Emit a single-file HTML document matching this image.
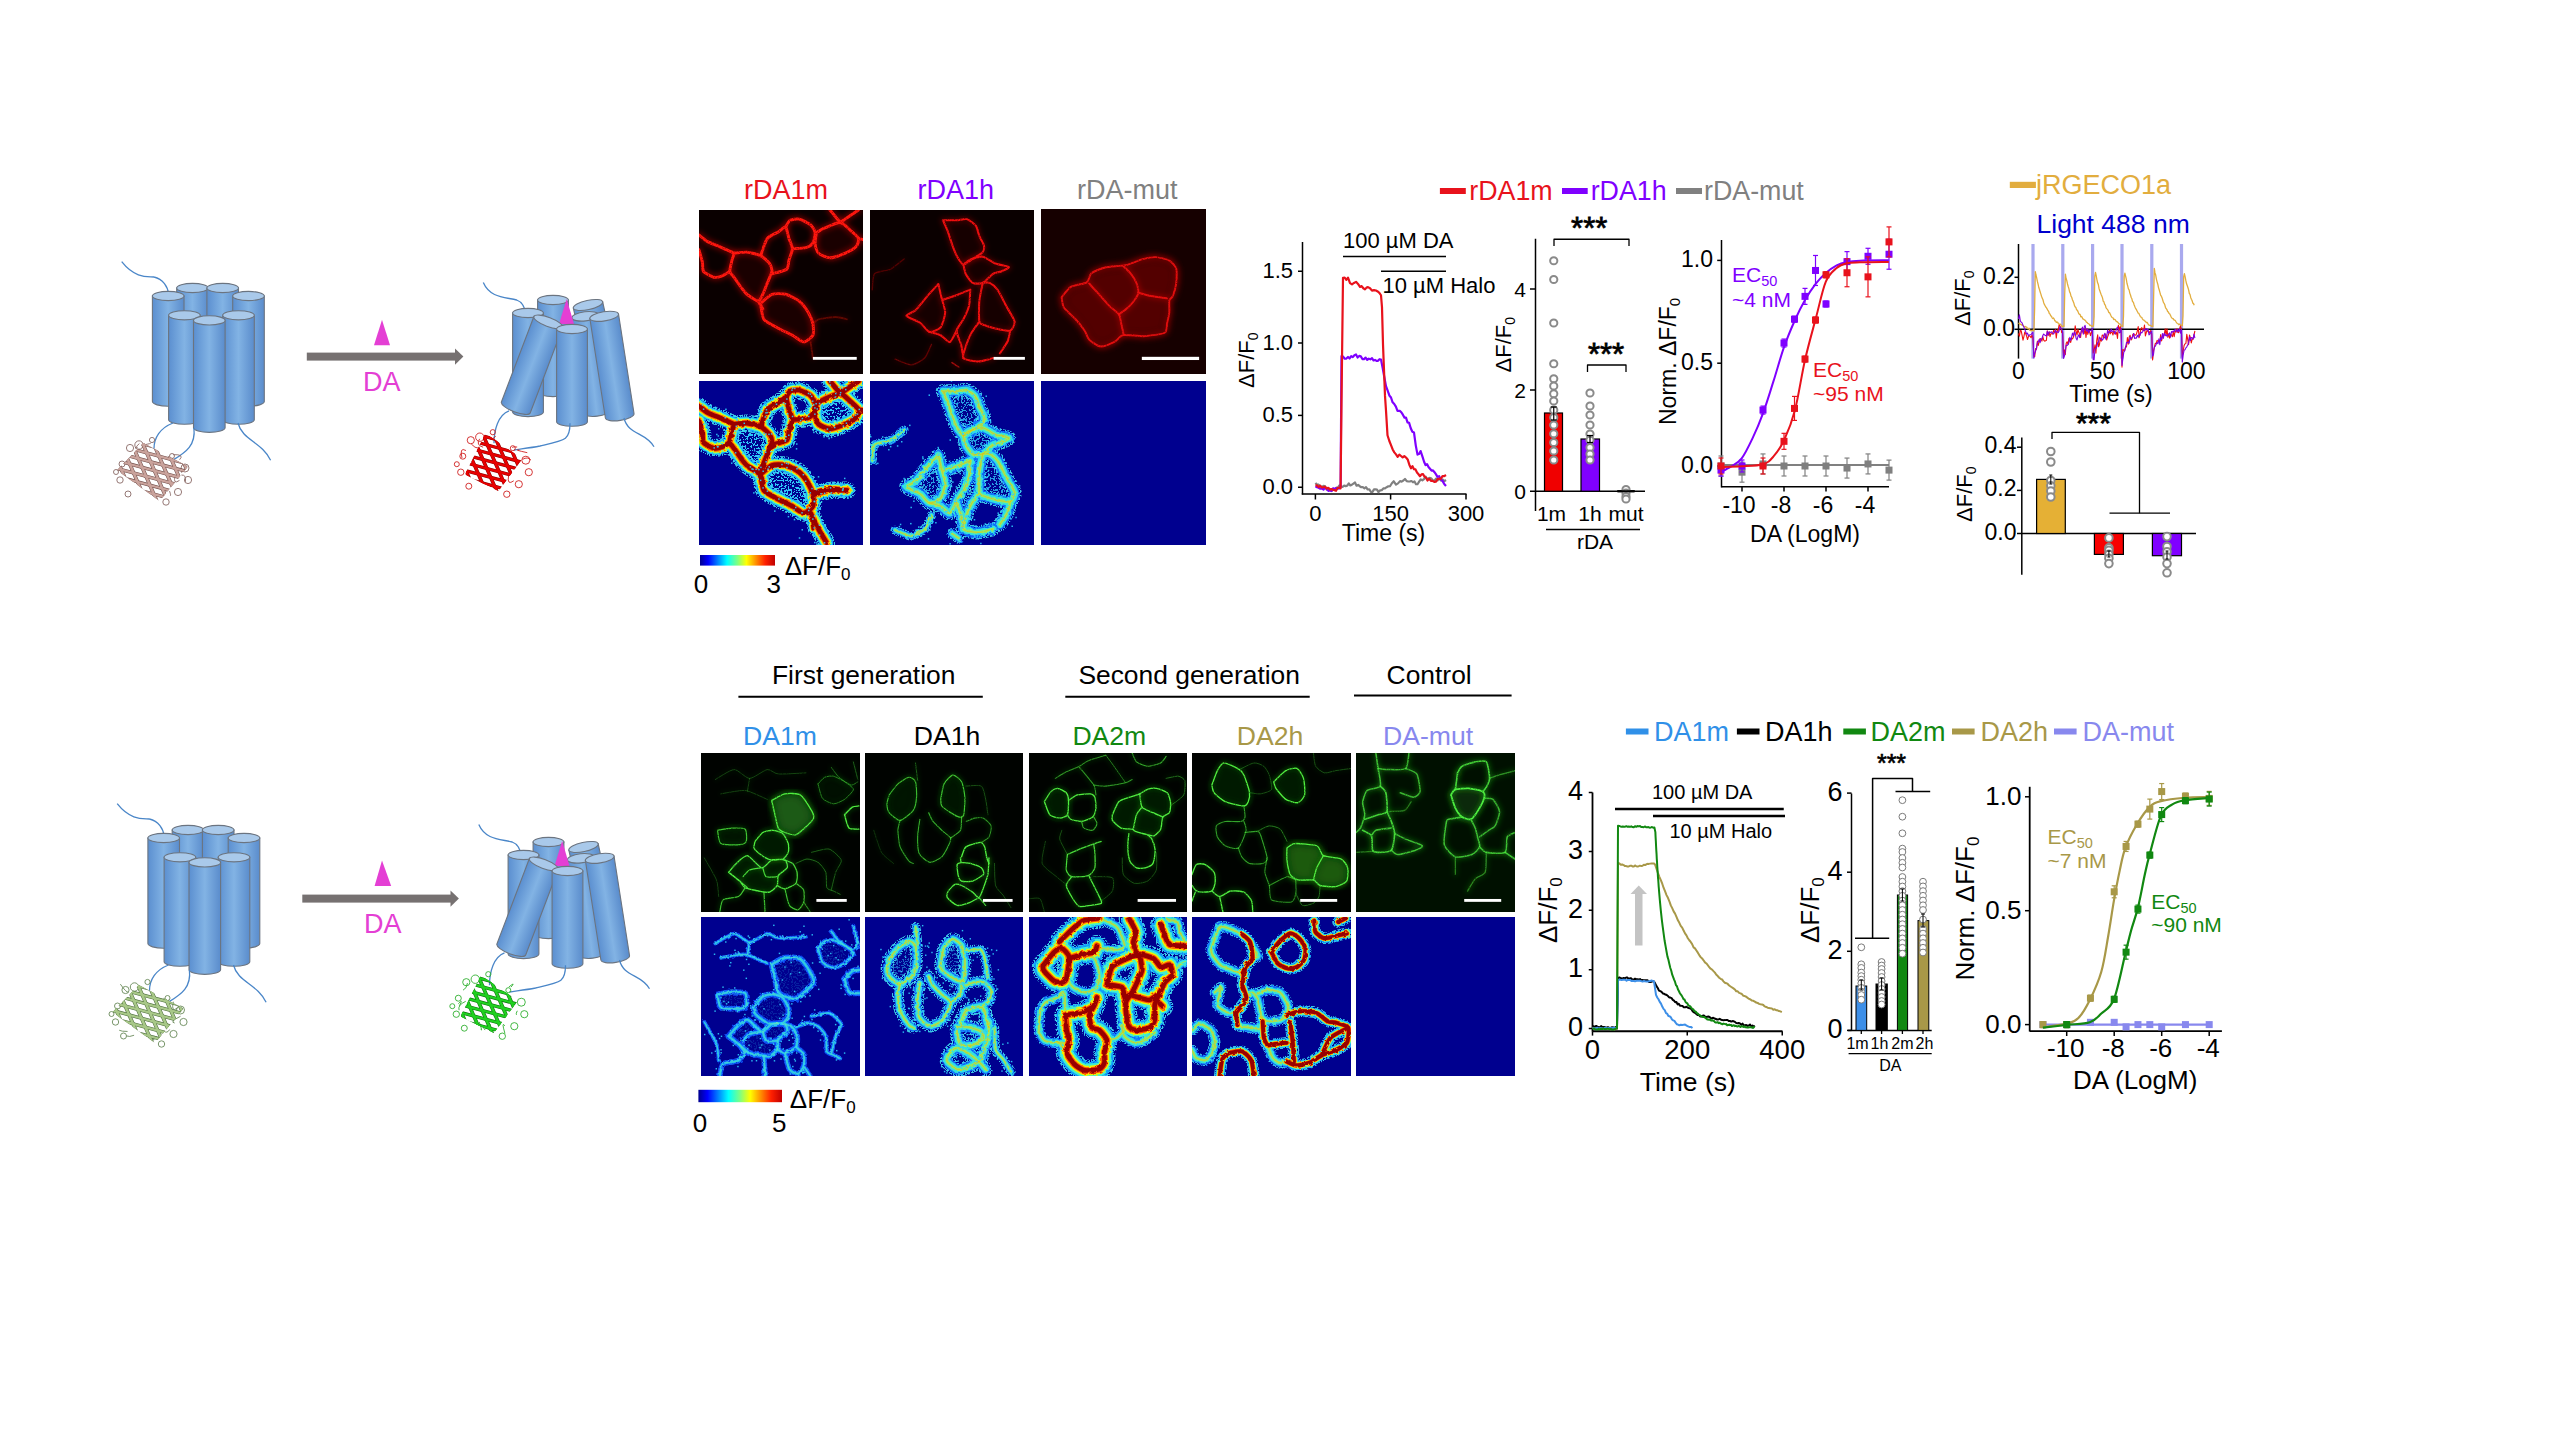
<!DOCTYPE html>
<html><head><meta charset="utf-8"><title>figure</title>
<style>
html,body{margin:0;padding:0;background:#fff;width:2560px;height:1440px;overflow:hidden;}
svg text{font-family:"Liberation Sans", sans-serif;}
</style></head><body>
<svg width="2560" height="1440" viewBox="0 0 2560 1440" style="display:block;font-family:&quot;Liberation Sans&quot;, sans-serif">
<rect width="2560" height="1440" fill="#fff"/>
<defs>
<linearGradient id="jet" x1="0" y1="0" x2="1" y2="0">
<stop offset="0" stop-color="#00008f"/><stop offset="0.11" stop-color="#0000ff"/><stop offset="0.36" stop-color="#00ffff"/>
<stop offset="0.5" stop-color="#80ff80"/><stop offset="0.62" stop-color="#ffff00"/><stop offset="0.87" stop-color="#ff2000"/>
<stop offset="1" stop-color="#c00000"/></linearGradient>
<filter id="blur20" x="-10%" y="-10%" width="120%" height="120%"><feGaussianBlur stdDeviation="22"/></filter>
<filter id="blur30" x="-10%" y="-10%" width="120%" height="120%"><feGaussianBlur stdDeviation="40"/></filter>
<filter id="blur4" x="-10%" y="-10%" width="120%" height="120%"><feGaussianBlur stdDeviation="4"/></filter>
<filter id="rough" x="-10%" y="-10%" width="120%" height="120%"><feTurbulence type="fractalNoise" baseFrequency="0.03" numOctaves="2" seed="3" result="n"/><feDisplacementMap in="SourceGraphic" in2="n" scale="30"/></filter>
<pattern id="spk" width="140" height="140" patternUnits="userSpaceOnUse">
<rect x="12" y="20" width="14" height="14" fill="#30d0ff"/><rect x="70" y="8" width="12" height="12" fill="#40e8e0"/>
<rect x="110" y="55" width="14" height="14" fill="#30c0ff"/><rect x="40" y="70" width="13" height="13" fill="#50f0c0"/>
<rect x="90" y="110" width="14" height="14" fill="#30d0ff"/><rect x="8" y="115" width="12" height="12" fill="#2090ff"/>
<rect x="60" y="40" width="10" height="10" fill="#2080ff"/><rect x="125" y="125" width="10" height="10" fill="#40e0ff"/>
</pattern>
<filter id="speckA" x="0" y="0" width="1440" height="1440" filterUnits="userSpaceOnUse"><feTurbulence type="fractalNoise" baseFrequency="0.06" numOctaves="2" seed="5" result="t"/>
<feColorMatrix in="t" type="matrix" values="0 0 0 0 0  0 0 0 0 0  0 0 0 0 0  1 0 0 0 0" result="ta"/>
<feComponentTransfer in="ta" result="m"><feFuncA type="discrete" tableValues="0 0 0 0 0 0 0 0 0 0 0 1 1 1 1 1 1 1 1 1"/></feComponentTransfer>
<feComposite in="SourceGraphic" in2="m" operator="in"/></filter>
<filter id="speckB" x="0" y="0" width="1440" height="1440" filterUnits="userSpaceOnUse"><feTurbulence type="fractalNoise" baseFrequency="0.07" numOctaves="2" seed="9" result="t"/>
<feColorMatrix in="t" type="matrix" values="0 0 0 0 0  0 0 0 0 0  0 0 0 0 0  1 0 0 0 0" result="ta"/>
<feComponentTransfer in="ta" result="m"><feFuncA type="discrete" tableValues="0 0 0 0 0 1 1 1 1 1"/></feComponentTransfer>
<feComposite in="SourceGraphic" in2="m" operator="in"/></filter>
<filter id="grain" x="0" y="0" width="1440" height="1440" filterUnits="userSpaceOnUse"><feGaussianBlur in="SourceGraphic" stdDeviation="4" result="b"/>
<feTurbulence type="fractalNoise" baseFrequency="0.09" numOctaves="2" seed="4" result="t"/>
<feColorMatrix in="t" type="matrix" values="0 0 0 0 0  0 0 0 0 0  0 0 0 0 0  2.0 0 0 0 0.0" result="m"/>
<feComposite in="b" in2="m" operator="in"/></filter>
</defs>
<path d="M121.7 261.7 C136 280 150 276 154 277 C163 279 168 287 168.6 294.2" fill="none" stroke="#4a86c8" stroke-width="1.3"/><linearGradient id="cg1" gradientUnits="userSpaceOnUse" x1="176.7" y1="288" x2="208.3" y2="288"><stop offset="0" stop-color="#5b8fd0"/><stop offset="0.5" stop-color="#82b3e4"/><stop offset="1" stop-color="#5a8ccc"/></linearGradient><path d="M176.7 288 L176.7 395 A15.8 4.6 360 0 0 208.3 395 L208.3 288 Z" fill="url(#cg1)" stroke="#6b7480" stroke-width="1.1"/><ellipse cx="192.5" cy="288" rx="15.8" ry="4.6" transform="rotate(360 192.5 288)" fill="#a9c9ea" stroke="#6b7480" stroke-width="1.1"/><linearGradient id="cg2" gradientUnits="userSpaceOnUse" x1="206.9" y1="288" x2="238.5" y2="288"><stop offset="0" stop-color="#5b8fd0"/><stop offset="0.5" stop-color="#82b3e4"/><stop offset="1" stop-color="#5a8ccc"/></linearGradient><path d="M206.9 288 L206.9 395 A15.8 4.6 360 0 0 238.5 395 L238.5 288 Z" fill="url(#cg2)" stroke="#6b7480" stroke-width="1.1"/><ellipse cx="222.7" cy="288" rx="15.8" ry="4.6" transform="rotate(360 222.7 288)" fill="#a9c9ea" stroke="#6b7480" stroke-width="1.1"/><linearGradient id="cg3" gradientUnits="userSpaceOnUse" x1="152.4" y1="296" x2="184" y2="296"><stop offset="0" stop-color="#5b8fd0"/><stop offset="0.5" stop-color="#82b3e4"/><stop offset="1" stop-color="#5a8ccc"/></linearGradient><path d="M152.4 296 L152.4 401.6 A15.8 4.6 360 0 0 184 401.6 L184 296 Z" fill="url(#cg3)" stroke="#6b7480" stroke-width="1.1"/><ellipse cx="168.2" cy="296" rx="15.8" ry="4.6" transform="rotate(360 168.2 296)" fill="#a9c9ea" stroke="#6b7480" stroke-width="1.1"/><linearGradient id="cg4" gradientUnits="userSpaceOnUse" x1="232.7" y1="296" x2="264.3" y2="296"><stop offset="0" stop-color="#5b8fd0"/><stop offset="0.5" stop-color="#82b3e4"/><stop offset="1" stop-color="#5a8ccc"/></linearGradient><path d="M232.7 296 L232.7 401.6 A15.8 4.6 360 0 0 264.3 401.6 L264.3 296 Z" fill="url(#cg4)" stroke="#6b7480" stroke-width="1.1"/><ellipse cx="248.5" cy="296" rx="15.8" ry="4.6" transform="rotate(360 248.5 296)" fill="#a9c9ea" stroke="#6b7480" stroke-width="1.1"/><linearGradient id="cg5" gradientUnits="userSpaceOnUse" x1="168.6" y1="315.3" x2="200.2" y2="315.3"><stop offset="0" stop-color="#5b8fd0"/><stop offset="0.5" stop-color="#82b3e4"/><stop offset="1" stop-color="#5a8ccc"/></linearGradient><path d="M168.6 315.3 L168.6 419.7 A15.8 4.6 360 0 0 200.2 419.7 L200.2 315.3 Z" fill="url(#cg5)" stroke="#6b7480" stroke-width="1.1"/><ellipse cx="184.4" cy="315.3" rx="15.8" ry="4.6" transform="rotate(360 184.4 315.3)" fill="#a9c9ea" stroke="#6b7480" stroke-width="1.1"/><linearGradient id="cg6" gradientUnits="userSpaceOnUse" x1="222.7" y1="315.3" x2="254.3" y2="315.3"><stop offset="0" stop-color="#5b8fd0"/><stop offset="0.5" stop-color="#82b3e4"/><stop offset="1" stop-color="#5a8ccc"/></linearGradient><path d="M222.7 315.3 L222.7 419.7 A15.8 4.6 360 0 0 254.3 419.7 L254.3 315.3 Z" fill="url(#cg6)" stroke="#6b7480" stroke-width="1.1"/><ellipse cx="238.5" cy="315.3" rx="15.8" ry="4.6" transform="rotate(360 238.5 315.3)" fill="#a9c9ea" stroke="#6b7480" stroke-width="1.1"/><linearGradient id="cg7" gradientUnits="userSpaceOnUse" x1="193.5" y1="320.4" x2="225.1" y2="320.4"><stop offset="0" stop-color="#5b8fd0"/><stop offset="0.5" stop-color="#82b3e4"/><stop offset="1" stop-color="#5a8ccc"/></linearGradient><path d="M193.5 320.4 L193.5 427.8 A15.8 4.6 360 0 0 225.1 427.8 L225.1 320.4 Z" fill="url(#cg7)" stroke="#6b7480" stroke-width="1.1"/><ellipse cx="209.3" cy="320.4" rx="15.8" ry="4.6" transform="rotate(360 209.3 320.4)" fill="#a9c9ea" stroke="#6b7480" stroke-width="1.1"/><path d="M173 423 C160 428 154 438 154 448.6" fill="none" stroke="#4a86c8" stroke-width="1.3"/><path d="M193.9 428 C196 445 186 452 174 459.4" fill="none" stroke="#4a86c8" stroke-width="1.3"/><path d="M238 423 C242 440 262 442 270.6 460.3" fill="none" stroke="#4a86c8" stroke-width="1.3"/><clipPath id="bclip1"><path d="M143.3 443 L188 466.6 L159.6 501 L117 470.2 Z"/></clipPath><g fill="none" stroke="#8a6a66" stroke-width="0.9"><circle cx="130" cy="448" r="3.6"/><circle cx="139" cy="445" r="4.2"/><circle cx="122" cy="464" r="3"/><circle cx="120" cy="480" r="3.2"/><circle cx="128" cy="494" r="3"/><circle cx="185" cy="468" r="4"/><circle cx="188" cy="480" r="3.6"/><circle cx="178" cy="492" r="3.6"/><circle cx="166" cy="502" r="3.2"/><circle cx="152" cy="440" r="2.6"/><circle cx="172" cy="456" r="2.5"/><circle cx="116" cy="472" r="2.5"/><path d="M154.27 495.93 q 0.62 -1.82 1.87 2.26"/><path d="M179.49 480.4 q -6.82 4.72 -4.33 -4.78"/><path d="M181.99 469.28 q -0.42 4.71 -0.43 2.5"/><path d="M169.54 491.09 q 1.89 5.15 0.42 4.34"/><path d="M137.78 447.11 q -6.1 3.62 1.64 -3.58"/><path d="M181.43 475.03 q 5.12 -0.38 3.94 6.82"/><path d="M145.29 444.66 q 5.9 -1.47 5.42 -1"/><path d="M179.57 459.76 q 5.3 -5.64 -6.55 -5.09"/></g><g clip-path="url(#bclip1)" stroke-linecap="butt"><line x1="101.94" y1="425.03" x2="217.86" y2="456.23" stroke="#6e4a46" stroke-width="3.3"/><line x1="99.97" y1="432.38" x2="215.89" y2="463.58" stroke="#6e4a46" stroke-width="3.3"/><line x1="97.99" y1="439.72" x2="213.91" y2="470.92" stroke="#6e4a46" stroke-width="3.3"/><line x1="96.02" y1="447.06" x2="211.94" y2="478.26" stroke="#6e4a46" stroke-width="3.3"/><line x1="94.04" y1="454.4" x2="209.96" y2="485.6" stroke="#6e4a46" stroke-width="3.3"/><line x1="92.06" y1="461.74" x2="207.98" y2="492.94" stroke="#6e4a46" stroke-width="3.3"/><line x1="90.09" y1="469.08" x2="206.01" y2="500.28" stroke="#6e4a46" stroke-width="3.3"/><line x1="88.11" y1="476.42" x2="204.03" y2="507.62" stroke="#6e4a46" stroke-width="3.3"/><line x1="86.14" y1="483.77" x2="202.06" y2="514.97" stroke="#6e4a46" stroke-width="3.3"/><line x1="102.35" y1="426.24" x2="150.35" y2="536.16" stroke="#6e4a46" stroke-width="3.6"/><line x1="111.51" y1="422.24" x2="159.51" y2="532.16" stroke="#6e4a46" stroke-width="3.6"/><line x1="120.67" y1="418.24" x2="168.67" y2="528.16" stroke="#6e4a46" stroke-width="3.6"/><line x1="129.83" y1="414.24" x2="177.83" y2="524.16" stroke="#6e4a46" stroke-width="3.6"/><line x1="138.99" y1="410.24" x2="186.99" y2="520.16" stroke="#6e4a46" stroke-width="3.6"/><line x1="148.15" y1="406.24" x2="196.15" y2="516.16" stroke="#6e4a46" stroke-width="3.6"/><line x1="157.31" y1="402.24" x2="205.31" y2="512.16" stroke="#6e4a46" stroke-width="3.6"/><line x1="101.94" y1="425.03" x2="217.86" y2="456.23" stroke="#caa39c" stroke-width="2.3"/><line x1="99.97" y1="432.38" x2="215.89" y2="463.58" stroke="#caa39c" stroke-width="2.3"/><line x1="97.99" y1="439.72" x2="213.91" y2="470.92" stroke="#caa39c" stroke-width="2.3"/><line x1="96.02" y1="447.06" x2="211.94" y2="478.26" stroke="#caa39c" stroke-width="2.3"/><line x1="94.04" y1="454.4" x2="209.96" y2="485.6" stroke="#caa39c" stroke-width="2.3"/><line x1="92.06" y1="461.74" x2="207.98" y2="492.94" stroke="#caa39c" stroke-width="2.3"/><line x1="90.09" y1="469.08" x2="206.01" y2="500.28" stroke="#caa39c" stroke-width="2.3"/><line x1="88.11" y1="476.42" x2="204.03" y2="507.62" stroke="#caa39c" stroke-width="2.3"/><line x1="86.14" y1="483.77" x2="202.06" y2="514.97" stroke="#caa39c" stroke-width="2.3"/><line x1="102.35" y1="426.24" x2="150.35" y2="536.16" stroke="#caa39c" stroke-width="2.6"/><line x1="111.51" y1="422.24" x2="159.51" y2="532.16" stroke="#caa39c" stroke-width="2.6"/><line x1="120.67" y1="418.24" x2="168.67" y2="528.16" stroke="#caa39c" stroke-width="2.6"/><line x1="129.83" y1="414.24" x2="177.83" y2="524.16" stroke="#caa39c" stroke-width="2.6"/><line x1="138.99" y1="410.24" x2="186.99" y2="520.16" stroke="#caa39c" stroke-width="2.6"/><line x1="148.15" y1="406.24" x2="196.15" y2="516.16" stroke="#caa39c" stroke-width="2.6"/><line x1="157.31" y1="402.24" x2="205.31" y2="512.16" stroke="#caa39c" stroke-width="2.6"/></g><rect x="306.8" y="352.6" width="150" height="8" fill="#767171"/><path d="M455 348.5 L463.4 356.6 L455 364.7 Z" fill="#767171"/><path d="M382 319.7 L374 345.3 L390 345.3 Z" fill="#e43fd4"/><text x="363" y="390.7" font-size="27" fill="#e43fd4" text-anchor="start">DA</text><path d="M483.3 282.5 C490 298 505 297 516.7 300 C522 302 525 308 525.8 314" fill="none" stroke="#4a86c8" stroke-width="1.3"/><linearGradient id="cg8" gradientUnits="userSpaceOnUse" x1="573.35" y1="308.22" x2="602.65" y2="301.78"><stop offset="0" stop-color="#5b8fd0"/><stop offset="0.5" stop-color="#82b3e4"/><stop offset="1" stop-color="#5a8ccc"/></linearGradient><path d="M573.35 308.22 L595.35 408.22 A15 4.6 347.59 0 0 624.65 401.78 L602.65 301.78 Z" fill="url(#cg8)" stroke="#6b7480" stroke-width="1.1"/><ellipse cx="588" cy="305" rx="15" ry="4.6" transform="rotate(347.59 588 305)" fill="#a9c9ea" stroke="#6b7480" stroke-width="1.1"/><linearGradient id="cg9" gradientUnits="userSpaceOnUse" x1="537.6" y1="300" x2="568.4" y2="300"><stop offset="0" stop-color="#5b8fd0"/><stop offset="0.5" stop-color="#82b3e4"/><stop offset="1" stop-color="#5a8ccc"/></linearGradient><path d="M537.6 300 L537.6 392 A15.4 4.6 360 0 0 568.4 392 L568.4 300 Z" fill="url(#cg9)" stroke="#6b7480" stroke-width="1.1"/><ellipse cx="553" cy="300" rx="15.4" ry="4.6" transform="rotate(360 553 300)" fill="#a9c9ea" stroke="#6b7480" stroke-width="1.1"/><linearGradient id="cg10" gradientUnits="userSpaceOnUse" x1="512.6" y1="313" x2="543.4" y2="313"><stop offset="0" stop-color="#5b8fd0"/><stop offset="0.5" stop-color="#82b3e4"/><stop offset="1" stop-color="#5a8ccc"/></linearGradient><path d="M512.6 313 L512.6 412 A15.4 4.6 360 0 0 543.4 412 L543.4 313 Z" fill="url(#cg10)" stroke="#6b7480" stroke-width="1.1"/><ellipse cx="528" cy="313" rx="15.4" ry="4.6" transform="rotate(360 528 313)" fill="#a9c9ea" stroke="#6b7480" stroke-width="1.1"/><linearGradient id="cg11" gradientUnits="userSpaceOnUse" x1="571.9" y1="317.9" x2="598.7" y2="314.7"><stop offset="0" stop-color="#5b8fd0"/><stop offset="0.5" stop-color="#82b3e4"/><stop offset="1" stop-color="#5a8ccc"/></linearGradient><path d="M571.9 317.9 L583.3 413.3 A13.5 4.6 353.19 0 0 610.1 410.1 L598.7 314.7 Z" fill="url(#cg11)" stroke="#6b7480" stroke-width="1.1"/><ellipse cx="585.3" cy="316.3" rx="13.5" ry="4.6" transform="rotate(353.19 585.3 316.3)" fill="#a9c9ea" stroke="#6b7480" stroke-width="1.1"/><path d="M566.7 299 L559 324 L574 324 Z" fill="#e43fd4"/><linearGradient id="cg12" gradientUnits="userSpaceOnUse" x1="533.9" y1="316.53" x2="562.7" y2="327.47"><stop offset="0" stop-color="#5b8fd0"/><stop offset="0.5" stop-color="#82b3e4"/><stop offset="1" stop-color="#5a8ccc"/></linearGradient><path d="M533.9 316.53 L501.4 402.03 A15.4 4.6 20.81 0 0 530.2 412.97 L562.7 327.47 Z" fill="url(#cg12)" stroke="#6b7480" stroke-width="1.1"/><ellipse cx="548.3" cy="322" rx="15.4" ry="4.6" transform="rotate(20.81 548.3 322)" fill="#a9c9ea" stroke="#6b7480" stroke-width="1.1"/><linearGradient id="cg13" gradientUnits="userSpaceOnUse" x1="589.87" y1="318.53" x2="618.53" y2="314.07"><stop offset="0" stop-color="#5b8fd0"/><stop offset="0.5" stop-color="#82b3e4"/><stop offset="1" stop-color="#5a8ccc"/></linearGradient><path d="M589.87 318.53 L605.37 418.03 A14.5 4.6 351.15 0 0 634.03 413.57 L618.53 314.07 Z" fill="url(#cg13)" stroke="#6b7480" stroke-width="1.1"/><ellipse cx="604.2" cy="316.3" rx="14.5" ry="4.6" transform="rotate(351.15 604.2 316.3)" fill="#a9c9ea" stroke="#6b7480" stroke-width="1.1"/><linearGradient id="cg14" gradientUnits="userSpaceOnUse" x1="556.6" y1="329" x2="587.4" y2="329"><stop offset="0" stop-color="#5b8fd0"/><stop offset="0.5" stop-color="#82b3e4"/><stop offset="1" stop-color="#5a8ccc"/></linearGradient><path d="M556.6 329 L556.6 421.7 A15.4 4.6 360 0 0 587.4 421.7 L587.4 329 Z" fill="url(#cg14)" stroke="#6b7480" stroke-width="1.1"/><ellipse cx="572" cy="329" rx="15.4" ry="4.6" transform="rotate(360 572 329)" fill="#a9c9ea" stroke="#6b7480" stroke-width="1.1"/><path d="M509 410.8 C498 415 494 430 494 443.3" fill="none" stroke="#4a86c8" stroke-width="1.3"/><path d="M570 423.3 C570 440 566 440 540 446 C530 448 520 449 514 450" fill="none" stroke="#4a86c8" stroke-width="1.3"/><path d="M624 418 C628 435 646 432 654 446.7" fill="none" stroke="#4a86c8" stroke-width="1.3"/><clipPath id="bclip2"><path d="M485.6 433.3 L522.2 458.9 L498.4 491.1 L465 474.4 Z"/></clipPath><g fill="none" stroke="#d02020" stroke-width="0.9"><circle cx="470.8" cy="440.2" r="3.6"/><circle cx="479.8" cy="437.2" r="4.2"/><circle cx="462.8" cy="456.2" r="3"/><circle cx="460.8" cy="472.2" r="3.2"/><circle cx="468.8" cy="486.2" r="3"/><circle cx="525.8" cy="460.2" r="4"/><circle cx="528.8" cy="472.2" r="3.6"/><circle cx="518.8" cy="484.2" r="3.6"/><circle cx="506.8" cy="494.2" r="3.2"/><circle cx="492.8" cy="432.2" r="2.6"/><circle cx="512.8" cy="448.2" r="2.5"/><circle cx="456.8" cy="464.2" r="2.5"/><path d="M471.31 444.06 q 3.39 4.13 7.96 4.32"/><path d="M519.3 450 q -6.59 -0.48 7.98 2.68"/><path d="M517.17 447.03 q -5.42 -0.43 -4.56 0.79"/><path d="M465.98 450.55 q -6.82 -3.97 -3.97 7.49"/><path d="M495.76 436.33 q -4.77 4.16 -6.5 2.11"/><path d="M513.79 480.78 q -6.98 5.2 -5.23 -5.12"/><path d="M522.62 459.33 q 5.21 -2.95 8.31 0.71"/><path d="M479.65 438.83 q -4.13 6.17 3.43 8.4"/></g><g clip-path="url(#bclip2)" stroke-linecap="butt"><line x1="442.74" y1="417.23" x2="558.66" y2="448.43" stroke="#8a0000" stroke-width="3.3"/><line x1="440.77" y1="424.58" x2="556.69" y2="455.78" stroke="#8a0000" stroke-width="3.3"/><line x1="438.79" y1="431.92" x2="554.71" y2="463.12" stroke="#8a0000" stroke-width="3.3"/><line x1="436.82" y1="439.26" x2="552.74" y2="470.46" stroke="#8a0000" stroke-width="3.3"/><line x1="434.84" y1="446.6" x2="550.76" y2="477.8" stroke="#8a0000" stroke-width="3.3"/><line x1="432.86" y1="453.94" x2="548.78" y2="485.14" stroke="#8a0000" stroke-width="3.3"/><line x1="430.89" y1="461.28" x2="546.81" y2="492.48" stroke="#8a0000" stroke-width="3.3"/><line x1="428.91" y1="468.62" x2="544.83" y2="499.82" stroke="#8a0000" stroke-width="3.3"/><line x1="426.94" y1="475.97" x2="542.86" y2="507.17" stroke="#8a0000" stroke-width="3.3"/><line x1="443.15" y1="418.44" x2="491.15" y2="528.36" stroke="#8a0000" stroke-width="3.6"/><line x1="452.31" y1="414.44" x2="500.31" y2="524.36" stroke="#8a0000" stroke-width="3.6"/><line x1="461.47" y1="410.44" x2="509.47" y2="520.36" stroke="#8a0000" stroke-width="3.6"/><line x1="470.63" y1="406.44" x2="518.63" y2="516.36" stroke="#8a0000" stroke-width="3.6"/><line x1="479.79" y1="402.44" x2="527.79" y2="512.36" stroke="#8a0000" stroke-width="3.6"/><line x1="488.95" y1="398.44" x2="536.95" y2="508.36" stroke="#8a0000" stroke-width="3.6"/><line x1="498.11" y1="394.44" x2="546.11" y2="504.36" stroke="#8a0000" stroke-width="3.6"/><line x1="442.74" y1="417.23" x2="558.66" y2="448.43" stroke="#e80000" stroke-width="2.3"/><line x1="440.77" y1="424.58" x2="556.69" y2="455.78" stroke="#e80000" stroke-width="2.3"/><line x1="438.79" y1="431.92" x2="554.71" y2="463.12" stroke="#e80000" stroke-width="2.3"/><line x1="436.82" y1="439.26" x2="552.74" y2="470.46" stroke="#e80000" stroke-width="2.3"/><line x1="434.84" y1="446.6" x2="550.76" y2="477.8" stroke="#e80000" stroke-width="2.3"/><line x1="432.86" y1="453.94" x2="548.78" y2="485.14" stroke="#e80000" stroke-width="2.3"/><line x1="430.89" y1="461.28" x2="546.81" y2="492.48" stroke="#e80000" stroke-width="2.3"/><line x1="428.91" y1="468.62" x2="544.83" y2="499.82" stroke="#e80000" stroke-width="2.3"/><line x1="426.94" y1="475.97" x2="542.86" y2="507.17" stroke="#e80000" stroke-width="2.3"/><line x1="443.15" y1="418.44" x2="491.15" y2="528.36" stroke="#e80000" stroke-width="2.6"/><line x1="452.31" y1="414.44" x2="500.31" y2="524.36" stroke="#e80000" stroke-width="2.6"/><line x1="461.47" y1="410.44" x2="509.47" y2="520.36" stroke="#e80000" stroke-width="2.6"/><line x1="470.63" y1="406.44" x2="518.63" y2="516.36" stroke="#e80000" stroke-width="2.6"/><line x1="479.79" y1="402.44" x2="527.79" y2="512.36" stroke="#e80000" stroke-width="2.6"/><line x1="488.95" y1="398.44" x2="536.95" y2="508.36" stroke="#e80000" stroke-width="2.6"/><line x1="498.11" y1="394.44" x2="546.11" y2="504.36" stroke="#e80000" stroke-width="2.6"/></g>
<g transform="translate(-4.5,542)"><path d="M121.7 261.7 C136 280 150 276 154 277 C163 279 168 287 168.6 294.2" fill="none" stroke="#4a86c8" stroke-width="1.3"/><linearGradient id="cg15" gradientUnits="userSpaceOnUse" x1="176.7" y1="288" x2="208.3" y2="288"><stop offset="0" stop-color="#5b8fd0"/><stop offset="0.5" stop-color="#82b3e4"/><stop offset="1" stop-color="#5a8ccc"/></linearGradient><path d="M176.7 288 L176.7 395 A15.8 4.6 360 0 0 208.3 395 L208.3 288 Z" fill="url(#cg15)" stroke="#6b7480" stroke-width="1.1"/><ellipse cx="192.5" cy="288" rx="15.8" ry="4.6" transform="rotate(360 192.5 288)" fill="#a9c9ea" stroke="#6b7480" stroke-width="1.1"/><linearGradient id="cg16" gradientUnits="userSpaceOnUse" x1="206.9" y1="288" x2="238.5" y2="288"><stop offset="0" stop-color="#5b8fd0"/><stop offset="0.5" stop-color="#82b3e4"/><stop offset="1" stop-color="#5a8ccc"/></linearGradient><path d="M206.9 288 L206.9 395 A15.8 4.6 360 0 0 238.5 395 L238.5 288 Z" fill="url(#cg16)" stroke="#6b7480" stroke-width="1.1"/><ellipse cx="222.7" cy="288" rx="15.8" ry="4.6" transform="rotate(360 222.7 288)" fill="#a9c9ea" stroke="#6b7480" stroke-width="1.1"/><linearGradient id="cg17" gradientUnits="userSpaceOnUse" x1="152.4" y1="296" x2="184" y2="296"><stop offset="0" stop-color="#5b8fd0"/><stop offset="0.5" stop-color="#82b3e4"/><stop offset="1" stop-color="#5a8ccc"/></linearGradient><path d="M152.4 296 L152.4 401.6 A15.8 4.6 360 0 0 184 401.6 L184 296 Z" fill="url(#cg17)" stroke="#6b7480" stroke-width="1.1"/><ellipse cx="168.2" cy="296" rx="15.8" ry="4.6" transform="rotate(360 168.2 296)" fill="#a9c9ea" stroke="#6b7480" stroke-width="1.1"/><linearGradient id="cg18" gradientUnits="userSpaceOnUse" x1="232.7" y1="296" x2="264.3" y2="296"><stop offset="0" stop-color="#5b8fd0"/><stop offset="0.5" stop-color="#82b3e4"/><stop offset="1" stop-color="#5a8ccc"/></linearGradient><path d="M232.7 296 L232.7 401.6 A15.8 4.6 360 0 0 264.3 401.6 L264.3 296 Z" fill="url(#cg18)" stroke="#6b7480" stroke-width="1.1"/><ellipse cx="248.5" cy="296" rx="15.8" ry="4.6" transform="rotate(360 248.5 296)" fill="#a9c9ea" stroke="#6b7480" stroke-width="1.1"/><linearGradient id="cg19" gradientUnits="userSpaceOnUse" x1="168.6" y1="315.3" x2="200.2" y2="315.3"><stop offset="0" stop-color="#5b8fd0"/><stop offset="0.5" stop-color="#82b3e4"/><stop offset="1" stop-color="#5a8ccc"/></linearGradient><path d="M168.6 315.3 L168.6 419.7 A15.8 4.6 360 0 0 200.2 419.7 L200.2 315.3 Z" fill="url(#cg19)" stroke="#6b7480" stroke-width="1.1"/><ellipse cx="184.4" cy="315.3" rx="15.8" ry="4.6" transform="rotate(360 184.4 315.3)" fill="#a9c9ea" stroke="#6b7480" stroke-width="1.1"/><linearGradient id="cg20" gradientUnits="userSpaceOnUse" x1="222.7" y1="315.3" x2="254.3" y2="315.3"><stop offset="0" stop-color="#5b8fd0"/><stop offset="0.5" stop-color="#82b3e4"/><stop offset="1" stop-color="#5a8ccc"/></linearGradient><path d="M222.7 315.3 L222.7 419.7 A15.8 4.6 360 0 0 254.3 419.7 L254.3 315.3 Z" fill="url(#cg20)" stroke="#6b7480" stroke-width="1.1"/><ellipse cx="238.5" cy="315.3" rx="15.8" ry="4.6" transform="rotate(360 238.5 315.3)" fill="#a9c9ea" stroke="#6b7480" stroke-width="1.1"/><linearGradient id="cg21" gradientUnits="userSpaceOnUse" x1="193.5" y1="320.4" x2="225.1" y2="320.4"><stop offset="0" stop-color="#5b8fd0"/><stop offset="0.5" stop-color="#82b3e4"/><stop offset="1" stop-color="#5a8ccc"/></linearGradient><path d="M193.5 320.4 L193.5 427.8 A15.8 4.6 360 0 0 225.1 427.8 L225.1 320.4 Z" fill="url(#cg21)" stroke="#6b7480" stroke-width="1.1"/><ellipse cx="209.3" cy="320.4" rx="15.8" ry="4.6" transform="rotate(360 209.3 320.4)" fill="#a9c9ea" stroke="#6b7480" stroke-width="1.1"/><path d="M173 423 C160 428 154 438 154 448.6" fill="none" stroke="#4a86c8" stroke-width="1.3"/><path d="M193.9 428 C196 445 186 452 174 459.4" fill="none" stroke="#4a86c8" stroke-width="1.3"/><path d="M238 423 C242 440 262 442 270.6 460.3" fill="none" stroke="#4a86c8" stroke-width="1.3"/><clipPath id="bclip3"><path d="M143.3 443 L188 466.6 L159.6 501 L117 470.2 Z"/></clipPath><g fill="none" stroke="#6a8a5a" stroke-width="0.9"><circle cx="130" cy="448" r="3.6"/><circle cx="139" cy="445" r="4.2"/><circle cx="122" cy="464" r="3"/><circle cx="120" cy="480" r="3.2"/><circle cx="128" cy="494" r="3"/><circle cx="185" cy="468" r="4"/><circle cx="188" cy="480" r="3.6"/><circle cx="178" cy="492" r="3.6"/><circle cx="166" cy="502" r="3.2"/><circle cx="152" cy="440" r="2.6"/><circle cx="172" cy="456" r="2.5"/><circle cx="116" cy="472" r="2.5"/><path d="M138.58 493.25 q -4.89 2.11 -7.7 0.65"/><path d="M132.06 489.43 q -6.19 0.1 -8.33 -1.19"/><path d="M179.16 481.05 q -5.73 -1.06 5.88 -6.77"/><path d="M157.02 495.63 q 1.78 6.27 1.39 -1.86"/><path d="M181.67 466.13 q -6.35 5.02 -3.79 -6.4"/><path d="M174.15 487.53 q -2.68 4.43 -5.75 1.47"/><path d="M132.72 450.08 q -1.79 0.67 -7.87 -7.93"/><path d="M160.2 495.01 q 2.53 -1.01 -3.35 1.54"/></g><g clip-path="url(#bclip3)" stroke-linecap="butt"><line x1="101.94" y1="425.03" x2="217.86" y2="456.23" stroke="#4a6a3a" stroke-width="3.3"/><line x1="99.97" y1="432.38" x2="215.89" y2="463.58" stroke="#4a6a3a" stroke-width="3.3"/><line x1="97.99" y1="439.72" x2="213.91" y2="470.92" stroke="#4a6a3a" stroke-width="3.3"/><line x1="96.02" y1="447.06" x2="211.94" y2="478.26" stroke="#4a6a3a" stroke-width="3.3"/><line x1="94.04" y1="454.4" x2="209.96" y2="485.6" stroke="#4a6a3a" stroke-width="3.3"/><line x1="92.06" y1="461.74" x2="207.98" y2="492.94" stroke="#4a6a3a" stroke-width="3.3"/><line x1="90.09" y1="469.08" x2="206.01" y2="500.28" stroke="#4a6a3a" stroke-width="3.3"/><line x1="88.11" y1="476.42" x2="204.03" y2="507.62" stroke="#4a6a3a" stroke-width="3.3"/><line x1="86.14" y1="483.77" x2="202.06" y2="514.97" stroke="#4a6a3a" stroke-width="3.3"/><line x1="102.35" y1="426.24" x2="150.35" y2="536.16" stroke="#4a6a3a" stroke-width="3.6"/><line x1="111.51" y1="422.24" x2="159.51" y2="532.16" stroke="#4a6a3a" stroke-width="3.6"/><line x1="120.67" y1="418.24" x2="168.67" y2="528.16" stroke="#4a6a3a" stroke-width="3.6"/><line x1="129.83" y1="414.24" x2="177.83" y2="524.16" stroke="#4a6a3a" stroke-width="3.6"/><line x1="138.99" y1="410.24" x2="186.99" y2="520.16" stroke="#4a6a3a" stroke-width="3.6"/><line x1="148.15" y1="406.24" x2="196.15" y2="516.16" stroke="#4a6a3a" stroke-width="3.6"/><line x1="157.31" y1="402.24" x2="205.31" y2="512.16" stroke="#4a6a3a" stroke-width="3.6"/><line x1="101.94" y1="425.03" x2="217.86" y2="456.23" stroke="#a8c888" stroke-width="2.3"/><line x1="99.97" y1="432.38" x2="215.89" y2="463.58" stroke="#a8c888" stroke-width="2.3"/><line x1="97.99" y1="439.72" x2="213.91" y2="470.92" stroke="#a8c888" stroke-width="2.3"/><line x1="96.02" y1="447.06" x2="211.94" y2="478.26" stroke="#a8c888" stroke-width="2.3"/><line x1="94.04" y1="454.4" x2="209.96" y2="485.6" stroke="#a8c888" stroke-width="2.3"/><line x1="92.06" y1="461.74" x2="207.98" y2="492.94" stroke="#a8c888" stroke-width="2.3"/><line x1="90.09" y1="469.08" x2="206.01" y2="500.28" stroke="#a8c888" stroke-width="2.3"/><line x1="88.11" y1="476.42" x2="204.03" y2="507.62" stroke="#a8c888" stroke-width="2.3"/><line x1="86.14" y1="483.77" x2="202.06" y2="514.97" stroke="#a8c888" stroke-width="2.3"/><line x1="102.35" y1="426.24" x2="150.35" y2="536.16" stroke="#a8c888" stroke-width="2.6"/><line x1="111.51" y1="422.24" x2="159.51" y2="532.16" stroke="#a8c888" stroke-width="2.6"/><line x1="120.67" y1="418.24" x2="168.67" y2="528.16" stroke="#a8c888" stroke-width="2.6"/><line x1="129.83" y1="414.24" x2="177.83" y2="524.16" stroke="#a8c888" stroke-width="2.6"/><line x1="138.99" y1="410.24" x2="186.99" y2="520.16" stroke="#a8c888" stroke-width="2.6"/><line x1="148.15" y1="406.24" x2="196.15" y2="516.16" stroke="#a8c888" stroke-width="2.6"/><line x1="157.31" y1="402.24" x2="205.31" y2="512.16" stroke="#a8c888" stroke-width="2.6"/></g><rect x="306.8" y="352.6" width="150" height="8" fill="#767171"/><path d="M455 348.5 L463.4 356.6 L455 364.7 Z" fill="#767171"/><path d="M483.3 282.5 C490 298 505 297 516.7 300 C522 302 525 308 525.8 314" fill="none" stroke="#4a86c8" stroke-width="1.3"/><linearGradient id="cg22" gradientUnits="userSpaceOnUse" x1="573.35" y1="308.22" x2="602.65" y2="301.78"><stop offset="0" stop-color="#5b8fd0"/><stop offset="0.5" stop-color="#82b3e4"/><stop offset="1" stop-color="#5a8ccc"/></linearGradient><path d="M573.35 308.22 L595.35 408.22 A15 4.6 347.59 0 0 624.65 401.78 L602.65 301.78 Z" fill="url(#cg22)" stroke="#6b7480" stroke-width="1.1"/><ellipse cx="588" cy="305" rx="15" ry="4.6" transform="rotate(347.59 588 305)" fill="#a9c9ea" stroke="#6b7480" stroke-width="1.1"/><linearGradient id="cg23" gradientUnits="userSpaceOnUse" x1="537.6" y1="300" x2="568.4" y2="300"><stop offset="0" stop-color="#5b8fd0"/><stop offset="0.5" stop-color="#82b3e4"/><stop offset="1" stop-color="#5a8ccc"/></linearGradient><path d="M537.6 300 L537.6 392 A15.4 4.6 360 0 0 568.4 392 L568.4 300 Z" fill="url(#cg23)" stroke="#6b7480" stroke-width="1.1"/><ellipse cx="553" cy="300" rx="15.4" ry="4.6" transform="rotate(360 553 300)" fill="#a9c9ea" stroke="#6b7480" stroke-width="1.1"/><linearGradient id="cg24" gradientUnits="userSpaceOnUse" x1="512.6" y1="313" x2="543.4" y2="313"><stop offset="0" stop-color="#5b8fd0"/><stop offset="0.5" stop-color="#82b3e4"/><stop offset="1" stop-color="#5a8ccc"/></linearGradient><path d="M512.6 313 L512.6 412 A15.4 4.6 360 0 0 543.4 412 L543.4 313 Z" fill="url(#cg24)" stroke="#6b7480" stroke-width="1.1"/><ellipse cx="528" cy="313" rx="15.4" ry="4.6" transform="rotate(360 528 313)" fill="#a9c9ea" stroke="#6b7480" stroke-width="1.1"/><linearGradient id="cg25" gradientUnits="userSpaceOnUse" x1="571.9" y1="317.9" x2="598.7" y2="314.7"><stop offset="0" stop-color="#5b8fd0"/><stop offset="0.5" stop-color="#82b3e4"/><stop offset="1" stop-color="#5a8ccc"/></linearGradient><path d="M571.9 317.9 L583.3 413.3 A13.5 4.6 353.19 0 0 610.1 410.1 L598.7 314.7 Z" fill="url(#cg25)" stroke="#6b7480" stroke-width="1.1"/><ellipse cx="585.3" cy="316.3" rx="13.5" ry="4.6" transform="rotate(353.19 585.3 316.3)" fill="#a9c9ea" stroke="#6b7480" stroke-width="1.1"/><path d="M566.7 299 L559 324 L574 324 Z" fill="#e43fd4"/><linearGradient id="cg26" gradientUnits="userSpaceOnUse" x1="533.9" y1="316.53" x2="562.7" y2="327.47"><stop offset="0" stop-color="#5b8fd0"/><stop offset="0.5" stop-color="#82b3e4"/><stop offset="1" stop-color="#5a8ccc"/></linearGradient><path d="M533.9 316.53 L501.4 402.03 A15.4 4.6 20.81 0 0 530.2 412.97 L562.7 327.47 Z" fill="url(#cg26)" stroke="#6b7480" stroke-width="1.1"/><ellipse cx="548.3" cy="322" rx="15.4" ry="4.6" transform="rotate(20.81 548.3 322)" fill="#a9c9ea" stroke="#6b7480" stroke-width="1.1"/><linearGradient id="cg27" gradientUnits="userSpaceOnUse" x1="589.87" y1="318.53" x2="618.53" y2="314.07"><stop offset="0" stop-color="#5b8fd0"/><stop offset="0.5" stop-color="#82b3e4"/><stop offset="1" stop-color="#5a8ccc"/></linearGradient><path d="M589.87 318.53 L605.37 418.03 A14.5 4.6 351.15 0 0 634.03 413.57 L618.53 314.07 Z" fill="url(#cg27)" stroke="#6b7480" stroke-width="1.1"/><ellipse cx="604.2" cy="316.3" rx="14.5" ry="4.6" transform="rotate(351.15 604.2 316.3)" fill="#a9c9ea" stroke="#6b7480" stroke-width="1.1"/><linearGradient id="cg28" gradientUnits="userSpaceOnUse" x1="556.6" y1="329" x2="587.4" y2="329"><stop offset="0" stop-color="#5b8fd0"/><stop offset="0.5" stop-color="#82b3e4"/><stop offset="1" stop-color="#5a8ccc"/></linearGradient><path d="M556.6 329 L556.6 421.7 A15.4 4.6 360 0 0 587.4 421.7 L587.4 329 Z" fill="url(#cg28)" stroke="#6b7480" stroke-width="1.1"/><ellipse cx="572" cy="329" rx="15.4" ry="4.6" transform="rotate(360 572 329)" fill="#a9c9ea" stroke="#6b7480" stroke-width="1.1"/><path d="M509 410.8 C498 415 494 430 494 443.3" fill="none" stroke="#4a86c8" stroke-width="1.3"/><path d="M570 423.3 C570 440 566 440 540 446 C530 448 520 449 514 450" fill="none" stroke="#4a86c8" stroke-width="1.3"/><path d="M624 418 C628 435 646 432 654 446.7" fill="none" stroke="#4a86c8" stroke-width="1.3"/><clipPath id="bclip4"><path d="M485.6 433.3 L522.2 458.9 L498.4 491.1 L465 474.4 Z"/></clipPath><g fill="none" stroke="#30b030" stroke-width="0.9"><circle cx="470.8" cy="440.2" r="3.6"/><circle cx="479.8" cy="437.2" r="4.2"/><circle cx="462.8" cy="456.2" r="3"/><circle cx="460.8" cy="472.2" r="3.2"/><circle cx="468.8" cy="486.2" r="3"/><circle cx="525.8" cy="460.2" r="4"/><circle cx="528.8" cy="472.2" r="3.6"/><circle cx="518.8" cy="484.2" r="3.6"/><circle cx="506.8" cy="494.2" r="3.2"/><circle cx="492.8" cy="432.2" r="2.6"/><circle cx="512.8" cy="448.2" r="2.5"/><circle cx="456.8" cy="464.2" r="2.5"/><path d="M463.61 468.19 q -1.77 -5.06 6.6 -8.88"/><path d="M462.8 461.75 q 5.58 -5.87 0.98 2.1"/><path d="M521.82 468.81 q -1.69 2.85 -0.86 4.05"/><path d="M509.33 483.9 q -3.67 -5.45 0.11 7.63"/><path d="M467.51 448.21 q 3.84 -1.63 4.43 -7.17"/><path d="M485.13 487.33 q 2.44 3.16 -1.41 -7.42"/><path d="M489.65 488.06 q -4.06 -3.06 5.57 -5.41"/><path d="M515.47 445.17 q 5.31 -6.23 -2.18 -0.15"/></g><g clip-path="url(#bclip4)" stroke-linecap="butt"><line x1="442.74" y1="417.23" x2="558.66" y2="448.43" stroke="#0a6a0a" stroke-width="3.3"/><line x1="440.77" y1="424.58" x2="556.69" y2="455.78" stroke="#0a6a0a" stroke-width="3.3"/><line x1="438.79" y1="431.92" x2="554.71" y2="463.12" stroke="#0a6a0a" stroke-width="3.3"/><line x1="436.82" y1="439.26" x2="552.74" y2="470.46" stroke="#0a6a0a" stroke-width="3.3"/><line x1="434.84" y1="446.6" x2="550.76" y2="477.8" stroke="#0a6a0a" stroke-width="3.3"/><line x1="432.86" y1="453.94" x2="548.78" y2="485.14" stroke="#0a6a0a" stroke-width="3.3"/><line x1="430.89" y1="461.28" x2="546.81" y2="492.48" stroke="#0a6a0a" stroke-width="3.3"/><line x1="428.91" y1="468.62" x2="544.83" y2="499.82" stroke="#0a6a0a" stroke-width="3.3"/><line x1="426.94" y1="475.97" x2="542.86" y2="507.17" stroke="#0a6a0a" stroke-width="3.3"/><line x1="443.15" y1="418.44" x2="491.15" y2="528.36" stroke="#0a6a0a" stroke-width="3.6"/><line x1="452.31" y1="414.44" x2="500.31" y2="524.36" stroke="#0a6a0a" stroke-width="3.6"/><line x1="461.47" y1="410.44" x2="509.47" y2="520.36" stroke="#0a6a0a" stroke-width="3.6"/><line x1="470.63" y1="406.44" x2="518.63" y2="516.36" stroke="#0a6a0a" stroke-width="3.6"/><line x1="479.79" y1="402.44" x2="527.79" y2="512.36" stroke="#0a6a0a" stroke-width="3.6"/><line x1="488.95" y1="398.44" x2="536.95" y2="508.36" stroke="#0a6a0a" stroke-width="3.6"/><line x1="498.11" y1="394.44" x2="546.11" y2="504.36" stroke="#0a6a0a" stroke-width="3.6"/><line x1="442.74" y1="417.23" x2="558.66" y2="448.43" stroke="#20d020" stroke-width="2.3"/><line x1="440.77" y1="424.58" x2="556.69" y2="455.78" stroke="#20d020" stroke-width="2.3"/><line x1="438.79" y1="431.92" x2="554.71" y2="463.12" stroke="#20d020" stroke-width="2.3"/><line x1="436.82" y1="439.26" x2="552.74" y2="470.46" stroke="#20d020" stroke-width="2.3"/><line x1="434.84" y1="446.6" x2="550.76" y2="477.8" stroke="#20d020" stroke-width="2.3"/><line x1="432.86" y1="453.94" x2="548.78" y2="485.14" stroke="#20d020" stroke-width="2.3"/><line x1="430.89" y1="461.28" x2="546.81" y2="492.48" stroke="#20d020" stroke-width="2.3"/><line x1="428.91" y1="468.62" x2="544.83" y2="499.82" stroke="#20d020" stroke-width="2.3"/><line x1="426.94" y1="475.97" x2="542.86" y2="507.17" stroke="#20d020" stroke-width="2.3"/><line x1="443.15" y1="418.44" x2="491.15" y2="528.36" stroke="#20d020" stroke-width="2.6"/><line x1="452.31" y1="414.44" x2="500.31" y2="524.36" stroke="#20d020" stroke-width="2.6"/><line x1="461.47" y1="410.44" x2="509.47" y2="520.36" stroke="#20d020" stroke-width="2.6"/><line x1="470.63" y1="406.44" x2="518.63" y2="516.36" stroke="#20d020" stroke-width="2.6"/><line x1="479.79" y1="402.44" x2="527.79" y2="512.36" stroke="#20d020" stroke-width="2.6"/><line x1="488.95" y1="398.44" x2="536.95" y2="508.36" stroke="#20d020" stroke-width="2.6"/><line x1="498.11" y1="394.44" x2="546.11" y2="504.36" stroke="#20d020" stroke-width="2.6"/></g></g>
<path d="M382 860.4 L374.6 886 L391.2 886 Z" fill="#e43fd4"/>
<text x="364" y="932.7" font-size="27" fill="#e43fd4" text-anchor="start">DA</text>
<svg x="699" y="210" width="164" height="164" viewBox="0 0 1440 1440" preserveAspectRatio="none"><rect width="1440" height="1440" fill="#0a0000"/><g fill="#2a0000" filter="url(#blur30)"><path d="M310 380 C322.22 378.89 394.44 367.78 420 370 C445.56 372.22 517.78 388.89 540 400 C562.22 411.11 608.89 454.44 620 470 C631.11 485.56 642.22 521.11 640 540 C637.78 558.89 608.89 617.78 600 640 C591.11 662.22 568.89 722.22 560 740 C551.11 757.78 535.56 800 520 800 C504.44 800 436.67 753.33 420 740 C403.33 726.67 383.33 697.78 370 680 C356.67 662.22 311.11 595.56 300 580 C288.89 564.44 271.11 555.56 270 540 C268.89 524.44 285.56 457.78 290 440 C294.44 422.22 307.78 386.67 310 380" fill-opacity="0.5"/><path d="M1030 200 C1037.78 195.56 1076.67 170 1100 160 C1123.33 150 1214.44 107.78 1240 110 C1265.56 112.22 1312.22 164.44 1330 180 C1347.78 195.56 1394.44 234.44 1400 250 C1405.56 265.56 1393.33 305.56 1380 320 C1366.67 334.44 1305.56 368.89 1280 380 C1254.44 391.11 1175.56 420 1150 420 C1124.44 420 1064.44 393.33 1050 380 C1035.56 366.67 1022.22 320 1020 300 C1017.78 280 1028.89 211.11 1030 200" fill-opacity="0.5"/><path d="M540 820 C551.11 811.11 615.56 748.89 640 740 C664.44 731.11 733.33 733.33 760 740 C786.67 746.67 857.78 782.22 880 800 C902.22 817.78 946.67 877.78 960 900 C973.33 922.22 995.56 977.78 1000 1000 C1004.44 1022.22 1008.89 1082.22 1000 1100 C991.11 1117.78 940 1160 920 1160 C900 1160 844.44 1113.33 820 1100 C795.56 1086.67 727.78 1055.56 700 1040 C672.22 1024.44 587.78 984.44 570 960 C552.22 935.56 543.33 835.56 540 820" fill-opacity="0.5"/></g><g fill="none" stroke="#c00000" stroke-linecap="round" stroke-linejoin="round" filter="url(#blur20)"><path d="M0 220 C8.89 226.67 57.78 267.78 80 280 C102.22 292.22 174.44 318.89 200 330 C225.56 341.11 297.78 374.44 310 380" stroke-opacity="0.45" stroke-width="60"/><path d="M310 380 C322.22 378.89 394.44 367.78 420 370 C445.56 372.22 517.78 388.89 540 400 C562.22 411.11 608.89 454.44 620 470 C631.11 485.56 642.22 521.11 640 540 C637.78 558.89 608.89 617.78 600 640 C591.11 662.22 568.89 722.22 560 740 C551.11 757.78 535.56 800 520 800 C504.44 800 436.67 753.33 420 740 C403.33 726.67 383.33 697.78 370 680 C356.67 662.22 311.11 595.56 300 580 C288.89 564.44 271.11 555.56 270 540 C268.89 524.44 285.56 457.78 290 440 C294.44 422.22 307.78 386.67 310 380" stroke-opacity="0.45" stroke-width="60"/><path d="M0 350 C3.33 362.22 25.56 438.89 30 460 C34.44 481.11 28.89 525.56 40 540 C51.11 554.44 112.22 585.56 130 590 C147.78 594.44 184.44 585.56 200 580 C215.56 574.44 262.22 544.44 270 540" stroke-opacity="0.45" stroke-width="60"/><path d="M545 390 C551.11 374.44 582.78 272.22 600 250 C617.22 227.78 682.22 201.11 700 190 C717.78 178.89 750 143.33 760 150 C770 156.67 783.33 228.89 790 250 C796.67 271.11 820 318.89 820 340 C820 361.11 795.56 420 790 440 C784.44 460 786.67 506.67 770 520 C753.33 533.33 654.44 555.56 640 560" stroke-opacity="0.45" stroke-width="60"/><path d="M760 150 C764.44 143.33 786.67 97.78 800 90 C813.33 82.22 860 75.56 880 80 C900 84.44 964.44 116.67 980 130 C995.56 143.33 1017.78 182.22 1020 200 C1022.22 217.78 1008.89 275.56 1000 290 C991.11 304.44 960 324.44 940 330 C920 335.56 833.33 338.89 820 340" stroke-opacity="0.45" stroke-width="60"/><path d="M1030 200 C1037.78 195.56 1076.67 170 1100 160 C1123.33 150 1214.44 107.78 1240 110 C1265.56 112.22 1312.22 164.44 1330 180 C1347.78 195.56 1394.44 234.44 1400 250 C1405.56 265.56 1393.33 305.56 1380 320 C1366.67 334.44 1305.56 368.89 1280 380 C1254.44 391.11 1175.56 420 1150 420 C1124.44 420 1064.44 393.33 1050 380 C1035.56 366.67 1022.22 320 1020 300 C1017.78 280 1028.89 211.11 1030 200" stroke-opacity="0.45" stroke-width="60"/><path d="M1240 110 L1150 0" stroke-opacity="0.45" stroke-width="60"/><path d="M1240 110 L1400 0" stroke-opacity="0.45" stroke-width="60"/><path d="M1400 250 L1440 260" stroke-opacity="0.45" stroke-width="60"/><path d="M540 820 C551.11 811.11 615.56 748.89 640 740 C664.44 731.11 733.33 733.33 760 740 C786.67 746.67 857.78 782.22 880 800 C902.22 817.78 946.67 877.78 960 900 C973.33 922.22 995.56 977.78 1000 1000 C1004.44 1022.22 1008.89 1082.22 1000 1100 C991.11 1117.78 940 1160 920 1160 C900 1160 844.44 1113.33 820 1100 C795.56 1086.67 727.78 1055.56 700 1040 C672.22 1024.44 587.78 984.44 570 960 C552.22 935.56 543.33 835.56 540 820" stroke-opacity="0.45" stroke-width="60"/><path d="M520 800 L560 870" stroke-opacity="0.45" stroke-width="60"/><path d="M1000 1000 C1005.56 995.56 1027.78 966.67 1050 960 C1072.22 953.33 1172.22 940 1200 940 C1227.78 940 1288.89 957.78 1300 960" stroke-opacity="0.14" stroke-width="43.2"/><path d="M980 1160 L1000 1300" stroke-opacity="0.14" stroke-width="43.2"/></g><g fill="none" stroke="#ff1810" stroke-linecap="round" stroke-linejoin="round" filter="url(#grain)"><path d="M0 220 C8.89 226.67 57.78 267.78 80 280 C102.22 292.22 174.44 318.89 200 330 C225.56 341.11 297.78 374.44 310 380" stroke-opacity="1" stroke-width="26"/><path d="M310 380 C322.22 378.89 394.44 367.78 420 370 C445.56 372.22 517.78 388.89 540 400 C562.22 411.11 608.89 454.44 620 470 C631.11 485.56 642.22 521.11 640 540 C637.78 558.89 608.89 617.78 600 640 C591.11 662.22 568.89 722.22 560 740 C551.11 757.78 535.56 800 520 800 C504.44 800 436.67 753.33 420 740 C403.33 726.67 383.33 697.78 370 680 C356.67 662.22 311.11 595.56 300 580 C288.89 564.44 271.11 555.56 270 540 C268.89 524.44 285.56 457.78 290 440 C294.44 422.22 307.78 386.67 310 380" stroke-opacity="1" stroke-width="26"/><path d="M0 350 C3.33 362.22 25.56 438.89 30 460 C34.44 481.11 28.89 525.56 40 540 C51.11 554.44 112.22 585.56 130 590 C147.78 594.44 184.44 585.56 200 580 C215.56 574.44 262.22 544.44 270 540" stroke-opacity="1" stroke-width="26"/><path d="M545 390 C551.11 374.44 582.78 272.22 600 250 C617.22 227.78 682.22 201.11 700 190 C717.78 178.89 750 143.33 760 150 C770 156.67 783.33 228.89 790 250 C796.67 271.11 820 318.89 820 340 C820 361.11 795.56 420 790 440 C784.44 460 786.67 506.67 770 520 C753.33 533.33 654.44 555.56 640 560" stroke-opacity="1" stroke-width="26"/><path d="M760 150 C764.44 143.33 786.67 97.78 800 90 C813.33 82.22 860 75.56 880 80 C900 84.44 964.44 116.67 980 130 C995.56 143.33 1017.78 182.22 1020 200 C1022.22 217.78 1008.89 275.56 1000 290 C991.11 304.44 960 324.44 940 330 C920 335.56 833.33 338.89 820 340" stroke-opacity="1" stroke-width="26"/><path d="M1030 200 C1037.78 195.56 1076.67 170 1100 160 C1123.33 150 1214.44 107.78 1240 110 C1265.56 112.22 1312.22 164.44 1330 180 C1347.78 195.56 1394.44 234.44 1400 250 C1405.56 265.56 1393.33 305.56 1380 320 C1366.67 334.44 1305.56 368.89 1280 380 C1254.44 391.11 1175.56 420 1150 420 C1124.44 420 1064.44 393.33 1050 380 C1035.56 366.67 1022.22 320 1020 300 C1017.78 280 1028.89 211.11 1030 200" stroke-opacity="1" stroke-width="26"/><path d="M1240 110 L1150 0" stroke-opacity="1" stroke-width="26"/><path d="M1240 110 L1400 0" stroke-opacity="1" stroke-width="26"/><path d="M1400 250 L1440 260" stroke-opacity="1" stroke-width="26"/><path d="M540 820 C551.11 811.11 615.56 748.89 640 740 C664.44 731.11 733.33 733.33 760 740 C786.67 746.67 857.78 782.22 880 800 C902.22 817.78 946.67 877.78 960 900 C973.33 922.22 995.56 977.78 1000 1000 C1004.44 1022.22 1008.89 1082.22 1000 1100 C991.11 1117.78 940 1160 920 1160 C900 1160 844.44 1113.33 820 1100 C795.56 1086.67 727.78 1055.56 700 1040 C672.22 1024.44 587.78 984.44 570 960 C552.22 935.56 543.33 835.56 540 820" stroke-opacity="1" stroke-width="26"/><path d="M520 800 L560 870" stroke-opacity="1" stroke-width="26"/><path d="M1000 1000 C1005.56 995.56 1027.78 966.67 1050 960 C1072.22 953.33 1172.22 940 1200 940 C1227.78 940 1288.89 957.78 1300 960" stroke-opacity="0.3" stroke-width="16.9"/><path d="M980 1160 L1000 1300" stroke-opacity="0.3" stroke-width="16.9"/></g><rect x="1000" y="1290" width="385" height="25" fill="#fff"/></svg>
<svg x="870" y="210" width="164" height="164" viewBox="0 0 1440 1440" preserveAspectRatio="none"><rect width="1440" height="1440" fill="#0a0000"/><g fill="#200000" filter="url(#blur30)"><path d="M640 90 C653.33 90 736.67 91.11 760 90 C783.33 88.89 831.11 74.44 850 80 C868.89 85.56 917.78 123.33 930 140 C942.22 156.67 952.22 211.11 960 230 C967.78 248.89 996.67 294.44 1000 310 C1003.33 325.56 1001.11 356.67 990 370 C978.89 383.33 918.89 417.78 900 430 C881.11 442.22 835.56 483.33 820 480 C804.44 476.67 771.11 420 760 400 C748.89 380 728.89 324.44 720 300 C711.11 275.56 688.89 203.33 680 180 C671.11 156.67 644.44 100 640 90" fill-opacity="0.5"/><path d="M820 480 C825.56 475.56 851.11 447.78 870 440 C888.89 432.22 964.44 406.67 990 410 C1015.56 413.33 1074.44 460 1100 470 C1125.56 480 1214.44 492.22 1220 500 C1225.56 507.78 1165.56 533.33 1150 540 C1134.44 546.67 1097.78 548.89 1080 560 C1062.22 571.11 1010 631.11 990 640 C970 648.89 916.67 648.89 900 640 C883.33 631.11 848.89 577.78 840 560 C831.11 542.22 822.22 488.89 820 480" fill-opacity="0.5"/><path d="M990 640 C986.67 657.78 963.33 762.22 960 800 C956.67 837.78 955.56 956.67 960 980 C964.44 1003.33 984.44 1003.33 1000 1010 C1015.56 1016.67 1074.44 1034.44 1100 1040 C1125.56 1045.56 1211.11 1066.67 1230 1060 C1248.89 1053.33 1273.33 1003.33 1270 980 C1266.67 956.67 1216.67 881.11 1200 850 C1183.33 818.89 1136.67 723.33 1120 700 C1103.33 676.67 1064.44 646.67 1050 640 C1035.56 633.33 996.67 640 990 640" fill-opacity="0.5"/><path d="M600 650 C588.89 662.22 522.22 734.44 500 760 C477.78 785.56 420 861.11 400 880 C380 898.89 315.56 917.78 320 930 C324.44 942.22 417.78 974.44 440 990 C462.22 1005.56 500 1065.56 520 1070 C540 1074.44 604.44 1048.89 620 1030 C635.56 1011.11 658.89 927.78 660 900 C661.11 872.22 636.67 807.78 630 780 C623.33 752.22 603.33 664.44 600 650" fill-opacity="0.5"/></g><g fill="none" stroke="#a00000" stroke-linecap="round" stroke-linejoin="round" filter="url(#blur20)"><path d="M640 90 C653.33 90 736.67 91.11 760 90 C783.33 88.89 831.11 74.44 850 80 C868.89 85.56 917.78 123.33 930 140 C942.22 156.67 952.22 211.11 960 230 C967.78 248.89 996.67 294.44 1000 310 C1003.33 325.56 1001.11 356.67 990 370 C978.89 383.33 918.89 417.78 900 430 C881.11 442.22 835.56 483.33 820 480 C804.44 476.67 771.11 420 760 400 C748.89 380 728.89 324.44 720 300 C711.11 275.56 688.89 203.33 680 180 C671.11 156.67 644.44 100 640 90" stroke-opacity="0.4" stroke-width="44"/><path d="M820 480 C825.56 475.56 851.11 447.78 870 440 C888.89 432.22 964.44 406.67 990 410 C1015.56 413.33 1074.44 460 1100 470 C1125.56 480 1214.44 492.22 1220 500 C1225.56 507.78 1165.56 533.33 1150 540 C1134.44 546.67 1097.78 548.89 1080 560 C1062.22 571.11 1010 631.11 990 640 C970 648.89 916.67 648.89 900 640 C883.33 631.11 848.89 577.78 840 560 C831.11 542.22 822.22 488.89 820 480" stroke-opacity="0.4" stroke-width="44"/><path d="M990 640 C986.67 657.78 963.33 762.22 960 800 C956.67 837.78 955.56 956.67 960 980 C964.44 1003.33 984.44 1003.33 1000 1010 C1015.56 1016.67 1074.44 1034.44 1100 1040 C1125.56 1045.56 1211.11 1066.67 1230 1060 C1248.89 1053.33 1273.33 1003.33 1270 980 C1266.67 956.67 1216.67 881.11 1200 850 C1183.33 818.89 1136.67 723.33 1120 700 C1103.33 676.67 1064.44 646.67 1050 640 C1035.56 633.33 996.67 640 990 640" stroke-opacity="0.4" stroke-width="44"/><path d="M880 700 C878.89 715.56 876.67 811.11 870 840 C863.33 868.89 832.22 935.56 820 960 C807.78 984.44 762.22 1035.56 760 1060 C757.78 1084.44 793.33 1153.33 800 1180 C806.67 1206.67 817.78 1286.67 820 1300" stroke-opacity="0.4" stroke-width="44"/><path d="M600 650 C588.89 662.22 522.22 734.44 500 760 C477.78 785.56 420 861.11 400 880 C380 898.89 315.56 917.78 320 930 C324.44 942.22 417.78 974.44 440 990 C462.22 1005.56 500 1065.56 520 1070 C540 1074.44 604.44 1048.89 620 1030 C635.56 1011.11 658.89 927.78 660 900 C661.11 872.22 636.67 807.78 630 780 C623.33 752.22 603.33 664.44 600 650" stroke-opacity="0.4" stroke-width="44"/><path d="M640 790 C655.56 784.44 753.33 750 780 740 C806.67 730 868.89 704.44 880 700" stroke-opacity="0.4" stroke-width="44"/><path d="M520 1070 C531.11 1073.33 600 1090 620 1100 C640 1110 684.44 1164.44 700 1160 C715.56 1155.56 753.33 1071.11 760 1060" stroke-opacity="0.4" stroke-width="44"/><path d="M960 980 C952.22 991.11 903.33 1055.56 890 1080 C876.67 1104.44 847.78 1175.56 840 1200 C832.22 1224.44 807.78 1285.56 820 1300 C832.22 1314.44 921.11 1330 950 1330 C978.89 1330 1065.56 1303.33 1080 1300" stroke-opacity="0.4" stroke-width="44"/><path d="M1230 1060 C1227.78 1070 1220 1127.78 1210 1150 C1200 1172.22 1147.78 1247.78 1140 1260" stroke-opacity="0.4" stroke-width="44"/><path d="M20 700 C22.22 684.44 22.22 580 40 560 C57.78 540 151.11 534.44 180 520 C208.89 505.56 286.67 440 300 430" stroke-opacity="0.12" stroke-width="31.68"/><path d="M220 1310 C235.56 1315.56 331.11 1361.11 360 1360 C388.89 1358.89 460 1320 480 1300 C500 1280 533.33 1193.33 540 1180" stroke-opacity="0.14" stroke-width="32.56"/><path d="M720 1340 L780 1380" stroke-opacity="0.24" stroke-width="36.96"/></g><g fill="none" stroke="#f01010" stroke-linecap="round" stroke-linejoin="round" filter="url(#grain)"><path d="M640 90 C653.33 90 736.67 91.11 760 90 C783.33 88.89 831.11 74.44 850 80 C868.89 85.56 917.78 123.33 930 140 C942.22 156.67 952.22 211.11 960 230 C967.78 248.89 996.67 294.44 1000 310 C1003.33 325.56 1001.11 356.67 990 370 C978.89 383.33 918.89 417.78 900 430 C881.11 442.22 835.56 483.33 820 480 C804.44 476.67 771.11 420 760 400 C748.89 380 728.89 324.44 720 300 C711.11 275.56 688.89 203.33 680 180 C671.11 156.67 644.44 100 640 90" stroke-opacity="1" stroke-width="18"/><path d="M820 480 C825.56 475.56 851.11 447.78 870 440 C888.89 432.22 964.44 406.67 990 410 C1015.56 413.33 1074.44 460 1100 470 C1125.56 480 1214.44 492.22 1220 500 C1225.56 507.78 1165.56 533.33 1150 540 C1134.44 546.67 1097.78 548.89 1080 560 C1062.22 571.11 1010 631.11 990 640 C970 648.89 916.67 648.89 900 640 C883.33 631.11 848.89 577.78 840 560 C831.11 542.22 822.22 488.89 820 480" stroke-opacity="1" stroke-width="18"/><path d="M990 640 C986.67 657.78 963.33 762.22 960 800 C956.67 837.78 955.56 956.67 960 980 C964.44 1003.33 984.44 1003.33 1000 1010 C1015.56 1016.67 1074.44 1034.44 1100 1040 C1125.56 1045.56 1211.11 1066.67 1230 1060 C1248.89 1053.33 1273.33 1003.33 1270 980 C1266.67 956.67 1216.67 881.11 1200 850 C1183.33 818.89 1136.67 723.33 1120 700 C1103.33 676.67 1064.44 646.67 1050 640 C1035.56 633.33 996.67 640 990 640" stroke-opacity="1" stroke-width="18"/><path d="M880 700 C878.89 715.56 876.67 811.11 870 840 C863.33 868.89 832.22 935.56 820 960 C807.78 984.44 762.22 1035.56 760 1060 C757.78 1084.44 793.33 1153.33 800 1180 C806.67 1206.67 817.78 1286.67 820 1300" stroke-opacity="1" stroke-width="18"/><path d="M600 650 C588.89 662.22 522.22 734.44 500 760 C477.78 785.56 420 861.11 400 880 C380 898.89 315.56 917.78 320 930 C324.44 942.22 417.78 974.44 440 990 C462.22 1005.56 500 1065.56 520 1070 C540 1074.44 604.44 1048.89 620 1030 C635.56 1011.11 658.89 927.78 660 900 C661.11 872.22 636.67 807.78 630 780 C623.33 752.22 603.33 664.44 600 650" stroke-opacity="1" stroke-width="18"/><path d="M640 790 C655.56 784.44 753.33 750 780 740 C806.67 730 868.89 704.44 880 700" stroke-opacity="1" stroke-width="18"/><path d="M520 1070 C531.11 1073.33 600 1090 620 1100 C640 1110 684.44 1164.44 700 1160 C715.56 1155.56 753.33 1071.11 760 1060" stroke-opacity="1" stroke-width="18"/><path d="M960 980 C952.22 991.11 903.33 1055.56 890 1080 C876.67 1104.44 847.78 1175.56 840 1200 C832.22 1224.44 807.78 1285.56 820 1300 C832.22 1314.44 921.11 1330 950 1330 C978.89 1330 1065.56 1303.33 1080 1300" stroke-opacity="1" stroke-width="18"/><path d="M1230 1060 C1227.78 1070 1220 1127.78 1210 1150 C1200 1172.22 1147.78 1247.78 1140 1260" stroke-opacity="1" stroke-width="18"/><path d="M20 700 C22.22 684.44 22.22 580 40 560 C57.78 540 151.11 534.44 180 520 C208.89 505.56 286.67 440 300 430" stroke-opacity="0.3" stroke-width="11.7"/><path d="M220 1310 C235.56 1315.56 331.11 1361.11 360 1360 C388.89 1358.89 460 1320 480 1300 C500 1280 533.33 1193.33 540 1180" stroke-opacity="0.35" stroke-width="12.15"/><path d="M720 1340 L780 1380" stroke-opacity="0.6" stroke-width="14.4"/></g><rect x="1085" y="1290" width="275" height="25" fill="#fff"/></svg>
<svg x="1041" y="209" width="165" height="165" viewBox="0 0 1440 1440" preserveAspectRatio="none"><rect width="1440" height="1440" fill="#160000"/><path d="M180 770 C188.89 760 235.56 694.44 260 680 C284.44 665.56 380 653.33 400 640 C420 626.67 422.22 574.44 440 560 C457.78 545.56 526.67 517.78 560 510 C593.33 502.22 704.44 497.78 740 490 C775.56 482.22 851.11 447.78 880 440 C908.89 432.22 973.33 418.89 1000 420 C1026.67 421.11 1100 438.89 1120 450 C1140 461.11 1173.33 497.78 1180 520 C1186.67 542.22 1183.33 623.33 1180 650 C1176.67 676.67 1156.67 743.33 1150 760 C1143.33 776.67 1123.33 784.44 1120 800 C1116.67 815.56 1122.22 877.78 1120 900 C1117.78 922.22 1104.44 980 1100 1000 C1095.56 1020 1102.22 1067.78 1080 1080 C1057.78 1092.22 940 1107.78 900 1110 C860 1112.22 748.89 1094.44 720 1100 C691.11 1105.56 662.22 1148.89 640 1160 C617.78 1171.11 544.44 1202.22 520 1200 C495.56 1197.78 435.56 1155.56 420 1140 C404.44 1124.44 393.33 1080 380 1060 C366.67 1040 320 982.22 300 960 C280 937.78 211.11 871.11 200 860" fill="#520000" filter="url(#blur30)"/><g fill="none" stroke="#c00000" stroke-linecap="round" stroke-linejoin="round" filter="url(#blur20)"><path d="M180 770 C188.89 760 235.56 694.44 260 680 C284.44 665.56 380 653.33 400 640 C420 626.67 422.22 574.44 440 560 C457.78 545.56 526.67 517.78 560 510 C593.33 502.22 704.44 497.78 740 490 C775.56 482.22 851.11 447.78 880 440 C908.89 432.22 973.33 418.89 1000 420 C1026.67 421.11 1100 438.89 1120 450 C1140 461.11 1173.33 497.78 1180 520 C1186.67 542.22 1183.33 623.33 1180 650 C1176.67 676.67 1156.67 743.33 1150 760 C1143.33 776.67 1123.33 784.44 1120 800 C1116.67 815.56 1122.22 877.78 1120 900 C1117.78 922.22 1104.44 980 1100 1000 C1095.56 1020 1102.22 1067.78 1080 1080 C1057.78 1092.22 940 1107.78 900 1110 C860 1112.22 748.89 1094.44 720 1100 C691.11 1105.56 662.22 1148.89 640 1160 C617.78 1171.11 544.44 1202.22 520 1200 C495.56 1197.78 435.56 1155.56 420 1140 C404.44 1124.44 393.33 1080 380 1060 C366.67 1040 320 982.22 300 960 C280 937.78 213.33 881.11 200 860 C186.67 838.89 182.22 780 180 770" stroke-opacity="0.45" stroke-width="44.16"/><path d="M420 650 C431.11 662.22 500 737.78 520 760 C540 782.22 582.22 832.22 600 850 C617.78 867.78 668.89 903.33 680 920 C691.11 936.67 695.56 981.11 700 1000 C704.44 1018.89 717.78 1080 720 1090" stroke-opacity="0.45" stroke-width="44.16"/><path d="M680 920 C688.89 913.33 744.44 874.44 760 860 C775.56 845.56 810 804.44 820 790 C830 775.56 848.89 746.67 850 730 C851.11 713.33 837.78 658.89 830 640 C822.22 621.11 792.22 575.56 780 560 C767.78 544.44 726.67 506.67 720 500" stroke-opacity="0.45" stroke-width="44.16"/><path d="M850 730 C862.22 733.33 932.22 754.44 960 760 C987.78 765.56 1084.44 777.78 1100 780" stroke-opacity="0.45" stroke-width="44.16"/></g><g fill="none" stroke="#f01010" stroke-linecap="round" stroke-linejoin="round" filter="url(#grain)"><path d="M180 770 C188.89 760 235.56 694.44 260 680 C284.44 665.56 380 653.33 400 640 C420 626.67 422.22 574.44 440 560 C457.78 545.56 526.67 517.78 560 510 C593.33 502.22 704.44 497.78 740 490 C775.56 482.22 851.11 447.78 880 440 C908.89 432.22 973.33 418.89 1000 420 C1026.67 421.11 1100 438.89 1120 450 C1140 461.11 1173.33 497.78 1180 520 C1186.67 542.22 1183.33 623.33 1180 650 C1176.67 676.67 1156.67 743.33 1150 760 C1143.33 776.67 1123.33 784.44 1120 800 C1116.67 815.56 1122.22 877.78 1120 900 C1117.78 922.22 1104.44 980 1100 1000 C1095.56 1020 1102.22 1067.78 1080 1080 C1057.78 1092.22 940 1107.78 900 1110 C860 1112.22 748.89 1094.44 720 1100 C691.11 1105.56 662.22 1148.89 640 1160 C617.78 1171.11 544.44 1202.22 520 1200 C495.56 1197.78 435.56 1155.56 420 1140 C404.44 1124.44 393.33 1080 380 1060 C366.67 1040 320 982.22 300 960 C280 937.78 213.33 881.11 200 860 C186.67 838.89 182.22 780 180 770" stroke-opacity="0.9" stroke-width="17.1"/><path d="M420 650 C431.11 662.22 500 737.78 520 760 C540 782.22 582.22 832.22 600 850 C617.78 867.78 668.89 903.33 680 920 C691.11 936.67 695.56 981.11 700 1000 C704.44 1018.89 717.78 1080 720 1090" stroke-opacity="0.9" stroke-width="17.1"/><path d="M680 920 C688.89 913.33 744.44 874.44 760 860 C775.56 845.56 810 804.44 820 790 C830 775.56 848.89 746.67 850 730 C851.11 713.33 837.78 658.89 830 640 C822.22 621.11 792.22 575.56 780 560 C767.78 544.44 726.67 506.67 720 500" stroke-opacity="0.9" stroke-width="17.1"/><path d="M850 730 C862.22 733.33 932.22 754.44 960 760 C987.78 765.56 1084.44 777.78 1100 780" stroke-opacity="0.9" stroke-width="17.1"/></g><rect x="880" y="1290" width="500" height="28" fill="#fff"/></svg>
<svg x="699" y="381" width="164" height="164" viewBox="0 0 1440 1440" preserveAspectRatio="none"><rect width="1440" height="1440" fill="#00008f"/><g fill="#30d0ff" fill-opacity="0.95" filter="url(#speckA)"><path d="M310 380 C322.22 378.89 394.44 367.78 420 370 C445.56 372.22 517.78 388.89 540 400 C562.22 411.11 608.89 454.44 620 470 C631.11 485.56 642.22 521.11 640 540 C637.78 558.89 608.89 617.78 600 640 C591.11 662.22 568.89 722.22 560 740 C551.11 757.78 535.56 800 520 800 C504.44 800 436.67 753.33 420 740 C403.33 726.67 383.33 697.78 370 680 C356.67 662.22 311.11 595.56 300 580 C288.89 564.44 271.11 555.56 270 540 C268.89 524.44 285.56 457.78 290 440 C294.44 422.22 307.78 386.67 310 380"/><path d="M1030 200 C1037.78 195.56 1076.67 170 1100 160 C1123.33 150 1214.44 107.78 1240 110 C1265.56 112.22 1312.22 164.44 1330 180 C1347.78 195.56 1394.44 234.44 1400 250 C1405.56 265.56 1393.33 305.56 1380 320 C1366.67 334.44 1305.56 368.89 1280 380 C1254.44 391.11 1175.56 420 1150 420 C1124.44 420 1064.44 393.33 1050 380 C1035.56 366.67 1022.22 320 1020 300 C1017.78 280 1028.89 211.11 1030 200"/><path d="M540 820 C551.11 811.11 615.56 748.89 640 740 C664.44 731.11 733.33 733.33 760 740 C786.67 746.67 857.78 782.22 880 800 C902.22 817.78 946.67 877.78 960 900 C973.33 922.22 995.56 977.78 1000 1000 C1004.44 1022.22 1008.89 1082.22 1000 1100 C991.11 1117.78 940 1160 920 1160 C900 1160 844.44 1113.33 820 1100 C795.56 1086.67 727.78 1055.56 700 1040 C672.22 1024.44 587.78 984.44 570 960 C552.22 935.56 543.33 835.56 540 820"/></g><g fill="none" stroke="#40d8f0" stroke-opacity="0.9" stroke-linecap="round" stroke-linejoin="round" filter="url(#speckB)"><path d="M0 220 C8.89 226.67 57.78 267.78 80 280 C102.22 292.22 174.44 318.89 200 330 C225.56 341.11 297.78 374.44 310 380" stroke-width="153.4"/><path d="M310 380 C322.22 378.89 394.44 367.78 420 370 C445.56 372.22 517.78 388.89 540 400 C562.22 411.11 608.89 454.44 620 470 C631.11 485.56 642.22 521.11 640 540 C637.78 558.89 608.89 617.78 600 640 C591.11 662.22 568.89 722.22 560 740 C551.11 757.78 535.56 800 520 800 C504.44 800 436.67 753.33 420 740 C403.33 726.67 383.33 697.78 370 680 C356.67 662.22 311.11 595.56 300 580 C288.89 564.44 271.11 555.56 270 540 C268.89 524.44 285.56 457.78 290 440 C294.44 422.22 307.78 386.67 310 380" stroke-width="153.4"/><path d="M0 350 C3.33 362.22 25.56 438.89 30 460 C34.44 481.11 28.89 525.56 40 540 C51.11 554.44 112.22 585.56 130 590 C147.78 594.44 184.44 585.56 200 580 C215.56 574.44 262.22 544.44 270 540" stroke-width="153.4"/><path d="M545 390 C551.11 374.44 582.78 272.22 600 250 C617.22 227.78 682.22 201.11 700 190 C717.78 178.89 750 143.33 760 150 C770 156.67 783.33 228.89 790 250 C796.67 271.11 820 318.89 820 340 C820 361.11 795.56 420 790 440 C784.44 460 786.67 506.67 770 520 C753.33 533.33 654.44 555.56 640 560" stroke-width="153.4"/><path d="M760 150 C764.44 143.33 786.67 97.78 800 90 C813.33 82.22 860 75.56 880 80 C900 84.44 964.44 116.67 980 130 C995.56 143.33 1017.78 182.22 1020 200 C1022.22 217.78 1008.89 275.56 1000 290 C991.11 304.44 960 324.44 940 330 C920 335.56 833.33 338.89 820 340" stroke-width="153.4"/><path d="M1030 200 C1037.78 195.56 1076.67 170 1100 160 C1123.33 150 1214.44 107.78 1240 110 C1265.56 112.22 1312.22 164.44 1330 180 C1347.78 195.56 1394.44 234.44 1400 250 C1405.56 265.56 1393.33 305.56 1380 320 C1366.67 334.44 1305.56 368.89 1280 380 C1254.44 391.11 1175.56 420 1150 420 C1124.44 420 1064.44 393.33 1050 380 C1035.56 366.67 1022.22 320 1020 300 C1017.78 280 1028.89 211.11 1030 200" stroke-width="153.4"/><path d="M1240 110 L1150 0" stroke-width="153.4"/><path d="M1240 110 L1400 0" stroke-width="153.4"/><path d="M1400 250 L1440 260" stroke-width="153.4"/><path d="M540 820 C551.11 811.11 615.56 748.89 640 740 C664.44 731.11 733.33 733.33 760 740 C786.67 746.67 857.78 782.22 880 800 C902.22 817.78 946.67 877.78 960 900 C973.33 922.22 995.56 977.78 1000 1000 C1004.44 1022.22 1008.89 1082.22 1000 1100 C991.11 1117.78 940 1160 920 1160 C900 1160 844.44 1113.33 820 1100 C795.56 1086.67 727.78 1055.56 700 1040 C672.22 1024.44 587.78 984.44 570 960 C552.22 935.56 543.33 835.56 540 820" stroke-width="153.4"/><path d="M520 800 L560 870" stroke-width="153.4"/><path d="M1000 1000 C1005.56 995.56 1027.78 966.67 1050 960 C1072.22 953.33 1172.22 940 1200 940 C1227.78 940 1288.89 957.78 1300 960" stroke-width="94.34"/><path d="M980 1160 L1000 1300" stroke-width="94.34"/><path d="M1000 1000 C1016.67 995.56 1116.67 964.44 1150 960 C1183.33 955.56 1283.33 960 1300 960" stroke-width="153.4"/><path d="M980 1160 C987.78 1175.56 1034.44 1271.11 1050 1300 C1065.56 1328.89 1112.22 1406.67 1120 1420" stroke-width="153.4"/></g><g fill="none" stroke="#10a0ff" stroke-opacity="0.95" stroke-linecap="round" stroke-linejoin="round" filter="url(#rough)"><path d="M0 220 C8.89 226.67 57.78 267.78 80 280 C102.22 292.22 174.44 318.89 200 330 C225.56 341.11 297.78 374.44 310 380" stroke-width="118"/><path d="M310 380 C322.22 378.89 394.44 367.78 420 370 C445.56 372.22 517.78 388.89 540 400 C562.22 411.11 608.89 454.44 620 470 C631.11 485.56 642.22 521.11 640 540 C637.78 558.89 608.89 617.78 600 640 C591.11 662.22 568.89 722.22 560 740 C551.11 757.78 535.56 800 520 800 C504.44 800 436.67 753.33 420 740 C403.33 726.67 383.33 697.78 370 680 C356.67 662.22 311.11 595.56 300 580 C288.89 564.44 271.11 555.56 270 540 C268.89 524.44 285.56 457.78 290 440 C294.44 422.22 307.78 386.67 310 380" stroke-width="118"/><path d="M0 350 C3.33 362.22 25.56 438.89 30 460 C34.44 481.11 28.89 525.56 40 540 C51.11 554.44 112.22 585.56 130 590 C147.78 594.44 184.44 585.56 200 580 C215.56 574.44 262.22 544.44 270 540" stroke-width="118"/><path d="M545 390 C551.11 374.44 582.78 272.22 600 250 C617.22 227.78 682.22 201.11 700 190 C717.78 178.89 750 143.33 760 150 C770 156.67 783.33 228.89 790 250 C796.67 271.11 820 318.89 820 340 C820 361.11 795.56 420 790 440 C784.44 460 786.67 506.67 770 520 C753.33 533.33 654.44 555.56 640 560" stroke-width="118"/><path d="M760 150 C764.44 143.33 786.67 97.78 800 90 C813.33 82.22 860 75.56 880 80 C900 84.44 964.44 116.67 980 130 C995.56 143.33 1017.78 182.22 1020 200 C1022.22 217.78 1008.89 275.56 1000 290 C991.11 304.44 960 324.44 940 330 C920 335.56 833.33 338.89 820 340" stroke-width="118"/><path d="M1030 200 C1037.78 195.56 1076.67 170 1100 160 C1123.33 150 1214.44 107.78 1240 110 C1265.56 112.22 1312.22 164.44 1330 180 C1347.78 195.56 1394.44 234.44 1400 250 C1405.56 265.56 1393.33 305.56 1380 320 C1366.67 334.44 1305.56 368.89 1280 380 C1254.44 391.11 1175.56 420 1150 420 C1124.44 420 1064.44 393.33 1050 380 C1035.56 366.67 1022.22 320 1020 300 C1017.78 280 1028.89 211.11 1030 200" stroke-width="118"/><path d="M1240 110 L1150 0" stroke-width="118"/><path d="M1240 110 L1400 0" stroke-width="118"/><path d="M1400 250 L1440 260" stroke-width="118"/><path d="M540 820 C551.11 811.11 615.56 748.89 640 740 C664.44 731.11 733.33 733.33 760 740 C786.67 746.67 857.78 782.22 880 800 C902.22 817.78 946.67 877.78 960 900 C973.33 922.22 995.56 977.78 1000 1000 C1004.44 1022.22 1008.89 1082.22 1000 1100 C991.11 1117.78 940 1160 920 1160 C900 1160 844.44 1113.33 820 1100 C795.56 1086.67 727.78 1055.56 700 1040 C672.22 1024.44 587.78 984.44 570 960 C552.22 935.56 543.33 835.56 540 820" stroke-width="118"/><path d="M520 800 L560 870" stroke-width="118"/><path d="M1000 1000 C1005.56 995.56 1027.78 966.67 1050 960 C1072.22 953.33 1172.22 940 1200 940 C1227.78 940 1288.89 957.78 1300 960" stroke-width="72.57"/><path d="M980 1160 L1000 1300" stroke-width="72.57"/><path d="M1000 1000 C1016.67 995.56 1116.67 964.44 1150 960 C1183.33 955.56 1283.33 960 1300 960" stroke-width="118"/><path d="M980 1160 C987.78 1175.56 1034.44 1271.11 1050 1300 C1065.56 1328.89 1112.22 1406.67 1120 1420" stroke-width="118"/></g><g fill="none" stroke="#40f0d0" stroke-opacity="1" stroke-linecap="round" stroke-linejoin="round" filter="url(#rough)"><path d="M0 220 C8.89 226.67 57.78 267.78 80 280 C102.22 292.22 174.44 318.89 200 330 C225.56 341.11 297.78 374.44 310 380" stroke-width="98"/><path d="M310 380 C322.22 378.89 394.44 367.78 420 370 C445.56 372.22 517.78 388.89 540 400 C562.22 411.11 608.89 454.44 620 470 C631.11 485.56 642.22 521.11 640 540 C637.78 558.89 608.89 617.78 600 640 C591.11 662.22 568.89 722.22 560 740 C551.11 757.78 535.56 800 520 800 C504.44 800 436.67 753.33 420 740 C403.33 726.67 383.33 697.78 370 680 C356.67 662.22 311.11 595.56 300 580 C288.89 564.44 271.11 555.56 270 540 C268.89 524.44 285.56 457.78 290 440 C294.44 422.22 307.78 386.67 310 380" stroke-width="98"/><path d="M0 350 C3.33 362.22 25.56 438.89 30 460 C34.44 481.11 28.89 525.56 40 540 C51.11 554.44 112.22 585.56 130 590 C147.78 594.44 184.44 585.56 200 580 C215.56 574.44 262.22 544.44 270 540" stroke-width="98"/><path d="M545 390 C551.11 374.44 582.78 272.22 600 250 C617.22 227.78 682.22 201.11 700 190 C717.78 178.89 750 143.33 760 150 C770 156.67 783.33 228.89 790 250 C796.67 271.11 820 318.89 820 340 C820 361.11 795.56 420 790 440 C784.44 460 786.67 506.67 770 520 C753.33 533.33 654.44 555.56 640 560" stroke-width="98"/><path d="M760 150 C764.44 143.33 786.67 97.78 800 90 C813.33 82.22 860 75.56 880 80 C900 84.44 964.44 116.67 980 130 C995.56 143.33 1017.78 182.22 1020 200 C1022.22 217.78 1008.89 275.56 1000 290 C991.11 304.44 960 324.44 940 330 C920 335.56 833.33 338.89 820 340" stroke-width="98"/><path d="M1030 200 C1037.78 195.56 1076.67 170 1100 160 C1123.33 150 1214.44 107.78 1240 110 C1265.56 112.22 1312.22 164.44 1330 180 C1347.78 195.56 1394.44 234.44 1400 250 C1405.56 265.56 1393.33 305.56 1380 320 C1366.67 334.44 1305.56 368.89 1280 380 C1254.44 391.11 1175.56 420 1150 420 C1124.44 420 1064.44 393.33 1050 380 C1035.56 366.67 1022.22 320 1020 300 C1017.78 280 1028.89 211.11 1030 200" stroke-width="98"/><path d="M1240 110 L1150 0" stroke-width="98"/><path d="M1240 110 L1400 0" stroke-width="98"/><path d="M1400 250 L1440 260" stroke-width="98"/><path d="M540 820 C551.11 811.11 615.56 748.89 640 740 C664.44 731.11 733.33 733.33 760 740 C786.67 746.67 857.78 782.22 880 800 C902.22 817.78 946.67 877.78 960 900 C973.33 922.22 995.56 977.78 1000 1000 C1004.44 1022.22 1008.89 1082.22 1000 1100 C991.11 1117.78 940 1160 920 1160 C900 1160 844.44 1113.33 820 1100 C795.56 1086.67 727.78 1055.56 700 1040 C672.22 1024.44 587.78 984.44 570 960 C552.22 935.56 543.33 835.56 540 820" stroke-width="98"/><path d="M520 800 L560 870" stroke-width="98"/><path d="M1000 1000 C1005.56 995.56 1027.78 966.67 1050 960 C1072.22 953.33 1172.22 940 1200 940 C1227.78 940 1288.89 957.78 1300 960" stroke-width="60.27"/><path d="M980 1160 L1000 1300" stroke-width="60.27"/><path d="M1000 1000 C1016.67 995.56 1116.67 964.44 1150 960 C1183.33 955.56 1283.33 960 1300 960" stroke-width="98"/><path d="M980 1160 C987.78 1175.56 1034.44 1271.11 1050 1300 C1065.56 1328.89 1112.22 1406.67 1120 1420" stroke-width="98"/></g><g fill="none" stroke="#f0f000" stroke-opacity="1" stroke-linecap="round" stroke-linejoin="round" filter="url(#rough)"><path d="M0 220 C8.89 226.67 57.78 267.78 80 280 C102.22 292.22 174.44 318.89 200 330 C225.56 341.11 297.78 374.44 310 380" stroke-width="78"/><path d="M310 380 C322.22 378.89 394.44 367.78 420 370 C445.56 372.22 517.78 388.89 540 400 C562.22 411.11 608.89 454.44 620 470 C631.11 485.56 642.22 521.11 640 540 C637.78 558.89 608.89 617.78 600 640 C591.11 662.22 568.89 722.22 560 740 C551.11 757.78 535.56 800 520 800 C504.44 800 436.67 753.33 420 740 C403.33 726.67 383.33 697.78 370 680 C356.67 662.22 311.11 595.56 300 580 C288.89 564.44 271.11 555.56 270 540 C268.89 524.44 285.56 457.78 290 440 C294.44 422.22 307.78 386.67 310 380" stroke-width="78"/><path d="M0 350 C3.33 362.22 25.56 438.89 30 460 C34.44 481.11 28.89 525.56 40 540 C51.11 554.44 112.22 585.56 130 590 C147.78 594.44 184.44 585.56 200 580 C215.56 574.44 262.22 544.44 270 540" stroke-width="78"/><path d="M545 390 C551.11 374.44 582.78 272.22 600 250 C617.22 227.78 682.22 201.11 700 190 C717.78 178.89 750 143.33 760 150 C770 156.67 783.33 228.89 790 250 C796.67 271.11 820 318.89 820 340 C820 361.11 795.56 420 790 440 C784.44 460 786.67 506.67 770 520 C753.33 533.33 654.44 555.56 640 560" stroke-width="78"/><path d="M760 150 C764.44 143.33 786.67 97.78 800 90 C813.33 82.22 860 75.56 880 80 C900 84.44 964.44 116.67 980 130 C995.56 143.33 1017.78 182.22 1020 200 C1022.22 217.78 1008.89 275.56 1000 290 C991.11 304.44 960 324.44 940 330 C920 335.56 833.33 338.89 820 340" stroke-width="78"/><path d="M1030 200 C1037.78 195.56 1076.67 170 1100 160 C1123.33 150 1214.44 107.78 1240 110 C1265.56 112.22 1312.22 164.44 1330 180 C1347.78 195.56 1394.44 234.44 1400 250 C1405.56 265.56 1393.33 305.56 1380 320 C1366.67 334.44 1305.56 368.89 1280 380 C1254.44 391.11 1175.56 420 1150 420 C1124.44 420 1064.44 393.33 1050 380 C1035.56 366.67 1022.22 320 1020 300 C1017.78 280 1028.89 211.11 1030 200" stroke-width="78"/><path d="M1240 110 L1150 0" stroke-width="78"/><path d="M1240 110 L1400 0" stroke-width="78"/><path d="M1400 250 L1440 260" stroke-width="78"/><path d="M540 820 C551.11 811.11 615.56 748.89 640 740 C664.44 731.11 733.33 733.33 760 740 C786.67 746.67 857.78 782.22 880 800 C902.22 817.78 946.67 877.78 960 900 C973.33 922.22 995.56 977.78 1000 1000 C1004.44 1022.22 1008.89 1082.22 1000 1100 C991.11 1117.78 940 1160 920 1160 C900 1160 844.44 1113.33 820 1100 C795.56 1086.67 727.78 1055.56 700 1040 C672.22 1024.44 587.78 984.44 570 960 C552.22 935.56 543.33 835.56 540 820" stroke-width="78"/><path d="M520 800 L560 870" stroke-width="78"/><path d="M1000 1000 C1005.56 995.56 1027.78 966.67 1050 960 C1072.22 953.33 1172.22 940 1200 940 C1227.78 940 1288.89 957.78 1300 960" stroke-width="47.97"/><path d="M980 1160 L1000 1300" stroke-width="47.97"/><path d="M1000 1000 C1016.67 995.56 1116.67 964.44 1150 960 C1183.33 955.56 1283.33 960 1300 960" stroke-width="78"/><path d="M980 1160 C987.78 1175.56 1034.44 1271.11 1050 1300 C1065.56 1328.89 1112.22 1406.67 1120 1420" stroke-width="78"/></g><g fill="none" stroke="#ff6000" stroke-opacity="1" stroke-linecap="round" stroke-linejoin="round" filter="url(#rough)"><path d="M0 220 C8.89 226.67 57.78 267.78 80 280 C102.22 292.22 174.44 318.89 200 330 C225.56 341.11 297.78 374.44 310 380" stroke-width="58"/><path d="M310 380 C322.22 378.89 394.44 367.78 420 370 C445.56 372.22 517.78 388.89 540 400 C562.22 411.11 608.89 454.44 620 470 C631.11 485.56 642.22 521.11 640 540 C637.78 558.89 608.89 617.78 600 640 C591.11 662.22 568.89 722.22 560 740 C551.11 757.78 535.56 800 520 800 C504.44 800 436.67 753.33 420 740 C403.33 726.67 383.33 697.78 370 680 C356.67 662.22 311.11 595.56 300 580 C288.89 564.44 271.11 555.56 270 540 C268.89 524.44 285.56 457.78 290 440 C294.44 422.22 307.78 386.67 310 380" stroke-width="58"/><path d="M0 350 C3.33 362.22 25.56 438.89 30 460 C34.44 481.11 28.89 525.56 40 540 C51.11 554.44 112.22 585.56 130 590 C147.78 594.44 184.44 585.56 200 580 C215.56 574.44 262.22 544.44 270 540" stroke-width="58"/><path d="M545 390 C551.11 374.44 582.78 272.22 600 250 C617.22 227.78 682.22 201.11 700 190 C717.78 178.89 750 143.33 760 150 C770 156.67 783.33 228.89 790 250 C796.67 271.11 820 318.89 820 340 C820 361.11 795.56 420 790 440 C784.44 460 786.67 506.67 770 520 C753.33 533.33 654.44 555.56 640 560" stroke-width="58"/><path d="M760 150 C764.44 143.33 786.67 97.78 800 90 C813.33 82.22 860 75.56 880 80 C900 84.44 964.44 116.67 980 130 C995.56 143.33 1017.78 182.22 1020 200 C1022.22 217.78 1008.89 275.56 1000 290 C991.11 304.44 960 324.44 940 330 C920 335.56 833.33 338.89 820 340" stroke-width="58"/><path d="M1030 200 C1037.78 195.56 1076.67 170 1100 160 C1123.33 150 1214.44 107.78 1240 110 C1265.56 112.22 1312.22 164.44 1330 180 C1347.78 195.56 1394.44 234.44 1400 250 C1405.56 265.56 1393.33 305.56 1380 320 C1366.67 334.44 1305.56 368.89 1280 380 C1254.44 391.11 1175.56 420 1150 420 C1124.44 420 1064.44 393.33 1050 380 C1035.56 366.67 1022.22 320 1020 300 C1017.78 280 1028.89 211.11 1030 200" stroke-width="58"/><path d="M1240 110 L1150 0" stroke-width="58"/><path d="M1240 110 L1400 0" stroke-width="58"/><path d="M1400 250 L1440 260" stroke-width="58"/><path d="M540 820 C551.11 811.11 615.56 748.89 640 740 C664.44 731.11 733.33 733.33 760 740 C786.67 746.67 857.78 782.22 880 800 C902.22 817.78 946.67 877.78 960 900 C973.33 922.22 995.56 977.78 1000 1000 C1004.44 1022.22 1008.89 1082.22 1000 1100 C991.11 1117.78 940 1160 920 1160 C900 1160 844.44 1113.33 820 1100 C795.56 1086.67 727.78 1055.56 700 1040 C672.22 1024.44 587.78 984.44 570 960 C552.22 935.56 543.33 835.56 540 820" stroke-width="58"/><path d="M520 800 L560 870" stroke-width="58"/><path d="M1000 1000 C1005.56 995.56 1027.78 966.67 1050 960 C1072.22 953.33 1172.22 940 1200 940 C1227.78 940 1288.89 957.78 1300 960" stroke-width="35.67"/><path d="M980 1160 L1000 1300" stroke-width="35.67"/><path d="M1000 1000 C1016.67 995.56 1116.67 964.44 1150 960 C1183.33 955.56 1283.33 960 1300 960" stroke-width="58"/><path d="M980 1160 C987.78 1175.56 1034.44 1271.11 1050 1300 C1065.56 1328.89 1112.22 1406.67 1120 1420" stroke-width="58"/></g><g fill="none" stroke="#980000" stroke-opacity="1" stroke-linecap="round" stroke-linejoin="round" filter="url(#rough)"><path d="M0 220 C8.89 226.67 57.78 267.78 80 280 C102.22 292.22 174.44 318.89 200 330 C225.56 341.11 297.78 374.44 310 380" stroke-width="40"/><path d="M310 380 C322.22 378.89 394.44 367.78 420 370 C445.56 372.22 517.78 388.89 540 400 C562.22 411.11 608.89 454.44 620 470 C631.11 485.56 642.22 521.11 640 540 C637.78 558.89 608.89 617.78 600 640 C591.11 662.22 568.89 722.22 560 740 C551.11 757.78 535.56 800 520 800 C504.44 800 436.67 753.33 420 740 C403.33 726.67 383.33 697.78 370 680 C356.67 662.22 311.11 595.56 300 580 C288.89 564.44 271.11 555.56 270 540 C268.89 524.44 285.56 457.78 290 440 C294.44 422.22 307.78 386.67 310 380" stroke-width="40"/><path d="M0 350 C3.33 362.22 25.56 438.89 30 460 C34.44 481.11 28.89 525.56 40 540 C51.11 554.44 112.22 585.56 130 590 C147.78 594.44 184.44 585.56 200 580 C215.56 574.44 262.22 544.44 270 540" stroke-width="40"/><path d="M545 390 C551.11 374.44 582.78 272.22 600 250 C617.22 227.78 682.22 201.11 700 190 C717.78 178.89 750 143.33 760 150 C770 156.67 783.33 228.89 790 250 C796.67 271.11 820 318.89 820 340 C820 361.11 795.56 420 790 440 C784.44 460 786.67 506.67 770 520 C753.33 533.33 654.44 555.56 640 560" stroke-width="40"/><path d="M760 150 C764.44 143.33 786.67 97.78 800 90 C813.33 82.22 860 75.56 880 80 C900 84.44 964.44 116.67 980 130 C995.56 143.33 1017.78 182.22 1020 200 C1022.22 217.78 1008.89 275.56 1000 290 C991.11 304.44 960 324.44 940 330 C920 335.56 833.33 338.89 820 340" stroke-width="40"/><path d="M1030 200 C1037.78 195.56 1076.67 170 1100 160 C1123.33 150 1214.44 107.78 1240 110 C1265.56 112.22 1312.22 164.44 1330 180 C1347.78 195.56 1394.44 234.44 1400 250 C1405.56 265.56 1393.33 305.56 1380 320 C1366.67 334.44 1305.56 368.89 1280 380 C1254.44 391.11 1175.56 420 1150 420 C1124.44 420 1064.44 393.33 1050 380 C1035.56 366.67 1022.22 320 1020 300 C1017.78 280 1028.89 211.11 1030 200" stroke-width="40"/><path d="M1240 110 L1150 0" stroke-width="40"/><path d="M1240 110 L1400 0" stroke-width="40"/><path d="M1400 250 L1440 260" stroke-width="40"/><path d="M540 820 C551.11 811.11 615.56 748.89 640 740 C664.44 731.11 733.33 733.33 760 740 C786.67 746.67 857.78 782.22 880 800 C902.22 817.78 946.67 877.78 960 900 C973.33 922.22 995.56 977.78 1000 1000 C1004.44 1022.22 1008.89 1082.22 1000 1100 C991.11 1117.78 940 1160 920 1160 C900 1160 844.44 1113.33 820 1100 C795.56 1086.67 727.78 1055.56 700 1040 C672.22 1024.44 587.78 984.44 570 960 C552.22 935.56 543.33 835.56 540 820" stroke-width="40"/><path d="M520 800 L560 870" stroke-width="40"/><path d="M1000 1000 C1005.56 995.56 1027.78 966.67 1050 960 C1072.22 953.33 1172.22 940 1200 940 C1227.78 940 1288.89 957.78 1300 960" stroke-width="24.6"/><path d="M980 1160 L1000 1300" stroke-width="24.6"/><path d="M1000 1000 C1016.67 995.56 1116.67 964.44 1150 960 C1183.33 955.56 1283.33 960 1300 960" stroke-width="40"/><path d="M980 1160 C987.78 1175.56 1034.44 1271.11 1050 1300 C1065.56 1328.89 1112.22 1406.67 1120 1420" stroke-width="40"/></g><g fill="#30d0ff" fill-opacity="0.9"><rect x="-31" y="219" width="13" height="13"/><rect x="34" y="241" width="13" height="13"/><rect x="23" y="184" width="13" height="13"/><rect x="80" y="232" width="13" height="13"/><rect x="102" y="333" width="13" height="13"/><rect x="24" y="204" width="13" height="13"/><rect x="138" y="224" width="13" height="13"/><rect x="91" y="209" width="13" height="13"/><rect x="224" y="316" width="13" height="13"/><rect x="230" y="242" width="13" height="13"/><rect x="327" y="339" width="13" height="13"/><rect x="167" y="413" width="13" height="13"/><rect x="321" y="391" width="13" height="13"/><rect x="391" y="365" width="13" height="13"/><rect x="358" y="435" width="13" height="13"/><rect x="309" y="434" width="13" height="13"/><rect x="442" y="327" width="13" height="13"/><rect x="636" y="265" width="13" height="13"/><rect x="557" y="483" width="13" height="13"/><rect x="594" y="358" width="13" height="13"/><rect x="530" y="492" width="13" height="13"/><rect x="581" y="459" width="13" height="13"/><rect x="631" y="458" width="13" height="13"/><rect x="577" y="472" width="13" height="13"/><rect x="576" y="309" width="13" height="13"/><rect x="608" y="462" width="13" height="13"/><rect x="579" y="619" width="13" height="13"/><rect x="402" y="631" width="13" height="13"/><rect x="693" y="605" width="13" height="13"/><rect x="657" y="596" width="13" height="13"/><rect x="624" y="614" width="13" height="13"/><rect x="511" y="854" width="13" height="13"/><rect x="520" y="772" width="13" height="13"/><rect x="533" y="633" width="13" height="13"/><rect x="482" y="606" width="13" height="13"/><rect x="460" y="807" width="13" height="13"/><rect x="502" y="898" width="13" height="13"/><rect x="459" y="766" width="13" height="13"/><rect x="468" y="769" width="13" height="13"/><rect x="445" y="748" width="13" height="13"/><rect x="376" y="779" width="13" height="13"/><rect x="378" y="632" width="13" height="13"/><rect x="495" y="769" width="13" height="13"/><rect x="371" y="742" width="13" height="13"/><rect x="306" y="668" width="13" height="13"/><rect x="297" y="702" width="13" height="13"/><rect x="281" y="715" width="13" height="13"/><rect x="286" y="639" width="13" height="13"/><rect x="307" y="665" width="13" height="13"/><rect x="315" y="624" width="13" height="13"/><rect x="322" y="499" width="13" height="13"/><rect x="306" y="455" width="13" height="13"/><rect x="311" y="498" width="13" height="13"/><rect x="328" y="435" width="13" height="13"/><rect x="343" y="473" width="13" height="13"/><rect x="330" y="330" width="13" height="13"/><rect x="-12" y="468" width="13" height="13"/><rect x="36" y="373" width="13" height="13"/><rect x="-21" y="458" width="13" height="13"/><rect x="-24" y="426" width="13" height="13"/><rect x="-70" y="560" width="13" height="13"/><rect x="163" y="476" width="13" height="13"/><rect x="97" y="525" width="13" height="13"/><rect x="160" y="570" width="13" height="13"/><rect x="149" y="507" width="13" height="13"/><rect x="74" y="614" width="13" height="13"/><rect x="127" y="581" width="13" height="13"/><rect x="156" y="571" width="13" height="13"/><rect x="150" y="463" width="13" height="13"/><rect x="321" y="501" width="13" height="13"/><rect x="199" y="545" width="13" height="13"/><rect x="186" y="510" width="13" height="13"/><rect x="637" y="303" width="13" height="13"/><rect x="562" y="451" width="13" height="13"/><rect x="581" y="273" width="13" height="13"/><rect x="456" y="340" width="13" height="13"/><rect x="586" y="246" width="13" height="13"/><rect x="592" y="271" width="13" height="13"/><rect x="674" y="198" width="13" height="13"/><rect x="619" y="300" width="13" height="13"/><rect x="548" y="240" width="13" height="13"/><rect x="627" y="259" width="13" height="13"/><rect x="843" y="247" width="13" height="13"/><rect x="806" y="189" width="13" height="13"/><rect x="749" y="228" width="13" height="13"/><rect x="734" y="187" width="13" height="13"/><rect x="752" y="193" width="13" height="13"/><rect x="765" y="152" width="13" height="13"/><rect x="815" y="305" width="13" height="13"/><rect x="819" y="251" width="13" height="13"/><rect x="772" y="281" width="13" height="13"/><rect x="723" y="379" width="13" height="13"/><rect x="786" y="324" width="13" height="13"/><rect x="730" y="345" width="13" height="13"/><rect x="766" y="373" width="13" height="13"/><rect x="821" y="489" width="13" height="13"/><rect x="782" y="470" width="13" height="13"/><rect x="852" y="547" width="13" height="13"/><rect x="758" y="483" width="13" height="13"/><rect x="675" y="476" width="13" height="13"/><rect x="751" y="521" width="13" height="13"/><rect x="753" y="509" width="13" height="13"/><rect x="850" y="589" width="13" height="13"/><rect x="871" y="154" width="13" height="13"/><rect x="810" y="74" width="13" height="13"/><rect x="936" y="60" width="13" height="13"/><rect x="955" y="103" width="13" height="13"/><rect x="835" y="59" width="13" height="13"/><rect x="972" y="109" width="13" height="13"/><rect x="817" y="55" width="13" height="13"/><rect x="922" y="129" width="13" height="13"/><rect x="942" y="55" width="13" height="13"/><rect x="954" y="186" width="13" height="13"/><rect x="1052" y="191" width="13" height="13"/><rect x="941" y="245" width="13" height="13"/><rect x="983" y="128" width="13" height="13"/><rect x="943" y="253" width="13" height="13"/><rect x="1032" y="239" width="13" height="13"/><rect x="992" y="171" width="13" height="13"/><rect x="886" y="341" width="13" height="13"/><rect x="913" y="368" width="13" height="13"/><rect x="853" y="372" width="13" height="13"/><rect x="901" y="323" width="13" height="13"/><rect x="763" y="392" width="13" height="13"/><rect x="1066" y="214" width="13" height="13"/><rect x="978" y="206" width="13" height="13"/><rect x="1011" y="230" width="13" height="13"/><rect x="1313" y="254" width="13" height="13"/><rect x="1116" y="100" width="13" height="13"/><rect x="1247" y="55" width="13" height="13"/><rect x="1147" y="29" width="13" height="13"/><rect x="1141" y="1" width="13" height="13"/><rect x="1287" y="182" width="13" height="13"/><rect x="1241" y="36" width="13" height="13"/><rect x="1318" y="205" width="13" height="13"/><rect x="1296" y="207" width="13" height="13"/><rect x="1424" y="215" width="13" height="13"/><rect x="1368" y="293" width="13" height="13"/><rect x="1401" y="243" width="13" height="13"/><rect x="1369" y="358" width="13" height="13"/><rect x="1385" y="284" width="13" height="13"/><rect x="1288" y="364" width="13" height="13"/><rect x="1240" y="262" width="13" height="13"/><rect x="1314" y="335" width="13" height="13"/><rect x="1338" y="313" width="13" height="13"/><rect x="1185" y="402" width="13" height="13"/><rect x="1091" y="484" width="13" height="13"/><rect x="1158" y="489" width="13" height="13"/><rect x="1209" y="365" width="13" height="13"/><rect x="1261" y="390" width="13" height="13"/><rect x="1144" y="440" width="13" height="13"/><rect x="1098" y="324" width="13" height="13"/><rect x="1126" y="469" width="13" height="13"/><rect x="1136" y="499" width="13" height="13"/><rect x="1121" y="416" width="13" height="13"/><rect x="1002" y="445" width="13" height="13"/><rect x="957" y="305" width="13" height="13"/><rect x="1011" y="285" width="13" height="13"/><rect x="1001" y="203" width="13" height="13"/><rect x="1022" y="193" width="13" height="13"/><rect x="939" y="348" width="13" height="13"/><rect x="1194" y="104" width="13" height="13"/><rect x="1140" y="64" width="13" height="13"/><rect x="1112" y="41" width="13" height="13"/><rect x="1223" y="49" width="13" height="13"/><rect x="1237" y="96" width="13" height="13"/><rect x="1359" y="-10" width="13" height="13"/><rect x="1191" y="134" width="13" height="13"/><rect x="1369" y="-53" width="13" height="13"/><rect x="1234" y="115" width="13" height="13"/><rect x="1290" y="36" width="13" height="13"/><rect x="1282" y="69" width="13" height="13"/><rect x="1472" y="-63" width="13" height="13"/><rect x="1346" y="230" width="13" height="13"/><rect x="686" y="757" width="13" height="13"/><rect x="610" y="747" width="13" height="13"/><rect x="599" y="768" width="13" height="13"/><rect x="583" y="703" width="13" height="13"/><rect x="557" y="786" width="13" height="13"/><rect x="766" y="754" width="13" height="13"/><rect x="650" y="764" width="13" height="13"/><rect x="778" y="721" width="13" height="13"/><rect x="722" y="727" width="13" height="13"/><rect x="805" y="783" width="13" height="13"/><rect x="868" y="751" width="13" height="13"/><rect x="854" y="764" width="13" height="13"/><rect x="761" y="716" width="13" height="13"/><rect x="842" y="732" width="13" height="13"/><rect x="1043" y="835" width="13" height="13"/><rect x="917" y="780" width="13" height="13"/><rect x="910" y="816" width="13" height="13"/><rect x="930" y="874" width="13" height="13"/><rect x="879" y="856" width="13" height="13"/><rect x="965" y="1022" width="13" height="13"/><rect x="962" y="995" width="13" height="13"/><rect x="986" y="938" width="13" height="13"/><rect x="901" y="923" width="13" height="13"/><rect x="1037" y="1023" width="13" height="13"/><rect x="1037" y="1126" width="13" height="13"/><rect x="1008" y="1052" width="13" height="13"/><rect x="1006" y="1051" width="13" height="13"/><rect x="1022" y="1162" width="13" height="13"/><rect x="1054" y="1112" width="13" height="13"/><rect x="962" y="1107" width="13" height="13"/><rect x="957" y="1131" width="13" height="13"/><rect x="828" y="1126" width="13" height="13"/><rect x="911" y="1197" width="13" height="13"/><rect x="898" y="1151" width="13" height="13"/><rect x="832" y="1211" width="13" height="13"/><rect x="806" y="1053" width="13" height="13"/><rect x="779" y="1185" width="13" height="13"/><rect x="730" y="1082" width="13" height="13"/><rect x="810" y="1044" width="13" height="13"/><rect x="843" y="1104" width="13" height="13"/><rect x="695" y="1030" width="13" height="13"/><rect x="644" y="966" width="13" height="13"/><rect x="475" y="976" width="13" height="13"/><rect x="594" y="961" width="13" height="13"/><rect x="556" y="932" width="13" height="13"/><rect x="659" y="1136" width="13" height="13"/><rect x="528" y="975" width="13" height="13"/><rect x="580" y="849" width="13" height="13"/><rect x="537" y="752" width="13" height="13"/><rect x="599" y="858" width="13" height="13"/><rect x="569" y="996" width="13" height="13"/><rect x="535" y="866" width="13" height="13"/><rect x="480" y="797" width="13" height="13"/><rect x="503" y="829" width="13" height="13"/><rect x="1096" y="980" width="13" height="13"/><rect x="1026" y="947" width="13" height="13"/><rect x="1129" y="889" width="13" height="13"/><rect x="1223" y="899" width="13" height="13"/><rect x="1179" y="892" width="13" height="13"/><rect x="1155" y="976" width="13" height="13"/><rect x="1249" y="984" width="13" height="13"/><rect x="1136" y="996" width="13" height="13"/><rect x="1254" y="954" width="13" height="13"/><rect x="1257" y="948" width="13" height="13"/><rect x="1260" y="936" width="13" height="13"/><rect x="1172" y="997" width="13" height="13"/><rect x="1008" y="1178" width="13" height="13"/><rect x="993" y="1206" width="13" height="13"/><rect x="1005" y="1283" width="13" height="13"/><rect x="1035" y="1405" width="13" height="13"/><rect x="943" y="1180" width="13" height="13"/><rect x="1065" y="914" width="13" height="13"/><rect x="1149" y="932" width="13" height="13"/><rect x="1065" y="984" width="13" height="13"/><rect x="1041" y="910" width="13" height="13"/><rect x="971" y="976" width="13" height="13"/><rect x="1154" y="994" width="13" height="13"/><rect x="1285" y="990" width="13" height="13"/><rect x="1189" y="997" width="13" height="13"/><rect x="1252" y="1009" width="13" height="13"/><rect x="1269" y="1010" width="13" height="13"/><rect x="1169" y="992" width="13" height="13"/><rect x="1273" y="849" width="13" height="13"/><rect x="952" y="1215" width="13" height="13"/><rect x="900" y="1300" width="13" height="13"/><rect x="1103" y="1266" width="13" height="13"/><rect x="876" y="1372" width="13" height="13"/><rect x="1010" y="1412" width="13" height="13"/><rect x="1065" y="1235" width="13" height="13"/><rect x="992" y="1325" width="13" height="13"/><rect x="1051" y="1260" width="13" height="13"/><rect x="1029" y="1426" width="13" height="13"/><rect x="1096" y="1414" width="13" height="13"/><rect x="1052" y="1347" width="13" height="13"/></g></svg>
<svg x="870" y="381" width="164" height="164" viewBox="0 0 1440 1440" preserveAspectRatio="none"><rect width="1440" height="1440" fill="#00008f"/><g fill="#30d0ff" fill-opacity="0.75" filter="url(#speckA)"><path d="M640 90 C653.33 90 736.67 91.11 760 90 C783.33 88.89 831.11 74.44 850 80 C868.89 85.56 917.78 123.33 930 140 C942.22 156.67 952.22 211.11 960 230 C967.78 248.89 996.67 294.44 1000 310 C1003.33 325.56 1001.11 356.67 990 370 C978.89 383.33 918.89 417.78 900 430 C881.11 442.22 835.56 483.33 820 480 C804.44 476.67 771.11 420 760 400 C748.89 380 728.89 324.44 720 300 C711.11 275.56 688.89 203.33 680 180 C671.11 156.67 644.44 100 640 90"/><path d="M820 480 C825.56 475.56 851.11 447.78 870 440 C888.89 432.22 964.44 406.67 990 410 C1015.56 413.33 1074.44 460 1100 470 C1125.56 480 1214.44 492.22 1220 500 C1225.56 507.78 1165.56 533.33 1150 540 C1134.44 546.67 1097.78 548.89 1080 560 C1062.22 571.11 1010 631.11 990 640 C970 648.89 916.67 648.89 900 640 C883.33 631.11 848.89 577.78 840 560 C831.11 542.22 822.22 488.89 820 480"/><path d="M990 640 C986.67 657.78 963.33 762.22 960 800 C956.67 837.78 955.56 956.67 960 980 C964.44 1003.33 984.44 1003.33 1000 1010 C1015.56 1016.67 1074.44 1034.44 1100 1040 C1125.56 1045.56 1211.11 1066.67 1230 1060 C1248.89 1053.33 1273.33 1003.33 1270 980 C1266.67 956.67 1216.67 881.11 1200 850 C1183.33 818.89 1136.67 723.33 1120 700 C1103.33 676.67 1064.44 646.67 1050 640 C1035.56 633.33 996.67 640 990 640"/><path d="M600 650 C588.89 662.22 522.22 734.44 500 760 C477.78 785.56 420 861.11 400 880 C380 898.89 315.56 917.78 320 930 C324.44 942.22 417.78 974.44 440 990 C462.22 1005.56 500 1065.56 520 1070 C540 1074.44 604.44 1048.89 620 1030 C635.56 1011.11 658.89 927.78 660 900 C661.11 872.22 636.67 807.78 630 780 C623.33 752.22 603.33 664.44 600 650"/></g><g fill="none" stroke="#40d8f0" stroke-opacity="0.9" stroke-linecap="round" stroke-linejoin="round" filter="url(#speckB)"><path d="M640 90 C653.33 90 736.67 91.11 760 90 C783.33 88.89 831.11 74.44 850 80 C868.89 85.56 917.78 123.33 930 140 C942.22 156.67 952.22 211.11 960 230 C967.78 248.89 996.67 294.44 1000 310 C1003.33 325.56 1001.11 356.67 990 370 C978.89 383.33 918.89 417.78 900 430 C881.11 442.22 835.56 483.33 820 480 C804.44 476.67 771.11 420 760 400 C748.89 380 728.89 324.44 720 300 C711.11 275.56 688.89 203.33 680 180 C671.11 156.67 644.44 100 640 90" stroke-width="124.2"/><path d="M820 480 C825.56 475.56 851.11 447.78 870 440 C888.89 432.22 964.44 406.67 990 410 C1015.56 413.33 1074.44 460 1100 470 C1125.56 480 1214.44 492.22 1220 500 C1225.56 507.78 1165.56 533.33 1150 540 C1134.44 546.67 1097.78 548.89 1080 560 C1062.22 571.11 1010 631.11 990 640 C970 648.89 916.67 648.89 900 640 C883.33 631.11 848.89 577.78 840 560 C831.11 542.22 822.22 488.89 820 480" stroke-width="124.2"/><path d="M990 640 C986.67 657.78 963.33 762.22 960 800 C956.67 837.78 955.56 956.67 960 980 C964.44 1003.33 984.44 1003.33 1000 1010 C1015.56 1016.67 1074.44 1034.44 1100 1040 C1125.56 1045.56 1211.11 1066.67 1230 1060 C1248.89 1053.33 1273.33 1003.33 1270 980 C1266.67 956.67 1216.67 881.11 1200 850 C1183.33 818.89 1136.67 723.33 1120 700 C1103.33 676.67 1064.44 646.67 1050 640 C1035.56 633.33 996.67 640 990 640" stroke-width="124.2"/><path d="M880 700 C878.89 715.56 876.67 811.11 870 840 C863.33 868.89 832.22 935.56 820 960 C807.78 984.44 762.22 1035.56 760 1060 C757.78 1084.44 793.33 1153.33 800 1180 C806.67 1206.67 817.78 1286.67 820 1300" stroke-width="124.2"/><path d="M600 650 C588.89 662.22 522.22 734.44 500 760 C477.78 785.56 420 861.11 400 880 C380 898.89 315.56 917.78 320 930 C324.44 942.22 417.78 974.44 440 990 C462.22 1005.56 500 1065.56 520 1070 C540 1074.44 604.44 1048.89 620 1030 C635.56 1011.11 658.89 927.78 660 900 C661.11 872.22 636.67 807.78 630 780 C623.33 752.22 603.33 664.44 600 650" stroke-width="124.2"/><path d="M640 790 C655.56 784.44 753.33 750 780 740 C806.67 730 868.89 704.44 880 700" stroke-width="124.2"/><path d="M520 1070 C531.11 1073.33 600 1090 620 1100 C640 1110 684.44 1164.44 700 1160 C715.56 1155.56 753.33 1071.11 760 1060" stroke-width="124.2"/><path d="M960 980 C952.22 991.11 903.33 1055.56 890 1080 C876.67 1104.44 847.78 1175.56 840 1200 C832.22 1224.44 807.78 1285.56 820 1300 C832.22 1314.44 921.11 1330 950 1330 C978.89 1330 1065.56 1303.33 1080 1300" stroke-width="124.2"/><path d="M1230 1060 C1227.78 1070 1220 1127.78 1210 1150 C1200 1172.22 1147.78 1247.78 1140 1260" stroke-width="124.2"/><path d="M20 700 C22.22 684.44 22.22 580 40 560 C57.78 540 151.11 534.44 180 520 C208.89 505.56 286.67 440 300 430" stroke-width="76.38"/><path d="M220 1310 C235.56 1315.56 331.11 1361.11 360 1360 C388.89 1358.89 460 1320 480 1300 C500 1280 533.33 1193.33 540 1180" stroke-width="79.8"/><path d="M720 1340 L780 1380" stroke-width="96.88"/></g><g fill="none" stroke="#1070ff" stroke-opacity="0.9" stroke-linecap="round" stroke-linejoin="round" filter="url(#rough)"><path d="M640 90 C653.33 90 736.67 91.11 760 90 C783.33 88.89 831.11 74.44 850 80 C868.89 85.56 917.78 123.33 930 140 C942.22 156.67 952.22 211.11 960 230 C967.78 248.89 996.67 294.44 1000 310 C1003.33 325.56 1001.11 356.67 990 370 C978.89 383.33 918.89 417.78 900 430 C881.11 442.22 835.56 483.33 820 480 C804.44 476.67 771.11 420 760 400 C748.89 380 728.89 324.44 720 300 C711.11 275.56 688.89 203.33 680 180 C671.11 156.67 644.44 100 640 90" stroke-width="92"/><path d="M820 480 C825.56 475.56 851.11 447.78 870 440 C888.89 432.22 964.44 406.67 990 410 C1015.56 413.33 1074.44 460 1100 470 C1125.56 480 1214.44 492.22 1220 500 C1225.56 507.78 1165.56 533.33 1150 540 C1134.44 546.67 1097.78 548.89 1080 560 C1062.22 571.11 1010 631.11 990 640 C970 648.89 916.67 648.89 900 640 C883.33 631.11 848.89 577.78 840 560 C831.11 542.22 822.22 488.89 820 480" stroke-width="92"/><path d="M990 640 C986.67 657.78 963.33 762.22 960 800 C956.67 837.78 955.56 956.67 960 980 C964.44 1003.33 984.44 1003.33 1000 1010 C1015.56 1016.67 1074.44 1034.44 1100 1040 C1125.56 1045.56 1211.11 1066.67 1230 1060 C1248.89 1053.33 1273.33 1003.33 1270 980 C1266.67 956.67 1216.67 881.11 1200 850 C1183.33 818.89 1136.67 723.33 1120 700 C1103.33 676.67 1064.44 646.67 1050 640 C1035.56 633.33 996.67 640 990 640" stroke-width="92"/><path d="M880 700 C878.89 715.56 876.67 811.11 870 840 C863.33 868.89 832.22 935.56 820 960 C807.78 984.44 762.22 1035.56 760 1060 C757.78 1084.44 793.33 1153.33 800 1180 C806.67 1206.67 817.78 1286.67 820 1300" stroke-width="92"/><path d="M600 650 C588.89 662.22 522.22 734.44 500 760 C477.78 785.56 420 861.11 400 880 C380 898.89 315.56 917.78 320 930 C324.44 942.22 417.78 974.44 440 990 C462.22 1005.56 500 1065.56 520 1070 C540 1074.44 604.44 1048.89 620 1030 C635.56 1011.11 658.89 927.78 660 900 C661.11 872.22 636.67 807.78 630 780 C623.33 752.22 603.33 664.44 600 650" stroke-width="92"/><path d="M640 790 C655.56 784.44 753.33 750 780 740 C806.67 730 868.89 704.44 880 700" stroke-width="92"/><path d="M520 1070 C531.11 1073.33 600 1090 620 1100 C640 1110 684.44 1164.44 700 1160 C715.56 1155.56 753.33 1071.11 760 1060" stroke-width="92"/><path d="M960 980 C952.22 991.11 903.33 1055.56 890 1080 C876.67 1104.44 847.78 1175.56 840 1200 C832.22 1224.44 807.78 1285.56 820 1300 C832.22 1314.44 921.11 1330 950 1330 C978.89 1330 1065.56 1303.33 1080 1300" stroke-width="92"/><path d="M1230 1060 C1227.78 1070 1220 1127.78 1210 1150 C1200 1172.22 1147.78 1247.78 1140 1260" stroke-width="92"/><path d="M20 700 C22.22 684.44 22.22 580 40 560 C57.78 540 151.11 534.44 180 520 C208.89 505.56 286.67 440 300 430" stroke-width="56.58"/><path d="M220 1310 C235.56 1315.56 331.11 1361.11 360 1360 C388.89 1358.89 460 1320 480 1300 C500 1280 533.33 1193.33 540 1180" stroke-width="59.11"/><path d="M720 1340 L780 1380" stroke-width="71.76"/></g><g fill="none" stroke="#30e0e0" stroke-opacity="1" stroke-linecap="round" stroke-linejoin="round" filter="url(#rough)"><path d="M640 90 C653.33 90 736.67 91.11 760 90 C783.33 88.89 831.11 74.44 850 80 C868.89 85.56 917.78 123.33 930 140 C942.22 156.67 952.22 211.11 960 230 C967.78 248.89 996.67 294.44 1000 310 C1003.33 325.56 1001.11 356.67 990 370 C978.89 383.33 918.89 417.78 900 430 C881.11 442.22 835.56 483.33 820 480 C804.44 476.67 771.11 420 760 400 C748.89 380 728.89 324.44 720 300 C711.11 275.56 688.89 203.33 680 180 C671.11 156.67 644.44 100 640 90" stroke-width="62"/><path d="M820 480 C825.56 475.56 851.11 447.78 870 440 C888.89 432.22 964.44 406.67 990 410 C1015.56 413.33 1074.44 460 1100 470 C1125.56 480 1214.44 492.22 1220 500 C1225.56 507.78 1165.56 533.33 1150 540 C1134.44 546.67 1097.78 548.89 1080 560 C1062.22 571.11 1010 631.11 990 640 C970 648.89 916.67 648.89 900 640 C883.33 631.11 848.89 577.78 840 560 C831.11 542.22 822.22 488.89 820 480" stroke-width="62"/><path d="M990 640 C986.67 657.78 963.33 762.22 960 800 C956.67 837.78 955.56 956.67 960 980 C964.44 1003.33 984.44 1003.33 1000 1010 C1015.56 1016.67 1074.44 1034.44 1100 1040 C1125.56 1045.56 1211.11 1066.67 1230 1060 C1248.89 1053.33 1273.33 1003.33 1270 980 C1266.67 956.67 1216.67 881.11 1200 850 C1183.33 818.89 1136.67 723.33 1120 700 C1103.33 676.67 1064.44 646.67 1050 640 C1035.56 633.33 996.67 640 990 640" stroke-width="62"/><path d="M880 700 C878.89 715.56 876.67 811.11 870 840 C863.33 868.89 832.22 935.56 820 960 C807.78 984.44 762.22 1035.56 760 1060 C757.78 1084.44 793.33 1153.33 800 1180 C806.67 1206.67 817.78 1286.67 820 1300" stroke-width="62"/><path d="M600 650 C588.89 662.22 522.22 734.44 500 760 C477.78 785.56 420 861.11 400 880 C380 898.89 315.56 917.78 320 930 C324.44 942.22 417.78 974.44 440 990 C462.22 1005.56 500 1065.56 520 1070 C540 1074.44 604.44 1048.89 620 1030 C635.56 1011.11 658.89 927.78 660 900 C661.11 872.22 636.67 807.78 630 780 C623.33 752.22 603.33 664.44 600 650" stroke-width="62"/><path d="M640 790 C655.56 784.44 753.33 750 780 740 C806.67 730 868.89 704.44 880 700" stroke-width="62"/><path d="M520 1070 C531.11 1073.33 600 1090 620 1100 C640 1110 684.44 1164.44 700 1160 C715.56 1155.56 753.33 1071.11 760 1060" stroke-width="62"/><path d="M960 980 C952.22 991.11 903.33 1055.56 890 1080 C876.67 1104.44 847.78 1175.56 840 1200 C832.22 1224.44 807.78 1285.56 820 1300 C832.22 1314.44 921.11 1330 950 1330 C978.89 1330 1065.56 1303.33 1080 1300" stroke-width="62"/><path d="M1230 1060 C1227.78 1070 1220 1127.78 1210 1150 C1200 1172.22 1147.78 1247.78 1140 1260" stroke-width="62"/><path d="M20 700 C22.22 684.44 22.22 580 40 560 C57.78 540 151.11 534.44 180 520 C208.89 505.56 286.67 440 300 430" stroke-width="38.13"/><path d="M220 1310 C235.56 1315.56 331.11 1361.11 360 1360 C388.89 1358.89 460 1320 480 1300 C500 1280 533.33 1193.33 540 1180" stroke-width="39.84"/><path d="M720 1340 L780 1380" stroke-width="48.36"/></g><g fill="none" stroke="#b0f040" stroke-opacity="0.8" stroke-linecap="round" stroke-linejoin="round" filter="url(#rough)"><path d="M640 90 C653.33 90 736.67 91.11 760 90 C783.33 88.89 831.11 74.44 850 80 C868.89 85.56 917.78 123.33 930 140 C942.22 156.67 952.22 211.11 960 230 C967.78 248.89 996.67 294.44 1000 310 C1003.33 325.56 1001.11 356.67 990 370 C978.89 383.33 918.89 417.78 900 430 C881.11 442.22 835.56 483.33 820 480 C804.44 476.67 771.11 420 760 400 C748.89 380 728.89 324.44 720 300 C711.11 275.56 688.89 203.33 680 180 C671.11 156.67 644.44 100 640 90" stroke-width="26"/><path d="M820 480 C825.56 475.56 851.11 447.78 870 440 C888.89 432.22 964.44 406.67 990 410 C1015.56 413.33 1074.44 460 1100 470 C1125.56 480 1214.44 492.22 1220 500 C1225.56 507.78 1165.56 533.33 1150 540 C1134.44 546.67 1097.78 548.89 1080 560 C1062.22 571.11 1010 631.11 990 640 C970 648.89 916.67 648.89 900 640 C883.33 631.11 848.89 577.78 840 560 C831.11 542.22 822.22 488.89 820 480" stroke-width="26"/><path d="M990 640 C986.67 657.78 963.33 762.22 960 800 C956.67 837.78 955.56 956.67 960 980 C964.44 1003.33 984.44 1003.33 1000 1010 C1015.56 1016.67 1074.44 1034.44 1100 1040 C1125.56 1045.56 1211.11 1066.67 1230 1060 C1248.89 1053.33 1273.33 1003.33 1270 980 C1266.67 956.67 1216.67 881.11 1200 850 C1183.33 818.89 1136.67 723.33 1120 700 C1103.33 676.67 1064.44 646.67 1050 640 C1035.56 633.33 996.67 640 990 640" stroke-width="26"/><path d="M880 700 C878.89 715.56 876.67 811.11 870 840 C863.33 868.89 832.22 935.56 820 960 C807.78 984.44 762.22 1035.56 760 1060 C757.78 1084.44 793.33 1153.33 800 1180 C806.67 1206.67 817.78 1286.67 820 1300" stroke-width="26"/><path d="M600 650 C588.89 662.22 522.22 734.44 500 760 C477.78 785.56 420 861.11 400 880 C380 898.89 315.56 917.78 320 930 C324.44 942.22 417.78 974.44 440 990 C462.22 1005.56 500 1065.56 520 1070 C540 1074.44 604.44 1048.89 620 1030 C635.56 1011.11 658.89 927.78 660 900 C661.11 872.22 636.67 807.78 630 780 C623.33 752.22 603.33 664.44 600 650" stroke-width="26"/><path d="M640 790 C655.56 784.44 753.33 750 780 740 C806.67 730 868.89 704.44 880 700" stroke-width="26"/><path d="M520 1070 C531.11 1073.33 600 1090 620 1100 C640 1110 684.44 1164.44 700 1160 C715.56 1155.56 753.33 1071.11 760 1060" stroke-width="26"/><path d="M960 980 C952.22 991.11 903.33 1055.56 890 1080 C876.67 1104.44 847.78 1175.56 840 1200 C832.22 1224.44 807.78 1285.56 820 1300 C832.22 1314.44 921.11 1330 950 1330 C978.89 1330 1065.56 1303.33 1080 1300" stroke-width="26"/><path d="M1230 1060 C1227.78 1070 1220 1127.78 1210 1150 C1200 1172.22 1147.78 1247.78 1140 1260" stroke-width="26"/><path d="M20 700 C22.22 684.44 22.22 580 40 560 C57.78 540 151.11 534.44 180 520 C208.89 505.56 286.67 440 300 430" stroke-width="15.99"/><path d="M220 1310 C235.56 1315.56 331.11 1361.11 360 1360 C388.89 1358.89 460 1320 480 1300 C500 1280 533.33 1193.33 540 1180" stroke-width="16.71"/><path d="M720 1340 L780 1380" stroke-width="20.28"/></g><g fill="none" stroke="#ff9000" stroke-opacity="0.5" stroke-linecap="round" stroke-linejoin="round" filter="url(#rough)"><path d="M640 90 C653.33 90 736.67 91.11 760 90 C783.33 88.89 831.11 74.44 850 80 C868.89 85.56 917.78 123.33 930 140 C942.22 156.67 952.22 211.11 960 230 C967.78 248.89 996.67 294.44 1000 310 C1003.33 325.56 1001.11 356.67 990 370 C978.89 383.33 918.89 417.78 900 430 C881.11 442.22 835.56 483.33 820 480 C804.44 476.67 771.11 420 760 400 C748.89 380 728.89 324.44 720 300 C711.11 275.56 688.89 203.33 680 180 C671.11 156.67 644.44 100 640 90" stroke-width="7"/><path d="M820 480 C825.56 475.56 851.11 447.78 870 440 C888.89 432.22 964.44 406.67 990 410 C1015.56 413.33 1074.44 460 1100 470 C1125.56 480 1214.44 492.22 1220 500 C1225.56 507.78 1165.56 533.33 1150 540 C1134.44 546.67 1097.78 548.89 1080 560 C1062.22 571.11 1010 631.11 990 640 C970 648.89 916.67 648.89 900 640 C883.33 631.11 848.89 577.78 840 560 C831.11 542.22 822.22 488.89 820 480" stroke-width="7"/><path d="M990 640 C986.67 657.78 963.33 762.22 960 800 C956.67 837.78 955.56 956.67 960 980 C964.44 1003.33 984.44 1003.33 1000 1010 C1015.56 1016.67 1074.44 1034.44 1100 1040 C1125.56 1045.56 1211.11 1066.67 1230 1060 C1248.89 1053.33 1273.33 1003.33 1270 980 C1266.67 956.67 1216.67 881.11 1200 850 C1183.33 818.89 1136.67 723.33 1120 700 C1103.33 676.67 1064.44 646.67 1050 640 C1035.56 633.33 996.67 640 990 640" stroke-width="7"/><path d="M880 700 C878.89 715.56 876.67 811.11 870 840 C863.33 868.89 832.22 935.56 820 960 C807.78 984.44 762.22 1035.56 760 1060 C757.78 1084.44 793.33 1153.33 800 1180 C806.67 1206.67 817.78 1286.67 820 1300" stroke-width="7"/><path d="M600 650 C588.89 662.22 522.22 734.44 500 760 C477.78 785.56 420 861.11 400 880 C380 898.89 315.56 917.78 320 930 C324.44 942.22 417.78 974.44 440 990 C462.22 1005.56 500 1065.56 520 1070 C540 1074.44 604.44 1048.89 620 1030 C635.56 1011.11 658.89 927.78 660 900 C661.11 872.22 636.67 807.78 630 780 C623.33 752.22 603.33 664.44 600 650" stroke-width="7"/><path d="M640 790 C655.56 784.44 753.33 750 780 740 C806.67 730 868.89 704.44 880 700" stroke-width="7"/><path d="M520 1070 C531.11 1073.33 600 1090 620 1100 C640 1110 684.44 1164.44 700 1160 C715.56 1155.56 753.33 1071.11 760 1060" stroke-width="7"/><path d="M960 980 C952.22 991.11 903.33 1055.56 890 1080 C876.67 1104.44 847.78 1175.56 840 1200 C832.22 1224.44 807.78 1285.56 820 1300 C832.22 1314.44 921.11 1330 950 1330 C978.89 1330 1065.56 1303.33 1080 1300" stroke-width="7"/><path d="M1230 1060 C1227.78 1070 1220 1127.78 1210 1150 C1200 1172.22 1147.78 1247.78 1140 1260" stroke-width="7"/><path d="M20 700 C22.22 684.44 22.22 580 40 560 C57.78 540 151.11 534.44 180 520 C208.89 505.56 286.67 440 300 430" stroke-width="4.3"/><path d="M220 1310 C235.56 1315.56 331.11 1361.11 360 1360 C388.89 1358.89 460 1320 480 1300 C500 1280 533.33 1193.33 540 1180" stroke-width="4.5"/><path d="M720 1340 L780 1380" stroke-width="5.46"/></g><g fill="#30d0ff" fill-opacity="0.9"><rect x="709" y="-7" width="13" height="13"/><rect x="745" y="-34" width="13" height="13"/><rect x="514" y="118" width="13" height="13"/><rect x="739" y="74" width="13" height="13"/><rect x="803" y="154" width="13" height="13"/><rect x="849" y="87" width="13" height="13"/><rect x="866" y="40" width="13" height="13"/><rect x="871" y="60" width="13" height="13"/><rect x="901" y="119" width="13" height="13"/><rect x="929" y="169" width="13" height="13"/><rect x="960" y="106" width="13" height="13"/><rect x="878" y="206" width="13" height="13"/><rect x="1014" y="127" width="13" height="13"/><rect x="995" y="198" width="13" height="13"/><rect x="989" y="285" width="13" height="13"/><rect x="938" y="306" width="13" height="13"/><rect x="938" y="185" width="13" height="13"/><rect x="1023" y="271" width="13" height="13"/><rect x="911" y="339" width="13" height="13"/><rect x="996" y="371" width="13" height="13"/><rect x="928" y="406" width="13" height="13"/><rect x="870" y="471" width="13" height="13"/><rect x="1022" y="380" width="13" height="13"/><rect x="854" y="564" width="13" height="13"/><rect x="872" y="458" width="13" height="13"/><rect x="777" y="433" width="13" height="13"/><rect x="812" y="373" width="13" height="13"/><rect x="897" y="441" width="13" height="13"/><rect x="773" y="536" width="13" height="13"/><rect x="698" y="512" width="13" height="13"/><rect x="719" y="389" width="13" height="13"/><rect x="780" y="396" width="13" height="13"/><rect x="765" y="330" width="13" height="13"/><rect x="825" y="389" width="13" height="13"/><rect x="709" y="324" width="13" height="13"/><rect x="631" y="216" width="13" height="13"/><rect x="730" y="286" width="13" height="13"/><rect x="715" y="216" width="13" height="13"/><rect x="764" y="188" width="13" height="13"/><rect x="694" y="145" width="13" height="13"/><rect x="699" y="128" width="13" height="13"/><rect x="769" y="138" width="13" height="13"/><rect x="807" y="459" width="13" height="13"/><rect x="811" y="456" width="13" height="13"/><rect x="950" y="470" width="13" height="13"/><rect x="1063" y="391" width="13" height="13"/><rect x="917" y="445" width="13" height="13"/><rect x="924" y="323" width="13" height="13"/><rect x="1051" y="339" width="13" height="13"/><rect x="1018" y="372" width="13" height="13"/><rect x="1017" y="388" width="13" height="13"/><rect x="1053" y="355" width="13" height="13"/><rect x="1097" y="400" width="13" height="13"/><rect x="1238" y="492" width="13" height="13"/><rect x="1101" y="423" width="13" height="13"/><rect x="1138" y="415" width="13" height="13"/><rect x="1086" y="409" width="13" height="13"/><rect x="1099" y="618" width="13" height="13"/><rect x="1102" y="395" width="13" height="13"/><rect x="1085" y="530" width="13" height="13"/><rect x="1205" y="432" width="13" height="13"/><rect x="1085" y="467" width="13" height="13"/><rect x="1059" y="702" width="13" height="13"/><rect x="998" y="556" width="13" height="13"/><rect x="1035" y="532" width="13" height="13"/><rect x="1047" y="623" width="13" height="13"/><rect x="927" y="608" width="13" height="13"/><rect x="917" y="628" width="13" height="13"/><rect x="950" y="658" width="13" height="13"/><rect x="877" y="661" width="13" height="13"/><rect x="948" y="638" width="13" height="13"/><rect x="821" y="562" width="13" height="13"/><rect x="887" y="619" width="13" height="13"/><rect x="821" y="583" width="13" height="13"/><rect x="863" y="504" width="13" height="13"/><rect x="820" y="541" width="13" height="13"/><rect x="935" y="788" width="13" height="13"/><rect x="985" y="741" width="13" height="13"/><rect x="932" y="728" width="13" height="13"/><rect x="927" y="622" width="13" height="13"/><rect x="1035" y="778" width="13" height="13"/><rect x="981" y="694" width="13" height="13"/><rect x="890" y="788" width="13" height="13"/><rect x="880" y="741" width="13" height="13"/><rect x="924" y="884" width="13" height="13"/><rect x="1012" y="843" width="13" height="13"/><rect x="1023" y="934" width="13" height="13"/><rect x="1023" y="839" width="13" height="13"/><rect x="893" y="1018" width="13" height="13"/><rect x="965" y="1055" width="13" height="13"/><rect x="921" y="942" width="13" height="13"/><rect x="1049" y="917" width="13" height="13"/><rect x="958" y="1001" width="13" height="13"/><rect x="1101" y="997" width="13" height="13"/><rect x="1119" y="1154" width="13" height="13"/><rect x="1089" y="1006" width="13" height="13"/><rect x="1111" y="997" width="13" height="13"/><rect x="1118" y="995" width="13" height="13"/><rect x="1145" y="1090" width="13" height="13"/><rect x="1118" y="1062" width="13" height="13"/><rect x="1247" y="992" width="13" height="13"/><rect x="1122" y="1073" width="13" height="13"/><rect x="1256" y="986" width="13" height="13"/><rect x="1150" y="910" width="13" height="13"/><rect x="1177" y="841" width="13" height="13"/><rect x="1164" y="897" width="13" height="13"/><rect x="1225" y="912" width="13" height="13"/><rect x="1307" y="914" width="13" height="13"/><rect x="1103" y="764" width="13" height="13"/><rect x="1163" y="716" width="13" height="13"/><rect x="1100" y="758" width="13" height="13"/><rect x="1215" y="860" width="13" height="13"/><rect x="1171" y="744" width="13" height="13"/><rect x="1155" y="648" width="13" height="13"/><rect x="1092" y="548" width="13" height="13"/><rect x="1044" y="623" width="13" height="13"/><rect x="1076" y="727" width="13" height="13"/><rect x="985" y="611" width="13" height="13"/><rect x="1059" y="624" width="13" height="13"/><rect x="845" y="802" width="13" height="13"/><rect x="899" y="794" width="13" height="13"/><rect x="893" y="761" width="13" height="13"/><rect x="868" y="667" width="13" height="13"/><rect x="835" y="738" width="13" height="13"/><rect x="710" y="920" width="13" height="13"/><rect x="931" y="914" width="13" height="13"/><rect x="818" y="810" width="13" height="13"/><rect x="752" y="923" width="13" height="13"/><rect x="816" y="858" width="13" height="13"/><rect x="745" y="1031" width="13" height="13"/><rect x="743" y="1048" width="13" height="13"/><rect x="790" y="899" width="13" height="13"/><rect x="803" y="947" width="13" height="13"/><rect x="731" y="1052" width="13" height="13"/><rect x="746" y="1171" width="13" height="13"/><rect x="878" y="1171" width="13" height="13"/><rect x="841" y="1176" width="13" height="13"/><rect x="791" y="1168" width="13" height="13"/><rect x="767" y="1208" width="13" height="13"/><rect x="766" y="1160" width="13" height="13"/><rect x="766" y="1273" width="13" height="13"/><rect x="784" y="1241" width="13" height="13"/><rect x="457" y="661" width="13" height="13"/><rect x="596" y="644" width="13" height="13"/><rect x="459" y="675" width="13" height="13"/><rect x="572" y="701" width="13" height="13"/><rect x="691" y="700" width="13" height="13"/><rect x="452" y="816" width="13" height="13"/><rect x="511" y="767" width="13" height="13"/><rect x="432" y="816" width="13" height="13"/><rect x="513" y="823" width="13" height="13"/><rect x="484" y="784" width="13" height="13"/><rect x="468" y="822" width="13" height="13"/><rect x="382" y="957" width="13" height="13"/><rect x="444" y="857" width="13" height="13"/><rect x="293" y="850" width="13" height="13"/><rect x="402" y="949" width="13" height="13"/><rect x="379" y="1049" width="13" height="13"/><rect x="426" y="1005" width="13" height="13"/><rect x="325" y="953" width="13" height="13"/><rect x="419" y="945" width="13" height="13"/><rect x="420" y="1023" width="13" height="13"/><rect x="492" y="1016" width="13" height="13"/><rect x="397" y="893" width="13" height="13"/><rect x="355" y="1104" width="13" height="13"/><rect x="609" y="1105" width="13" height="13"/><rect x="627" y="1072" width="13" height="13"/><rect x="568" y="1024" width="13" height="13"/><rect x="635" y="1117" width="13" height="13"/><rect x="656" y="958" width="13" height="13"/><rect x="682" y="1015" width="13" height="13"/><rect x="620" y="1078" width="13" height="13"/><rect x="646" y="995" width="13" height="13"/><rect x="687" y="962" width="13" height="13"/><rect x="625" y="847" width="13" height="13"/><rect x="704" y="905" width="13" height="13"/><rect x="543" y="726" width="13" height="13"/><rect x="721" y="881" width="13" height="13"/><rect x="567" y="693" width="13" height="13"/><rect x="592" y="578" width="13" height="13"/><rect x="523" y="772" width="13" height="13"/><rect x="658" y="782" width="13" height="13"/><rect x="641" y="667" width="13" height="13"/><rect x="699" y="790" width="13" height="13"/><rect x="724" y="807" width="13" height="13"/><rect x="721" y="780" width="13" height="13"/><rect x="773" y="765" width="13" height="13"/><rect x="662" y="793" width="13" height="13"/><rect x="786" y="807" width="13" height="13"/><rect x="899" y="669" width="13" height="13"/><rect x="802" y="682" width="13" height="13"/><rect x="785" y="593" width="13" height="13"/><rect x="579" y="1050" width="13" height="13"/><rect x="579" y="1113" width="13" height="13"/><rect x="547" y="1109" width="13" height="13"/><rect x="583" y="1109" width="13" height="13"/><rect x="668" y="1141" width="13" height="13"/><rect x="659" y="1140" width="13" height="13"/><rect x="760" y="1127" width="13" height="13"/><rect x="591" y="1136" width="13" height="13"/><rect x="792" y="1132" width="13" height="13"/><rect x="746" y="1052" width="13" height="13"/><rect x="772" y="1183" width="13" height="13"/><rect x="817" y="1078" width="13" height="13"/><rect x="901" y="1103" width="13" height="13"/><rect x="873" y="1049" width="13" height="13"/><rect x="968" y="1030" width="13" height="13"/><rect x="870" y="1062" width="13" height="13"/><rect x="833" y="1186" width="13" height="13"/><rect x="911" y="1212" width="13" height="13"/><rect x="906" y="1100" width="13" height="13"/><rect x="872" y="1142" width="13" height="13"/><rect x="804" y="1219" width="13" height="13"/><rect x="810" y="1257" width="13" height="13"/><rect x="877" y="1207" width="13" height="13"/><rect x="802" y="1279" width="13" height="13"/><rect x="808" y="1284" width="13" height="13"/><rect x="913" y="1355" width="13" height="13"/><rect x="967" y="1420" width="13" height="13"/><rect x="817" y="1209" width="13" height="13"/><rect x="917" y="1267" width="13" height="13"/><rect x="748" y="1294" width="13" height="13"/><rect x="937" y="1355" width="13" height="13"/><rect x="932" y="1379" width="13" height="13"/><rect x="995" y="1262" width="13" height="13"/><rect x="1127" y="1186" width="13" height="13"/><rect x="1007" y="1249" width="13" height="13"/><rect x="1165" y="1187" width="13" height="13"/><rect x="1171" y="1114" width="13" height="13"/><rect x="1272" y="1093" width="13" height="13"/><rect x="1174" y="1126" width="13" height="13"/><rect x="1228" y="1164" width="13" height="13"/><rect x="1242" y="1269" width="13" height="13"/><rect x="1276" y="1192" width="13" height="13"/><rect x="1209" y="1149" width="13" height="13"/><rect x="49" y="678" width="13" height="13"/><rect x="48" y="723" width="13" height="13"/><rect x="27" y="626" width="13" height="13"/><rect x="62" y="717" width="13" height="13"/><rect x="102" y="533" width="13" height="13"/><rect x="159" y="597" width="13" height="13"/><rect x="105" y="485" width="13" height="13"/><rect x="175" y="570" width="13" height="13"/><rect x="-6" y="467" width="13" height="13"/><rect x="0" y="483" width="13" height="13"/><rect x="272" y="527" width="13" height="13"/><rect x="343" y="383" width="13" height="13"/><rect x="169" y="512" width="13" height="13"/><rect x="274" y="480" width="13" height="13"/><rect x="287" y="458" width="13" height="13"/><rect x="236" y="564" width="13" height="13"/><rect x="318" y="1372" width="13" height="13"/><rect x="252" y="1272" width="13" height="13"/><rect x="380" y="1370" width="13" height="13"/><rect x="383" y="1338" width="13" height="13"/><rect x="262" y="1253" width="13" height="13"/><rect x="352" y="1246" width="13" height="13"/><rect x="446" y="1352" width="13" height="13"/><rect x="405" y="1367" width="13" height="13"/><rect x="507" y="1379" width="13" height="13"/><rect x="488" y="1225" width="13" height="13"/><rect x="645" y="1151" width="13" height="13"/><rect x="542" y="1219" width="13" height="13"/><rect x="520" y="1302" width="13" height="13"/><rect x="422" y="1276" width="13" height="13"/><rect x="572" y="1238" width="13" height="13"/><rect x="733" y="1381" width="13" height="13"/><rect x="697" y="1423" width="13" height="13"/></g></svg>
<svg x="1041" y="381" width="165" height="164" viewBox="0 0 1440 1440" preserveAspectRatio="none"><rect width="1440" height="1440" fill="#00008f"/></svg>
<svg x="701" y="753" width="159" height="159" viewBox="0 0 1440 1440" preserveAspectRatio="none"><rect width="1440" height="1440" fill="#000300"/><g fill="#0a300a" filter="url(#blur30)"><path d="M640 430 C653.33 423.33 731.11 375.56 760 370 C788.89 364.44 873.33 363.33 900 380 C926.67 396.67 986.67 496.67 1000 520 C1013.33 543.33 1024.44 574.44 1020 590 C1015.56 605.56 977.78 643.33 960 660 C942.22 676.67 882.22 733.33 860 740 C837.78 746.67 777.78 726.67 760 720 C742.22 713.33 710 697.78 700 680 C690 662.22 676.67 587.78 670 560 C663.33 532.22 643.33 444.44 640 430" fill-opacity="0.5"/><path d="M490 800 C497.78 791.11 542.22 731.11 560 720 C577.78 708.89 630 698.89 650 700 C670 701.11 724.44 716.67 740 730 C755.56 743.33 784.44 801.11 790 820 C795.56 838.89 795.56 884.44 790 900 C784.44 915.56 758.89 952.78 740 960 C721.11 967.22 642.22 969.44 620 965 C597.78 960.56 555.56 931.67 540 920 C524.44 908.33 485.56 873.33 480 860 C474.44 846.67 488.89 806.67 490 800" fill-opacity="0.5"/><path d="M150 700 C164.44 697.78 252.22 681.11 280 680 C307.78 678.89 385.56 676.67 400 690 C414.44 703.33 415.56 784.44 410 800 C404.44 815.56 375.56 827.78 350 830 C324.44 832.22 202.22 834.44 180 820 C157.78 805.56 153.33 713.33 150 700" fill-opacity="0.4"/><path d="M250 1080 C257.78 1071.11 301.11 1016.67 320 1000 C338.89 983.33 394.44 925.56 420 930 C445.56 934.44 525.56 1035.56 550 1040 C574.44 1044.44 616.67 977.78 640 970 C663.33 962.22 744.44 962.22 760 970 C775.56 977.78 786.67 1024.44 780 1040 C773.33 1055.56 710 1092.22 700 1110 C690 1127.78 698.89 1183.33 690 1200 C681.11 1216.67 638.89 1254.44 620 1260 C601.11 1265.56 544.44 1254.44 520 1250 C495.56 1245.56 418.89 1230 400 1220 C381.11 1210 366.67 1175.56 350 1160 C333.33 1144.44 261.11 1088.89 250 1080" fill-opacity="0.5"/><path d="M1060 280 C1066.67 273.33 1104.44 227.78 1120 220 C1135.56 212.22 1180 205.56 1200 210 C1220 214.44 1280 246.67 1300 260 C1320 273.33 1380 312.22 1380 330 C1380 347.78 1320 405.56 1300 420 C1280 434.44 1222.22 461.11 1200 460 C1177.78 458.89 1115.56 430 1100 410 C1084.44 390 1064.44 294.44 1060 280" fill-opacity="0.25"/></g><path d="M640 430 C653.33 423.33 731.11 375.56 760 370 C788.89 364.44 873.33 363.33 900 380 C926.67 396.67 986.67 496.67 1000 520 C1013.33 543.33 1024.44 574.44 1020 590 C1015.56 605.56 977.78 643.33 960 660 C942.22 676.67 882.22 733.33 860 740 C837.78 746.67 777.78 726.67 760 720 C742.22 713.33 710 697.78 700 680 C690 662.22 673.33 573.33 670 560" fill="#1d5a14" filter="url(#blur30)"/><g fill="none" stroke="#20a018" stroke-linecap="round" stroke-linejoin="round" filter="url(#blur20)"><path d="M640 430 C653.33 423.33 731.11 375.56 760 370 C788.89 364.44 873.33 363.33 900 380 C926.67 396.67 986.67 496.67 1000 520 C1013.33 543.33 1024.44 574.44 1020 590 C1015.56 605.56 977.78 643.33 960 660 C942.22 676.67 882.22 733.33 860 740 C837.78 746.67 777.78 726.67 760 720 C742.22 713.33 710 697.78 700 680 C690 662.22 676.67 587.78 670 560 C663.33 532.22 643.33 444.44 640 430" stroke-opacity="0.35" stroke-width="34"/><path d="M490 800 C497.78 791.11 542.22 731.11 560 720 C577.78 708.89 630 698.89 650 700 C670 701.11 724.44 716.67 740 730 C755.56 743.33 784.44 801.11 790 820 C795.56 838.89 795.56 884.44 790 900 C784.44 915.56 758.89 952.78 740 960 C721.11 967.22 642.22 969.44 620 965 C597.78 960.56 555.56 931.67 540 920 C524.44 908.33 485.56 873.33 480 860 C474.44 846.67 488.89 806.67 490 800" stroke-opacity="0.35" stroke-width="34"/><path d="M150 700 C164.44 697.78 252.22 681.11 280 680 C307.78 678.89 385.56 676.67 400 690 C414.44 703.33 415.56 784.44 410 800 C404.44 815.56 375.56 827.78 350 830 C324.44 832.22 202.22 834.44 180 820 C157.78 805.56 153.33 713.33 150 700" stroke-opacity="0.28" stroke-width="31.28"/><path d="M1300 560 C1307.78 552.22 1355.56 498.89 1370 490 C1384.44 481.11 1423.33 481.11 1430 480" stroke-opacity="0.35" stroke-width="34"/><path d="M1300 560 C1304.44 573.33 1325.56 665.56 1340 680 C1354.44 694.44 1420 688.89 1430 690" stroke-opacity="0.35" stroke-width="34"/><path d="M250 1080 C257.78 1071.11 301.11 1016.67 320 1000 C338.89 983.33 394.44 925.56 420 930 C445.56 934.44 525.56 1035.56 550 1040 C574.44 1044.44 616.67 977.78 640 970 C663.33 962.22 744.44 962.22 760 970 C775.56 977.78 786.67 1024.44 780 1040 C773.33 1055.56 710 1092.22 700 1110 C690 1127.78 698.89 1183.33 690 1200 C681.11 1216.67 638.89 1254.44 620 1260 C601.11 1265.56 544.44 1254.44 520 1250 C495.56 1245.56 418.89 1230 400 1220 C381.11 1210 366.67 1175.56 350 1160 C333.33 1144.44 261.11 1088.89 250 1080" stroke-opacity="0.35" stroke-width="34"/><path d="M380 1120 C386.67 1113.33 422.22 1068.89 440 1060 C457.78 1051.11 528.89 1042.22 540 1040" stroke-opacity="0.32" stroke-width="32.64"/><path d="M560 1040 C563.33 1048.89 575.56 1111.11 590 1120 C604.44 1128.89 678.89 1120 690 1120" stroke-opacity="0.32" stroke-width="32.64"/><path d="M350 1160 L420 1220" stroke-opacity="0.32" stroke-width="32.64"/><path d="M690 1200 C697.78 1203.33 741.11 1232.22 760 1230 C778.89 1227.78 847.78 1196.67 860 1180 C872.22 1163.33 873.33 1100 870 1080 C866.67 1060 842.22 1012.22 830 1000 C817.78 987.78 767.78 973.33 760 970" stroke-opacity="0.32" stroke-width="32.64"/><path d="M400 1220 C393.33 1228.89 362.22 1287.78 340 1300 C317.78 1312.22 218.89 1314.44 200 1330 C181.11 1345.56 173.33 1427.78 170 1440" stroke-opacity="0.28" stroke-width="31.28"/><path d="M570 1260 L580 1440" stroke-opacity="0.28" stroke-width="31.28"/><path d="M760 1230 C764.44 1246.67 786.67 1358.89 800 1380 C813.33 1401.11 865.56 1423.33 880 1420 C894.44 1416.67 924.44 1370 930 1350 C935.56 1330 937.78 1258.89 930 1240 C922.22 1221.11 867.78 1186.67 860 1180" stroke-opacity="0.28" stroke-width="31.28"/><path d="M930 1350 L990 1440" stroke-opacity="0.21" stroke-width="28.56"/><path d="M130 240 C148.89 230 265.56 151.11 300 150 C334.44 148.89 406.67 230 440 230 C473.33 230 571.11 154.44 600 150 C628.89 145.56 661.11 186.67 700 190 C738.89 193.33 922.22 181.11 950 180" stroke-opacity="0.1" stroke-width="24.48"/><path d="M180 370 C204.44 366.67 353.33 334.44 400 340 C446.67 345.56 577.78 411.11 600 420" stroke-opacity="0.1" stroke-width="24.48"/><path d="M440 230 L420 350" stroke-opacity="0.1" stroke-width="24.48"/><path d="M1060 280 C1066.67 273.33 1104.44 227.78 1120 220 C1135.56 212.22 1180 205.56 1200 210 C1220 214.44 1280 246.67 1300 260 C1320 273.33 1380 312.22 1380 330 C1380 347.78 1320 405.56 1300 420 C1280 434.44 1222.22 461.11 1200 460 C1177.78 458.89 1115.56 430 1100 410 C1084.44 390 1064.44 294.44 1060 280" stroke-opacity="0.17" stroke-width="27.2"/><path d="M1180 130 C1187.78 140 1230 202.22 1250 220 C1270 237.78 1341.11 285.56 1360 290 C1378.89 294.44 1413.33 263.33 1420 260" stroke-opacity="0.16" stroke-width="26.52"/><path d="M1380 80 L1420 240" stroke-opacity="0.14" stroke-width="25.84"/><path d="M860 1000 C871.11 995.56 937.78 961.11 960 960 C982.22 958.89 1041.11 976.67 1060 990 C1078.89 1003.33 1121.11 1054.44 1130 1080 C1138.89 1105.56 1132.22 1201.11 1140 1220 C1147.78 1238.89 1186.67 1243.33 1200 1250 C1213.33 1256.67 1253.33 1276.67 1260 1280" stroke-opacity="0.16" stroke-width="26.52"/><path d="M1000 900 C1017.78 896.67 1130 862.22 1160 870 C1190 877.78 1263.33 946.67 1270 970 C1276.67 993.33 1230 1050 1220 1080 C1210 1110 1184.44 1222.22 1180 1240" stroke-opacity="0.14" stroke-width="25.84"/><path d="M30 950 C42.22 972.22 125.56 1111.11 140 1150 C154.44 1188.89 157.78 1283.33 160 1300" stroke-opacity="0.1" stroke-width="24.48"/></g><g fill="none" stroke="#50f040" stroke-linecap="round" stroke-linejoin="round" filter="url(#grain)"><path d="M640 430 C653.33 423.33 731.11 375.56 760 370 C788.89 364.44 873.33 363.33 900 380 C926.67 396.67 986.67 496.67 1000 520 C1013.33 543.33 1024.44 574.44 1020 590 C1015.56 605.56 977.78 643.33 960 660 C942.22 676.67 882.22 733.33 860 740 C837.78 746.67 777.78 726.67 760 720 C742.22 713.33 710 697.78 700 680 C690 662.22 676.67 587.78 670 560 C663.33 532.22 643.33 444.44 640 430" stroke-opacity="1" stroke-width="12"/><path d="M490 800 C497.78 791.11 542.22 731.11 560 720 C577.78 708.89 630 698.89 650 700 C670 701.11 724.44 716.67 740 730 C755.56 743.33 784.44 801.11 790 820 C795.56 838.89 795.56 884.44 790 900 C784.44 915.56 758.89 952.78 740 960 C721.11 967.22 642.22 969.44 620 965 C597.78 960.56 555.56 931.67 540 920 C524.44 908.33 485.56 873.33 480 860 C474.44 846.67 488.89 806.67 490 800" stroke-opacity="1" stroke-width="12"/><path d="M150 700 C164.44 697.78 252.22 681.11 280 680 C307.78 678.89 385.56 676.67 400 690 C414.44 703.33 415.56 784.44 410 800 C404.44 815.56 375.56 827.78 350 830 C324.44 832.22 202.22 834.44 180 820 C157.78 805.56 153.33 713.33 150 700" stroke-opacity="0.8" stroke-width="10.8"/><path d="M1300 560 C1307.78 552.22 1355.56 498.89 1370 490 C1384.44 481.11 1423.33 481.11 1430 480" stroke-opacity="1" stroke-width="12"/><path d="M1300 560 C1304.44 573.33 1325.56 665.56 1340 680 C1354.44 694.44 1420 688.89 1430 690" stroke-opacity="1" stroke-width="12"/><path d="M250 1080 C257.78 1071.11 301.11 1016.67 320 1000 C338.89 983.33 394.44 925.56 420 930 C445.56 934.44 525.56 1035.56 550 1040 C574.44 1044.44 616.67 977.78 640 970 C663.33 962.22 744.44 962.22 760 970 C775.56 977.78 786.67 1024.44 780 1040 C773.33 1055.56 710 1092.22 700 1110 C690 1127.78 698.89 1183.33 690 1200 C681.11 1216.67 638.89 1254.44 620 1260 C601.11 1265.56 544.44 1254.44 520 1250 C495.56 1245.56 418.89 1230 400 1220 C381.11 1210 366.67 1175.56 350 1160 C333.33 1144.44 261.11 1088.89 250 1080" stroke-opacity="1" stroke-width="12"/><path d="M380 1120 C386.67 1113.33 422.22 1068.89 440 1060 C457.78 1051.11 528.89 1042.22 540 1040" stroke-opacity="0.9" stroke-width="11.4"/><path d="M560 1040 C563.33 1048.89 575.56 1111.11 590 1120 C604.44 1128.89 678.89 1120 690 1120" stroke-opacity="0.9" stroke-width="11.4"/><path d="M350 1160 L420 1220" stroke-opacity="0.9" stroke-width="11.4"/><path d="M690 1200 C697.78 1203.33 741.11 1232.22 760 1230 C778.89 1227.78 847.78 1196.67 860 1180 C872.22 1163.33 873.33 1100 870 1080 C866.67 1060 842.22 1012.22 830 1000 C817.78 987.78 767.78 973.33 760 970" stroke-opacity="0.9" stroke-width="11.4"/><path d="M400 1220 C393.33 1228.89 362.22 1287.78 340 1300 C317.78 1312.22 218.89 1314.44 200 1330 C181.11 1345.56 173.33 1427.78 170 1440" stroke-opacity="0.8" stroke-width="10.8"/><path d="M570 1260 L580 1440" stroke-opacity="0.8" stroke-width="10.8"/><path d="M760 1230 C764.44 1246.67 786.67 1358.89 800 1380 C813.33 1401.11 865.56 1423.33 880 1420 C894.44 1416.67 924.44 1370 930 1350 C935.56 1330 937.78 1258.89 930 1240 C922.22 1221.11 867.78 1186.67 860 1180" stroke-opacity="0.8" stroke-width="10.8"/><path d="M930 1350 L990 1440" stroke-opacity="0.6" stroke-width="9.6"/><path d="M130 240 C148.89 230 265.56 151.11 300 150 C334.44 148.89 406.67 230 440 230 C473.33 230 571.11 154.44 600 150 C628.89 145.56 661.11 186.67 700 190 C738.89 193.33 922.22 181.11 950 180" stroke-opacity="0.3" stroke-width="7.8"/><path d="M180 370 C204.44 366.67 353.33 334.44 400 340 C446.67 345.56 577.78 411.11 600 420" stroke-opacity="0.3" stroke-width="7.8"/><path d="M440 230 L420 350" stroke-opacity="0.3" stroke-width="7.8"/><path d="M1060 280 C1066.67 273.33 1104.44 227.78 1120 220 C1135.56 212.22 1180 205.56 1200 210 C1220 214.44 1280 246.67 1300 260 C1320 273.33 1380 312.22 1380 330 C1380 347.78 1320 405.56 1300 420 C1280 434.44 1222.22 461.11 1200 460 C1177.78 458.89 1115.56 430 1100 410 C1084.44 390 1064.44 294.44 1060 280" stroke-opacity="0.5" stroke-width="9"/><path d="M1180 130 C1187.78 140 1230 202.22 1250 220 C1270 237.78 1341.11 285.56 1360 290 C1378.89 294.44 1413.33 263.33 1420 260" stroke-opacity="0.45" stroke-width="8.7"/><path d="M1380 80 L1420 240" stroke-opacity="0.4" stroke-width="8.4"/><path d="M860 1000 C871.11 995.56 937.78 961.11 960 960 C982.22 958.89 1041.11 976.67 1060 990 C1078.89 1003.33 1121.11 1054.44 1130 1080 C1138.89 1105.56 1132.22 1201.11 1140 1220 C1147.78 1238.89 1186.67 1243.33 1200 1250 C1213.33 1256.67 1253.33 1276.67 1260 1280" stroke-opacity="0.45" stroke-width="8.7"/><path d="M1000 900 C1017.78 896.67 1130 862.22 1160 870 C1190 877.78 1263.33 946.67 1270 970 C1276.67 993.33 1230 1050 1220 1080 C1210 1110 1184.44 1222.22 1180 1240" stroke-opacity="0.4" stroke-width="8.4"/><path d="M30 950 C42.22 972.22 125.56 1111.11 140 1150 C154.44 1188.89 157.78 1283.33 160 1300" stroke-opacity="0.3" stroke-width="7.8"/></g><rect x="1045" y="1322" width="275" height="26" fill="#fff"/></svg>
<svg x="865" y="753" width="158" height="159" viewBox="0 0 1440 1440" preserveAspectRatio="none"><rect width="1440" height="1440" fill="#000300"/><g fill="#0a300a" filter="url(#blur30)"><path d="M220 380 C228.89 368.89 280 297.78 300 280 C320 262.22 382.22 222.22 400 220 C417.78 217.78 452.22 240 460 260 C467.78 280 472.22 371.11 470 400 C467.78 428.89 456.67 496.67 440 520 C423.33 543.33 344.44 607.78 320 610 C295.56 612.22 233.33 556.67 220 540 C206.67 523.33 200 477.78 200 460 C200 442.22 217.78 388.89 220 380" fill-opacity="0.38"/><path d="M690 420 C693.33 404.44 707.78 304.44 720 280 C732.22 255.56 782.22 202.22 800 200 C817.78 197.78 867.78 237.78 880 260 C892.22 282.22 907.78 366.67 910 400 C912.22 433.33 905.56 540 900 560 C894.44 580 873.33 582.22 860 580 C846.67 577.78 797.78 551.11 780 540 C762.22 528.89 710 493.33 700 480 C690 466.67 691.11 426.67 690 420" fill-opacity="0.4"/></g><g fill="none" stroke="#20a018" stroke-linecap="round" stroke-linejoin="round" filter="url(#blur20)"><path d="M220 380 C228.89 368.89 280 297.78 300 280 C320 262.22 382.22 222.22 400 220 C417.78 217.78 452.22 240 460 260 C467.78 280 472.22 371.11 470 400 C467.78 428.89 456.67 496.67 440 520 C423.33 543.33 344.44 607.78 320 610 C295.56 612.22 233.33 556.67 220 540 C206.67 523.33 200 477.78 200 460 C200 442.22 217.78 388.89 220 380" stroke-opacity="0.26" stroke-width="30.6"/><path d="M320 610 C317.78 620 300 673.33 300 700 C300 726.67 308.89 818.89 320 850 C331.11 881.11 386.67 963.33 400 980 C413.33 996.67 435.56 997.78 440 1000" stroke-opacity="0.23" stroke-width="29.24"/><path d="M500 600 C497.78 616.67 481.11 716.67 480 750 C478.89 783.33 483.33 876.67 490 900 C496.67 923.33 527.78 950 540 960 C552.22 970 582.22 992.22 600 990 C617.78 987.78 682.22 956.67 700 940 C717.78 923.33 751.11 858.89 760 840 C768.89 821.11 786.67 785.56 780 770 C773.33 754.44 717.78 716.67 700 700 C682.22 683.33 633.33 637.78 620 620 C606.67 602.22 584.44 548.89 580 540" stroke-opacity="0.24" stroke-width="29.92"/><path d="M690 420 C693.33 404.44 707.78 304.44 720 280 C732.22 255.56 782.22 202.22 800 200 C817.78 197.78 867.78 237.78 880 260 C892.22 282.22 907.78 366.67 910 400 C912.22 433.33 905.56 540 900 560 C894.44 580 873.33 582.22 860 580 C846.67 577.78 797.78 551.11 780 540 C762.22 528.89 710 493.33 700 480 C690 466.67 691.11 426.67 690 420" stroke-opacity="0.28" stroke-width="31.28"/><path d="M880 580 C878.89 593.33 881.11 678.89 870 700 C858.89 721.11 790 762.22 780 770" stroke-opacity="0.24" stroke-width="29.92"/><path d="M920 620 C928.89 616.67 982.22 593.33 1000 590 C1017.78 586.67 1063.33 582.22 1080 590 C1096.67 597.78 1144.44 641.11 1150 660 C1155.56 678.89 1140 743.33 1130 760 C1120 776.67 1067.78 804.44 1060 810" stroke-opacity="0.21" stroke-width="28.56"/><path d="M920 300 C935.56 300 1040 286.67 1060 300 C1080 313.33 1093.33 391.11 1100 420 C1106.67 448.89 1117.78 544.44 1120 560" stroke-opacity="0.12" stroke-width="25.16"/><path d="M880 940 C884.44 930 901.11 864.44 920 850 C938.89 835.56 1031.11 810 1050 810 C1068.89 810 1083.33 834.44 1090 850 C1096.67 865.56 1105.56 933.33 1110 950 C1114.44 966.67 1127.78 994.44 1130 1000" stroke-opacity="0.35" stroke-width="34"/><path d="M870 950 C871.11 954.44 870 984.44 880 990 C890 995.56 940 994.44 960 1000 C980 1005.56 1046.67 1028.89 1060 1040 C1073.33 1051.11 1088.89 1086.67 1080 1100 C1071.11 1113.33 1002.22 1153.33 980 1160 C957.78 1166.67 894.44 1165.56 880 1160 C865.56 1154.44 854.44 1126.67 850 1110 C845.56 1093.33 836.67 1023.33 840 1010 C843.33 996.67 875.56 992.22 880 990" stroke-opacity="0.35" stroke-width="34"/><path d="M1130 950 C1128.89 966.67 1125.56 1070 1120 1100 C1114.44 1130 1088.89 1196.67 1080 1220 C1071.11 1243.33 1051.11 1305.56 1040 1310 C1028.89 1314.44 997.78 1272.22 980 1260 C962.22 1247.78 897.78 1207.78 880 1200 C862.22 1192.22 833.33 1184.44 820 1190 C806.67 1195.56 767.78 1236.67 760 1250 C752.22 1263.33 741.11 1295.56 750 1310 C758.89 1324.44 818.89 1374.44 840 1380 C861.11 1385.56 917.78 1367.78 940 1360 C962.22 1352.22 1028.89 1315.56 1040 1310" stroke-opacity="0.35" stroke-width="34"/><path d="M1040 1310 L1100 1380" stroke-opacity="0.32" stroke-width="32.64"/><path d="M1180 1000 C1181.11 1022.22 1181.11 1167.78 1190 1200 C1198.89 1232.22 1244.44 1267.78 1260 1290 C1275.56 1312.22 1322.22 1387.78 1330 1400" stroke-opacity="0.12" stroke-width="25.16"/><path d="M80 700 C87.78 722.22 130 866.67 150 900 C170 933.33 247.78 988.89 260 1000" stroke-opacity="0.09" stroke-width="23.8"/><path d="M460 90 L480 250" stroke-opacity="0.14" stroke-width="25.84"/></g><g fill="none" stroke="#50f040" stroke-linecap="round" stroke-linejoin="round" filter="url(#grain)"><path d="M220 380 C228.89 368.89 280 297.78 300 280 C320 262.22 382.22 222.22 400 220 C417.78 217.78 452.22 240 460 260 C467.78 280 472.22 371.11 470 400 C467.78 428.89 456.67 496.67 440 520 C423.33 543.33 344.44 607.78 320 610 C295.56 612.22 233.33 556.67 220 540 C206.67 523.33 200 477.78 200 460 C200 442.22 217.78 388.89 220 380" stroke-opacity="0.75" stroke-width="10.5"/><path d="M320 610 C317.78 620 300 673.33 300 700 C300 726.67 308.89 818.89 320 850 C331.11 881.11 386.67 963.33 400 980 C413.33 996.67 435.56 997.78 440 1000" stroke-opacity="0.65" stroke-width="9.9"/><path d="M500 600 C497.78 616.67 481.11 716.67 480 750 C478.89 783.33 483.33 876.67 490 900 C496.67 923.33 527.78 950 540 960 C552.22 970 582.22 992.22 600 990 C617.78 987.78 682.22 956.67 700 940 C717.78 923.33 751.11 858.89 760 840 C768.89 821.11 786.67 785.56 780 770 C773.33 754.44 717.78 716.67 700 700 C682.22 683.33 633.33 637.78 620 620 C606.67 602.22 584.44 548.89 580 540" stroke-opacity="0.7" stroke-width="10.2"/><path d="M690 420 C693.33 404.44 707.78 304.44 720 280 C732.22 255.56 782.22 202.22 800 200 C817.78 197.78 867.78 237.78 880 260 C892.22 282.22 907.78 366.67 910 400 C912.22 433.33 905.56 540 900 560 C894.44 580 873.33 582.22 860 580 C846.67 577.78 797.78 551.11 780 540 C762.22 528.89 710 493.33 700 480 C690 466.67 691.11 426.67 690 420" stroke-opacity="0.8" stroke-width="10.8"/><path d="M880 580 C878.89 593.33 881.11 678.89 870 700 C858.89 721.11 790 762.22 780 770" stroke-opacity="0.7" stroke-width="10.2"/><path d="M920 620 C928.89 616.67 982.22 593.33 1000 590 C1017.78 586.67 1063.33 582.22 1080 590 C1096.67 597.78 1144.44 641.11 1150 660 C1155.56 678.89 1140 743.33 1130 760 C1120 776.67 1067.78 804.44 1060 810" stroke-opacity="0.6" stroke-width="9.6"/><path d="M920 300 C935.56 300 1040 286.67 1060 300 C1080 313.33 1093.33 391.11 1100 420 C1106.67 448.89 1117.78 544.44 1120 560" stroke-opacity="0.35" stroke-width="8.1"/><path d="M880 940 C884.44 930 901.11 864.44 920 850 C938.89 835.56 1031.11 810 1050 810 C1068.89 810 1083.33 834.44 1090 850 C1096.67 865.56 1105.56 933.33 1110 950 C1114.44 966.67 1127.78 994.44 1130 1000" stroke-opacity="1" stroke-width="12"/><path d="M870 950 C871.11 954.44 870 984.44 880 990 C890 995.56 940 994.44 960 1000 C980 1005.56 1046.67 1028.89 1060 1040 C1073.33 1051.11 1088.89 1086.67 1080 1100 C1071.11 1113.33 1002.22 1153.33 980 1160 C957.78 1166.67 894.44 1165.56 880 1160 C865.56 1154.44 854.44 1126.67 850 1110 C845.56 1093.33 836.67 1023.33 840 1010 C843.33 996.67 875.56 992.22 880 990" stroke-opacity="1" stroke-width="12"/><path d="M1130 950 C1128.89 966.67 1125.56 1070 1120 1100 C1114.44 1130 1088.89 1196.67 1080 1220 C1071.11 1243.33 1051.11 1305.56 1040 1310 C1028.89 1314.44 997.78 1272.22 980 1260 C962.22 1247.78 897.78 1207.78 880 1200 C862.22 1192.22 833.33 1184.44 820 1190 C806.67 1195.56 767.78 1236.67 760 1250 C752.22 1263.33 741.11 1295.56 750 1310 C758.89 1324.44 818.89 1374.44 840 1380 C861.11 1385.56 917.78 1367.78 940 1360 C962.22 1352.22 1028.89 1315.56 1040 1310" stroke-opacity="1" stroke-width="12"/><path d="M1040 1310 L1100 1380" stroke-opacity="0.9" stroke-width="11.4"/><path d="M1180 1000 C1181.11 1022.22 1181.11 1167.78 1190 1200 C1198.89 1232.22 1244.44 1267.78 1260 1290 C1275.56 1312.22 1322.22 1387.78 1330 1400" stroke-opacity="0.35" stroke-width="8.1"/><path d="M80 700 C87.78 722.22 130 866.67 150 900 C170 933.33 247.78 988.89 260 1000" stroke-opacity="0.25" stroke-width="7.5"/><path d="M460 90 L480 250" stroke-opacity="0.4" stroke-width="8.4"/></g><rect x="1075" y="1322" width="270" height="26" fill="#fff"/></svg>
<svg x="1029" y="753" width="158" height="159" viewBox="0 0 1440 1440" preserveAspectRatio="none"><rect width="1440" height="1440" fill="#000300"/><g fill="#0a300a" filter="url(#blur30)"><path d="M140 440 C146.67 430 186.67 363.33 200 350 C213.33 336.67 244.44 318.89 260 320 C275.56 321.11 328.89 347.78 340 360 C351.11 372.22 358.89 407.78 360 430 C361.11 452.22 358.89 542.22 350 560 C341.11 577.78 297.78 590 280 590 C262.22 590 205.56 576.67 190 560 C174.44 543.33 145.56 453.33 140 440" fill-opacity="0.5"/><path d="M760 560 C766.67 546.67 802.22 457.78 820 440 C837.78 422.22 898.89 407.78 920 400 C941.11 392.22 992.22 377.78 1010 370 C1027.78 362.22 1063.33 335.56 1080 330 C1096.67 324.44 1140 316.67 1160 320 C1180 323.33 1245.56 345.56 1260 360 C1274.44 374.44 1287.78 430 1290 450 C1292.22 470 1287.78 525.56 1280 540 C1272.22 554.44 1228.89 563.33 1220 580 C1211.11 596.67 1208.89 671.11 1200 690 C1191.11 708.89 1153.33 744.44 1140 750 C1126.67 755.56 1098.89 744.44 1080 740 C1061.11 735.56 985.56 715.56 970 710 C954.44 704.44 954.44 693.33 940 690 C925.56 686.67 860 688.89 840 680 C820 671.11 768.89 623.33 760 610 C751.11 596.67 760 565.56 760 560" fill-opacity="0.5"/></g><g fill="none" stroke="#20a018" stroke-linecap="round" stroke-linejoin="round" filter="url(#blur20)"><path d="M140 440 C146.67 430 186.67 363.33 200 350 C213.33 336.67 244.44 318.89 260 320 C275.56 321.11 328.89 347.78 340 360 C351.11 372.22 358.89 407.78 360 430 C361.11 452.22 358.89 542.22 350 560 C341.11 577.78 297.78 590 280 590 C262.22 590 205.56 576.67 190 560 C174.44 543.33 145.56 453.33 140 440" stroke-opacity="0.35" stroke-width="34"/><path d="M360 430 C368.89 424.44 417.78 386.67 440 380 C462.22 373.33 542.22 367.78 560 370 C577.78 372.22 594.44 385.56 600 400 C605.56 414.44 612.22 480 610 500 C607.78 520 594.44 566.67 580 580 C565.56 593.33 502.22 617.78 480 620 C457.78 622.22 394.44 606.67 380 600 C365.56 593.33 353.33 564.44 350 560" stroke-opacity="0.35" stroke-width="34"/><path d="M480 620 C482.22 626.67 488.89 671.11 500 680 C511.11 688.89 566.67 704.44 580 700 C593.33 695.56 618.89 653.33 620 640 C621.11 626.67 593.33 586.67 590 580" stroke-opacity="0.24" stroke-width="29.92"/><path d="M240 230 C251.11 223.33 315.56 182.22 340 170 C364.44 157.78 437.78 131.11 460 120 C482.22 108.89 513.33 81.11 540 70 C566.67 58.89 682.22 25.56 700 20" stroke-opacity="0.21" stroke-width="28.56"/><path d="M460 130 C474.44 147.78 573.33 262.22 590 290 C606.67 317.78 607.78 370 610 380" stroke-opacity="0.21" stroke-width="28.56"/><path d="M590 290 C602.22 291.11 667.78 302.22 700 300 C732.22 297.78 853.33 276.67 880 270 C906.67 263.33 933.33 243.33 940 240" stroke-opacity="0.21" stroke-width="28.56"/><path d="M700 20 C706.67 28.89 740 72.22 760 100 C780 127.78 866.67 251.11 880 270" stroke-opacity="0.17" stroke-width="27.2"/><path d="M940 0 C944.44 8.89 964.44 66.67 980 80 C995.56 93.33 1055.56 118.89 1080 120 C1104.44 121.11 1181.11 100 1200 90 C1218.89 80 1244.44 36.67 1250 30" stroke-opacity="0.24" stroke-width="29.92"/><path d="M760 560 C766.67 546.67 802.22 457.78 820 440 C837.78 422.22 898.89 407.78 920 400 C941.11 392.22 992.22 377.78 1010 370 C1027.78 362.22 1063.33 335.56 1080 330 C1096.67 324.44 1140 316.67 1160 320 C1180 323.33 1245.56 345.56 1260 360 C1274.44 374.44 1287.78 430 1290 450 C1292.22 470 1287.78 525.56 1280 540 C1272.22 554.44 1228.89 563.33 1220 580 C1211.11 596.67 1208.89 671.11 1200 690 C1191.11 708.89 1153.33 744.44 1140 750 C1126.67 755.56 1098.89 744.44 1080 740 C1061.11 735.56 985.56 715.56 970 710 C954.44 704.44 954.44 693.33 940 690 C925.56 686.67 860 688.89 840 680 C820 671.11 768.89 623.33 760 610 C751.11 596.67 760 565.56 760 560" stroke-opacity="0.35" stroke-width="34"/><path d="M1010 370 C1012.22 383.33 1016.67 471.11 1030 490 C1043.33 508.89 1108.89 530 1130 540 C1151.11 550 1210 575.56 1220 580" stroke-opacity="0.35" stroke-width="34"/><path d="M1030 490 C1024.44 497.78 988.89 537.78 980 560 C971.11 582.22 953.33 675.56 950 690" stroke-opacity="0.35" stroke-width="34"/><path d="M910 730 C908.89 743.33 898.89 822.22 900 850 C901.11 877.78 911.11 958.89 920 980 C928.89 1001.11 964.44 1033.33 980 1040 C995.56 1046.67 1043.33 1044.44 1060 1040 C1076.67 1035.56 1120 1017.78 1130 1000 C1140 982.22 1151.11 904.44 1150 880 C1148.89 855.56 1127.78 795.56 1120 780 C1112.22 764.44 1084.44 744.44 1080 740" stroke-opacity="0.35" stroke-width="34"/><path d="M850 950 C851.11 966.67 847.78 1074.44 860 1100 C872.22 1125.56 935.56 1173.33 960 1180 C984.44 1186.67 1057.78 1173.33 1080 1160 C1102.22 1146.67 1151.11 1088.89 1160 1060 C1168.89 1031.11 1160 917.78 1160 900" stroke-opacity="0.12" stroke-width="25.16"/><path d="M1250 230 C1262.22 227.78 1341.11 207.78 1360 210 C1378.89 212.22 1414.44 231.11 1420 250 C1425.56 268.89 1423.33 355.56 1410 380 C1396.67 404.44 1312.22 460 1300 470" stroke-opacity="0.16" stroke-width="26.52"/><path d="M350 920 C362.22 914.44 432.22 881.11 460 870 C487.78 858.89 577.78 827.78 600 820 C622.22 812.22 653.33 802.22 660 800" stroke-opacity="0.32" stroke-width="32.64"/><path d="M350 920 C348.89 935.56 335.56 1037.78 340 1060 C344.44 1082.22 367.78 1114.44 390 1120 C412.22 1125.56 516.67 1118.89 540 1110 C563.33 1101.11 593.33 1063.33 600 1040 C606.67 1016.67 601.11 923.33 600 900 C598.89 876.67 591.11 837.78 590 830" stroke-opacity="0.32" stroke-width="32.64"/><path d="M390 1120 C384.44 1128.89 338.89 1177.78 340 1200 C341.11 1222.22 386.67 1298.89 400 1320 C413.33 1341.11 442.22 1383.33 460 1390 C477.78 1396.67 537.78 1383.33 560 1380 C582.22 1376.67 651.11 1368.89 660 1360 C668.89 1351.11 647.78 1317.78 640 1300 C632.22 1282.22 600 1220 590 1200 C580 1180 554.44 1128.89 550 1120" stroke-opacity="0.35" stroke-width="34"/><path d="M300 700 C297.78 708.89 274.44 755.56 280 780 C285.56 804.44 342.22 904.44 350 920" stroke-opacity="0.12" stroke-width="25.16"/><path d="M150 800 C146.67 822.22 108.89 964.44 120 1000 C131.11 1035.56 224.44 1097.78 250 1120 C275.56 1142.22 338.89 1191.11 350 1200" stroke-opacity="0.1" stroke-width="24.48"/><path d="M590 1120 C608.89 1121.11 741.11 1115.56 760 1130 C778.89 1144.44 771.11 1226.67 760 1250 C748.89 1273.33 671.11 1330 660 1340" stroke-opacity="0.12" stroke-width="25.16"/><path d="M0 1320 C11.11 1320 84.44 1306.67 100 1320 C115.56 1333.33 135.56 1426.67 140 1440" stroke-opacity="0.1" stroke-width="24.48"/></g><g fill="none" stroke="#50f040" stroke-linecap="round" stroke-linejoin="round" filter="url(#grain)"><path d="M140 440 C146.67 430 186.67 363.33 200 350 C213.33 336.67 244.44 318.89 260 320 C275.56 321.11 328.89 347.78 340 360 C351.11 372.22 358.89 407.78 360 430 C361.11 452.22 358.89 542.22 350 560 C341.11 577.78 297.78 590 280 590 C262.22 590 205.56 576.67 190 560 C174.44 543.33 145.56 453.33 140 440" stroke-opacity="1" stroke-width="12"/><path d="M360 430 C368.89 424.44 417.78 386.67 440 380 C462.22 373.33 542.22 367.78 560 370 C577.78 372.22 594.44 385.56 600 400 C605.56 414.44 612.22 480 610 500 C607.78 520 594.44 566.67 580 580 C565.56 593.33 502.22 617.78 480 620 C457.78 622.22 394.44 606.67 380 600 C365.56 593.33 353.33 564.44 350 560" stroke-opacity="1" stroke-width="12"/><path d="M480 620 C482.22 626.67 488.89 671.11 500 680 C511.11 688.89 566.67 704.44 580 700 C593.33 695.56 618.89 653.33 620 640 C621.11 626.67 593.33 586.67 590 580" stroke-opacity="0.7" stroke-width="10.2"/><path d="M240 230 C251.11 223.33 315.56 182.22 340 170 C364.44 157.78 437.78 131.11 460 120 C482.22 108.89 513.33 81.11 540 70 C566.67 58.89 682.22 25.56 700 20" stroke-opacity="0.6" stroke-width="9.6"/><path d="M460 130 C474.44 147.78 573.33 262.22 590 290 C606.67 317.78 607.78 370 610 380" stroke-opacity="0.6" stroke-width="9.6"/><path d="M590 290 C602.22 291.11 667.78 302.22 700 300 C732.22 297.78 853.33 276.67 880 270 C906.67 263.33 933.33 243.33 940 240" stroke-opacity="0.6" stroke-width="9.6"/><path d="M700 20 C706.67 28.89 740 72.22 760 100 C780 127.78 866.67 251.11 880 270" stroke-opacity="0.5" stroke-width="9"/><path d="M940 0 C944.44 8.89 964.44 66.67 980 80 C995.56 93.33 1055.56 118.89 1080 120 C1104.44 121.11 1181.11 100 1200 90 C1218.89 80 1244.44 36.67 1250 30" stroke-opacity="0.7" stroke-width="10.2"/><path d="M760 560 C766.67 546.67 802.22 457.78 820 440 C837.78 422.22 898.89 407.78 920 400 C941.11 392.22 992.22 377.78 1010 370 C1027.78 362.22 1063.33 335.56 1080 330 C1096.67 324.44 1140 316.67 1160 320 C1180 323.33 1245.56 345.56 1260 360 C1274.44 374.44 1287.78 430 1290 450 C1292.22 470 1287.78 525.56 1280 540 C1272.22 554.44 1228.89 563.33 1220 580 C1211.11 596.67 1208.89 671.11 1200 690 C1191.11 708.89 1153.33 744.44 1140 750 C1126.67 755.56 1098.89 744.44 1080 740 C1061.11 735.56 985.56 715.56 970 710 C954.44 704.44 954.44 693.33 940 690 C925.56 686.67 860 688.89 840 680 C820 671.11 768.89 623.33 760 610 C751.11 596.67 760 565.56 760 560" stroke-opacity="1" stroke-width="12"/><path d="M1010 370 C1012.22 383.33 1016.67 471.11 1030 490 C1043.33 508.89 1108.89 530 1130 540 C1151.11 550 1210 575.56 1220 580" stroke-opacity="1" stroke-width="12"/><path d="M1030 490 C1024.44 497.78 988.89 537.78 980 560 C971.11 582.22 953.33 675.56 950 690" stroke-opacity="1" stroke-width="12"/><path d="M910 730 C908.89 743.33 898.89 822.22 900 850 C901.11 877.78 911.11 958.89 920 980 C928.89 1001.11 964.44 1033.33 980 1040 C995.56 1046.67 1043.33 1044.44 1060 1040 C1076.67 1035.56 1120 1017.78 1130 1000 C1140 982.22 1151.11 904.44 1150 880 C1148.89 855.56 1127.78 795.56 1120 780 C1112.22 764.44 1084.44 744.44 1080 740" stroke-opacity="1" stroke-width="12"/><path d="M850 950 C851.11 966.67 847.78 1074.44 860 1100 C872.22 1125.56 935.56 1173.33 960 1180 C984.44 1186.67 1057.78 1173.33 1080 1160 C1102.22 1146.67 1151.11 1088.89 1160 1060 C1168.89 1031.11 1160 917.78 1160 900" stroke-opacity="0.35" stroke-width="8.1"/><path d="M1250 230 C1262.22 227.78 1341.11 207.78 1360 210 C1378.89 212.22 1414.44 231.11 1420 250 C1425.56 268.89 1423.33 355.56 1410 380 C1396.67 404.44 1312.22 460 1300 470" stroke-opacity="0.45" stroke-width="8.7"/><path d="M350 920 C362.22 914.44 432.22 881.11 460 870 C487.78 858.89 577.78 827.78 600 820 C622.22 812.22 653.33 802.22 660 800" stroke-opacity="0.9" stroke-width="11.4"/><path d="M350 920 C348.89 935.56 335.56 1037.78 340 1060 C344.44 1082.22 367.78 1114.44 390 1120 C412.22 1125.56 516.67 1118.89 540 1110 C563.33 1101.11 593.33 1063.33 600 1040 C606.67 1016.67 601.11 923.33 600 900 C598.89 876.67 591.11 837.78 590 830" stroke-opacity="0.9" stroke-width="11.4"/><path d="M390 1120 C384.44 1128.89 338.89 1177.78 340 1200 C341.11 1222.22 386.67 1298.89 400 1320 C413.33 1341.11 442.22 1383.33 460 1390 C477.78 1396.67 537.78 1383.33 560 1380 C582.22 1376.67 651.11 1368.89 660 1360 C668.89 1351.11 647.78 1317.78 640 1300 C632.22 1282.22 600 1220 590 1200 C580 1180 554.44 1128.89 550 1120" stroke-opacity="1" stroke-width="12"/><path d="M300 700 C297.78 708.89 274.44 755.56 280 780 C285.56 804.44 342.22 904.44 350 920" stroke-opacity="0.35" stroke-width="8.1"/><path d="M150 800 C146.67 822.22 108.89 964.44 120 1000 C131.11 1035.56 224.44 1097.78 250 1120 C275.56 1142.22 338.89 1191.11 350 1200" stroke-opacity="0.3" stroke-width="7.8"/><path d="M590 1120 C608.89 1121.11 741.11 1115.56 760 1130 C778.89 1144.44 771.11 1226.67 760 1250 C748.89 1273.33 671.11 1330 660 1340" stroke-opacity="0.35" stroke-width="8.1"/><path d="M0 1320 C11.11 1320 84.44 1306.67 100 1320 C115.56 1333.33 135.56 1426.67 140 1440" stroke-opacity="0.3" stroke-width="7.8"/></g><rect x="990" y="1322" width="350" height="26" fill="#fff"/></svg>
<svg x="1192" y="753" width="159" height="159" viewBox="0 0 1440 1440" preserveAspectRatio="none"><rect width="1440" height="1440" fill="#000300"/><g fill="#0a300a" filter="url(#blur30)"><path d="M180 290 C185.56 275.56 217.78 182.22 230 160 C242.22 137.78 267.78 91.11 290 90 C312.22 88.89 410 137.78 430 150 C450 162.22 460 177.78 470 200 C480 222.22 515.56 323.33 520 350 C524.44 376.67 515.56 425.56 510 440 C504.44 454.44 493.33 480 470 480 C446.67 480 330 453.33 300 440 C270 426.67 213.33 376.67 200 360 C186.67 343.33 182.22 297.78 180 290" fill-opacity="0.5"/><path d="M740 260 C752.22 248.89 826.67 173.33 850 160 C873.33 146.67 932.22 132.22 950 140 C967.78 147.78 1002.22 203.33 1010 230 C1017.78 256.67 1025.56 355.56 1020 380 C1014.44 404.44 978.89 445.56 960 450 C941.11 454.44 872.22 434.44 850 420 C827.78 405.56 772.22 337.78 760 320 C747.78 302.22 742.22 266.67 740 260" fill-opacity="0.5"/><path d="M860 860 C867.78 855.56 900 822.22 930 820 C960 817.78 1101.11 827.78 1130 840 C1158.89 852.22 1165.56 916.67 1190 930 C1214.44 943.33 1325.56 947.78 1350 960 C1374.44 972.22 1404.44 1017.78 1410 1040 C1415.56 1062.22 1412.22 1141.11 1400 1160 C1387.78 1178.89 1326.67 1205.56 1300 1210 C1273.33 1214.44 1182.22 1206.67 1160 1200 C1137.78 1193.33 1122.22 1155.56 1100 1150 C1077.78 1144.44 983.33 1155.56 960 1150 C936.67 1144.44 901.11 1120 890 1100 C878.89 1080 863.33 996.67 860 970 C856.67 943.33 860 872.22 860 860" fill-opacity="0.5"/></g><path d="M860 860 C867.78 855.56 900 822.22 930 820 C960 817.78 1101.11 827.78 1130 840 C1158.89 852.22 1190 907.78 1190 930 C1190 952.22 1140 1015.56 1130 1040 C1120 1064.44 1118.89 1137.78 1100 1150 C1081.11 1162.22 983.33 1155.56 960 1150 C936.67 1144.44 901.11 1120 890 1100 C878.89 1080 863.33 984.44 860 970" fill="#1c5a10" filter="url(#blur30)"/><path d="M1190 930 C1207.78 933.33 1325.56 947.78 1350 960 C1374.44 972.22 1404.44 1017.78 1410 1040 C1415.56 1062.22 1412.22 1141.11 1400 1160 C1387.78 1178.89 1326.67 1205.56 1300 1210 C1273.33 1214.44 1182.22 1206.67 1160 1200 C1137.78 1193.33 1103.33 1167.78 1100 1150 C1096.67 1132.22 1126.67 1052.22 1130 1040" fill="#1c5a10" filter="url(#blur30)"/><g fill="none" stroke="#20a018" stroke-linecap="round" stroke-linejoin="round" filter="url(#blur20)"><path d="M180 290 C185.56 275.56 217.78 182.22 230 160 C242.22 137.78 267.78 91.11 290 90 C312.22 88.89 410 137.78 430 150 C450 162.22 460 177.78 470 200 C480 222.22 515.56 323.33 520 350 C524.44 376.67 515.56 425.56 510 440 C504.44 454.44 493.33 480 470 480 C446.67 480 330 453.33 300 440 C270 426.67 213.33 376.67 200 360 C186.67 343.33 182.22 297.78 180 290" stroke-opacity="0.35" stroke-width="34"/><path d="M740 260 C752.22 248.89 826.67 173.33 850 160 C873.33 146.67 932.22 132.22 950 140 C967.78 147.78 1002.22 203.33 1010 230 C1017.78 256.67 1025.56 355.56 1020 380 C1014.44 404.44 978.89 445.56 960 450 C941.11 454.44 872.22 434.44 850 420 C827.78 405.56 772.22 337.78 760 320 C747.78 302.22 742.22 266.67 740 260" stroke-opacity="0.35" stroke-width="34"/><path d="M430 150 C444.44 143.33 535.56 93.33 560 90 C584.44 86.67 634.44 107.78 650 120 C665.56 132.22 692.22 176.67 700 200 C707.78 223.33 728.89 311.11 720 330 C711.11 348.89 641.11 366.67 620 370 C598.89 373.33 540 361.11 530 360" stroke-opacity="0.12" stroke-width="25.16"/><path d="M470 480 C471.11 491.11 483.33 564.44 480 580 C476.67 595.56 460 615.56 440 620 C420 624.44 324.44 615.56 300 620 C275.56 624.44 227.78 644.44 220 660 C212.22 675.56 221.11 740 230 760 C238.89 780 278.89 828.89 300 840 C321.11 851.11 398.89 875.56 420 860 C441.11 844.44 484.44 726.67 490 700 C495.56 673.33 472.22 628.89 470 620" stroke-opacity="0.23" stroke-width="29.24"/><path d="M420 860 C423.33 868.89 438.89 924.44 450 940 C461.11 955.56 498.89 993.33 520 1000 C541.11 1006.67 622.22 1005.56 640 1000 C657.78 994.44 682.22 978.89 680 950 C677.78 921.11 630 766.67 620 740 C610 713.33 605.56 712.22 590 710 C574.44 707.78 492.22 718.89 480 720" stroke-opacity="0.23" stroke-width="29.24"/><path d="M590 710 C602.22 704.44 676.67 662.22 700 660 C723.33 657.78 782.22 674.44 800 690 C817.78 705.56 853.33 787.78 860 800" stroke-opacity="0.17" stroke-width="27.2"/><path d="M860 860 C867.78 855.56 900 822.22 930 820 C960 817.78 1101.11 827.78 1130 840 C1158.89 852.22 1165.56 916.67 1190 930 C1214.44 943.33 1325.56 947.78 1350 960 C1374.44 972.22 1404.44 1017.78 1410 1040 C1415.56 1062.22 1412.22 1141.11 1400 1160 C1387.78 1178.89 1326.67 1205.56 1300 1210 C1273.33 1214.44 1182.22 1206.67 1160 1200 C1137.78 1193.33 1122.22 1155.56 1100 1150 C1077.78 1144.44 983.33 1155.56 960 1150 C936.67 1144.44 901.11 1120 890 1100 C878.89 1080 863.33 996.67 860 970 C856.67 943.33 860 872.22 860 860" stroke-opacity="0.35" stroke-width="34"/><path d="M1190 930 C1183.33 942.22 1140 1015.56 1130 1040 C1120 1064.44 1103.33 1137.78 1100 1150" stroke-opacity="0.35" stroke-width="34"/><path d="M680 950 C677.78 964.44 657.78 1052.22 660 1080 C662.22 1107.78 693.33 1172.22 700 1200 C706.67 1227.78 697.78 1313.33 720 1330 C742.22 1346.67 875.56 1356.67 900 1350 C924.44 1343.33 935.56 1292.22 940 1270 C944.44 1247.78 940 1163.33 940 1150" stroke-opacity="0.21" stroke-width="28.56"/><path d="M700 1200 C717.78 1191.11 833.33 1125.56 860 1120 C886.67 1114.44 931.11 1146.67 940 1150" stroke-opacity="0.21" stroke-width="28.56"/><path d="M940 1270 C946.67 1282.22 982.22 1370 1000 1380 C1017.78 1390 1083.33 1368.89 1100 1360 C1116.67 1351.11 1143.33 1317.78 1150 1300 C1156.67 1282.22 1158.89 1211.11 1160 1200" stroke-opacity="0.16" stroke-width="26.52"/><path d="M0 1100 C4.44 1090 26.67 1020 40 1010 C53.33 1000 102.22 1002.22 120 1010 C137.78 1017.78 190 1062.22 200 1080 C210 1097.78 212.22 1151.11 210 1170 C207.78 1188.89 194.44 1240 180 1250 C165.56 1260 96.67 1261.11 80 1260 C63.33 1258.89 38.89 1246.67 30 1240 C21.11 1233.33 3.33 1204.44 0 1200" stroke-opacity="0.35" stroke-width="34"/><path d="M180 1250 C187.78 1255.56 231.11 1300 250 1300 C268.89 1300 325.56 1254.44 350 1250 C374.44 1245.56 448.89 1250 470 1260 C491.11 1270 531.11 1320 540 1340 C548.89 1360 548.89 1428.89 550 1440" stroke-opacity="0.35" stroke-width="34"/><path d="M30 1260 L0 1340" stroke-opacity="0.35" stroke-width="34"/><path d="M250 1300 L280 1440" stroke-opacity="0.35" stroke-width="34"/><path d="M1100 0 C1102.22 13.33 1108.89 100 1120 120 C1131.11 140 1180 175.56 1200 180 C1220 184.44 1273.33 164.44 1300 160 C1326.67 155.56 1424.44 142.22 1440 140" stroke-opacity="0.12" stroke-width="25.16"/></g><g fill="none" stroke="#50f040" stroke-linecap="round" stroke-linejoin="round" filter="url(#grain)"><path d="M180 290 C185.56 275.56 217.78 182.22 230 160 C242.22 137.78 267.78 91.11 290 90 C312.22 88.89 410 137.78 430 150 C450 162.22 460 177.78 470 200 C480 222.22 515.56 323.33 520 350 C524.44 376.67 515.56 425.56 510 440 C504.44 454.44 493.33 480 470 480 C446.67 480 330 453.33 300 440 C270 426.67 213.33 376.67 200 360 C186.67 343.33 182.22 297.78 180 290" stroke-opacity="1" stroke-width="12"/><path d="M740 260 C752.22 248.89 826.67 173.33 850 160 C873.33 146.67 932.22 132.22 950 140 C967.78 147.78 1002.22 203.33 1010 230 C1017.78 256.67 1025.56 355.56 1020 380 C1014.44 404.44 978.89 445.56 960 450 C941.11 454.44 872.22 434.44 850 420 C827.78 405.56 772.22 337.78 760 320 C747.78 302.22 742.22 266.67 740 260" stroke-opacity="1" stroke-width="12"/><path d="M430 150 C444.44 143.33 535.56 93.33 560 90 C584.44 86.67 634.44 107.78 650 120 C665.56 132.22 692.22 176.67 700 200 C707.78 223.33 728.89 311.11 720 330 C711.11 348.89 641.11 366.67 620 370 C598.89 373.33 540 361.11 530 360" stroke-opacity="0.35" stroke-width="8.1"/><path d="M470 480 C471.11 491.11 483.33 564.44 480 580 C476.67 595.56 460 615.56 440 620 C420 624.44 324.44 615.56 300 620 C275.56 624.44 227.78 644.44 220 660 C212.22 675.56 221.11 740 230 760 C238.89 780 278.89 828.89 300 840 C321.11 851.11 398.89 875.56 420 860 C441.11 844.44 484.44 726.67 490 700 C495.56 673.33 472.22 628.89 470 620" stroke-opacity="0.65" stroke-width="9.9"/><path d="M420 860 C423.33 868.89 438.89 924.44 450 940 C461.11 955.56 498.89 993.33 520 1000 C541.11 1006.67 622.22 1005.56 640 1000 C657.78 994.44 682.22 978.89 680 950 C677.78 921.11 630 766.67 620 740 C610 713.33 605.56 712.22 590 710 C574.44 707.78 492.22 718.89 480 720" stroke-opacity="0.65" stroke-width="9.9"/><path d="M590 710 C602.22 704.44 676.67 662.22 700 660 C723.33 657.78 782.22 674.44 800 690 C817.78 705.56 853.33 787.78 860 800" stroke-opacity="0.5" stroke-width="9"/><path d="M860 860 C867.78 855.56 900 822.22 930 820 C960 817.78 1101.11 827.78 1130 840 C1158.89 852.22 1165.56 916.67 1190 930 C1214.44 943.33 1325.56 947.78 1350 960 C1374.44 972.22 1404.44 1017.78 1410 1040 C1415.56 1062.22 1412.22 1141.11 1400 1160 C1387.78 1178.89 1326.67 1205.56 1300 1210 C1273.33 1214.44 1182.22 1206.67 1160 1200 C1137.78 1193.33 1122.22 1155.56 1100 1150 C1077.78 1144.44 983.33 1155.56 960 1150 C936.67 1144.44 901.11 1120 890 1100 C878.89 1080 863.33 996.67 860 970 C856.67 943.33 860 872.22 860 860" stroke-opacity="1" stroke-width="12"/><path d="M1190 930 C1183.33 942.22 1140 1015.56 1130 1040 C1120 1064.44 1103.33 1137.78 1100 1150" stroke-opacity="1" stroke-width="12"/><path d="M680 950 C677.78 964.44 657.78 1052.22 660 1080 C662.22 1107.78 693.33 1172.22 700 1200 C706.67 1227.78 697.78 1313.33 720 1330 C742.22 1346.67 875.56 1356.67 900 1350 C924.44 1343.33 935.56 1292.22 940 1270 C944.44 1247.78 940 1163.33 940 1150" stroke-opacity="0.6" stroke-width="9.6"/><path d="M700 1200 C717.78 1191.11 833.33 1125.56 860 1120 C886.67 1114.44 931.11 1146.67 940 1150" stroke-opacity="0.6" stroke-width="9.6"/><path d="M940 1270 C946.67 1282.22 982.22 1370 1000 1380 C1017.78 1390 1083.33 1368.89 1100 1360 C1116.67 1351.11 1143.33 1317.78 1150 1300 C1156.67 1282.22 1158.89 1211.11 1160 1200" stroke-opacity="0.45" stroke-width="8.7"/><path d="M0 1100 C4.44 1090 26.67 1020 40 1010 C53.33 1000 102.22 1002.22 120 1010 C137.78 1017.78 190 1062.22 200 1080 C210 1097.78 212.22 1151.11 210 1170 C207.78 1188.89 194.44 1240 180 1250 C165.56 1260 96.67 1261.11 80 1260 C63.33 1258.89 38.89 1246.67 30 1240 C21.11 1233.33 3.33 1204.44 0 1200" stroke-opacity="1" stroke-width="12"/><path d="M180 1250 C187.78 1255.56 231.11 1300 250 1300 C268.89 1300 325.56 1254.44 350 1250 C374.44 1245.56 448.89 1250 470 1260 C491.11 1270 531.11 1320 540 1340 C548.89 1360 548.89 1428.89 550 1440" stroke-opacity="1" stroke-width="12"/><path d="M30 1260 L0 1340" stroke-opacity="1" stroke-width="12"/><path d="M250 1300 L280 1440" stroke-opacity="1" stroke-width="12"/><path d="M1100 0 C1102.22 13.33 1108.89 100 1120 120 C1131.11 140 1180 175.56 1200 180 C1220 184.44 1273.33 164.44 1300 160 C1326.67 155.56 1424.44 142.22 1440 140" stroke-opacity="0.35" stroke-width="8.1"/></g><rect x="980" y="1322" width="335" height="26" fill="#fff"/></svg>
<svg x="1356" y="753" width="159" height="159" viewBox="0 0 1440 1440" preserveAspectRatio="none"><rect width="1440" height="1440" fill="#001000"/><g fill="#124012" filter="url(#blur30)"><path d="M860 380 C864.44 374.44 882.22 336.67 900 330 C917.78 323.33 992.22 317.78 1020 320 C1047.78 322.22 1134.44 340 1150 350 C1165.56 360 1165.56 390 1160 410 C1154.44 430 1113.33 508.89 1100 530 C1086.67 551.11 1055.56 594.44 1040 600 C1024.44 605.56 975.56 591.11 960 580 C944.44 568.89 911.11 522.22 900 500 C888.89 477.78 864.44 393.33 860 380" fill-opacity="0.5"/></g><g fill="none" stroke="#20a018" stroke-linecap="round" stroke-linejoin="round" filter="url(#blur20)"><path d="M180 0 C182.22 15.56 195.56 106.67 200 140 C204.44 173.33 231.11 277.78 220 300 C208.89 322.22 117.78 323.33 100 340 C82.22 356.67 62.22 425.56 60 450 C57.78 474.44 82.22 534.44 80 560 C77.78 585.56 48.89 662.22 40 680 C31.11 697.78 4.44 715.56 0 720" stroke-opacity="0.38" stroke-width="45"/><path d="M200 140 C211.11 141.11 272.22 150 300 150 C327.78 150 430 156.67 450 140 C470 123.33 476.67 15.56 480 0" stroke-opacity="0.35" stroke-width="44"/><path d="M450 140 C461.11 145.56 535.56 166.67 550 190 C564.44 213.33 583.33 326.67 580 350 C576.67 373.33 540 398.89 520 400 C500 401.11 413.33 364.44 400 360" stroke-opacity="0.35" stroke-width="44"/><path d="M220 300 C225.56 306.67 263.33 334.44 270 360 C276.67 385.56 287.78 507.78 280 530 C272.22 552.22 222.22 552.22 200 560 C177.78 567.78 93.33 595.56 80 600" stroke-opacity="0.42" stroke-width="47"/><path d="M280 530 C284.44 540 312.22 597.78 320 620 C327.78 642.22 350 701.11 350 730 C350 758.89 336.67 861.11 320 880 C303.33 898.89 218.89 900 200 900 C181.11 900 156.67 896.67 150 880 C143.33 863.33 150 770 140 750 C130 730 68.89 705.56 60 700" stroke-opacity="0.42" stroke-width="47"/><path d="M140 750 C144.44 744.44 160 707.78 180 700 C200 692.22 304.44 682.22 320 680" stroke-opacity="0.38" stroke-width="45"/><path d="M350 730 C361.11 735.56 422.22 767.78 450 780 C477.78 792.22 590 828.89 600 840 C610 851.11 564.44 871.11 540 880 C515.56 888.89 404.44 920 380 920 C355.56 920 326.67 884.44 320 880" stroke-opacity="0.38" stroke-width="45"/><path d="M300 530 C315.56 528.89 417.78 530 440 520 C462.22 510 493.33 448.89 500 440" stroke-opacity="0.23" stroke-width="39"/><path d="M860 380 C864.44 374.44 882.22 336.67 900 330 C917.78 323.33 992.22 317.78 1020 320 C1047.78 322.22 1134.44 340 1150 350 C1165.56 360 1165.56 390 1160 410 C1154.44 430 1113.33 508.89 1100 530 C1086.67 551.11 1055.56 594.44 1040 600 C1024.44 605.56 975.56 591.11 960 580 C944.44 568.89 911.11 522.22 900 500 C888.89 477.78 864.44 393.33 860 380" stroke-opacity="0.5" stroke-width="50"/><path d="M920 180 C924.44 173.33 942.22 131.11 960 120 C977.78 108.89 1055.56 84.44 1080 80 C1104.44 75.56 1165.56 63.33 1180 80 C1194.44 96.67 1210 204.44 1210 230 C1210 255.56 1186.67 296.67 1180 310 C1173.33 323.33 1153.33 345.56 1150 350" stroke-opacity="0.42" stroke-width="47"/><path d="M920 180 L900 330" stroke-opacity="0.42" stroke-width="47"/><path d="M1040 600 C1044.44 608.89 1073.33 662.22 1080 680 C1086.67 697.78 1095.56 741.11 1100 760 C1104.44 778.89 1125.56 832.22 1120 850 C1114.44 867.78 1074.44 910 1050 920 C1025.56 930 927.78 950 900 940 C872.22 930 808.89 865.56 800 830 C791.11 794.44 815.56 645.56 820 620 C824.44 594.44 824.44 604.44 840 600 C855.56 595.56 946.67 582.22 960 580" stroke-opacity="0.38" stroke-width="45"/><path d="M1120 760 C1128.89 753.33 1184.44 711.11 1200 700 C1215.56 688.89 1248.89 678.89 1260 660 C1271.11 641.11 1302.22 556.67 1300 530 C1297.78 503.33 1255.56 433.33 1240 420 C1224.44 406.67 1168.89 411.11 1160 410" stroke-opacity="0.35" stroke-width="44"/><path d="M1120 850 C1126.67 855.56 1154.44 894.44 1180 900 C1205.56 905.56 1328.89 915.56 1350 900 C1371.11 884.44 1360 780 1370 760 C1380 740 1432.22 724.44 1440 720" stroke-opacity="0.38" stroke-width="45"/><path d="M1350 900 L1440 960" stroke-opacity="0.38" stroke-width="45"/><path d="M1180 900 C1178.89 920 1181.11 1053.33 1170 1080 C1158.89 1106.67 1097.78 1121.11 1080 1140 C1062.22 1158.89 1017.78 1237.78 1010 1250" stroke-opacity="0.25" stroke-width="40"/><path d="M1210 230 C1218.89 226.67 1264.44 207.78 1290 200 C1315.56 192.22 1423.33 164.44 1440 160" stroke-opacity="0.28" stroke-width="41"/><path d="M900 940 L900 1100" stroke-opacity="0.23" stroke-width="39"/><path d="M0 900 L150 890" stroke-opacity="0.23" stroke-width="39"/></g><g fill="none" stroke="#50f040" stroke-linecap="round" stroke-linejoin="round" filter="url(#grain)"><path d="M180 0 C182.22 15.56 195.56 106.67 200 140 C204.44 173.33 231.11 277.78 220 300 C208.89 322.22 117.78 323.33 100 340 C82.22 356.67 62.22 425.56 60 450 C57.78 474.44 82.22 534.44 80 560 C77.78 585.56 48.89 662.22 40 680 C31.11 697.78 4.44 715.56 0 720" stroke-opacity="0.75" stroke-width="14"/><path d="M200 140 C211.11 141.11 272.22 150 300 150 C327.78 150 430 156.67 450 140 C470 123.33 476.67 15.56 480 0" stroke-opacity="0.7" stroke-width="13.6"/><path d="M450 140 C461.11 145.56 535.56 166.67 550 190 C564.44 213.33 583.33 326.67 580 350 C576.67 373.33 540 398.89 520 400 C500 401.11 413.33 364.44 400 360" stroke-opacity="0.7" stroke-width="13.6"/><path d="M220 300 C225.56 306.67 263.33 334.44 270 360 C276.67 385.56 287.78 507.78 280 530 C272.22 552.22 222.22 552.22 200 560 C177.78 567.78 93.33 595.56 80 600" stroke-opacity="0.85" stroke-width="14.8"/><path d="M280 530 C284.44 540 312.22 597.78 320 620 C327.78 642.22 350 701.11 350 730 C350 758.89 336.67 861.11 320 880 C303.33 898.89 218.89 900 200 900 C181.11 900 156.67 896.67 150 880 C143.33 863.33 150 770 140 750 C130 730 68.89 705.56 60 700" stroke-opacity="0.85" stroke-width="14.8"/><path d="M140 750 C144.44 744.44 160 707.78 180 700 C200 692.22 304.44 682.22 320 680" stroke-opacity="0.75" stroke-width="14"/><path d="M350 730 C361.11 735.56 422.22 767.78 450 780 C477.78 792.22 590 828.89 600 840 C610 851.11 564.44 871.11 540 880 C515.56 888.89 404.44 920 380 920 C355.56 920 326.67 884.44 320 880" stroke-opacity="0.75" stroke-width="14"/><path d="M300 530 C315.56 528.89 417.78 530 440 520 C462.22 510 493.33 448.89 500 440" stroke-opacity="0.45" stroke-width="11.6"/><path d="M860 380 C864.44 374.44 882.22 336.67 900 330 C917.78 323.33 992.22 317.78 1020 320 C1047.78 322.22 1134.44 340 1150 350 C1165.56 360 1165.56 390 1160 410 C1154.44 430 1113.33 508.89 1100 530 C1086.67 551.11 1055.56 594.44 1040 600 C1024.44 605.56 975.56 591.11 960 580 C944.44 568.89 911.11 522.22 900 500 C888.89 477.78 864.44 393.33 860 380" stroke-opacity="1" stroke-width="16"/><path d="M920 180 C924.44 173.33 942.22 131.11 960 120 C977.78 108.89 1055.56 84.44 1080 80 C1104.44 75.56 1165.56 63.33 1180 80 C1194.44 96.67 1210 204.44 1210 230 C1210 255.56 1186.67 296.67 1180 310 C1173.33 323.33 1153.33 345.56 1150 350" stroke-opacity="0.85" stroke-width="14.8"/><path d="M920 180 L900 330" stroke-opacity="0.85" stroke-width="14.8"/><path d="M1040 600 C1044.44 608.89 1073.33 662.22 1080 680 C1086.67 697.78 1095.56 741.11 1100 760 C1104.44 778.89 1125.56 832.22 1120 850 C1114.44 867.78 1074.44 910 1050 920 C1025.56 930 927.78 950 900 940 C872.22 930 808.89 865.56 800 830 C791.11 794.44 815.56 645.56 820 620 C824.44 594.44 824.44 604.44 840 600 C855.56 595.56 946.67 582.22 960 580" stroke-opacity="0.75" stroke-width="14"/><path d="M1120 760 C1128.89 753.33 1184.44 711.11 1200 700 C1215.56 688.89 1248.89 678.89 1260 660 C1271.11 641.11 1302.22 556.67 1300 530 C1297.78 503.33 1255.56 433.33 1240 420 C1224.44 406.67 1168.89 411.11 1160 410" stroke-opacity="0.7" stroke-width="13.6"/><path d="M1120 850 C1126.67 855.56 1154.44 894.44 1180 900 C1205.56 905.56 1328.89 915.56 1350 900 C1371.11 884.44 1360 780 1370 760 C1380 740 1432.22 724.44 1440 720" stroke-opacity="0.75" stroke-width="14"/><path d="M1350 900 L1440 960" stroke-opacity="0.75" stroke-width="14"/><path d="M1180 900 C1178.89 920 1181.11 1053.33 1170 1080 C1158.89 1106.67 1097.78 1121.11 1080 1140 C1062.22 1158.89 1017.78 1237.78 1010 1250" stroke-opacity="0.5" stroke-width="12"/><path d="M1210 230 C1218.89 226.67 1264.44 207.78 1290 200 C1315.56 192.22 1423.33 164.44 1440 160" stroke-opacity="0.55" stroke-width="12.4"/><path d="M900 940 L900 1100" stroke-opacity="0.45" stroke-width="11.6"/><path d="M0 900 L150 890" stroke-opacity="0.45" stroke-width="11.6"/></g><rect x="980" y="1322" width="335" height="26" fill="#fff"/></svg>
<svg x="701" y="917" width="159" height="159" viewBox="0 0 1440 1440" preserveAspectRatio="none"><rect width="1440" height="1440" fill="#00008f"/><g fill="#30d0ff" fill-opacity="0.15" filter="url(#speckA)"><path d="M640 430 C653.33 423.33 731.11 375.56 760 370 C788.89 364.44 873.33 363.33 900 380 C926.67 396.67 986.67 496.67 1000 520 C1013.33 543.33 1024.44 574.44 1020 590 C1015.56 605.56 977.78 643.33 960 660 C942.22 676.67 882.22 733.33 860 740 C837.78 746.67 777.78 726.67 760 720 C742.22 713.33 710 697.78 700 680 C690 662.22 676.67 587.78 670 560 C663.33 532.22 643.33 444.44 640 430"/><path d="M490 800 C497.78 791.11 542.22 731.11 560 720 C577.78 708.89 630 698.89 650 700 C670 701.11 724.44 716.67 740 730 C755.56 743.33 784.44 801.11 790 820 C795.56 838.89 795.56 884.44 790 900 C784.44 915.56 758.89 952.78 740 960 C721.11 967.22 642.22 969.44 620 965 C597.78 960.56 555.56 931.67 540 920 C524.44 908.33 485.56 873.33 480 860 C474.44 846.67 488.89 806.67 490 800"/><path d="M150 700 C164.44 697.78 252.22 681.11 280 680 C307.78 678.89 385.56 676.67 400 690 C414.44 703.33 415.56 784.44 410 800 C404.44 815.56 375.56 827.78 350 830 C324.44 832.22 202.22 834.44 180 820 C157.78 805.56 153.33 713.33 150 700"/><path d="M250 1080 C257.78 1071.11 301.11 1016.67 320 1000 C338.89 983.33 394.44 925.56 420 930 C445.56 934.44 525.56 1035.56 550 1040 C574.44 1044.44 616.67 977.78 640 970 C663.33 962.22 744.44 962.22 760 970 C775.56 977.78 786.67 1024.44 780 1040 C773.33 1055.56 710 1092.22 700 1110 C690 1127.78 698.89 1183.33 690 1200 C681.11 1216.67 638.89 1254.44 620 1260 C601.11 1265.56 544.44 1254.44 520 1250 C495.56 1245.56 418.89 1230 400 1220 C381.11 1210 366.67 1175.56 350 1160 C333.33 1144.44 261.11 1088.89 250 1080"/><path d="M1060 280 C1066.67 273.33 1104.44 227.78 1120 220 C1135.56 212.22 1180 205.56 1200 210 C1220 214.44 1280 246.67 1300 260 C1320 273.33 1380 312.22 1380 330 C1380 347.78 1320 405.56 1300 420 C1280 434.44 1222.22 461.11 1200 460 C1177.78 458.89 1115.56 430 1100 410 C1084.44 390 1064.44 294.44 1060 280"/></g><g fill="none" stroke="#40d8f0" stroke-opacity="0.9" stroke-linecap="round" stroke-linejoin="round" filter="url(#speckB)"><path d="M640 430 C653.33 423.33 731.11 375.56 760 370 C788.89 364.44 873.33 363.33 900 380 C926.67 396.67 986.67 496.67 1000 520 C1013.33 543.33 1024.44 574.44 1020 590 C1015.56 605.56 977.78 643.33 960 660 C942.22 676.67 882.22 733.33 860 740 C837.78 746.67 777.78 726.67 760 720 C742.22 713.33 710 697.78 700 680 C690 662.22 676.67 587.78 670 560 C663.33 532.22 643.33 444.44 640 430" stroke-width="50.4"/><path d="M490 800 C497.78 791.11 542.22 731.11 560 720 C577.78 708.89 630 698.89 650 700 C670 701.11 724.44 716.67 740 730 C755.56 743.33 784.44 801.11 790 820 C795.56 838.89 795.56 884.44 790 900 C784.44 915.56 758.89 952.78 740 960 C721.11 967.22 642.22 969.44 620 965 C597.78 960.56 555.56 931.67 540 920 C524.44 908.33 485.56 873.33 480 860 C474.44 846.67 488.89 806.67 490 800" stroke-width="50.4"/><path d="M150 700 C164.44 697.78 252.22 681.11 280 680 C307.78 678.89 385.56 676.67 400 690 C414.44 703.33 415.56 784.44 410 800 C404.44 815.56 375.56 827.78 350 830 C324.44 832.22 202.22 834.44 180 820 C157.78 805.56 153.33 713.33 150 700" stroke-width="44.86"/><path d="M1300 560 C1307.78 552.22 1355.56 498.89 1370 490 C1384.44 481.11 1423.33 481.11 1430 480" stroke-width="50.4"/><path d="M1300 560 C1304.44 573.33 1325.56 665.56 1340 680 C1354.44 694.44 1420 688.89 1430 690" stroke-width="50.4"/><path d="M250 1080 C257.78 1071.11 301.11 1016.67 320 1000 C338.89 983.33 394.44 925.56 420 930 C445.56 934.44 525.56 1035.56 550 1040 C574.44 1044.44 616.67 977.78 640 970 C663.33 962.22 744.44 962.22 760 970 C775.56 977.78 786.67 1024.44 780 1040 C773.33 1055.56 710 1092.22 700 1110 C690 1127.78 698.89 1183.33 690 1200 C681.11 1216.67 638.89 1254.44 620 1260 C601.11 1265.56 544.44 1254.44 520 1250 C495.56 1245.56 418.89 1230 400 1220 C381.11 1210 366.67 1175.56 350 1160 C333.33 1144.44 261.11 1088.89 250 1080" stroke-width="50.4"/><path d="M380 1120 C386.67 1113.33 422.22 1068.89 440 1060 C457.78 1051.11 528.89 1042.22 540 1040" stroke-width="47.63"/><path d="M560 1040 C563.33 1048.89 575.56 1111.11 590 1120 C604.44 1128.89 678.89 1120 690 1120" stroke-width="47.63"/><path d="M350 1160 L420 1220" stroke-width="47.63"/><path d="M690 1200 C697.78 1203.33 741.11 1232.22 760 1230 C778.89 1227.78 847.78 1196.67 860 1180 C872.22 1163.33 873.33 1100 870 1080 C866.67 1060 842.22 1012.22 830 1000 C817.78 987.78 767.78 973.33 760 970" stroke-width="47.63"/><path d="M400 1220 C393.33 1228.89 362.22 1287.78 340 1300 C317.78 1312.22 218.89 1314.44 200 1330 C181.11 1345.56 173.33 1427.78 170 1440" stroke-width="44.86"/><path d="M570 1260 L580 1440" stroke-width="44.86"/><path d="M760 1230 C764.44 1246.67 786.67 1358.89 800 1380 C813.33 1401.11 865.56 1423.33 880 1420 C894.44 1416.67 924.44 1370 930 1350 C935.56 1330 937.78 1258.89 930 1240 C922.22 1221.11 867.78 1186.67 860 1180" stroke-width="44.86"/><path d="M930 1350 L990 1440" stroke-width="39.31"/><path d="M130 240 C148.89 230 265.56 151.11 300 150 C334.44 148.89 406.67 230 440 230 C473.33 230 571.11 154.44 600 150 C628.89 145.56 661.11 186.67 700 190 C738.89 193.33 922.22 181.11 950 180" stroke-width="31"/><path d="M180 370 C204.44 366.67 353.33 334.44 400 340 C446.67 345.56 577.78 411.11 600 420" stroke-width="31"/><path d="M440 230 L420 350" stroke-width="31"/><path d="M1060 280 C1066.67 273.33 1104.44 227.78 1120 220 C1135.56 212.22 1180 205.56 1200 210 C1220 214.44 1280 246.67 1300 260 C1320 273.33 1380 312.22 1380 330 C1380 347.78 1320 405.56 1300 420 C1280 434.44 1222.22 461.11 1200 460 C1177.78 458.89 1115.56 430 1100 410 C1084.44 390 1064.44 294.44 1060 280" stroke-width="36.54"/><path d="M1180 130 C1187.78 140 1230 202.22 1250 220 C1270 237.78 1341.11 285.56 1360 290 C1378.89 294.44 1413.33 263.33 1420 260" stroke-width="35.15"/><path d="M1380 80 L1420 240" stroke-width="33.77"/><path d="M860 1000 C871.11 995.56 937.78 961.11 960 960 C982.22 958.89 1041.11 976.67 1060 990 C1078.89 1003.33 1121.11 1054.44 1130 1080 C1138.89 1105.56 1132.22 1201.11 1140 1220 C1147.78 1238.89 1186.67 1243.33 1200 1250 C1213.33 1256.67 1253.33 1276.67 1260 1280" stroke-width="35.15"/><path d="M1000 900 C1017.78 896.67 1130 862.22 1160 870 C1190 877.78 1263.33 946.67 1270 970 C1276.67 993.33 1230 1050 1220 1080 C1210 1110 1184.44 1222.22 1180 1240" stroke-width="33.77"/><path d="M30 950 C42.22 972.22 125.56 1111.11 140 1150 C154.44 1188.89 157.78 1283.33 160 1300" stroke-width="31"/></g><g fill="none" stroke="#1050ff" stroke-opacity="0.85" stroke-linecap="round" stroke-linejoin="round" filter="url(#rough)"><path d="M640 430 C653.33 423.33 731.11 375.56 760 370 C788.89 364.44 873.33 363.33 900 380 C926.67 396.67 986.67 496.67 1000 520 C1013.33 543.33 1024.44 574.44 1020 590 C1015.56 605.56 977.78 643.33 960 660 C942.22 676.67 882.22 733.33 860 740 C837.78 746.67 777.78 726.67 760 720 C742.22 713.33 710 697.78 700 680 C690 662.22 676.67 587.78 670 560 C663.33 532.22 643.33 444.44 640 430" stroke-width="56"/><path d="M490 800 C497.78 791.11 542.22 731.11 560 720 C577.78 708.89 630 698.89 650 700 C670 701.11 724.44 716.67 740 730 C755.56 743.33 784.44 801.11 790 820 C795.56 838.89 795.56 884.44 790 900 C784.44 915.56 758.89 952.78 740 960 C721.11 967.22 642.22 969.44 620 965 C597.78 960.56 555.56 931.67 540 920 C524.44 908.33 485.56 873.33 480 860 C474.44 846.67 488.89 806.67 490 800" stroke-width="56"/><path d="M150 700 C164.44 697.78 252.22 681.11 280 680 C307.78 678.89 385.56 676.67 400 690 C414.44 703.33 415.56 784.44 410 800 C404.44 815.56 375.56 827.78 350 830 C324.44 832.22 202.22 834.44 180 820 C157.78 805.56 153.33 713.33 150 700" stroke-width="49.84"/><path d="M1300 560 C1307.78 552.22 1355.56 498.89 1370 490 C1384.44 481.11 1423.33 481.11 1430 480" stroke-width="56"/><path d="M1300 560 C1304.44 573.33 1325.56 665.56 1340 680 C1354.44 694.44 1420 688.89 1430 690" stroke-width="56"/><path d="M250 1080 C257.78 1071.11 301.11 1016.67 320 1000 C338.89 983.33 394.44 925.56 420 930 C445.56 934.44 525.56 1035.56 550 1040 C574.44 1044.44 616.67 977.78 640 970 C663.33 962.22 744.44 962.22 760 970 C775.56 977.78 786.67 1024.44 780 1040 C773.33 1055.56 710 1092.22 700 1110 C690 1127.78 698.89 1183.33 690 1200 C681.11 1216.67 638.89 1254.44 620 1260 C601.11 1265.56 544.44 1254.44 520 1250 C495.56 1245.56 418.89 1230 400 1220 C381.11 1210 366.67 1175.56 350 1160 C333.33 1144.44 261.11 1088.89 250 1080" stroke-width="56"/><path d="M380 1120 C386.67 1113.33 422.22 1068.89 440 1060 C457.78 1051.11 528.89 1042.22 540 1040" stroke-width="52.92"/><path d="M560 1040 C563.33 1048.89 575.56 1111.11 590 1120 C604.44 1128.89 678.89 1120 690 1120" stroke-width="52.92"/><path d="M350 1160 L420 1220" stroke-width="52.92"/><path d="M690 1200 C697.78 1203.33 741.11 1232.22 760 1230 C778.89 1227.78 847.78 1196.67 860 1180 C872.22 1163.33 873.33 1100 870 1080 C866.67 1060 842.22 1012.22 830 1000 C817.78 987.78 767.78 973.33 760 970" stroke-width="52.92"/><path d="M400 1220 C393.33 1228.89 362.22 1287.78 340 1300 C317.78 1312.22 218.89 1314.44 200 1330 C181.11 1345.56 173.33 1427.78 170 1440" stroke-width="49.84"/><path d="M570 1260 L580 1440" stroke-width="49.84"/><path d="M760 1230 C764.44 1246.67 786.67 1358.89 800 1380 C813.33 1401.11 865.56 1423.33 880 1420 C894.44 1416.67 924.44 1370 930 1350 C935.56 1330 937.78 1258.89 930 1240 C922.22 1221.11 867.78 1186.67 860 1180" stroke-width="49.84"/><path d="M930 1350 L990 1440" stroke-width="43.68"/><path d="M130 240 C148.89 230 265.56 151.11 300 150 C334.44 148.89 406.67 230 440 230 C473.33 230 571.11 154.44 600 150 C628.89 145.56 661.11 186.67 700 190 C738.89 193.33 922.22 181.11 950 180" stroke-width="34.44"/><path d="M180 370 C204.44 366.67 353.33 334.44 400 340 C446.67 345.56 577.78 411.11 600 420" stroke-width="34.44"/><path d="M440 230 L420 350" stroke-width="34.44"/><path d="M1060 280 C1066.67 273.33 1104.44 227.78 1120 220 C1135.56 212.22 1180 205.56 1200 210 C1220 214.44 1280 246.67 1300 260 C1320 273.33 1380 312.22 1380 330 C1380 347.78 1320 405.56 1300 420 C1280 434.44 1222.22 461.11 1200 460 C1177.78 458.89 1115.56 430 1100 410 C1084.44 390 1064.44 294.44 1060 280" stroke-width="40.6"/><path d="M1180 130 C1187.78 140 1230 202.22 1250 220 C1270 237.78 1341.11 285.56 1360 290 C1378.89 294.44 1413.33 263.33 1420 260" stroke-width="39.06"/><path d="M1380 80 L1420 240" stroke-width="37.52"/><path d="M860 1000 C871.11 995.56 937.78 961.11 960 960 C982.22 958.89 1041.11 976.67 1060 990 C1078.89 1003.33 1121.11 1054.44 1130 1080 C1138.89 1105.56 1132.22 1201.11 1140 1220 C1147.78 1238.89 1186.67 1243.33 1200 1250 C1213.33 1256.67 1253.33 1276.67 1260 1280" stroke-width="39.06"/><path d="M1000 900 C1017.78 896.67 1130 862.22 1160 870 C1190 877.78 1263.33 946.67 1270 970 C1276.67 993.33 1230 1050 1220 1080 C1210 1110 1184.44 1222.22 1180 1240" stroke-width="37.52"/><path d="M30 950 C42.22 972.22 125.56 1111.11 140 1150 C154.44 1188.89 157.78 1283.33 160 1300" stroke-width="34.44"/></g><g fill="none" stroke="#20c8f0" stroke-opacity="0.9" stroke-linecap="round" stroke-linejoin="round" filter="url(#rough)"><path d="M640 430 C653.33 423.33 731.11 375.56 760 370 C788.89 364.44 873.33 363.33 900 380 C926.67 396.67 986.67 496.67 1000 520 C1013.33 543.33 1024.44 574.44 1020 590 C1015.56 605.56 977.78 643.33 960 660 C942.22 676.67 882.22 733.33 860 740 C837.78 746.67 777.78 726.67 760 720 C742.22 713.33 710 697.78 700 680 C690 662.22 676.67 587.78 670 560 C663.33 532.22 643.33 444.44 640 430" stroke-width="26"/><path d="M490 800 C497.78 791.11 542.22 731.11 560 720 C577.78 708.89 630 698.89 650 700 C670 701.11 724.44 716.67 740 730 C755.56 743.33 784.44 801.11 790 820 C795.56 838.89 795.56 884.44 790 900 C784.44 915.56 758.89 952.78 740 960 C721.11 967.22 642.22 969.44 620 965 C597.78 960.56 555.56 931.67 540 920 C524.44 908.33 485.56 873.33 480 860 C474.44 846.67 488.89 806.67 490 800" stroke-width="26"/><path d="M150 700 C164.44 697.78 252.22 681.11 280 680 C307.78 678.89 385.56 676.67 400 690 C414.44 703.33 415.56 784.44 410 800 C404.44 815.56 375.56 827.78 350 830 C324.44 832.22 202.22 834.44 180 820 C157.78 805.56 153.33 713.33 150 700" stroke-width="23.14"/><path d="M1300 560 C1307.78 552.22 1355.56 498.89 1370 490 C1384.44 481.11 1423.33 481.11 1430 480" stroke-width="26"/><path d="M1300 560 C1304.44 573.33 1325.56 665.56 1340 680 C1354.44 694.44 1420 688.89 1430 690" stroke-width="26"/><path d="M250 1080 C257.78 1071.11 301.11 1016.67 320 1000 C338.89 983.33 394.44 925.56 420 930 C445.56 934.44 525.56 1035.56 550 1040 C574.44 1044.44 616.67 977.78 640 970 C663.33 962.22 744.44 962.22 760 970 C775.56 977.78 786.67 1024.44 780 1040 C773.33 1055.56 710 1092.22 700 1110 C690 1127.78 698.89 1183.33 690 1200 C681.11 1216.67 638.89 1254.44 620 1260 C601.11 1265.56 544.44 1254.44 520 1250 C495.56 1245.56 418.89 1230 400 1220 C381.11 1210 366.67 1175.56 350 1160 C333.33 1144.44 261.11 1088.89 250 1080" stroke-width="26"/><path d="M380 1120 C386.67 1113.33 422.22 1068.89 440 1060 C457.78 1051.11 528.89 1042.22 540 1040" stroke-width="24.57"/><path d="M560 1040 C563.33 1048.89 575.56 1111.11 590 1120 C604.44 1128.89 678.89 1120 690 1120" stroke-width="24.57"/><path d="M350 1160 L420 1220" stroke-width="24.57"/><path d="M690 1200 C697.78 1203.33 741.11 1232.22 760 1230 C778.89 1227.78 847.78 1196.67 860 1180 C872.22 1163.33 873.33 1100 870 1080 C866.67 1060 842.22 1012.22 830 1000 C817.78 987.78 767.78 973.33 760 970" stroke-width="24.57"/><path d="M400 1220 C393.33 1228.89 362.22 1287.78 340 1300 C317.78 1312.22 218.89 1314.44 200 1330 C181.11 1345.56 173.33 1427.78 170 1440" stroke-width="23.14"/><path d="M570 1260 L580 1440" stroke-width="23.14"/><path d="M760 1230 C764.44 1246.67 786.67 1358.89 800 1380 C813.33 1401.11 865.56 1423.33 880 1420 C894.44 1416.67 924.44 1370 930 1350 C935.56 1330 937.78 1258.89 930 1240 C922.22 1221.11 867.78 1186.67 860 1180" stroke-width="23.14"/><path d="M930 1350 L990 1440" stroke-width="20.28"/><path d="M130 240 C148.89 230 265.56 151.11 300 150 C334.44 148.89 406.67 230 440 230 C473.33 230 571.11 154.44 600 150 C628.89 145.56 661.11 186.67 700 190 C738.89 193.33 922.22 181.11 950 180" stroke-width="15.99"/><path d="M180 370 C204.44 366.67 353.33 334.44 400 340 C446.67 345.56 577.78 411.11 600 420" stroke-width="15.99"/><path d="M440 230 L420 350" stroke-width="15.99"/><path d="M1060 280 C1066.67 273.33 1104.44 227.78 1120 220 C1135.56 212.22 1180 205.56 1200 210 C1220 214.44 1280 246.67 1300 260 C1320 273.33 1380 312.22 1380 330 C1380 347.78 1320 405.56 1300 420 C1280 434.44 1222.22 461.11 1200 460 C1177.78 458.89 1115.56 430 1100 410 C1084.44 390 1064.44 294.44 1060 280" stroke-width="18.85"/><path d="M1180 130 C1187.78 140 1230 202.22 1250 220 C1270 237.78 1341.11 285.56 1360 290 C1378.89 294.44 1413.33 263.33 1420 260" stroke-width="18.14"/><path d="M1380 80 L1420 240" stroke-width="17.42"/><path d="M860 1000 C871.11 995.56 937.78 961.11 960 960 C982.22 958.89 1041.11 976.67 1060 990 C1078.89 1003.33 1121.11 1054.44 1130 1080 C1138.89 1105.56 1132.22 1201.11 1140 1220 C1147.78 1238.89 1186.67 1243.33 1200 1250 C1213.33 1256.67 1253.33 1276.67 1260 1280" stroke-width="18.14"/><path d="M1000 900 C1017.78 896.67 1130 862.22 1160 870 C1190 877.78 1263.33 946.67 1270 970 C1276.67 993.33 1230 1050 1220 1080 C1210 1110 1184.44 1222.22 1180 1240" stroke-width="17.42"/><path d="M30 950 C42.22 972.22 125.56 1111.11 140 1150 C154.44 1188.89 157.78 1283.33 160 1300" stroke-width="15.99"/></g><g fill="none" stroke="#90f0a0" stroke-opacity="0.5" stroke-linecap="round" stroke-linejoin="round" filter="url(#rough)"><path d="M640 430 C653.33 423.33 731.11 375.56 760 370 C788.89 364.44 873.33 363.33 900 380 C926.67 396.67 986.67 496.67 1000 520 C1013.33 543.33 1024.44 574.44 1020 590 C1015.56 605.56 977.78 643.33 960 660 C942.22 676.67 882.22 733.33 860 740 C837.78 746.67 777.78 726.67 760 720 C742.22 713.33 710 697.78 700 680 C690 662.22 676.67 587.78 670 560 C663.33 532.22 643.33 444.44 640 430" stroke-width="7"/><path d="M490 800 C497.78 791.11 542.22 731.11 560 720 C577.78 708.89 630 698.89 650 700 C670 701.11 724.44 716.67 740 730 C755.56 743.33 784.44 801.11 790 820 C795.56 838.89 795.56 884.44 790 900 C784.44 915.56 758.89 952.78 740 960 C721.11 967.22 642.22 969.44 620 965 C597.78 960.56 555.56 931.67 540 920 C524.44 908.33 485.56 873.33 480 860 C474.44 846.67 488.89 806.67 490 800" stroke-width="7"/><path d="M150 700 C164.44 697.78 252.22 681.11 280 680 C307.78 678.89 385.56 676.67 400 690 C414.44 703.33 415.56 784.44 410 800 C404.44 815.56 375.56 827.78 350 830 C324.44 832.22 202.22 834.44 180 820 C157.78 805.56 153.33 713.33 150 700" stroke-width="6.23"/><path d="M1300 560 C1307.78 552.22 1355.56 498.89 1370 490 C1384.44 481.11 1423.33 481.11 1430 480" stroke-width="7"/><path d="M1300 560 C1304.44 573.33 1325.56 665.56 1340 680 C1354.44 694.44 1420 688.89 1430 690" stroke-width="7"/><path d="M250 1080 C257.78 1071.11 301.11 1016.67 320 1000 C338.89 983.33 394.44 925.56 420 930 C445.56 934.44 525.56 1035.56 550 1040 C574.44 1044.44 616.67 977.78 640 970 C663.33 962.22 744.44 962.22 760 970 C775.56 977.78 786.67 1024.44 780 1040 C773.33 1055.56 710 1092.22 700 1110 C690 1127.78 698.89 1183.33 690 1200 C681.11 1216.67 638.89 1254.44 620 1260 C601.11 1265.56 544.44 1254.44 520 1250 C495.56 1245.56 418.89 1230 400 1220 C381.11 1210 366.67 1175.56 350 1160 C333.33 1144.44 261.11 1088.89 250 1080" stroke-width="7"/><path d="M380 1120 C386.67 1113.33 422.22 1068.89 440 1060 C457.78 1051.11 528.89 1042.22 540 1040" stroke-width="6.62"/><path d="M560 1040 C563.33 1048.89 575.56 1111.11 590 1120 C604.44 1128.89 678.89 1120 690 1120" stroke-width="6.62"/><path d="M350 1160 L420 1220" stroke-width="6.62"/><path d="M690 1200 C697.78 1203.33 741.11 1232.22 760 1230 C778.89 1227.78 847.78 1196.67 860 1180 C872.22 1163.33 873.33 1100 870 1080 C866.67 1060 842.22 1012.22 830 1000 C817.78 987.78 767.78 973.33 760 970" stroke-width="6.62"/><path d="M400 1220 C393.33 1228.89 362.22 1287.78 340 1300 C317.78 1312.22 218.89 1314.44 200 1330 C181.11 1345.56 173.33 1427.78 170 1440" stroke-width="6.23"/><path d="M570 1260 L580 1440" stroke-width="6.23"/><path d="M760 1230 C764.44 1246.67 786.67 1358.89 800 1380 C813.33 1401.11 865.56 1423.33 880 1420 C894.44 1416.67 924.44 1370 930 1350 C935.56 1330 937.78 1258.89 930 1240 C922.22 1221.11 867.78 1186.67 860 1180" stroke-width="6.23"/><path d="M930 1350 L990 1440" stroke-width="5.46"/><path d="M130 240 C148.89 230 265.56 151.11 300 150 C334.44 148.89 406.67 230 440 230 C473.33 230 571.11 154.44 600 150 C628.89 145.56 661.11 186.67 700 190 C738.89 193.33 922.22 181.11 950 180" stroke-width="4.3"/><path d="M180 370 C204.44 366.67 353.33 334.44 400 340 C446.67 345.56 577.78 411.11 600 420" stroke-width="4.3"/><path d="M440 230 L420 350" stroke-width="4.3"/><path d="M1060 280 C1066.67 273.33 1104.44 227.78 1120 220 C1135.56 212.22 1180 205.56 1200 210 C1220 214.44 1280 246.67 1300 260 C1320 273.33 1380 312.22 1380 330 C1380 347.78 1320 405.56 1300 420 C1280 434.44 1222.22 461.11 1200 460 C1177.78 458.89 1115.56 430 1100 410 C1084.44 390 1064.44 294.44 1060 280" stroke-width="5.08"/><path d="M1180 130 C1187.78 140 1230 202.22 1250 220 C1270 237.78 1341.11 285.56 1360 290 C1378.89 294.44 1413.33 263.33 1420 260" stroke-width="4.88"/><path d="M1380 80 L1420 240" stroke-width="4.69"/><path d="M860 1000 C871.11 995.56 937.78 961.11 960 960 C982.22 958.89 1041.11 976.67 1060 990 C1078.89 1003.33 1121.11 1054.44 1130 1080 C1138.89 1105.56 1132.22 1201.11 1140 1220 C1147.78 1238.89 1186.67 1243.33 1200 1250 C1213.33 1256.67 1253.33 1276.67 1260 1280" stroke-width="4.88"/><path d="M1000 900 C1017.78 896.67 1130 862.22 1160 870 C1190 877.78 1263.33 946.67 1270 970 C1276.67 993.33 1230 1050 1220 1080 C1210 1110 1184.44 1222.22 1180 1240" stroke-width="4.69"/><path d="M30 950 C42.22 972.22 125.56 1111.11 140 1150 C154.44 1188.89 157.78 1283.33 160 1300" stroke-width="4.3"/></g><g fill="#30d0ff" fill-opacity="0.9"><rect x="643" y="426" width="13" height="13"/><rect x="704" y="323" width="13" height="13"/><rect x="754" y="447" width="13" height="13"/><rect x="805" y="509" width="13" height="13"/><rect x="1004" y="410" width="13" height="13"/><rect x="811" y="406" width="13" height="13"/><rect x="886" y="496" width="13" height="13"/><rect x="1029" y="542" width="13" height="13"/><rect x="1072" y="503" width="13" height="13"/><rect x="933" y="386" width="13" height="13"/><rect x="1001" y="635" width="13" height="13"/><rect x="938" y="716" width="13" height="13"/><rect x="1060" y="649" width="13" height="13"/><rect x="897" y="760" width="13" height="13"/><rect x="981" y="707" width="13" height="13"/><rect x="841" y="668" width="13" height="13"/><rect x="816" y="780" width="13" height="13"/><rect x="800" y="716" width="13" height="13"/><rect x="740" y="707" width="13" height="13"/><rect x="731" y="564" width="13" height="13"/><rect x="688" y="674" width="13" height="13"/><rect x="663" y="504" width="13" height="13"/><rect x="696" y="569" width="13" height="13"/><rect x="656" y="391" width="13" height="13"/><rect x="509" y="774" width="13" height="13"/><rect x="516" y="785" width="13" height="13"/><rect x="498" y="741" width="13" height="13"/><rect x="651" y="652" width="13" height="13"/><rect x="552" y="688" width="13" height="13"/><rect x="680" y="703" width="13" height="13"/><rect x="710" y="787" width="13" height="13"/><rect x="702" y="733" width="13" height="13"/><rect x="819" y="910" width="13" height="13"/><rect x="728" y="965" width="13" height="13"/><rect x="722" y="956" width="13" height="13"/><rect x="775" y="998" width="13" height="13"/><rect x="479" y="926" width="13" height="13"/><rect x="525" y="944" width="13" height="13"/><rect x="564" y="825" width="13" height="13"/><rect x="443" y="797" width="13" height="13"/><rect x="487" y="926" width="13" height="13"/><rect x="193" y="629" width="13" height="13"/><rect x="158" y="696" width="13" height="13"/><rect x="175" y="723" width="13" height="13"/><rect x="379" y="676" width="13" height="13"/><rect x="404" y="549" width="13" height="13"/><rect x="391" y="877" width="13" height="13"/><rect x="299" y="636" width="13" height="13"/><rect x="385" y="823" width="13" height="13"/><rect x="323" y="851" width="13" height="13"/><rect x="226" y="780" width="13" height="13"/><rect x="201" y="759" width="13" height="13"/><rect x="242" y="765" width="13" height="13"/><rect x="121" y="846" width="13" height="13"/><rect x="180" y="817" width="13" height="13"/><rect x="1416" y="440" width="13" height="13"/><rect x="1283" y="566" width="13" height="13"/><rect x="1371" y="550" width="13" height="13"/><rect x="1299" y="618" width="13" height="13"/><rect x="1262" y="640" width="13" height="13"/><rect x="1263" y="609" width="13" height="13"/><rect x="1345" y="693" width="13" height="13"/><rect x="1299" y="695" width="13" height="13"/><rect x="318" y="969" width="13" height="13"/><rect x="473" y="978" width="13" height="13"/><rect x="489" y="992" width="13" height="13"/><rect x="452" y="946" width="13" height="13"/><rect x="457" y="890" width="13" height="13"/><rect x="469" y="991" width="13" height="13"/><rect x="464" y="815" width="13" height="13"/><rect x="444" y="819" width="13" height="13"/><rect x="514" y="1000" width="13" height="13"/><rect x="644" y="964" width="13" height="13"/><rect x="705" y="911" width="13" height="13"/><rect x="737" y="883" width="13" height="13"/><rect x="771" y="1052" width="13" height="13"/><rect x="792" y="1110" width="13" height="13"/><rect x="651" y="1145" width="13" height="13"/><rect x="739" y="1188" width="13" height="13"/><rect x="705" y="1187" width="13" height="13"/><rect x="574" y="1251" width="13" height="13"/><rect x="617" y="1199" width="13" height="13"/><rect x="662" y="1194" width="13" height="13"/><rect x="531" y="1095" width="13" height="13"/><rect x="544" y="1153" width="13" height="13"/><rect x="421" y="1217" width="13" height="13"/><rect x="361" y="1221" width="13" height="13"/><rect x="286" y="1157" width="13" height="13"/><rect x="389" y="1098" width="13" height="13"/><rect x="301" y="1143" width="13" height="13"/><rect x="332" y="1241" width="13" height="13"/><rect x="417" y="1187" width="13" height="13"/><rect x="528" y="1175" width="13" height="13"/><rect x="396" y="1025" width="13" height="13"/><rect x="581" y="1098" width="13" height="13"/><rect x="573" y="1010" width="13" height="13"/><rect x="692" y="1096" width="13" height="13"/><rect x="627" y="1091" width="13" height="13"/><rect x="428" y="1155" width="13" height="13"/><rect x="383" y="1158" width="13" height="13"/><rect x="689" y="1156" width="13" height="13"/><rect x="720" y="1121" width="13" height="13"/><rect x="858" y="1170" width="13" height="13"/><rect x="857" y="1117" width="13" height="13"/><rect x="824" y="1088" width="13" height="13"/><rect x="825" y="1024" width="13" height="13"/><rect x="815" y="1056" width="13" height="13"/><rect x="839" y="982" width="13" height="13"/><rect x="326" y="1284" width="13" height="13"/><rect x="455" y="1296" width="13" height="13"/><rect x="369" y="1266" width="13" height="13"/><rect x="175" y="1196" width="13" height="13"/><rect x="328" y="1348" width="13" height="13"/><rect x="176" y="1461" width="13" height="13"/><rect x="132" y="1368" width="13" height="13"/><rect x="581" y="1360" width="13" height="13"/><rect x="659" y="1296" width="13" height="13"/><rect x="618" y="1474" width="13" height="13"/><rect x="496" y="1295" width="13" height="13"/><rect x="841" y="1283" width="13" height="13"/><rect x="718" y="1280" width="13" height="13"/><rect x="848" y="1297" width="13" height="13"/><rect x="825" y="1348" width="13" height="13"/><rect x="802" y="1416" width="13" height="13"/><rect x="915" y="1406" width="13" height="13"/><rect x="922" y="1403" width="13" height="13"/><rect x="902" y="1240" width="13" height="13"/><rect x="860" y="1225" width="13" height="13"/><rect x="818" y="1223" width="13" height="13"/><rect x="829" y="1141" width="13" height="13"/><rect x="931" y="1399" width="13" height="13"/><rect x="927" y="1324" width="13" height="13"/><rect x="218" y="220" width="13" height="13"/><rect x="116" y="331" width="13" height="13"/><rect x="150" y="214" width="13" height="13"/><rect x="121" y="220" width="13" height="13"/><rect x="422" y="166" width="13" height="13"/><rect x="429" y="256" width="13" height="13"/><rect x="311" y="189" width="13" height="13"/><rect x="394" y="203" width="13" height="13"/><rect x="597" y="164" width="13" height="13"/><rect x="433" y="180" width="13" height="13"/><rect x="631" y="199" width="13" height="13"/><rect x="732" y="164" width="13" height="13"/><rect x="653" y="69" width="13" height="13"/><rect x="923" y="152" width="13" height="13"/><rect x="1001" y="155" width="13" height="13"/><rect x="926" y="77" width="13" height="13"/><rect x="898" y="193" width="13" height="13"/><rect x="745" y="199" width="13" height="13"/><rect x="892" y="127" width="13" height="13"/><rect x="381" y="475" width="13" height="13"/><rect x="263" y="407" width="13" height="13"/><rect x="301" y="295" width="13" height="13"/><rect x="255" y="436" width="13" height="13"/><rect x="307" y="320" width="13" height="13"/><rect x="546" y="392" width="13" height="13"/><rect x="427" y="422" width="13" height="13"/><rect x="476" y="359" width="13" height="13"/><rect x="406" y="378" width="13" height="13"/><rect x="439" y="349" width="13" height="13"/><rect x="426" y="292" width="13" height="13"/><rect x="331" y="310" width="13" height="13"/><rect x="1195" y="253" width="13" height="13"/><rect x="1106" y="233" width="13" height="13"/><rect x="1165" y="221" width="13" height="13"/><rect x="1261" y="218" width="13" height="13"/><rect x="1243" y="232" width="13" height="13"/><rect x="1298" y="295" width="13" height="13"/><rect x="1485" y="390" width="13" height="13"/><rect x="1379" y="316" width="13" height="13"/><rect x="1537" y="393" width="13" height="13"/><rect x="1216" y="362" width="13" height="13"/><rect x="1236" y="381" width="13" height="13"/><rect x="1115" y="448" width="13" height="13"/><rect x="1169" y="324" width="13" height="13"/><rect x="1144" y="342" width="13" height="13"/><rect x="1093" y="285" width="13" height="13"/><rect x="1067" y="402" width="13" height="13"/><rect x="1304" y="212" width="13" height="13"/><rect x="1270" y="211" width="13" height="13"/><rect x="1325" y="377" width="13" height="13"/><rect x="1237" y="225" width="13" height="13"/><rect x="1359" y="246" width="13" height="13"/><rect x="1352" y="322" width="13" height="13"/><rect x="1405" y="220" width="13" height="13"/><rect x="1335" y="19" width="13" height="13"/><rect x="1245" y="104" width="13" height="13"/><rect x="912" y="930" width="13" height="13"/><rect x="930" y="894" width="13" height="13"/><rect x="1014" y="995" width="13" height="13"/><rect x="999" y="923" width="13" height="13"/><rect x="1090" y="1059" width="13" height="13"/><rect x="1054" y="1027" width="13" height="13"/><rect x="1204" y="1101" width="13" height="13"/><rect x="1223" y="1204" width="13" height="13"/><rect x="1076" y="1108" width="13" height="13"/><rect x="1172" y="1195" width="13" height="13"/><rect x="1294" y="1226" width="13" height="13"/><rect x="1023" y="835" width="13" height="13"/><rect x="1168" y="872" width="13" height="13"/><rect x="1190" y="877" width="13" height="13"/><rect x="1166" y="867" width="13" height="13"/><rect x="1194" y="876" width="13" height="13"/><rect x="1213" y="968" width="13" height="13"/><rect x="1228" y="895" width="13" height="13"/><rect x="1224" y="933" width="13" height="13"/><rect x="1213" y="1133" width="13" height="13"/><rect x="1181" y="1131" width="13" height="13"/><rect x="1220" y="1288" width="13" height="13"/><rect x="27" y="1058" width="13" height="13"/><rect x="151" y="1051" width="13" height="13"/><rect x="162" y="1094" width="13" height="13"/><rect x="179" y="1074" width="13" height="13"/><rect x="176" y="1223" width="13" height="13"/><rect x="91" y="1225" width="13" height="13"/><rect x="124" y="1210" width="13" height="13"/><rect x="134" y="1115" width="13" height="13"/></g></svg>
<svg x="865" y="917" width="158" height="159" viewBox="0 0 1440 1440" preserveAspectRatio="none"><rect width="1440" height="1440" fill="#00008f"/><g fill="#30d0ff" fill-opacity="0.45" filter="url(#speckA)"><path d="M220 380 C228.89 368.89 280 297.78 300 280 C320 262.22 382.22 222.22 400 220 C417.78 217.78 452.22 240 460 260 C467.78 280 472.22 371.11 470 400 C467.78 428.89 456.67 496.67 440 520 C423.33 543.33 344.44 607.78 320 610 C295.56 612.22 233.33 556.67 220 540 C206.67 523.33 200 477.78 200 460 C200 442.22 217.78 388.89 220 380"/><path d="M690 420 C693.33 404.44 707.78 304.44 720 280 C732.22 255.56 782.22 202.22 800 200 C817.78 197.78 867.78 237.78 880 260 C892.22 282.22 907.78 366.67 910 400 C912.22 433.33 905.56 540 900 560 C894.44 580 873.33 582.22 860 580 C846.67 577.78 797.78 551.11 780 540 C762.22 528.89 710 493.33 700 480 C690 466.67 691.11 426.67 690 420"/></g><g fill="none" stroke="#40d8f0" stroke-opacity="0.9" stroke-linecap="round" stroke-linejoin="round" filter="url(#speckB)"><path d="M220 380 C228.89 368.89 280 297.78 300 280 C320 262.22 382.22 222.22 400 220 C417.78 217.78 452.22 240 460 260 C467.78 280 472.22 371.11 470 400 C467.78 428.89 456.67 496.67 440 520 C423.33 543.33 344.44 607.78 320 610 C295.56 612.22 233.33 556.67 220 540 C206.67 523.33 200 477.78 200 460 C200 442.22 217.78 388.89 220 380" stroke-width="115.06"/><path d="M320 610 C317.78 620 300 673.33 300 700 C300 726.67 308.89 818.89 320 850 C331.11 881.11 386.67 963.33 400 980 C413.33 996.67 435.56 997.78 440 1000" stroke-width="107.72"/><path d="M500 600 C497.78 616.67 481.11 716.67 480 750 C478.89 783.33 483.33 876.67 490 900 C496.67 923.33 527.78 950 540 960 C552.22 970 582.22 992.22 600 990 C617.78 987.78 682.22 956.67 700 940 C717.78 923.33 751.11 858.89 760 840 C768.89 821.11 786.67 785.56 780 770 C773.33 754.44 717.78 716.67 700 700 C682.22 683.33 633.33 637.78 620 620 C606.67 602.22 584.44 548.89 580 540" stroke-width="111.39"/><path d="M690 420 C693.33 404.44 707.78 304.44 720 280 C732.22 255.56 782.22 202.22 800 200 C817.78 197.78 867.78 237.78 880 260 C892.22 282.22 907.78 366.67 910 400 C912.22 433.33 905.56 540 900 560 C894.44 580 873.33 582.22 860 580 C846.67 577.78 797.78 551.11 780 540 C762.22 528.89 710 493.33 700 480 C690 466.67 691.11 426.67 690 420" stroke-width="118.73"/><path d="M880 580 C878.89 593.33 881.11 678.89 870 700 C858.89 721.11 790 762.22 780 770" stroke-width="111.39"/><path d="M920 620 C928.89 616.67 982.22 593.33 1000 590 C1017.78 586.67 1063.33 582.22 1080 590 C1096.67 597.78 1144.44 641.11 1150 660 C1155.56 678.89 1140 743.33 1130 760 C1120 776.67 1067.78 804.44 1060 810" stroke-width="104.05"/><path d="M920 300 C935.56 300 1040 286.67 1060 300 C1080 313.33 1093.33 391.11 1100 420 C1106.67 448.89 1117.78 544.44 1120 560" stroke-width="85.71"/><path d="M880 940 C884.44 930 901.11 864.44 920 850 C938.89 835.56 1031.11 810 1050 810 C1068.89 810 1083.33 834.44 1090 850 C1096.67 865.56 1105.56 933.33 1110 950 C1114.44 966.67 1127.78 994.44 1130 1000" stroke-width="133.4"/><path d="M870 950 C871.11 954.44 870 984.44 880 990 C890 995.56 940 994.44 960 1000 C980 1005.56 1046.67 1028.89 1060 1040 C1073.33 1051.11 1088.89 1086.67 1080 1100 C1071.11 1113.33 1002.22 1153.33 980 1160 C957.78 1166.67 894.44 1165.56 880 1160 C865.56 1154.44 854.44 1126.67 850 1110 C845.56 1093.33 836.67 1023.33 840 1010 C843.33 996.67 875.56 992.22 880 990" stroke-width="133.4"/><path d="M1130 950 C1128.89 966.67 1125.56 1070 1120 1100 C1114.44 1130 1088.89 1196.67 1080 1220 C1071.11 1243.33 1051.11 1305.56 1040 1310 C1028.89 1314.44 997.78 1272.22 980 1260 C962.22 1247.78 897.78 1207.78 880 1200 C862.22 1192.22 833.33 1184.44 820 1190 C806.67 1195.56 767.78 1236.67 760 1250 C752.22 1263.33 741.11 1295.56 750 1310 C758.89 1324.44 818.89 1374.44 840 1380 C861.11 1385.56 917.78 1367.78 940 1360 C962.22 1352.22 1028.89 1315.56 1040 1310" stroke-width="133.4"/><path d="M1040 1310 L1100 1380" stroke-width="126.06"/><path d="M1180 1000 C1181.11 1022.22 1181.11 1167.78 1190 1200 C1198.89 1232.22 1244.44 1267.78 1260 1290 C1275.56 1312.22 1322.22 1387.78 1330 1400" stroke-width="85.71"/><path d="M460 90 L480 250" stroke-width="89.38"/></g><g fill="none" stroke="#1070ff" stroke-opacity="0.9" stroke-linecap="round" stroke-linejoin="round" filter="url(#rough)"><path d="M220 380 C228.89 368.89 280 297.78 300 280 C320 262.22 382.22 222.22 400 220 C417.78 217.78 452.22 240 460 260 C467.78 280 472.22 371.11 470 400 C467.78 428.89 456.67 496.67 440 520 C423.33 543.33 344.44 607.78 320 610 C295.56 612.22 233.33 556.67 220 540 C206.67 523.33 200 477.78 200 460 C200 442.22 217.78 388.89 220 380" stroke-width="79.35"/><path d="M320 610 C317.78 620 300 673.33 300 700 C300 726.67 308.89 818.89 320 850 C331.11 881.11 386.67 963.33 400 980 C413.33 996.67 435.56 997.78 440 1000" stroke-width="74.29"/><path d="M500 600 C497.78 616.67 481.11 716.67 480 750 C478.89 783.33 483.33 876.67 490 900 C496.67 923.33 527.78 950 540 960 C552.22 970 582.22 992.22 600 990 C617.78 987.78 682.22 956.67 700 940 C717.78 923.33 751.11 858.89 760 840 C768.89 821.11 786.67 785.56 780 770 C773.33 754.44 717.78 716.67 700 700 C682.22 683.33 633.33 637.78 620 620 C606.67 602.22 584.44 548.89 580 540" stroke-width="76.82"/><path d="M690 420 C693.33 404.44 707.78 304.44 720 280 C732.22 255.56 782.22 202.22 800 200 C817.78 197.78 867.78 237.78 880 260 C892.22 282.22 907.78 366.67 910 400 C912.22 433.33 905.56 540 900 560 C894.44 580 873.33 582.22 860 580 C846.67 577.78 797.78 551.11 780 540 C762.22 528.89 710 493.33 700 480 C690 466.67 691.11 426.67 690 420" stroke-width="81.88"/><path d="M880 580 C878.89 593.33 881.11 678.89 870 700 C858.89 721.11 790 762.22 780 770" stroke-width="76.82"/><path d="M920 620 C928.89 616.67 982.22 593.33 1000 590 C1017.78 586.67 1063.33 582.22 1080 590 C1096.67 597.78 1144.44 641.11 1150 660 C1155.56 678.89 1140 743.33 1130 760 C1120 776.67 1067.78 804.44 1060 810" stroke-width="71.76"/><path d="M920 300 C935.56 300 1040 286.67 1060 300 C1080 313.33 1093.33 391.11 1100 420 C1106.67 448.89 1117.78 544.44 1120 560" stroke-width="59.11"/><path d="M880 940 C884.44 930 901.11 864.44 920 850 C938.89 835.56 1031.11 810 1050 810 C1068.89 810 1083.33 834.44 1090 850 C1096.67 865.56 1105.56 933.33 1110 950 C1114.44 966.67 1127.78 994.44 1130 1000" stroke-width="92"/><path d="M870 950 C871.11 954.44 870 984.44 880 990 C890 995.56 940 994.44 960 1000 C980 1005.56 1046.67 1028.89 1060 1040 C1073.33 1051.11 1088.89 1086.67 1080 1100 C1071.11 1113.33 1002.22 1153.33 980 1160 C957.78 1166.67 894.44 1165.56 880 1160 C865.56 1154.44 854.44 1126.67 850 1110 C845.56 1093.33 836.67 1023.33 840 1010 C843.33 996.67 875.56 992.22 880 990" stroke-width="92"/><path d="M1130 950 C1128.89 966.67 1125.56 1070 1120 1100 C1114.44 1130 1088.89 1196.67 1080 1220 C1071.11 1243.33 1051.11 1305.56 1040 1310 C1028.89 1314.44 997.78 1272.22 980 1260 C962.22 1247.78 897.78 1207.78 880 1200 C862.22 1192.22 833.33 1184.44 820 1190 C806.67 1195.56 767.78 1236.67 760 1250 C752.22 1263.33 741.11 1295.56 750 1310 C758.89 1324.44 818.89 1374.44 840 1380 C861.11 1385.56 917.78 1367.78 940 1360 C962.22 1352.22 1028.89 1315.56 1040 1310" stroke-width="92"/><path d="M1040 1310 L1100 1380" stroke-width="86.94"/><path d="M1180 1000 C1181.11 1022.22 1181.11 1167.78 1190 1200 C1198.89 1232.22 1244.44 1267.78 1260 1290 C1275.56 1312.22 1322.22 1387.78 1330 1400" stroke-width="59.11"/><path d="M460 90 L480 250" stroke-width="61.64"/></g><g fill="none" stroke="#30e0e0" stroke-opacity="1" stroke-linecap="round" stroke-linejoin="round" filter="url(#rough)"><path d="M220 380 C228.89 368.89 280 297.78 300 280 C320 262.22 382.22 222.22 400 220 C417.78 217.78 452.22 240 460 260 C467.78 280 472.22 371.11 470 400 C467.78 428.89 456.67 496.67 440 520 C423.33 543.33 344.44 607.78 320 610 C295.56 612.22 233.33 556.67 220 540 C206.67 523.33 200 477.78 200 460 C200 442.22 217.78 388.89 220 380" stroke-width="53.48"/><path d="M320 610 C317.78 620 300 673.33 300 700 C300 726.67 308.89 818.89 320 850 C331.11 881.11 386.67 963.33 400 980 C413.33 996.67 435.56 997.78 440 1000" stroke-width="50.07"/><path d="M500 600 C497.78 616.67 481.11 716.67 480 750 C478.89 783.33 483.33 876.67 490 900 C496.67 923.33 527.78 950 540 960 C552.22 970 582.22 992.22 600 990 C617.78 987.78 682.22 956.67 700 940 C717.78 923.33 751.11 858.89 760 840 C768.89 821.11 786.67 785.56 780 770 C773.33 754.44 717.78 716.67 700 700 C682.22 683.33 633.33 637.78 620 620 C606.67 602.22 584.44 548.89 580 540" stroke-width="51.77"/><path d="M690 420 C693.33 404.44 707.78 304.44 720 280 C732.22 255.56 782.22 202.22 800 200 C817.78 197.78 867.78 237.78 880 260 C892.22 282.22 907.78 366.67 910 400 C912.22 433.33 905.56 540 900 560 C894.44 580 873.33 582.22 860 580 C846.67 577.78 797.78 551.11 780 540 C762.22 528.89 710 493.33 700 480 C690 466.67 691.11 426.67 690 420" stroke-width="55.18"/><path d="M880 580 C878.89 593.33 881.11 678.89 870 700 C858.89 721.11 790 762.22 780 770" stroke-width="51.77"/><path d="M920 620 C928.89 616.67 982.22 593.33 1000 590 C1017.78 586.67 1063.33 582.22 1080 590 C1096.67 597.78 1144.44 641.11 1150 660 C1155.56 678.89 1140 743.33 1130 760 C1120 776.67 1067.78 804.44 1060 810" stroke-width="48.36"/><path d="M920 300 C935.56 300 1040 286.67 1060 300 C1080 313.33 1093.33 391.11 1100 420 C1106.67 448.89 1117.78 544.44 1120 560" stroke-width="39.84"/><path d="M880 940 C884.44 930 901.11 864.44 920 850 C938.89 835.56 1031.11 810 1050 810 C1068.89 810 1083.33 834.44 1090 850 C1096.67 865.56 1105.56 933.33 1110 950 C1114.44 966.67 1127.78 994.44 1130 1000" stroke-width="62"/><path d="M870 950 C871.11 954.44 870 984.44 880 990 C890 995.56 940 994.44 960 1000 C980 1005.56 1046.67 1028.89 1060 1040 C1073.33 1051.11 1088.89 1086.67 1080 1100 C1071.11 1113.33 1002.22 1153.33 980 1160 C957.78 1166.67 894.44 1165.56 880 1160 C865.56 1154.44 854.44 1126.67 850 1110 C845.56 1093.33 836.67 1023.33 840 1010 C843.33 996.67 875.56 992.22 880 990" stroke-width="62"/><path d="M1130 950 C1128.89 966.67 1125.56 1070 1120 1100 C1114.44 1130 1088.89 1196.67 1080 1220 C1071.11 1243.33 1051.11 1305.56 1040 1310 C1028.89 1314.44 997.78 1272.22 980 1260 C962.22 1247.78 897.78 1207.78 880 1200 C862.22 1192.22 833.33 1184.44 820 1190 C806.67 1195.56 767.78 1236.67 760 1250 C752.22 1263.33 741.11 1295.56 750 1310 C758.89 1324.44 818.89 1374.44 840 1380 C861.11 1385.56 917.78 1367.78 940 1360 C962.22 1352.22 1028.89 1315.56 1040 1310" stroke-width="62"/><path d="M1040 1310 L1100 1380" stroke-width="58.59"/><path d="M1180 1000 C1181.11 1022.22 1181.11 1167.78 1190 1200 C1198.89 1232.22 1244.44 1267.78 1260 1290 C1275.56 1312.22 1322.22 1387.78 1330 1400" stroke-width="39.84"/><path d="M460 90 L480 250" stroke-width="41.54"/></g><g fill="none" stroke="#b0f040" stroke-opacity="0.8" stroke-linecap="round" stroke-linejoin="round" filter="url(#rough)"><path d="M220 380 C228.89 368.89 280 297.78 300 280 C320 262.22 382.22 222.22 400 220 C417.78 217.78 452.22 240 460 260 C467.78 280 472.22 371.11 470 400 C467.78 428.89 456.67 496.67 440 520 C423.33 543.33 344.44 607.78 320 610 C295.56 612.22 233.33 556.67 220 540 C206.67 523.33 200 477.78 200 460 C200 442.22 217.78 388.89 220 380" stroke-width="22.43"/><path d="M320 610 C317.78 620 300 673.33 300 700 C300 726.67 308.89 818.89 320 850 C331.11 881.11 386.67 963.33 400 980 C413.33 996.67 435.56 997.78 440 1000" stroke-width="21"/><path d="M500 600 C497.78 616.67 481.11 716.67 480 750 C478.89 783.33 483.33 876.67 490 900 C496.67 923.33 527.78 950 540 960 C552.22 970 582.22 992.22 600 990 C617.78 987.78 682.22 956.67 700 940 C717.78 923.33 751.11 858.89 760 840 C768.89 821.11 786.67 785.56 780 770 C773.33 754.44 717.78 716.67 700 700 C682.22 683.33 633.33 637.78 620 620 C606.67 602.22 584.44 548.89 580 540" stroke-width="21.71"/><path d="M690 420 C693.33 404.44 707.78 304.44 720 280 C732.22 255.56 782.22 202.22 800 200 C817.78 197.78 867.78 237.78 880 260 C892.22 282.22 907.78 366.67 910 400 C912.22 433.33 905.56 540 900 560 C894.44 580 873.33 582.22 860 580 C846.67 577.78 797.78 551.11 780 540 C762.22 528.89 710 493.33 700 480 C690 466.67 691.11 426.67 690 420" stroke-width="23.14"/><path d="M880 580 C878.89 593.33 881.11 678.89 870 700 C858.89 721.11 790 762.22 780 770" stroke-width="21.71"/><path d="M920 620 C928.89 616.67 982.22 593.33 1000 590 C1017.78 586.67 1063.33 582.22 1080 590 C1096.67 597.78 1144.44 641.11 1150 660 C1155.56 678.89 1140 743.33 1130 760 C1120 776.67 1067.78 804.44 1060 810" stroke-width="20.28"/><path d="M920 300 C935.56 300 1040 286.67 1060 300 C1080 313.33 1093.33 391.11 1100 420 C1106.67 448.89 1117.78 544.44 1120 560" stroke-width="16.71"/><path d="M880 940 C884.44 930 901.11 864.44 920 850 C938.89 835.56 1031.11 810 1050 810 C1068.89 810 1083.33 834.44 1090 850 C1096.67 865.56 1105.56 933.33 1110 950 C1114.44 966.67 1127.78 994.44 1130 1000" stroke-width="26"/><path d="M870 950 C871.11 954.44 870 984.44 880 990 C890 995.56 940 994.44 960 1000 C980 1005.56 1046.67 1028.89 1060 1040 C1073.33 1051.11 1088.89 1086.67 1080 1100 C1071.11 1113.33 1002.22 1153.33 980 1160 C957.78 1166.67 894.44 1165.56 880 1160 C865.56 1154.44 854.44 1126.67 850 1110 C845.56 1093.33 836.67 1023.33 840 1010 C843.33 996.67 875.56 992.22 880 990" stroke-width="26"/><path d="M1130 950 C1128.89 966.67 1125.56 1070 1120 1100 C1114.44 1130 1088.89 1196.67 1080 1220 C1071.11 1243.33 1051.11 1305.56 1040 1310 C1028.89 1314.44 997.78 1272.22 980 1260 C962.22 1247.78 897.78 1207.78 880 1200 C862.22 1192.22 833.33 1184.44 820 1190 C806.67 1195.56 767.78 1236.67 760 1250 C752.22 1263.33 741.11 1295.56 750 1310 C758.89 1324.44 818.89 1374.44 840 1380 C861.11 1385.56 917.78 1367.78 940 1360 C962.22 1352.22 1028.89 1315.56 1040 1310" stroke-width="26"/><path d="M1040 1310 L1100 1380" stroke-width="24.57"/><path d="M1180 1000 C1181.11 1022.22 1181.11 1167.78 1190 1200 C1198.89 1232.22 1244.44 1267.78 1260 1290 C1275.56 1312.22 1322.22 1387.78 1330 1400" stroke-width="16.71"/><path d="M460 90 L480 250" stroke-width="17.42"/></g><g fill="none" stroke="#ff9000" stroke-opacity="0.5" stroke-linecap="round" stroke-linejoin="round" filter="url(#rough)"><path d="M220 380 C228.89 368.89 280 297.78 300 280 C320 262.22 382.22 222.22 400 220 C417.78 217.78 452.22 240 460 260 C467.78 280 472.22 371.11 470 400 C467.78 428.89 456.67 496.67 440 520 C423.33 543.33 344.44 607.78 320 610 C295.56 612.22 233.33 556.67 220 540 C206.67 523.33 200 477.78 200 460 C200 442.22 217.78 388.89 220 380" stroke-width="6.04"/><path d="M320 610 C317.78 620 300 673.33 300 700 C300 726.67 308.89 818.89 320 850 C331.11 881.11 386.67 963.33 400 980 C413.33 996.67 435.56 997.78 440 1000" stroke-width="5.65"/><path d="M500 600 C497.78 616.67 481.11 716.67 480 750 C478.89 783.33 483.33 876.67 490 900 C496.67 923.33 527.78 950 540 960 C552.22 970 582.22 992.22 600 990 C617.78 987.78 682.22 956.67 700 940 C717.78 923.33 751.11 858.89 760 840 C768.89 821.11 786.67 785.56 780 770 C773.33 754.44 717.78 716.67 700 700 C682.22 683.33 633.33 637.78 620 620 C606.67 602.22 584.44 548.89 580 540" stroke-width="5.84"/><path d="M690 420 C693.33 404.44 707.78 304.44 720 280 C732.22 255.56 782.22 202.22 800 200 C817.78 197.78 867.78 237.78 880 260 C892.22 282.22 907.78 366.67 910 400 C912.22 433.33 905.56 540 900 560 C894.44 580 873.33 582.22 860 580 C846.67 577.78 797.78 551.11 780 540 C762.22 528.89 710 493.33 700 480 C690 466.67 691.11 426.67 690 420" stroke-width="6.23"/><path d="M880 580 C878.89 593.33 881.11 678.89 870 700 C858.89 721.11 790 762.22 780 770" stroke-width="5.84"/><path d="M920 620 C928.89 616.67 982.22 593.33 1000 590 C1017.78 586.67 1063.33 582.22 1080 590 C1096.67 597.78 1144.44 641.11 1150 660 C1155.56 678.89 1140 743.33 1130 760 C1120 776.67 1067.78 804.44 1060 810" stroke-width="5.46"/><path d="M920 300 C935.56 300 1040 286.67 1060 300 C1080 313.33 1093.33 391.11 1100 420 C1106.67 448.89 1117.78 544.44 1120 560" stroke-width="4.5"/><path d="M880 940 C884.44 930 901.11 864.44 920 850 C938.89 835.56 1031.11 810 1050 810 C1068.89 810 1083.33 834.44 1090 850 C1096.67 865.56 1105.56 933.33 1110 950 C1114.44 966.67 1127.78 994.44 1130 1000" stroke-width="7"/><path d="M870 950 C871.11 954.44 870 984.44 880 990 C890 995.56 940 994.44 960 1000 C980 1005.56 1046.67 1028.89 1060 1040 C1073.33 1051.11 1088.89 1086.67 1080 1100 C1071.11 1113.33 1002.22 1153.33 980 1160 C957.78 1166.67 894.44 1165.56 880 1160 C865.56 1154.44 854.44 1126.67 850 1110 C845.56 1093.33 836.67 1023.33 840 1010 C843.33 996.67 875.56 992.22 880 990" stroke-width="7"/><path d="M1130 950 C1128.89 966.67 1125.56 1070 1120 1100 C1114.44 1130 1088.89 1196.67 1080 1220 C1071.11 1243.33 1051.11 1305.56 1040 1310 C1028.89 1314.44 997.78 1272.22 980 1260 C962.22 1247.78 897.78 1207.78 880 1200 C862.22 1192.22 833.33 1184.44 820 1190 C806.67 1195.56 767.78 1236.67 760 1250 C752.22 1263.33 741.11 1295.56 750 1310 C758.89 1324.44 818.89 1374.44 840 1380 C861.11 1385.56 917.78 1367.78 940 1360 C962.22 1352.22 1028.89 1315.56 1040 1310" stroke-width="7"/><path d="M1040 1310 L1100 1380" stroke-width="6.62"/><path d="M1180 1000 C1181.11 1022.22 1181.11 1167.78 1190 1200 C1198.89 1232.22 1244.44 1267.78 1260 1290 C1275.56 1312.22 1322.22 1387.78 1330 1400" stroke-width="4.5"/><path d="M460 90 L480 250" stroke-width="4.69"/></g><g fill="#30d0ff" fill-opacity="0.9"><rect x="139" y="288" width="13" height="13"/><rect x="184" y="329" width="13" height="13"/><rect x="157" y="355" width="13" height="13"/><rect x="322" y="326" width="13" height="13"/><rect x="258" y="292" width="13" height="13"/><rect x="364" y="359" width="13" height="13"/><rect x="341" y="219" width="13" height="13"/><rect x="282" y="275" width="13" height="13"/><rect x="319" y="282" width="13" height="13"/><rect x="247" y="290" width="13" height="13"/><rect x="310" y="198" width="13" height="13"/><rect x="396" y="258" width="13" height="13"/><rect x="565" y="257" width="13" height="13"/><rect x="426" y="284" width="13" height="13"/><rect x="547" y="340" width="13" height="13"/><rect x="495" y="271" width="13" height="13"/><rect x="470" y="392" width="13" height="13"/><rect x="514" y="256" width="13" height="13"/><rect x="452" y="410" width="13" height="13"/><rect x="474" y="305" width="13" height="13"/><rect x="397" y="533" width="13" height="13"/><rect x="477" y="518" width="13" height="13"/><rect x="558" y="448" width="13" height="13"/><rect x="408" y="399" width="13" height="13"/><rect x="460" y="393" width="13" height="13"/><rect x="405" y="616" width="13" height="13"/><rect x="396" y="684" width="13" height="13"/><rect x="305" y="700" width="13" height="13"/><rect x="329" y="605" width="13" height="13"/><rect x="496" y="675" width="13" height="13"/><rect x="409" y="633" width="13" height="13"/><rect x="394" y="570" width="13" height="13"/><rect x="275" y="583" width="13" height="13"/><rect x="218" y="611" width="13" height="13"/><rect x="152" y="550" width="13" height="13"/><rect x="246" y="578" width="13" height="13"/><rect x="246" y="508" width="13" height="13"/><rect x="207" y="394" width="13" height="13"/><rect x="324" y="489" width="13" height="13"/><rect x="185" y="503" width="13" height="13"/><rect x="240" y="447" width="13" height="13"/><rect x="209" y="506" width="13" height="13"/><rect x="202" y="445" width="13" height="13"/><rect x="341" y="691" width="13" height="13"/><rect x="354" y="599" width="13" height="13"/><rect x="346" y="616" width="13" height="13"/><rect x="312" y="670" width="13" height="13"/><rect x="324" y="756" width="13" height="13"/><rect x="346" y="824" width="13" height="13"/><rect x="397" y="823" width="13" height="13"/><rect x="287" y="788" width="13" height="13"/><rect x="420" y="718" width="13" height="13"/><rect x="325" y="802" width="13" height="13"/><rect x="224" y="805" width="13" height="13"/><rect x="367" y="891" width="13" height="13"/><rect x="354" y="803" width="13" height="13"/><rect x="350" y="852" width="13" height="13"/><rect x="343" y="1036" width="13" height="13"/><rect x="431" y="925" width="13" height="13"/><rect x="430" y="898" width="13" height="13"/><rect x="316" y="980" width="13" height="13"/><rect x="493" y="1030" width="13" height="13"/><rect x="504" y="939" width="13" height="13"/><rect x="485" y="586" width="13" height="13"/><rect x="503" y="646" width="13" height="13"/><rect x="558" y="726" width="13" height="13"/><rect x="500" y="756" width="13" height="13"/><rect x="396" y="593" width="13" height="13"/><rect x="541" y="641" width="13" height="13"/><rect x="496" y="733" width="13" height="13"/><rect x="457" y="835" width="13" height="13"/><rect x="451" y="955" width="13" height="13"/><rect x="391" y="821" width="13" height="13"/><rect x="528" y="850" width="13" height="13"/><rect x="473" y="864" width="13" height="13"/><rect x="540" y="733" width="13" height="13"/><rect x="529" y="842" width="13" height="13"/><rect x="456" y="923" width="13" height="13"/><rect x="434" y="952" width="13" height="13"/><rect x="472" y="1026" width="13" height="13"/><rect x="578" y="995" width="13" height="13"/><rect x="553" y="949" width="13" height="13"/><rect x="539" y="960" width="13" height="13"/><rect x="708" y="953" width="13" height="13"/><rect x="747" y="983" width="13" height="13"/><rect x="634" y="991" width="13" height="13"/><rect x="589" y="984" width="13" height="13"/><rect x="714" y="827" width="13" height="13"/><rect x="760" y="930" width="13" height="13"/><rect x="772" y="926" width="13" height="13"/><rect x="761" y="908" width="13" height="13"/><rect x="699" y="842" width="13" height="13"/><rect x="739" y="823" width="13" height="13"/><rect x="795" y="771" width="13" height="13"/><rect x="773" y="746" width="13" height="13"/><rect x="684" y="722" width="13" height="13"/><rect x="647" y="696" width="13" height="13"/><rect x="773" y="693" width="13" height="13"/><rect x="752" y="808" width="13" height="13"/><rect x="659" y="644" width="13" height="13"/><rect x="887" y="664" width="13" height="13"/><rect x="527" y="599" width="13" height="13"/><rect x="765" y="616" width="13" height="13"/><rect x="723" y="701" width="13" height="13"/><rect x="663" y="592" width="13" height="13"/><rect x="704" y="679" width="13" height="13"/><rect x="611" y="599" width="13" height="13"/><rect x="608" y="581" width="13" height="13"/><rect x="581" y="474" width="13" height="13"/><rect x="652" y="543" width="13" height="13"/><rect x="751" y="307" width="13" height="13"/><rect x="683" y="432" width="13" height="13"/><rect x="604" y="315" width="13" height="13"/><rect x="686" y="391" width="13" height="13"/><rect x="745" y="279" width="13" height="13"/><rect x="781" y="287" width="13" height="13"/><rect x="786" y="299" width="13" height="13"/><rect x="749" y="231" width="13" height="13"/><rect x="742" y="196" width="13" height="13"/><rect x="725" y="191" width="13" height="13"/><rect x="837" y="252" width="13" height="13"/><rect x="953" y="191" width="13" height="13"/><rect x="793" y="220" width="13" height="13"/><rect x="882" y="117" width="13" height="13"/><rect x="823" y="261" width="13" height="13"/><rect x="924" y="333" width="13" height="13"/><rect x="939" y="374" width="13" height="13"/><rect x="868" y="247" width="13" height="13"/><rect x="871" y="292" width="13" height="13"/><rect x="949" y="408" width="13" height="13"/><rect x="909" y="359" width="13" height="13"/><rect x="865" y="509" width="13" height="13"/><rect x="924" y="516" width="13" height="13"/><rect x="860" y="449" width="13" height="13"/><rect x="818" y="466" width="13" height="13"/><rect x="901" y="337" width="13" height="13"/><rect x="881" y="588" width="13" height="13"/><rect x="939" y="740" width="13" height="13"/><rect x="891" y="608" width="13" height="13"/><rect x="869" y="599" width="13" height="13"/><rect x="707" y="592" width="13" height="13"/><rect x="781" y="622" width="13" height="13"/><rect x="883" y="658" width="13" height="13"/><rect x="813" y="538" width="13" height="13"/><rect x="742" y="444" width="13" height="13"/><rect x="733" y="518" width="13" height="13"/><rect x="839" y="549" width="13" height="13"/><rect x="710" y="496" width="13" height="13"/><rect x="728" y="569" width="13" height="13"/><rect x="712" y="409" width="13" height="13"/><rect x="937" y="569" width="13" height="13"/><rect x="843" y="726" width="13" height="13"/><rect x="807" y="673" width="13" height="13"/><rect x="847" y="480" width="13" height="13"/><rect x="791" y="627" width="13" height="13"/><rect x="844" y="759" width="13" height="13"/><rect x="939" y="747" width="13" height="13"/><rect x="767" y="651" width="13" height="13"/><rect x="751" y="786" width="13" height="13"/><rect x="923" y="724" width="13" height="13"/><rect x="1017" y="564" width="13" height="13"/><rect x="1004" y="545" width="13" height="13"/><rect x="1053" y="535" width="13" height="13"/><rect x="986" y="541" width="13" height="13"/><rect x="1103" y="611" width="13" height="13"/><rect x="1088" y="593" width="13" height="13"/><rect x="1022" y="561" width="13" height="13"/><rect x="1121" y="612" width="13" height="13"/><rect x="1064" y="607" width="13" height="13"/><rect x="1186" y="617" width="13" height="13"/><rect x="1140" y="485" width="13" height="13"/><rect x="1082" y="602" width="13" height="13"/><rect x="1130" y="695" width="13" height="13"/><rect x="1128" y="697" width="13" height="13"/><rect x="1202" y="646" width="13" height="13"/><rect x="1164" y="770" width="13" height="13"/><rect x="995" y="733" width="13" height="13"/><rect x="1048" y="710" width="13" height="13"/><rect x="1156" y="748" width="13" height="13"/><rect x="1017" y="356" width="13" height="13"/><rect x="1129" y="347" width="13" height="13"/><rect x="905" y="287" width="13" height="13"/><rect x="953" y="378" width="13" height="13"/><rect x="980" y="385" width="13" height="13"/><rect x="1002" y="303" width="13" height="13"/><rect x="1112" y="381" width="13" height="13"/><rect x="1148" y="291" width="13" height="13"/><rect x="1193" y="296" width="13" height="13"/><rect x="1111" y="276" width="13" height="13"/><rect x="1119" y="350" width="13" height="13"/><rect x="1162" y="328" width="13" height="13"/><rect x="1209" y="472" width="13" height="13"/><rect x="1169" y="555" width="13" height="13"/><rect x="1114" y="501" width="13" height="13"/><rect x="1152" y="535" width="13" height="13"/><rect x="1072" y="525" width="13" height="13"/><rect x="1028" y="547" width="13" height="13"/><rect x="1037" y="890" width="13" height="13"/><rect x="911" y="900" width="13" height="13"/><rect x="932" y="784" width="13" height="13"/><rect x="883" y="990" width="13" height="13"/><rect x="928" y="784" width="13" height="13"/><rect x="1033" y="858" width="13" height="13"/><rect x="1144" y="753" width="13" height="13"/><rect x="965" y="864" width="13" height="13"/><rect x="957" y="815" width="13" height="13"/><rect x="1011" y="838" width="13" height="13"/><rect x="1003" y="812" width="13" height="13"/><rect x="1027" y="830" width="13" height="13"/><rect x="1093" y="779" width="13" height="13"/><rect x="1164" y="925" width="13" height="13"/><rect x="1106" y="874" width="13" height="13"/><rect x="1093" y="992" width="13" height="13"/><rect x="1023" y="832" width="13" height="13"/><rect x="1029" y="938" width="13" height="13"/><rect x="831" y="1010" width="13" height="13"/><rect x="903" y="975" width="13" height="13"/><rect x="828" y="965" width="13" height="13"/><rect x="906" y="1087" width="13" height="13"/><rect x="986" y="1081" width="13" height="13"/><rect x="938" y="1086" width="13" height="13"/><rect x="1023" y="1057" width="13" height="13"/><rect x="987" y="962" width="13" height="13"/><rect x="953" y="935" width="13" height="13"/><rect x="1191" y="1050" width="13" height="13"/><rect x="1084" y="1021" width="13" height="13"/><rect x="962" y="1134" width="13" height="13"/><rect x="991" y="1205" width="13" height="13"/><rect x="1007" y="1163" width="13" height="13"/><rect x="1065" y="1189" width="13" height="13"/><rect x="899" y="1121" width="13" height="13"/><rect x="1065" y="1216" width="13" height="13"/><rect x="889" y="1171" width="13" height="13"/><rect x="859" y="1140" width="13" height="13"/><rect x="825" y="1079" width="13" height="13"/><rect x="880" y="1131" width="13" height="13"/><rect x="955" y="1199" width="13" height="13"/><rect x="920" y="1154" width="13" height="13"/><rect x="846" y="1016" width="13" height="13"/><rect x="864" y="1177" width="13" height="13"/><rect x="849" y="1002" width="13" height="13"/><rect x="927" y="1059" width="13" height="13"/><rect x="774" y="979" width="13" height="13"/><rect x="917" y="967" width="13" height="13"/><rect x="1067" y="980" width="13" height="13"/><rect x="1179" y="971" width="13" height="13"/><rect x="1077" y="1041" width="13" height="13"/><rect x="1141" y="1002" width="13" height="13"/><rect x="1180" y="1084" width="13" height="13"/><rect x="1096" y="1122" width="13" height="13"/><rect x="1087" y="1001" width="13" height="13"/><rect x="1125" y="1233" width="13" height="13"/><rect x="1058" y="1037" width="13" height="13"/><rect x="1169" y="1144" width="13" height="13"/><rect x="1109" y="1162" width="13" height="13"/><rect x="1131" y="1148" width="13" height="13"/><rect x="1095" y="1055" width="13" height="13"/><rect x="1088" y="1281" width="13" height="13"/><rect x="1075" y="1188" width="13" height="13"/><rect x="1083" y="1211" width="13" height="13"/><rect x="1162" y="1164" width="13" height="13"/><rect x="887" y="1252" width="13" height="13"/><rect x="1014" y="1303" width="13" height="13"/><rect x="1000" y="1211" width="13" height="13"/><rect x="883" y="1223" width="13" height="13"/><rect x="858" y="1166" width="13" height="13"/><rect x="926" y="1268" width="13" height="13"/><rect x="883" y="1139" width="13" height="13"/><rect x="991" y="1290" width="13" height="13"/><rect x="909" y="1148" width="13" height="13"/><rect x="885" y="1191" width="13" height="13"/><rect x="843" y="1298" width="13" height="13"/><rect x="866" y="1094" width="13" height="13"/><rect x="808" y="1260" width="13" height="13"/><rect x="828" y="1269" width="13" height="13"/><rect x="825" y="1257" width="13" height="13"/><rect x="719" y="1393" width="13" height="13"/><rect x="808" y="1327" width="13" height="13"/><rect x="842" y="1434" width="13" height="13"/><rect x="854" y="1433" width="13" height="13"/><rect x="769" y="1352" width="13" height="13"/><rect x="692" y="1349" width="13" height="13"/><rect x="865" y="1348" width="13" height="13"/><rect x="739" y="1406" width="13" height="13"/><rect x="918" y="1356" width="13" height="13"/><rect x="867" y="1333" width="13" height="13"/><rect x="988" y="1333" width="13" height="13"/><rect x="1050" y="1274" width="13" height="13"/><rect x="988" y="1380" width="13" height="13"/><rect x="979" y="1380" width="13" height="13"/><rect x="958" y="1303" width="13" height="13"/><rect x="1046" y="1275" width="13" height="13"/><rect x="1015" y="1342" width="13" height="13"/><rect x="1071" y="1311" width="13" height="13"/><rect x="1117" y="1366" width="13" height="13"/><rect x="1210" y="1192" width="13" height="13"/><rect x="1168" y="1154" width="13" height="13"/><rect x="1197" y="1068" width="13" height="13"/><rect x="1295" y="1135" width="13" height="13"/><rect x="1105" y="1079" width="13" height="13"/><rect x="1211" y="1104" width="13" height="13"/><rect x="1175" y="1071" width="13" height="13"/><rect x="1135" y="931" width="13" height="13"/><rect x="1147" y="1094" width="13" height="13"/><rect x="1166" y="1245" width="13" height="13"/><rect x="1277" y="1291" width="13" height="13"/><rect x="1250" y="1146" width="13" height="13"/><rect x="1283" y="1333" width="13" height="13"/><rect x="1204" y="1265" width="13" height="13"/><rect x="1349" y="1412" width="13" height="13"/><rect x="1242" y="1389" width="13" height="13"/><rect x="1361" y="1507" width="13" height="13"/><rect x="1311" y="1380" width="13" height="13"/><rect x="1201" y="1277" width="13" height="13"/><rect x="1330" y="1303" width="13" height="13"/><rect x="574" y="268" width="13" height="13"/><rect x="519" y="72" width="13" height="13"/><rect x="431" y="163" width="13" height="13"/><rect x="579" y="230" width="13" height="13"/><rect x="545" y="257" width="13" height="13"/><rect x="498" y="111" width="13" height="13"/><rect x="488" y="150" width="13" height="13"/></g></svg>
<svg x="1029" y="917" width="158" height="159" viewBox="0 0 1440 1440" preserveAspectRatio="none"><rect width="1440" height="1440" fill="#00008f"/><g fill="#40e0e0" fill-opacity="0.9" filter="url(#speckA)"><path d="M126 444 C137.44 430 209.89 335.78 229 318 C248.11 300.22 282.78 278.89 298 284 C313.22 289.11 361 334.89 366 364 C371 393.11 349.33 520.67 343 546 C336.67 571.33 321.67 588.22 309 592 C296.33 595.78 248.11 591.44 229 580 C209.89 568.56 147.22 499.11 137 489"/><path d="M619 637 C626.56 637 666.67 633.11 687 637 C707.33 640.89 799.44 674.44 802 672 C804.56 669.56 727.89 631.56 710 615 C692.11 598.44 648.67 533.22 641 523"/><path d="M917 1002 C924.56 1004.56 964.67 1025 985 1025 C1005.33 1025 1082.11 1012.22 1100 1002 C1117.89 991.78 1148.56 943.11 1146 933 C1143.44 922.89 1092.33 911 1077 911 C1061.67 911 1015.67 930.56 1008 933"/></g><g fill="none" stroke="#40d8f0" stroke-opacity="0.9" stroke-linecap="round" stroke-linejoin="round" filter="url(#speckB)"><path d="M126 444 C137.44 430 209.89 335.78 229 318 C248.11 300.22 282.78 278.89 298 284 C313.22 289.11 361 334.89 366 364 C371 393.11 349.33 520.67 343 546 C336.67 571.33 321.67 588.22 309 592 C296.33 595.78 248.11 591.44 229 580 C209.89 568.56 148.44 504.11 137 489 C125.56 473.89 127.22 449 126 444" stroke-width="200"/><path d="M366 375 C378.78 371.22 455.44 347.33 481 341 C506.56 334.67 580.67 326.89 596 318 C611.33 309.11 616.44 267.33 619 261" stroke-width="200"/><path d="M366 375 C363.44 392.78 339.11 505.89 343 535 C346.89 564.11 381.89 620.56 401 637 C420.11 653.44 490.78 683 515 683 C539.22 683 605 654.78 619 637 C633 619.22 643.56 552.11 641 523 C638.44 493.89 613.78 395.22 596 375 C578.22 354.78 493.78 344.78 481 341" stroke-width="102.35"/><path d="M275 227 C286.44 215.67 353.89 146.44 378 125 C402.11 103.56 462.78 46.67 492 34 C521.22 21.33 624.44 13.56 641 11" stroke-width="189"/><path d="M641 11 C658.89 19.89 776.44 63.22 802 91 C827.56 118.78 871 238.22 871 261 C871 283.78 827.56 293.44 802 296 C776.44 298.56 658.89 285.33 641 284" stroke-width="102.35"/><path d="M917 22 C923.33 34.67 970.22 113.22 974 136 C977.78 158.78 951 206.78 951 227 C951 247.22 971.44 307.89 974 318" stroke-width="200"/><path d="M1203 68 C1206.89 79.33 1229.11 149.78 1238 170 C1246.89 190.22 1262.67 239.89 1283 250 C1303.33 260.11 1405.67 259.78 1421 261" stroke-width="200"/><path d="M1261 22 C1271.11 24.56 1339.33 32.33 1352 45 C1364.67 57.67 1367.33 115.78 1375 136 C1382.67 156.22 1415.89 216.89 1421 227" stroke-width="102.35"/><path d="M710 615 C715.11 597.22 738.11 480.33 756 455 C773.89 429.67 843 399.67 871 387 C899 374.33 978.78 342.33 1008 341 C1037.22 339.67 1112.33 362.33 1134 375 C1155.67 387.67 1186.44 448.67 1203 455 C1219.56 461.33 1271.56 424.44 1283 432 C1294.44 439.56 1311 505.22 1306 523 C1301 540.78 1250.67 574.22 1238 592 C1225.33 609.78 1207.33 665.33 1192 683 C1176.67 700.67 1121.67 746 1100 751 C1078.33 756 1017.33 733 997 728 C976.67 723 931 706 917 706 C903 706 878.67 735.67 871 728 C863.33 720.33 865.89 649.56 848 637 C830.11 624.44 725.33 617.44 710 615" stroke-width="200"/><path d="M1008 341 C1010.56 356.22 1033.56 450.11 1031 478 C1028.44 505.89 995.11 569.22 985 592 C974.89 614.78 951.44 662.78 940 683 C928.56 703.22 887.11 746.22 882 774 C876.89 801.78 890.11 907.67 894 933 C897.89 958.33 906.89 991.78 917 1002 C927.11 1012.22 964.67 1025 985 1025 C1005.33 1025 1082.11 1012.22 1100 1002 C1117.89 991.78 1140.89 955.78 1146 933 C1151.11 910.22 1140.89 824.78 1146 797 C1151.11 769.22 1186.89 695.67 1192 683" stroke-width="200"/><path d="M1192 785 L1215 808" stroke-width="200"/><path d="M619 728 C616.44 735.67 603.67 779.22 596 797 C588.33 814.78 552.56 865.22 550 888 C547.44 910.78 562.89 986.78 573 1002 C583.11 1017.22 625.78 1012.33 641 1025 C656.22 1037.67 704.89 1093.22 710 1116 C715.11 1138.78 689.56 1207.22 687 1230 C684.44 1252.78 692.11 1304.56 687 1321 C681.89 1337.44 661.33 1370.44 641 1378 C620.67 1385.56 529.44 1394.11 504 1389 C478.56 1383.89 429.89 1349.67 412 1332 C394.11 1314.33 348.11 1254 343 1230 C337.89 1206 366 1138.78 366 1116 C366 1093.22 346.78 1050.33 343 1025 C339.22 999.67 333.22 903.22 332 888" stroke-width="200"/><path d="M103 842 C108.11 834.44 131.22 786.67 149 774 C166.78 761.33 244 738.11 263 728 C282 717.89 312.33 665.22 320 683 C327.67 700.78 330.67 865.22 332 888" stroke-width="96.02"/><path d="M103 842 C101.67 862.33 87.22 994.56 91 1025 C94.78 1055.44 121.67 1103.33 137 1116 C152.33 1128.67 207.33 1136.44 229 1139 C250.67 1141.56 320.56 1139 332 1139" stroke-width="102.35"/><path d="M332 888 C348.56 885.44 454.22 872.56 481 865 C507.78 857.44 562.78 825 573 820" stroke-width="200"/><path d="M848 979 C850.56 990.44 858.33 1064.22 871 1082 C883.67 1099.78 941.67 1135.22 962 1139 C982.33 1142.78 1033.56 1126.22 1054 1116 C1074.44 1105.78 1135.78 1054.67 1146 1047" stroke-width="102.35"/><path d="M710 1116 C720.22 1113.44 784.11 1103.11 802 1093 C819.89 1082.89 863.33 1032.56 871 1025" stroke-width="96.02"/><path d="M343 1230 C335.44 1219.89 287.67 1149.11 275 1139 C262.33 1128.89 234.11 1139 229 1139" stroke-width="96.02"/><path d="M1306 523 C1313.67 512.89 1362.22 444.56 1375 432 C1387.78 419.44 1415.89 412.44 1421 410" stroke-width="96.02"/></g><g fill="none" stroke-linecap="round" stroke-linejoin="round" filter="url(#rough)"><path d="M126 444 C137.44 430 209.89 335.78 229 318 C248.11 300.22 282.78 278.89 298 284 C313.22 289.11 361 334.89 366 364 C371 393.11 349.33 520.67 343 546 C336.67 571.33 321.67 588.22 309 592 C296.33 595.78 248.11 591.44 229 580 C209.89 568.56 148.44 504.11 137 489 C125.56 473.89 127.22 449 126 444" stroke="#10a0ff" stroke-opacity="0.95" stroke-width="160"/><path d="M366 375 C378.78 371.22 455.44 347.33 481 341 C506.56 334.67 580.67 326.89 596 318 C611.33 309.11 616.44 267.33 619 261" stroke="#10a0ff" stroke-opacity="0.95" stroke-width="160"/><path d="M366 375 C363.44 392.78 339.11 505.89 343 535 C346.89 564.11 381.89 620.56 401 637 C420.11 653.44 490.78 683 515 683 C539.22 683 605 654.78 619 637 C633 619.22 643.56 552.11 641 523 C638.44 493.89 613.78 395.22 596 375 C578.22 354.78 493.78 344.78 481 341" stroke="#1070ff" stroke-opacity="0.9" stroke-width="81.88"/><path d="M275 227 C286.44 215.67 353.89 146.44 378 125 C402.11 103.56 462.78 46.67 492 34 C521.22 21.33 624.44 13.56 641 11" stroke="#10a0ff" stroke-opacity="0.95" stroke-width="151.2"/><path d="M641 11 C658.89 19.89 776.44 63.22 802 91 C827.56 118.78 871 238.22 871 261 C871 283.78 827.56 293.44 802 296 C776.44 298.56 658.89 285.33 641 284" stroke="#1070ff" stroke-opacity="0.9" stroke-width="81.88"/><path d="M917 22 C923.33 34.67 970.22 113.22 974 136 C977.78 158.78 951 206.78 951 227 C951 247.22 971.44 307.89 974 318" stroke="#10a0ff" stroke-opacity="0.95" stroke-width="160"/><path d="M1203 68 C1206.89 79.33 1229.11 149.78 1238 170 C1246.89 190.22 1262.67 239.89 1283 250 C1303.33 260.11 1405.67 259.78 1421 261" stroke="#10a0ff" stroke-opacity="0.95" stroke-width="160"/><path d="M1261 22 C1271.11 24.56 1339.33 32.33 1352 45 C1364.67 57.67 1367.33 115.78 1375 136 C1382.67 156.22 1415.89 216.89 1421 227" stroke="#1070ff" stroke-opacity="0.9" stroke-width="81.88"/><path d="M710 615 C715.11 597.22 738.11 480.33 756 455 C773.89 429.67 843 399.67 871 387 C899 374.33 978.78 342.33 1008 341 C1037.22 339.67 1112.33 362.33 1134 375 C1155.67 387.67 1186.44 448.67 1203 455 C1219.56 461.33 1271.56 424.44 1283 432 C1294.44 439.56 1311 505.22 1306 523 C1301 540.78 1250.67 574.22 1238 592 C1225.33 609.78 1207.33 665.33 1192 683 C1176.67 700.67 1121.67 746 1100 751 C1078.33 756 1017.33 733 997 728 C976.67 723 931 706 917 706 C903 706 878.67 735.67 871 728 C863.33 720.33 865.89 649.56 848 637 C830.11 624.44 725.33 617.44 710 615" stroke="#10a0ff" stroke-opacity="0.95" stroke-width="160"/><path d="M1008 341 C1010.56 356.22 1033.56 450.11 1031 478 C1028.44 505.89 995.11 569.22 985 592 C974.89 614.78 951.44 662.78 940 683 C928.56 703.22 887.11 746.22 882 774 C876.89 801.78 890.11 907.67 894 933 C897.89 958.33 906.89 991.78 917 1002 C927.11 1012.22 964.67 1025 985 1025 C1005.33 1025 1082.11 1012.22 1100 1002 C1117.89 991.78 1140.89 955.78 1146 933 C1151.11 910.22 1140.89 824.78 1146 797 C1151.11 769.22 1186.89 695.67 1192 683" stroke="#10a0ff" stroke-opacity="0.95" stroke-width="160"/><path d="M1192 785 L1215 808" stroke="#10a0ff" stroke-opacity="0.95" stroke-width="160"/><path d="M619 728 C616.44 735.67 603.67 779.22 596 797 C588.33 814.78 552.56 865.22 550 888 C547.44 910.78 562.89 986.78 573 1002 C583.11 1017.22 625.78 1012.33 641 1025 C656.22 1037.67 704.89 1093.22 710 1116 C715.11 1138.78 689.56 1207.22 687 1230 C684.44 1252.78 692.11 1304.56 687 1321 C681.89 1337.44 661.33 1370.44 641 1378 C620.67 1385.56 529.44 1394.11 504 1389 C478.56 1383.89 429.89 1349.67 412 1332 C394.11 1314.33 348.11 1254 343 1230 C337.89 1206 366 1138.78 366 1116 C366 1093.22 346.78 1050.33 343 1025 C339.22 999.67 333.22 903.22 332 888" stroke="#10a0ff" stroke-opacity="0.95" stroke-width="160"/><path d="M103 842 C108.11 834.44 131.22 786.67 149 774 C166.78 761.33 244 738.11 263 728 C282 717.89 312.33 665.22 320 683 C327.67 700.78 330.67 865.22 332 888" stroke="#1070ff" stroke-opacity="0.9" stroke-width="76.82"/><path d="M103 842 C101.67 862.33 87.22 994.56 91 1025 C94.78 1055.44 121.67 1103.33 137 1116 C152.33 1128.67 207.33 1136.44 229 1139 C250.67 1141.56 320.56 1139 332 1139" stroke="#1070ff" stroke-opacity="0.9" stroke-width="81.88"/><path d="M332 888 C348.56 885.44 454.22 872.56 481 865 C507.78 857.44 562.78 825 573 820" stroke="#10a0ff" stroke-opacity="0.95" stroke-width="160"/><path d="M848 979 C850.56 990.44 858.33 1064.22 871 1082 C883.67 1099.78 941.67 1135.22 962 1139 C982.33 1142.78 1033.56 1126.22 1054 1116 C1074.44 1105.78 1135.78 1054.67 1146 1047" stroke="#1070ff" stroke-opacity="0.9" stroke-width="81.88"/><path d="M710 1116 C720.22 1113.44 784.11 1103.11 802 1093 C819.89 1082.89 863.33 1032.56 871 1025" stroke="#1070ff" stroke-opacity="0.9" stroke-width="76.82"/><path d="M343 1230 C335.44 1219.89 287.67 1149.11 275 1139 C262.33 1128.89 234.11 1139 229 1139" stroke="#1070ff" stroke-opacity="0.9" stroke-width="76.82"/><path d="M1306 523 C1313.67 512.89 1362.22 444.56 1375 432 C1387.78 419.44 1415.89 412.44 1421 410" stroke="#1070ff" stroke-opacity="0.9" stroke-width="76.82"/></g><g fill="none" stroke-linecap="round" stroke-linejoin="round" filter="url(#rough)"><path d="M126 444 C137.44 430 209.89 335.78 229 318 C248.11 300.22 282.78 278.89 298 284 C313.22 289.11 361 334.89 366 364 C371 393.11 349.33 520.67 343 546 C336.67 571.33 321.67 588.22 309 592 C296.33 595.78 248.11 591.44 229 580 C209.89 568.56 148.44 504.11 137 489 C125.56 473.89 127.22 449 126 444" stroke="#40f0d0" stroke-opacity="1" stroke-width="126"/><path d="M366 375 C378.78 371.22 455.44 347.33 481 341 C506.56 334.67 580.67 326.89 596 318 C611.33 309.11 616.44 267.33 619 261" stroke="#40f0d0" stroke-opacity="1" stroke-width="126"/><path d="M366 375 C363.44 392.78 339.11 505.89 343 535 C346.89 564.11 381.89 620.56 401 637 C420.11 653.44 490.78 683 515 683 C539.22 683 605 654.78 619 637 C633 619.22 643.56 552.11 641 523 C638.44 493.89 613.78 395.22 596 375 C578.22 354.78 493.78 344.78 481 341" stroke="#30e0e0" stroke-opacity="1" stroke-width="55.18"/><path d="M275 227 C286.44 215.67 353.89 146.44 378 125 C402.11 103.56 462.78 46.67 492 34 C521.22 21.33 624.44 13.56 641 11" stroke="#40f0d0" stroke-opacity="1" stroke-width="119.07"/><path d="M641 11 C658.89 19.89 776.44 63.22 802 91 C827.56 118.78 871 238.22 871 261 C871 283.78 827.56 293.44 802 296 C776.44 298.56 658.89 285.33 641 284" stroke="#30e0e0" stroke-opacity="1" stroke-width="55.18"/><path d="M917 22 C923.33 34.67 970.22 113.22 974 136 C977.78 158.78 951 206.78 951 227 C951 247.22 971.44 307.89 974 318" stroke="#40f0d0" stroke-opacity="1" stroke-width="126"/><path d="M1203 68 C1206.89 79.33 1229.11 149.78 1238 170 C1246.89 190.22 1262.67 239.89 1283 250 C1303.33 260.11 1405.67 259.78 1421 261" stroke="#40f0d0" stroke-opacity="1" stroke-width="126"/><path d="M1261 22 C1271.11 24.56 1339.33 32.33 1352 45 C1364.67 57.67 1367.33 115.78 1375 136 C1382.67 156.22 1415.89 216.89 1421 227" stroke="#30e0e0" stroke-opacity="1" stroke-width="55.18"/><path d="M710 615 C715.11 597.22 738.11 480.33 756 455 C773.89 429.67 843 399.67 871 387 C899 374.33 978.78 342.33 1008 341 C1037.22 339.67 1112.33 362.33 1134 375 C1155.67 387.67 1186.44 448.67 1203 455 C1219.56 461.33 1271.56 424.44 1283 432 C1294.44 439.56 1311 505.22 1306 523 C1301 540.78 1250.67 574.22 1238 592 C1225.33 609.78 1207.33 665.33 1192 683 C1176.67 700.67 1121.67 746 1100 751 C1078.33 756 1017.33 733 997 728 C976.67 723 931 706 917 706 C903 706 878.67 735.67 871 728 C863.33 720.33 865.89 649.56 848 637 C830.11 624.44 725.33 617.44 710 615" stroke="#40f0d0" stroke-opacity="1" stroke-width="126"/><path d="M1008 341 C1010.56 356.22 1033.56 450.11 1031 478 C1028.44 505.89 995.11 569.22 985 592 C974.89 614.78 951.44 662.78 940 683 C928.56 703.22 887.11 746.22 882 774 C876.89 801.78 890.11 907.67 894 933 C897.89 958.33 906.89 991.78 917 1002 C927.11 1012.22 964.67 1025 985 1025 C1005.33 1025 1082.11 1012.22 1100 1002 C1117.89 991.78 1140.89 955.78 1146 933 C1151.11 910.22 1140.89 824.78 1146 797 C1151.11 769.22 1186.89 695.67 1192 683" stroke="#40f0d0" stroke-opacity="1" stroke-width="126"/><path d="M1192 785 L1215 808" stroke="#40f0d0" stroke-opacity="1" stroke-width="126"/><path d="M619 728 C616.44 735.67 603.67 779.22 596 797 C588.33 814.78 552.56 865.22 550 888 C547.44 910.78 562.89 986.78 573 1002 C583.11 1017.22 625.78 1012.33 641 1025 C656.22 1037.67 704.89 1093.22 710 1116 C715.11 1138.78 689.56 1207.22 687 1230 C684.44 1252.78 692.11 1304.56 687 1321 C681.89 1337.44 661.33 1370.44 641 1378 C620.67 1385.56 529.44 1394.11 504 1389 C478.56 1383.89 429.89 1349.67 412 1332 C394.11 1314.33 348.11 1254 343 1230 C337.89 1206 366 1138.78 366 1116 C366 1093.22 346.78 1050.33 343 1025 C339.22 999.67 333.22 903.22 332 888" stroke="#40f0d0" stroke-opacity="1" stroke-width="126"/><path d="M103 842 C108.11 834.44 131.22 786.67 149 774 C166.78 761.33 244 738.11 263 728 C282 717.89 312.33 665.22 320 683 C327.67 700.78 330.67 865.22 332 888" stroke="#30e0e0" stroke-opacity="1" stroke-width="51.77"/><path d="M103 842 C101.67 862.33 87.22 994.56 91 1025 C94.78 1055.44 121.67 1103.33 137 1116 C152.33 1128.67 207.33 1136.44 229 1139 C250.67 1141.56 320.56 1139 332 1139" stroke="#30e0e0" stroke-opacity="1" stroke-width="55.18"/><path d="M332 888 C348.56 885.44 454.22 872.56 481 865 C507.78 857.44 562.78 825 573 820" stroke="#40f0d0" stroke-opacity="1" stroke-width="126"/><path d="M848 979 C850.56 990.44 858.33 1064.22 871 1082 C883.67 1099.78 941.67 1135.22 962 1139 C982.33 1142.78 1033.56 1126.22 1054 1116 C1074.44 1105.78 1135.78 1054.67 1146 1047" stroke="#30e0e0" stroke-opacity="1" stroke-width="55.18"/><path d="M710 1116 C720.22 1113.44 784.11 1103.11 802 1093 C819.89 1082.89 863.33 1032.56 871 1025" stroke="#30e0e0" stroke-opacity="1" stroke-width="51.77"/><path d="M343 1230 C335.44 1219.89 287.67 1149.11 275 1139 C262.33 1128.89 234.11 1139 229 1139" stroke="#30e0e0" stroke-opacity="1" stroke-width="51.77"/><path d="M1306 523 C1313.67 512.89 1362.22 444.56 1375 432 C1387.78 419.44 1415.89 412.44 1421 410" stroke="#30e0e0" stroke-opacity="1" stroke-width="51.77"/></g><g fill="none" stroke-linecap="round" stroke-linejoin="round" filter="url(#rough)"><path d="M126 444 C137.44 430 209.89 335.78 229 318 C248.11 300.22 282.78 278.89 298 284 C313.22 289.11 361 334.89 366 364 C371 393.11 349.33 520.67 343 546 C336.67 571.33 321.67 588.22 309 592 C296.33 595.78 248.11 591.44 229 580 C209.89 568.56 148.44 504.11 137 489 C125.56 473.89 127.22 449 126 444" stroke="#f0f000" stroke-opacity="1" stroke-width="88"/><path d="M366 375 C378.78 371.22 455.44 347.33 481 341 C506.56 334.67 580.67 326.89 596 318 C611.33 309.11 616.44 267.33 619 261" stroke="#f0f000" stroke-opacity="1" stroke-width="88"/><path d="M366 375 C363.44 392.78 339.11 505.89 343 535 C346.89 564.11 381.89 620.56 401 637 C420.11 653.44 490.78 683 515 683 C539.22 683 605 654.78 619 637 C633 619.22 643.56 552.11 641 523 C638.44 493.89 613.78 395.22 596 375 C578.22 354.78 493.78 344.78 481 341" stroke="#b0f040" stroke-opacity="0.8" stroke-width="23.14"/><path d="M275 227 C286.44 215.67 353.89 146.44 378 125 C402.11 103.56 462.78 46.67 492 34 C521.22 21.33 624.44 13.56 641 11" stroke="#f0f000" stroke-opacity="1" stroke-width="83.16"/><path d="M641 11 C658.89 19.89 776.44 63.22 802 91 C827.56 118.78 871 238.22 871 261 C871 283.78 827.56 293.44 802 296 C776.44 298.56 658.89 285.33 641 284" stroke="#b0f040" stroke-opacity="0.8" stroke-width="23.14"/><path d="M917 22 C923.33 34.67 970.22 113.22 974 136 C977.78 158.78 951 206.78 951 227 C951 247.22 971.44 307.89 974 318" stroke="#f0f000" stroke-opacity="1" stroke-width="88"/><path d="M1203 68 C1206.89 79.33 1229.11 149.78 1238 170 C1246.89 190.22 1262.67 239.89 1283 250 C1303.33 260.11 1405.67 259.78 1421 261" stroke="#f0f000" stroke-opacity="1" stroke-width="88"/><path d="M1261 22 C1271.11 24.56 1339.33 32.33 1352 45 C1364.67 57.67 1367.33 115.78 1375 136 C1382.67 156.22 1415.89 216.89 1421 227" stroke="#b0f040" stroke-opacity="0.8" stroke-width="23.14"/><path d="M710 615 C715.11 597.22 738.11 480.33 756 455 C773.89 429.67 843 399.67 871 387 C899 374.33 978.78 342.33 1008 341 C1037.22 339.67 1112.33 362.33 1134 375 C1155.67 387.67 1186.44 448.67 1203 455 C1219.56 461.33 1271.56 424.44 1283 432 C1294.44 439.56 1311 505.22 1306 523 C1301 540.78 1250.67 574.22 1238 592 C1225.33 609.78 1207.33 665.33 1192 683 C1176.67 700.67 1121.67 746 1100 751 C1078.33 756 1017.33 733 997 728 C976.67 723 931 706 917 706 C903 706 878.67 735.67 871 728 C863.33 720.33 865.89 649.56 848 637 C830.11 624.44 725.33 617.44 710 615" stroke="#f0f000" stroke-opacity="1" stroke-width="88"/><path d="M1008 341 C1010.56 356.22 1033.56 450.11 1031 478 C1028.44 505.89 995.11 569.22 985 592 C974.89 614.78 951.44 662.78 940 683 C928.56 703.22 887.11 746.22 882 774 C876.89 801.78 890.11 907.67 894 933 C897.89 958.33 906.89 991.78 917 1002 C927.11 1012.22 964.67 1025 985 1025 C1005.33 1025 1082.11 1012.22 1100 1002 C1117.89 991.78 1140.89 955.78 1146 933 C1151.11 910.22 1140.89 824.78 1146 797 C1151.11 769.22 1186.89 695.67 1192 683" stroke="#f0f000" stroke-opacity="1" stroke-width="88"/><path d="M1192 785 L1215 808" stroke="#f0f000" stroke-opacity="1" stroke-width="88"/><path d="M619 728 C616.44 735.67 603.67 779.22 596 797 C588.33 814.78 552.56 865.22 550 888 C547.44 910.78 562.89 986.78 573 1002 C583.11 1017.22 625.78 1012.33 641 1025 C656.22 1037.67 704.89 1093.22 710 1116 C715.11 1138.78 689.56 1207.22 687 1230 C684.44 1252.78 692.11 1304.56 687 1321 C681.89 1337.44 661.33 1370.44 641 1378 C620.67 1385.56 529.44 1394.11 504 1389 C478.56 1383.89 429.89 1349.67 412 1332 C394.11 1314.33 348.11 1254 343 1230 C337.89 1206 366 1138.78 366 1116 C366 1093.22 346.78 1050.33 343 1025 C339.22 999.67 333.22 903.22 332 888" stroke="#f0f000" stroke-opacity="1" stroke-width="88"/><path d="M103 842 C108.11 834.44 131.22 786.67 149 774 C166.78 761.33 244 738.11 263 728 C282 717.89 312.33 665.22 320 683 C327.67 700.78 330.67 865.22 332 888" stroke="#b0f040" stroke-opacity="0.8" stroke-width="21.71"/><path d="M103 842 C101.67 862.33 87.22 994.56 91 1025 C94.78 1055.44 121.67 1103.33 137 1116 C152.33 1128.67 207.33 1136.44 229 1139 C250.67 1141.56 320.56 1139 332 1139" stroke="#b0f040" stroke-opacity="0.8" stroke-width="23.14"/><path d="M332 888 C348.56 885.44 454.22 872.56 481 865 C507.78 857.44 562.78 825 573 820" stroke="#f0f000" stroke-opacity="1" stroke-width="88"/><path d="M848 979 C850.56 990.44 858.33 1064.22 871 1082 C883.67 1099.78 941.67 1135.22 962 1139 C982.33 1142.78 1033.56 1126.22 1054 1116 C1074.44 1105.78 1135.78 1054.67 1146 1047" stroke="#b0f040" stroke-opacity="0.8" stroke-width="23.14"/><path d="M710 1116 C720.22 1113.44 784.11 1103.11 802 1093 C819.89 1082.89 863.33 1032.56 871 1025" stroke="#b0f040" stroke-opacity="0.8" stroke-width="21.71"/><path d="M343 1230 C335.44 1219.89 287.67 1149.11 275 1139 C262.33 1128.89 234.11 1139 229 1139" stroke="#b0f040" stroke-opacity="0.8" stroke-width="21.71"/><path d="M1306 523 C1313.67 512.89 1362.22 444.56 1375 432 C1387.78 419.44 1415.89 412.44 1421 410" stroke="#b0f040" stroke-opacity="0.8" stroke-width="21.71"/></g><g fill="none" stroke-linecap="round" stroke-linejoin="round" filter="url(#rough)"><path d="M126 444 C137.44 430 209.89 335.78 229 318 C248.11 300.22 282.78 278.89 298 284 C313.22 289.11 361 334.89 366 364 C371 393.11 349.33 520.67 343 546 C336.67 571.33 321.67 588.22 309 592 C296.33 595.78 248.11 591.44 229 580 C209.89 568.56 148.44 504.11 137 489 C125.56 473.89 127.22 449 126 444" stroke="#ff5000" stroke-opacity="1" stroke-width="62"/><path d="M366 375 C378.78 371.22 455.44 347.33 481 341 C506.56 334.67 580.67 326.89 596 318 C611.33 309.11 616.44 267.33 619 261" stroke="#ff5000" stroke-opacity="1" stroke-width="62"/><path d="M366 375 C363.44 392.78 339.11 505.89 343 535 C346.89 564.11 381.89 620.56 401 637 C420.11 653.44 490.78 683 515 683 C539.22 683 605 654.78 619 637 C633 619.22 643.56 552.11 641 523 C638.44 493.89 613.78 395.22 596 375 C578.22 354.78 493.78 344.78 481 341" stroke="#ff9000" stroke-opacity="0.5" stroke-width="6.23"/><path d="M275 227 C286.44 215.67 353.89 146.44 378 125 C402.11 103.56 462.78 46.67 492 34 C521.22 21.33 624.44 13.56 641 11" stroke="#ff5000" stroke-opacity="1" stroke-width="58.59"/><path d="M641 11 C658.89 19.89 776.44 63.22 802 91 C827.56 118.78 871 238.22 871 261 C871 283.78 827.56 293.44 802 296 C776.44 298.56 658.89 285.33 641 284" stroke="#ff9000" stroke-opacity="0.5" stroke-width="6.23"/><path d="M917 22 C923.33 34.67 970.22 113.22 974 136 C977.78 158.78 951 206.78 951 227 C951 247.22 971.44 307.89 974 318" stroke="#ff5000" stroke-opacity="1" stroke-width="62"/><path d="M1203 68 C1206.89 79.33 1229.11 149.78 1238 170 C1246.89 190.22 1262.67 239.89 1283 250 C1303.33 260.11 1405.67 259.78 1421 261" stroke="#ff5000" stroke-opacity="1" stroke-width="62"/><path d="M1261 22 C1271.11 24.56 1339.33 32.33 1352 45 C1364.67 57.67 1367.33 115.78 1375 136 C1382.67 156.22 1415.89 216.89 1421 227" stroke="#ff9000" stroke-opacity="0.5" stroke-width="6.23"/><path d="M710 615 C715.11 597.22 738.11 480.33 756 455 C773.89 429.67 843 399.67 871 387 C899 374.33 978.78 342.33 1008 341 C1037.22 339.67 1112.33 362.33 1134 375 C1155.67 387.67 1186.44 448.67 1203 455 C1219.56 461.33 1271.56 424.44 1283 432 C1294.44 439.56 1311 505.22 1306 523 C1301 540.78 1250.67 574.22 1238 592 C1225.33 609.78 1207.33 665.33 1192 683 C1176.67 700.67 1121.67 746 1100 751 C1078.33 756 1017.33 733 997 728 C976.67 723 931 706 917 706 C903 706 878.67 735.67 871 728 C863.33 720.33 865.89 649.56 848 637 C830.11 624.44 725.33 617.44 710 615" stroke="#ff5000" stroke-opacity="1" stroke-width="62"/><path d="M1008 341 C1010.56 356.22 1033.56 450.11 1031 478 C1028.44 505.89 995.11 569.22 985 592 C974.89 614.78 951.44 662.78 940 683 C928.56 703.22 887.11 746.22 882 774 C876.89 801.78 890.11 907.67 894 933 C897.89 958.33 906.89 991.78 917 1002 C927.11 1012.22 964.67 1025 985 1025 C1005.33 1025 1082.11 1012.22 1100 1002 C1117.89 991.78 1140.89 955.78 1146 933 C1151.11 910.22 1140.89 824.78 1146 797 C1151.11 769.22 1186.89 695.67 1192 683" stroke="#ff5000" stroke-opacity="1" stroke-width="62"/><path d="M1192 785 L1215 808" stroke="#ff5000" stroke-opacity="1" stroke-width="62"/><path d="M619 728 C616.44 735.67 603.67 779.22 596 797 C588.33 814.78 552.56 865.22 550 888 C547.44 910.78 562.89 986.78 573 1002 C583.11 1017.22 625.78 1012.33 641 1025 C656.22 1037.67 704.89 1093.22 710 1116 C715.11 1138.78 689.56 1207.22 687 1230 C684.44 1252.78 692.11 1304.56 687 1321 C681.89 1337.44 661.33 1370.44 641 1378 C620.67 1385.56 529.44 1394.11 504 1389 C478.56 1383.89 429.89 1349.67 412 1332 C394.11 1314.33 348.11 1254 343 1230 C337.89 1206 366 1138.78 366 1116 C366 1093.22 346.78 1050.33 343 1025 C339.22 999.67 333.22 903.22 332 888" stroke="#ff5000" stroke-opacity="1" stroke-width="62"/><path d="M103 842 C108.11 834.44 131.22 786.67 149 774 C166.78 761.33 244 738.11 263 728 C282 717.89 312.33 665.22 320 683 C327.67 700.78 330.67 865.22 332 888" stroke="#ff9000" stroke-opacity="0.5" stroke-width="5.84"/><path d="M103 842 C101.67 862.33 87.22 994.56 91 1025 C94.78 1055.44 121.67 1103.33 137 1116 C152.33 1128.67 207.33 1136.44 229 1139 C250.67 1141.56 320.56 1139 332 1139" stroke="#ff9000" stroke-opacity="0.5" stroke-width="6.23"/><path d="M332 888 C348.56 885.44 454.22 872.56 481 865 C507.78 857.44 562.78 825 573 820" stroke="#ff5000" stroke-opacity="1" stroke-width="62"/><path d="M848 979 C850.56 990.44 858.33 1064.22 871 1082 C883.67 1099.78 941.67 1135.22 962 1139 C982.33 1142.78 1033.56 1126.22 1054 1116 C1074.44 1105.78 1135.78 1054.67 1146 1047" stroke="#ff9000" stroke-opacity="0.5" stroke-width="6.23"/><path d="M710 1116 C720.22 1113.44 784.11 1103.11 802 1093 C819.89 1082.89 863.33 1032.56 871 1025" stroke="#ff9000" stroke-opacity="0.5" stroke-width="5.84"/><path d="M343 1230 C335.44 1219.89 287.67 1149.11 275 1139 C262.33 1128.89 234.11 1139 229 1139" stroke="#ff9000" stroke-opacity="0.5" stroke-width="5.84"/><path d="M1306 523 C1313.67 512.89 1362.22 444.56 1375 432 C1387.78 419.44 1415.89 412.44 1421 410" stroke="#ff9000" stroke-opacity="0.5" stroke-width="5.84"/></g><g fill="none" stroke-linecap="round" stroke-linejoin="round" filter="url(#rough)"><path d="M126 444 C137.44 430 209.89 335.78 229 318 C248.11 300.22 282.78 278.89 298 284 C313.22 289.11 361 334.89 366 364 C371 393.11 349.33 520.67 343 546 C336.67 571.33 321.67 588.22 309 592 C296.33 595.78 248.11 591.44 229 580 C209.89 568.56 148.44 504.11 137 489 C125.56 473.89 127.22 449 126 444" stroke="#980000" stroke-opacity="1" stroke-width="42"/><path d="M366 375 C378.78 371.22 455.44 347.33 481 341 C506.56 334.67 580.67 326.89 596 318 C611.33 309.11 616.44 267.33 619 261" stroke="#980000" stroke-opacity="1" stroke-width="42"/><path d="M275 227 C286.44 215.67 353.89 146.44 378 125 C402.11 103.56 462.78 46.67 492 34 C521.22 21.33 624.44 13.56 641 11" stroke="#980000" stroke-opacity="1" stroke-width="39.69"/><path d="M917 22 C923.33 34.67 970.22 113.22 974 136 C977.78 158.78 951 206.78 951 227 C951 247.22 971.44 307.89 974 318" stroke="#980000" stroke-opacity="1" stroke-width="42"/><path d="M1203 68 C1206.89 79.33 1229.11 149.78 1238 170 C1246.89 190.22 1262.67 239.89 1283 250 C1303.33 260.11 1405.67 259.78 1421 261" stroke="#980000" stroke-opacity="1" stroke-width="42"/><path d="M710 615 C715.11 597.22 738.11 480.33 756 455 C773.89 429.67 843 399.67 871 387 C899 374.33 978.78 342.33 1008 341 C1037.22 339.67 1112.33 362.33 1134 375 C1155.67 387.67 1186.44 448.67 1203 455 C1219.56 461.33 1271.56 424.44 1283 432 C1294.44 439.56 1311 505.22 1306 523 C1301 540.78 1250.67 574.22 1238 592 C1225.33 609.78 1207.33 665.33 1192 683 C1176.67 700.67 1121.67 746 1100 751 C1078.33 756 1017.33 733 997 728 C976.67 723 931 706 917 706 C903 706 878.67 735.67 871 728 C863.33 720.33 865.89 649.56 848 637 C830.11 624.44 725.33 617.44 710 615" stroke="#980000" stroke-opacity="1" stroke-width="42"/><path d="M1008 341 C1010.56 356.22 1033.56 450.11 1031 478 C1028.44 505.89 995.11 569.22 985 592 C974.89 614.78 951.44 662.78 940 683 C928.56 703.22 887.11 746.22 882 774 C876.89 801.78 890.11 907.67 894 933 C897.89 958.33 906.89 991.78 917 1002 C927.11 1012.22 964.67 1025 985 1025 C1005.33 1025 1082.11 1012.22 1100 1002 C1117.89 991.78 1140.89 955.78 1146 933 C1151.11 910.22 1140.89 824.78 1146 797 C1151.11 769.22 1186.89 695.67 1192 683" stroke="#980000" stroke-opacity="1" stroke-width="42"/><path d="M1192 785 L1215 808" stroke="#980000" stroke-opacity="1" stroke-width="42"/><path d="M619 728 C616.44 735.67 603.67 779.22 596 797 C588.33 814.78 552.56 865.22 550 888 C547.44 910.78 562.89 986.78 573 1002 C583.11 1017.22 625.78 1012.33 641 1025 C656.22 1037.67 704.89 1093.22 710 1116 C715.11 1138.78 689.56 1207.22 687 1230 C684.44 1252.78 692.11 1304.56 687 1321 C681.89 1337.44 661.33 1370.44 641 1378 C620.67 1385.56 529.44 1394.11 504 1389 C478.56 1383.89 429.89 1349.67 412 1332 C394.11 1314.33 348.11 1254 343 1230 C337.89 1206 366 1138.78 366 1116 C366 1093.22 346.78 1050.33 343 1025 C339.22 999.67 333.22 903.22 332 888" stroke="#980000" stroke-opacity="1" stroke-width="42"/><path d="M332 888 C348.56 885.44 454.22 872.56 481 865 C507.78 857.44 562.78 825 573 820" stroke="#980000" stroke-opacity="1" stroke-width="42"/></g></svg>
<svg x="1192" y="917" width="159" height="159" viewBox="0 0 1440 1440" preserveAspectRatio="none"><rect width="1440" height="1440" fill="#00008f"/><g fill="none" stroke="#40d8f0" stroke-opacity="0.9" stroke-linecap="round" stroke-linejoin="round" filter="url(#speckB)"><path d="M173 296 C180.56 274.44 227.11 124.78 241 102 C254.89 79.22 274 84.67 298 91 C322 97.33 431.67 143.89 457 159 C482.33 174.11 510.78 205.44 526 227 C541.22 248.56 591.56 336.56 594 353 C596.44 369.44 559.33 364.89 548 375 C536.67 385.11 502.11 428.78 492 444 C481.89 459.22 478.56 510.78 457 512 C435.44 513.22 320.78 463.89 298 455 C275.22 446.11 264.67 444.67 252 432 C239.33 419.33 192.78 356.11 184 341 C175.22 325.89 174.22 301 173 296" stroke-width="102.35"/><path d="M457 159 C464.67 166.56 515.89 203 526 227 C536.11 251 551.78 350.89 548 375 C544.22 399.11 502.11 428.78 492 444 C481.89 459.22 460.89 504.44 457 512" stroke-width="105"/><path d="M719 318 C726.67 307.89 769 245.89 788 227 C807 208.11 869.78 151.78 890 148 C910.22 144.22 954.78 177.89 970 193 C985.22 208.11 1022 262.44 1027 284 C1032 305.56 1023.89 368 1015 387 C1006.11 406 963.44 446.22 947 455 C930.56 463.78 886 469.78 867 466 C848 462.22 792.44 437.44 776 421 C759.56 404.56 725.33 329.44 719 318" stroke-width="105"/><path d="M1107 34 C1108.22 45.33 1107.89 118.33 1118 136 C1128.11 153.67 1176.44 189.22 1198 193 C1219.56 196.78 1289.22 175 1312 170 C1334.78 165 1392.89 150.44 1403 148" stroke-width="105"/><path d="M1323 45 L1391 11" stroke-width="105"/><path d="M480 478 C477.44 493.22 455.67 587.22 457 615 C458.33 642.78 492 707.78 492 728 C492 748.22 467.22 781.78 457 797 C446.78 812.22 406.33 857.44 400 865" stroke-width="105"/><path d="M207 683 C213.33 677.89 261.44 624.33 264 637 C266.56 649.67 223.67 771.67 230 797 C236.33 822.33 302.11 857.44 321 865 C339.89 872.56 391.22 865 400 865" stroke-width="96.02"/><path d="M400 865 C401.33 877.67 398 963.78 412 979 C426 994.22 503.22 998.22 526 1002 C548.78 1005.78 605.67 1023.11 617 1013 C628.33 1002.89 630.56 941.33 628 911 C625.44 880.67 602.89 765.33 594 740 C585.11 714.67 559.33 684.33 548 683 C536.67 681.67 498.22 723 492 728" stroke-width="102.35"/><path d="M412 979 C410.67 966.33 395 885.22 400 865 C405 844.78 450.67 804.56 457 797" stroke-width="105"/><path d="M594 694 C604.11 690.22 662.22 661.22 685 660 C707.78 658.78 778.78 667.78 799 683 C819.22 698.22 860.67 774.22 867 797 C873.33 819.78 863.56 872.89 856 888 C848.44 903.11 818 926.67 799 933 C780 939.33 704 947.44 685 945 C666 942.56 634.33 914.78 628 911" stroke-width="102.35"/><path d="M856 888 C868.67 884.22 940.89 856.56 970 854 C999.11 851.44 1088.89 854.89 1118 865 C1147.11 875.11 1211.78 934.89 1232 945 C1252.22 955.11 1279.78 949.67 1300 956 C1320.22 962.33 1402.56 981.67 1414 1002 C1425.44 1022.33 1415.67 1116.22 1403 1139 C1390.33 1161.78 1325.33 1194.44 1300 1207 C1274.67 1219.56 1201.56 1239.33 1175 1252 C1148.44 1264.67 1086.33 1310.78 1061 1321 C1035.67 1331.22 969.78 1345.33 947 1344 C924.22 1342.67 866.11 1312.89 856 1309" stroke-width="105"/><path d="M890 956 C892.56 976.33 909.22 1099.78 913 1139 C916.78 1178.22 922.78 1290.11 924 1309" stroke-width="105"/><path d="M685 1161 C690.11 1173.67 718.33 1257.22 731 1275 C743.67 1292.78 777.56 1317.22 799 1321 C820.44 1324.78 910.11 1310.33 924 1309" stroke-width="102.35"/><path d="M640 945 C641.22 961.44 646 1069 651 1093 C656 1117 673.56 1154.67 685 1161 C696.44 1167.33 735 1152.44 754 1150 C773 1147.56 844.67 1140.22 856 1139" stroke-width="105"/><path d="M2 1025 C9.56 1018.67 51 968 70 968 C89 968 157.78 1006 173 1025 C188.22 1044 207 1113.78 207 1139 C207 1164.22 183.11 1234.33 173 1252 C162.89 1269.67 131.22 1295.44 116 1298 C100.78 1300.56 48.67 1285.11 36 1275 C23.33 1264.89 5.78 1214.56 2 1207" stroke-width="102.35"/><path d="M252 1435 C254.56 1418.56 264.89 1309.78 275 1287 C285.11 1264.22 322.78 1237.67 343 1230 C363.22 1222.33 435.44 1210.44 457 1218 C478.56 1225.56 525.56 1273.89 537 1298 C548.44 1322.11 557.44 1419.78 560 1435" stroke-width="105"/><path d="M1175 1252 C1183.89 1234.33 1228.44 1120.78 1255 1093 C1281.56 1065.22 1396.33 1012.11 1414 1002" stroke-width="105"/></g><g fill="none" stroke-linecap="round" stroke-linejoin="round" filter="url(#rough)"><path d="M173 296 C180.56 274.44 227.11 124.78 241 102 C254.89 79.22 274 84.67 298 91 C322 97.33 431.67 143.89 457 159 C482.33 174.11 510.78 205.44 526 227 C541.22 248.56 591.56 336.56 594 353 C596.44 369.44 559.33 364.89 548 375 C536.67 385.11 502.11 428.78 492 444 C481.89 459.22 478.56 510.78 457 512 C435.44 513.22 320.78 463.89 298 455 C275.22 446.11 264.67 444.67 252 432 C239.33 419.33 192.78 356.11 184 341 C175.22 325.89 174.22 301 173 296" stroke="#1070ff" stroke-opacity="0.9" stroke-width="81.88"/><path d="M457 159 C464.67 166.56 515.89 203 526 227 C536.11 251 551.78 350.89 548 375 C544.22 399.11 502.11 428.78 492 444 C481.89 459.22 460.89 504.44 457 512" stroke="#10a0ff" stroke-opacity="0.95" stroke-width="84"/><path d="M719 318 C726.67 307.89 769 245.89 788 227 C807 208.11 869.78 151.78 890 148 C910.22 144.22 954.78 177.89 970 193 C985.22 208.11 1022 262.44 1027 284 C1032 305.56 1023.89 368 1015 387 C1006.11 406 963.44 446.22 947 455 C930.56 463.78 886 469.78 867 466 C848 462.22 792.44 437.44 776 421 C759.56 404.56 725.33 329.44 719 318" stroke="#10a0ff" stroke-opacity="0.95" stroke-width="84"/><path d="M1107 34 C1108.22 45.33 1107.89 118.33 1118 136 C1128.11 153.67 1176.44 189.22 1198 193 C1219.56 196.78 1289.22 175 1312 170 C1334.78 165 1392.89 150.44 1403 148" stroke="#10a0ff" stroke-opacity="0.95" stroke-width="84"/><path d="M1323 45 L1391 11" stroke="#10a0ff" stroke-opacity="0.95" stroke-width="84"/><path d="M480 478 C477.44 493.22 455.67 587.22 457 615 C458.33 642.78 492 707.78 492 728 C492 748.22 467.22 781.78 457 797 C446.78 812.22 406.33 857.44 400 865" stroke="#10a0ff" stroke-opacity="0.95" stroke-width="84"/><path d="M207 683 C213.33 677.89 261.44 624.33 264 637 C266.56 649.67 223.67 771.67 230 797 C236.33 822.33 302.11 857.44 321 865 C339.89 872.56 391.22 865 400 865" stroke="#1070ff" stroke-opacity="0.9" stroke-width="76.82"/><path d="M400 865 C401.33 877.67 398 963.78 412 979 C426 994.22 503.22 998.22 526 1002 C548.78 1005.78 605.67 1023.11 617 1013 C628.33 1002.89 630.56 941.33 628 911 C625.44 880.67 602.89 765.33 594 740 C585.11 714.67 559.33 684.33 548 683 C536.67 681.67 498.22 723 492 728" stroke="#1070ff" stroke-opacity="0.9" stroke-width="81.88"/><path d="M412 979 C410.67 966.33 395 885.22 400 865 C405 844.78 450.67 804.56 457 797" stroke="#10a0ff" stroke-opacity="0.95" stroke-width="84"/><path d="M594 694 C604.11 690.22 662.22 661.22 685 660 C707.78 658.78 778.78 667.78 799 683 C819.22 698.22 860.67 774.22 867 797 C873.33 819.78 863.56 872.89 856 888 C848.44 903.11 818 926.67 799 933 C780 939.33 704 947.44 685 945 C666 942.56 634.33 914.78 628 911" stroke="#1070ff" stroke-opacity="0.9" stroke-width="81.88"/><path d="M856 888 C868.67 884.22 940.89 856.56 970 854 C999.11 851.44 1088.89 854.89 1118 865 C1147.11 875.11 1211.78 934.89 1232 945 C1252.22 955.11 1279.78 949.67 1300 956 C1320.22 962.33 1402.56 981.67 1414 1002 C1425.44 1022.33 1415.67 1116.22 1403 1139 C1390.33 1161.78 1325.33 1194.44 1300 1207 C1274.67 1219.56 1201.56 1239.33 1175 1252 C1148.44 1264.67 1086.33 1310.78 1061 1321 C1035.67 1331.22 969.78 1345.33 947 1344 C924.22 1342.67 866.11 1312.89 856 1309" stroke="#10a0ff" stroke-opacity="0.95" stroke-width="84"/><path d="M890 956 C892.56 976.33 909.22 1099.78 913 1139 C916.78 1178.22 922.78 1290.11 924 1309" stroke="#10a0ff" stroke-opacity="0.95" stroke-width="84"/><path d="M685 1161 C690.11 1173.67 718.33 1257.22 731 1275 C743.67 1292.78 777.56 1317.22 799 1321 C820.44 1324.78 910.11 1310.33 924 1309" stroke="#1070ff" stroke-opacity="0.9" stroke-width="81.88"/><path d="M640 945 C641.22 961.44 646 1069 651 1093 C656 1117 673.56 1154.67 685 1161 C696.44 1167.33 735 1152.44 754 1150 C773 1147.56 844.67 1140.22 856 1139" stroke="#10a0ff" stroke-opacity="0.95" stroke-width="84"/><path d="M2 1025 C9.56 1018.67 51 968 70 968 C89 968 157.78 1006 173 1025 C188.22 1044 207 1113.78 207 1139 C207 1164.22 183.11 1234.33 173 1252 C162.89 1269.67 131.22 1295.44 116 1298 C100.78 1300.56 48.67 1285.11 36 1275 C23.33 1264.89 5.78 1214.56 2 1207" stroke="#1070ff" stroke-opacity="0.9" stroke-width="81.88"/><path d="M252 1435 C254.56 1418.56 264.89 1309.78 275 1287 C285.11 1264.22 322.78 1237.67 343 1230 C363.22 1222.33 435.44 1210.44 457 1218 C478.56 1225.56 525.56 1273.89 537 1298 C548.44 1322.11 557.44 1419.78 560 1435" stroke="#10a0ff" stroke-opacity="0.95" stroke-width="84"/><path d="M1175 1252 C1183.89 1234.33 1228.44 1120.78 1255 1093 C1281.56 1065.22 1396.33 1012.11 1414 1002" stroke="#10a0ff" stroke-opacity="0.95" stroke-width="84"/></g><g fill="none" stroke-linecap="round" stroke-linejoin="round" filter="url(#rough)"><path d="M173 296 C180.56 274.44 227.11 124.78 241 102 C254.89 79.22 274 84.67 298 91 C322 97.33 431.67 143.89 457 159 C482.33 174.11 510.78 205.44 526 227 C541.22 248.56 591.56 336.56 594 353 C596.44 369.44 559.33 364.89 548 375 C536.67 385.11 502.11 428.78 492 444 C481.89 459.22 478.56 510.78 457 512 C435.44 513.22 320.78 463.89 298 455 C275.22 446.11 264.67 444.67 252 432 C239.33 419.33 192.78 356.11 184 341 C175.22 325.89 174.22 301 173 296" stroke="#30e0e0" stroke-opacity="1" stroke-width="55.18"/><path d="M457 159 C464.67 166.56 515.89 203 526 227 C536.11 251 551.78 350.89 548 375 C544.22 399.11 502.11 428.78 492 444 C481.89 459.22 460.89 504.44 457 512" stroke="#40f0d0" stroke-opacity="1" stroke-width="68"/><path d="M719 318 C726.67 307.89 769 245.89 788 227 C807 208.11 869.78 151.78 890 148 C910.22 144.22 954.78 177.89 970 193 C985.22 208.11 1022 262.44 1027 284 C1032 305.56 1023.89 368 1015 387 C1006.11 406 963.44 446.22 947 455 C930.56 463.78 886 469.78 867 466 C848 462.22 792.44 437.44 776 421 C759.56 404.56 725.33 329.44 719 318" stroke="#40f0d0" stroke-opacity="1" stroke-width="68"/><path d="M1107 34 C1108.22 45.33 1107.89 118.33 1118 136 C1128.11 153.67 1176.44 189.22 1198 193 C1219.56 196.78 1289.22 175 1312 170 C1334.78 165 1392.89 150.44 1403 148" stroke="#40f0d0" stroke-opacity="1" stroke-width="68"/><path d="M1323 45 L1391 11" stroke="#40f0d0" stroke-opacity="1" stroke-width="68"/><path d="M480 478 C477.44 493.22 455.67 587.22 457 615 C458.33 642.78 492 707.78 492 728 C492 748.22 467.22 781.78 457 797 C446.78 812.22 406.33 857.44 400 865" stroke="#40f0d0" stroke-opacity="1" stroke-width="68"/><path d="M207 683 C213.33 677.89 261.44 624.33 264 637 C266.56 649.67 223.67 771.67 230 797 C236.33 822.33 302.11 857.44 321 865 C339.89 872.56 391.22 865 400 865" stroke="#30e0e0" stroke-opacity="1" stroke-width="51.77"/><path d="M400 865 C401.33 877.67 398 963.78 412 979 C426 994.22 503.22 998.22 526 1002 C548.78 1005.78 605.67 1023.11 617 1013 C628.33 1002.89 630.56 941.33 628 911 C625.44 880.67 602.89 765.33 594 740 C585.11 714.67 559.33 684.33 548 683 C536.67 681.67 498.22 723 492 728" stroke="#30e0e0" stroke-opacity="1" stroke-width="55.18"/><path d="M412 979 C410.67 966.33 395 885.22 400 865 C405 844.78 450.67 804.56 457 797" stroke="#40f0d0" stroke-opacity="1" stroke-width="68"/><path d="M594 694 C604.11 690.22 662.22 661.22 685 660 C707.78 658.78 778.78 667.78 799 683 C819.22 698.22 860.67 774.22 867 797 C873.33 819.78 863.56 872.89 856 888 C848.44 903.11 818 926.67 799 933 C780 939.33 704 947.44 685 945 C666 942.56 634.33 914.78 628 911" stroke="#30e0e0" stroke-opacity="1" stroke-width="55.18"/><path d="M856 888 C868.67 884.22 940.89 856.56 970 854 C999.11 851.44 1088.89 854.89 1118 865 C1147.11 875.11 1211.78 934.89 1232 945 C1252.22 955.11 1279.78 949.67 1300 956 C1320.22 962.33 1402.56 981.67 1414 1002 C1425.44 1022.33 1415.67 1116.22 1403 1139 C1390.33 1161.78 1325.33 1194.44 1300 1207 C1274.67 1219.56 1201.56 1239.33 1175 1252 C1148.44 1264.67 1086.33 1310.78 1061 1321 C1035.67 1331.22 969.78 1345.33 947 1344 C924.22 1342.67 866.11 1312.89 856 1309" stroke="#40f0d0" stroke-opacity="1" stroke-width="68"/><path d="M890 956 C892.56 976.33 909.22 1099.78 913 1139 C916.78 1178.22 922.78 1290.11 924 1309" stroke="#40f0d0" stroke-opacity="1" stroke-width="68"/><path d="M685 1161 C690.11 1173.67 718.33 1257.22 731 1275 C743.67 1292.78 777.56 1317.22 799 1321 C820.44 1324.78 910.11 1310.33 924 1309" stroke="#30e0e0" stroke-opacity="1" stroke-width="55.18"/><path d="M640 945 C641.22 961.44 646 1069 651 1093 C656 1117 673.56 1154.67 685 1161 C696.44 1167.33 735 1152.44 754 1150 C773 1147.56 844.67 1140.22 856 1139" stroke="#40f0d0" stroke-opacity="1" stroke-width="68"/><path d="M2 1025 C9.56 1018.67 51 968 70 968 C89 968 157.78 1006 173 1025 C188.22 1044 207 1113.78 207 1139 C207 1164.22 183.11 1234.33 173 1252 C162.89 1269.67 131.22 1295.44 116 1298 C100.78 1300.56 48.67 1285.11 36 1275 C23.33 1264.89 5.78 1214.56 2 1207" stroke="#30e0e0" stroke-opacity="1" stroke-width="55.18"/><path d="M252 1435 C254.56 1418.56 264.89 1309.78 275 1287 C285.11 1264.22 322.78 1237.67 343 1230 C363.22 1222.33 435.44 1210.44 457 1218 C478.56 1225.56 525.56 1273.89 537 1298 C548.44 1322.11 557.44 1419.78 560 1435" stroke="#40f0d0" stroke-opacity="1" stroke-width="68"/><path d="M1175 1252 C1183.89 1234.33 1228.44 1120.78 1255 1093 C1281.56 1065.22 1396.33 1012.11 1414 1002" stroke="#40f0d0" stroke-opacity="1" stroke-width="68"/></g><g fill="none" stroke-linecap="round" stroke-linejoin="round" filter="url(#rough)"><path d="M173 296 C180.56 274.44 227.11 124.78 241 102 C254.89 79.22 274 84.67 298 91 C322 97.33 431.67 143.89 457 159 C482.33 174.11 510.78 205.44 526 227 C541.22 248.56 591.56 336.56 594 353 C596.44 369.44 559.33 364.89 548 375 C536.67 385.11 502.11 428.78 492 444 C481.89 459.22 478.56 510.78 457 512 C435.44 513.22 320.78 463.89 298 455 C275.22 446.11 264.67 444.67 252 432 C239.33 419.33 192.78 356.11 184 341 C175.22 325.89 174.22 301 173 296" stroke="#b0f040" stroke-opacity="0.8" stroke-width="23.14"/><path d="M457 159 C464.67 166.56 515.89 203 526 227 C536.11 251 551.78 350.89 548 375 C544.22 399.11 502.11 428.78 492 444 C481.89 459.22 460.89 504.44 457 512" stroke="#f0f000" stroke-opacity="1" stroke-width="54"/><path d="M719 318 C726.67 307.89 769 245.89 788 227 C807 208.11 869.78 151.78 890 148 C910.22 144.22 954.78 177.89 970 193 C985.22 208.11 1022 262.44 1027 284 C1032 305.56 1023.89 368 1015 387 C1006.11 406 963.44 446.22 947 455 C930.56 463.78 886 469.78 867 466 C848 462.22 792.44 437.44 776 421 C759.56 404.56 725.33 329.44 719 318" stroke="#f0f000" stroke-opacity="1" stroke-width="54"/><path d="M1107 34 C1108.22 45.33 1107.89 118.33 1118 136 C1128.11 153.67 1176.44 189.22 1198 193 C1219.56 196.78 1289.22 175 1312 170 C1334.78 165 1392.89 150.44 1403 148" stroke="#f0f000" stroke-opacity="1" stroke-width="54"/><path d="M1323 45 L1391 11" stroke="#f0f000" stroke-opacity="1" stroke-width="54"/><path d="M480 478 C477.44 493.22 455.67 587.22 457 615 C458.33 642.78 492 707.78 492 728 C492 748.22 467.22 781.78 457 797 C446.78 812.22 406.33 857.44 400 865" stroke="#f0f000" stroke-opacity="1" stroke-width="54"/><path d="M207 683 C213.33 677.89 261.44 624.33 264 637 C266.56 649.67 223.67 771.67 230 797 C236.33 822.33 302.11 857.44 321 865 C339.89 872.56 391.22 865 400 865" stroke="#b0f040" stroke-opacity="0.8" stroke-width="21.71"/><path d="M400 865 C401.33 877.67 398 963.78 412 979 C426 994.22 503.22 998.22 526 1002 C548.78 1005.78 605.67 1023.11 617 1013 C628.33 1002.89 630.56 941.33 628 911 C625.44 880.67 602.89 765.33 594 740 C585.11 714.67 559.33 684.33 548 683 C536.67 681.67 498.22 723 492 728" stroke="#b0f040" stroke-opacity="0.8" stroke-width="23.14"/><path d="M412 979 C410.67 966.33 395 885.22 400 865 C405 844.78 450.67 804.56 457 797" stroke="#f0f000" stroke-opacity="1" stroke-width="54"/><path d="M594 694 C604.11 690.22 662.22 661.22 685 660 C707.78 658.78 778.78 667.78 799 683 C819.22 698.22 860.67 774.22 867 797 C873.33 819.78 863.56 872.89 856 888 C848.44 903.11 818 926.67 799 933 C780 939.33 704 947.44 685 945 C666 942.56 634.33 914.78 628 911" stroke="#b0f040" stroke-opacity="0.8" stroke-width="23.14"/><path d="M856 888 C868.67 884.22 940.89 856.56 970 854 C999.11 851.44 1088.89 854.89 1118 865 C1147.11 875.11 1211.78 934.89 1232 945 C1252.22 955.11 1279.78 949.67 1300 956 C1320.22 962.33 1402.56 981.67 1414 1002 C1425.44 1022.33 1415.67 1116.22 1403 1139 C1390.33 1161.78 1325.33 1194.44 1300 1207 C1274.67 1219.56 1201.56 1239.33 1175 1252 C1148.44 1264.67 1086.33 1310.78 1061 1321 C1035.67 1331.22 969.78 1345.33 947 1344 C924.22 1342.67 866.11 1312.89 856 1309" stroke="#f0f000" stroke-opacity="1" stroke-width="54"/><path d="M890 956 C892.56 976.33 909.22 1099.78 913 1139 C916.78 1178.22 922.78 1290.11 924 1309" stroke="#f0f000" stroke-opacity="1" stroke-width="54"/><path d="M685 1161 C690.11 1173.67 718.33 1257.22 731 1275 C743.67 1292.78 777.56 1317.22 799 1321 C820.44 1324.78 910.11 1310.33 924 1309" stroke="#b0f040" stroke-opacity="0.8" stroke-width="23.14"/><path d="M640 945 C641.22 961.44 646 1069 651 1093 C656 1117 673.56 1154.67 685 1161 C696.44 1167.33 735 1152.44 754 1150 C773 1147.56 844.67 1140.22 856 1139" stroke="#f0f000" stroke-opacity="1" stroke-width="54"/><path d="M2 1025 C9.56 1018.67 51 968 70 968 C89 968 157.78 1006 173 1025 C188.22 1044 207 1113.78 207 1139 C207 1164.22 183.11 1234.33 173 1252 C162.89 1269.67 131.22 1295.44 116 1298 C100.78 1300.56 48.67 1285.11 36 1275 C23.33 1264.89 5.78 1214.56 2 1207" stroke="#b0f040" stroke-opacity="0.8" stroke-width="23.14"/><path d="M252 1435 C254.56 1418.56 264.89 1309.78 275 1287 C285.11 1264.22 322.78 1237.67 343 1230 C363.22 1222.33 435.44 1210.44 457 1218 C478.56 1225.56 525.56 1273.89 537 1298 C548.44 1322.11 557.44 1419.78 560 1435" stroke="#f0f000" stroke-opacity="1" stroke-width="54"/><path d="M1175 1252 C1183.89 1234.33 1228.44 1120.78 1255 1093 C1281.56 1065.22 1396.33 1012.11 1414 1002" stroke="#f0f000" stroke-opacity="1" stroke-width="54"/></g><g fill="none" stroke-linecap="round" stroke-linejoin="round" filter="url(#rough)"><path d="M173 296 C180.56 274.44 227.11 124.78 241 102 C254.89 79.22 274 84.67 298 91 C322 97.33 431.67 143.89 457 159 C482.33 174.11 510.78 205.44 526 227 C541.22 248.56 591.56 336.56 594 353 C596.44 369.44 559.33 364.89 548 375 C536.67 385.11 502.11 428.78 492 444 C481.89 459.22 478.56 510.78 457 512 C435.44 513.22 320.78 463.89 298 455 C275.22 446.11 264.67 444.67 252 432 C239.33 419.33 192.78 356.11 184 341 C175.22 325.89 174.22 301 173 296" stroke="#ff9000" stroke-opacity="0.5" stroke-width="6.23"/><path d="M457 159 C464.67 166.56 515.89 203 526 227 C536.11 251 551.78 350.89 548 375 C544.22 399.11 502.11 428.78 492 444 C481.89 459.22 460.89 504.44 457 512" stroke="#ff5000" stroke-opacity="1" stroke-width="44"/><path d="M719 318 C726.67 307.89 769 245.89 788 227 C807 208.11 869.78 151.78 890 148 C910.22 144.22 954.78 177.89 970 193 C985.22 208.11 1022 262.44 1027 284 C1032 305.56 1023.89 368 1015 387 C1006.11 406 963.44 446.22 947 455 C930.56 463.78 886 469.78 867 466 C848 462.22 792.44 437.44 776 421 C759.56 404.56 725.33 329.44 719 318" stroke="#ff5000" stroke-opacity="1" stroke-width="44"/><path d="M1107 34 C1108.22 45.33 1107.89 118.33 1118 136 C1128.11 153.67 1176.44 189.22 1198 193 C1219.56 196.78 1289.22 175 1312 170 C1334.78 165 1392.89 150.44 1403 148" stroke="#ff5000" stroke-opacity="1" stroke-width="44"/><path d="M1323 45 L1391 11" stroke="#ff5000" stroke-opacity="1" stroke-width="44"/><path d="M480 478 C477.44 493.22 455.67 587.22 457 615 C458.33 642.78 492 707.78 492 728 C492 748.22 467.22 781.78 457 797 C446.78 812.22 406.33 857.44 400 865" stroke="#ff5000" stroke-opacity="1" stroke-width="44"/><path d="M207 683 C213.33 677.89 261.44 624.33 264 637 C266.56 649.67 223.67 771.67 230 797 C236.33 822.33 302.11 857.44 321 865 C339.89 872.56 391.22 865 400 865" stroke="#ff9000" stroke-opacity="0.5" stroke-width="5.84"/><path d="M400 865 C401.33 877.67 398 963.78 412 979 C426 994.22 503.22 998.22 526 1002 C548.78 1005.78 605.67 1023.11 617 1013 C628.33 1002.89 630.56 941.33 628 911 C625.44 880.67 602.89 765.33 594 740 C585.11 714.67 559.33 684.33 548 683 C536.67 681.67 498.22 723 492 728" stroke="#ff9000" stroke-opacity="0.5" stroke-width="6.23"/><path d="M412 979 C410.67 966.33 395 885.22 400 865 C405 844.78 450.67 804.56 457 797" stroke="#ff5000" stroke-opacity="1" stroke-width="44"/><path d="M594 694 C604.11 690.22 662.22 661.22 685 660 C707.78 658.78 778.78 667.78 799 683 C819.22 698.22 860.67 774.22 867 797 C873.33 819.78 863.56 872.89 856 888 C848.44 903.11 818 926.67 799 933 C780 939.33 704 947.44 685 945 C666 942.56 634.33 914.78 628 911" stroke="#ff9000" stroke-opacity="0.5" stroke-width="6.23"/><path d="M856 888 C868.67 884.22 940.89 856.56 970 854 C999.11 851.44 1088.89 854.89 1118 865 C1147.11 875.11 1211.78 934.89 1232 945 C1252.22 955.11 1279.78 949.67 1300 956 C1320.22 962.33 1402.56 981.67 1414 1002 C1425.44 1022.33 1415.67 1116.22 1403 1139 C1390.33 1161.78 1325.33 1194.44 1300 1207 C1274.67 1219.56 1201.56 1239.33 1175 1252 C1148.44 1264.67 1086.33 1310.78 1061 1321 C1035.67 1331.22 969.78 1345.33 947 1344 C924.22 1342.67 866.11 1312.89 856 1309" stroke="#ff5000" stroke-opacity="1" stroke-width="44"/><path d="M890 956 C892.56 976.33 909.22 1099.78 913 1139 C916.78 1178.22 922.78 1290.11 924 1309" stroke="#ff5000" stroke-opacity="1" stroke-width="44"/><path d="M685 1161 C690.11 1173.67 718.33 1257.22 731 1275 C743.67 1292.78 777.56 1317.22 799 1321 C820.44 1324.78 910.11 1310.33 924 1309" stroke="#ff9000" stroke-opacity="0.5" stroke-width="6.23"/><path d="M640 945 C641.22 961.44 646 1069 651 1093 C656 1117 673.56 1154.67 685 1161 C696.44 1167.33 735 1152.44 754 1150 C773 1147.56 844.67 1140.22 856 1139" stroke="#ff5000" stroke-opacity="1" stroke-width="44"/><path d="M2 1025 C9.56 1018.67 51 968 70 968 C89 968 157.78 1006 173 1025 C188.22 1044 207 1113.78 207 1139 C207 1164.22 183.11 1234.33 173 1252 C162.89 1269.67 131.22 1295.44 116 1298 C100.78 1300.56 48.67 1285.11 36 1275 C23.33 1264.89 5.78 1214.56 2 1207" stroke="#ff9000" stroke-opacity="0.5" stroke-width="6.23"/><path d="M252 1435 C254.56 1418.56 264.89 1309.78 275 1287 C285.11 1264.22 322.78 1237.67 343 1230 C363.22 1222.33 435.44 1210.44 457 1218 C478.56 1225.56 525.56 1273.89 537 1298 C548.44 1322.11 557.44 1419.78 560 1435" stroke="#ff5000" stroke-opacity="1" stroke-width="44"/><path d="M1175 1252 C1183.89 1234.33 1228.44 1120.78 1255 1093 C1281.56 1065.22 1396.33 1012.11 1414 1002" stroke="#ff5000" stroke-opacity="1" stroke-width="44"/></g><g fill="none" stroke-linecap="round" stroke-linejoin="round" filter="url(#rough)"><path d="M457 159 C464.67 166.56 515.89 203 526 227 C536.11 251 551.78 350.89 548 375 C544.22 399.11 502.11 428.78 492 444 C481.89 459.22 460.89 504.44 457 512" stroke="#980000" stroke-opacity="1" stroke-width="34"/><path d="M719 318 C726.67 307.89 769 245.89 788 227 C807 208.11 869.78 151.78 890 148 C910.22 144.22 954.78 177.89 970 193 C985.22 208.11 1022 262.44 1027 284 C1032 305.56 1023.89 368 1015 387 C1006.11 406 963.44 446.22 947 455 C930.56 463.78 886 469.78 867 466 C848 462.22 792.44 437.44 776 421 C759.56 404.56 725.33 329.44 719 318" stroke="#980000" stroke-opacity="1" stroke-width="34"/><path d="M1107 34 C1108.22 45.33 1107.89 118.33 1118 136 C1128.11 153.67 1176.44 189.22 1198 193 C1219.56 196.78 1289.22 175 1312 170 C1334.78 165 1392.89 150.44 1403 148" stroke="#980000" stroke-opacity="1" stroke-width="34"/><path d="M1323 45 L1391 11" stroke="#980000" stroke-opacity="1" stroke-width="34"/><path d="M480 478 C477.44 493.22 455.67 587.22 457 615 C458.33 642.78 492 707.78 492 728 C492 748.22 467.22 781.78 457 797 C446.78 812.22 406.33 857.44 400 865" stroke="#980000" stroke-opacity="1" stroke-width="34"/><path d="M412 979 C410.67 966.33 395 885.22 400 865 C405 844.78 450.67 804.56 457 797" stroke="#980000" stroke-opacity="1" stroke-width="34"/><path d="M856 888 C868.67 884.22 940.89 856.56 970 854 C999.11 851.44 1088.89 854.89 1118 865 C1147.11 875.11 1211.78 934.89 1232 945 C1252.22 955.11 1279.78 949.67 1300 956 C1320.22 962.33 1402.56 981.67 1414 1002 C1425.44 1022.33 1415.67 1116.22 1403 1139 C1390.33 1161.78 1325.33 1194.44 1300 1207 C1274.67 1219.56 1201.56 1239.33 1175 1252 C1148.44 1264.67 1086.33 1310.78 1061 1321 C1035.67 1331.22 969.78 1345.33 947 1344 C924.22 1342.67 866.11 1312.89 856 1309" stroke="#980000" stroke-opacity="1" stroke-width="34"/><path d="M890 956 C892.56 976.33 909.22 1099.78 913 1139 C916.78 1178.22 922.78 1290.11 924 1309" stroke="#980000" stroke-opacity="1" stroke-width="34"/><path d="M640 945 C641.22 961.44 646 1069 651 1093 C656 1117 673.56 1154.67 685 1161 C696.44 1167.33 735 1152.44 754 1150 C773 1147.56 844.67 1140.22 856 1139" stroke="#980000" stroke-opacity="1" stroke-width="34"/><path d="M252 1435 C254.56 1418.56 264.89 1309.78 275 1287 C285.11 1264.22 322.78 1237.67 343 1230 C363.22 1222.33 435.44 1210.44 457 1218 C478.56 1225.56 525.56 1273.89 537 1298 C548.44 1322.11 557.44 1419.78 560 1435" stroke="#980000" stroke-opacity="1" stroke-width="34"/><path d="M1175 1252 C1183.89 1234.33 1228.44 1120.78 1255 1093 C1281.56 1065.22 1396.33 1012.11 1414 1002" stroke="#980000" stroke-opacity="1" stroke-width="34"/></g></svg>
<svg x="1356" y="917" width="159" height="159" viewBox="0 0 1440 1440" preserveAspectRatio="none"><rect width="1440" height="1440" fill="#00008f"/></svg>
<rect x="700" y="555" width="75" height="10.6" fill="url(#jet)"/>
<text x="784.7" y="575" font-size="26" fill="#000">&#916;F/F<tspan font-size="17" dy="5">0</tspan></text>
<text x="701" y="592.8" font-size="26" fill="#000" text-anchor="middle">0</text>
<text x="773.75" y="592.8" font-size="26" fill="#000" text-anchor="middle">3</text>
<rect x="698.4" y="1089.8" width="83.6" height="12.4" fill="url(#jet)"/>
<text x="789.8" y="1108" font-size="26" fill="#000">&#916;F/F<tspan font-size="17" dy="5">0</tspan></text>
<text x="700" y="1132.3" font-size="26" fill="#000" text-anchor="middle">0</text>
<text x="779.2" y="1132.3" font-size="26" fill="#000" text-anchor="middle">5</text>
<text x="744" y="199" font-size="27" fill="#e8121c" text-anchor="start">rDA1m</text>
<text x="917.5" y="199" font-size="27" fill="#7f00ff" text-anchor="start">rDA1h</text>
<text x="1077" y="199" font-size="27" fill="#808080" text-anchor="start">rDA-mut</text>
<text x="772" y="684.3" font-size="26.4" fill="#000" text-anchor="start">First generation</text>
<line x1="738.4" y1="696.7" x2="982.8" y2="696.7" stroke="#000" stroke-width="2"/>
<text x="1078.4" y="684.3" font-size="26.4" fill="#000" text-anchor="start">Second generation</text>
<line x1="1065.3" y1="696.7" x2="1309.7" y2="696.7" stroke="#000" stroke-width="2"/>
<text x="1386.6" y="684.3" font-size="26.4" fill="#000" text-anchor="start">Control</text>
<line x1="1354" y1="695.6" x2="1511.6" y2="695.6" stroke="#000" stroke-width="2"/>
<text x="743" y="744.5" font-size="26.6" fill="#3090e8" text-anchor="start">DA1m</text>
<text x="913.8" y="744.5" font-size="26.6" fill="#000" text-anchor="start">DA1h</text>
<text x="1072.4" y="744.5" font-size="26.6" fill="#118811" text-anchor="start">DA2m</text>
<text x="1236.8" y="744.5" font-size="26.6" fill="#a89848" text-anchor="start">DA2h</text>
<text x="1383" y="744.5" font-size="26.6" fill="#8888ee" text-anchor="start">DA-mut</text>
<line x1="1302.5" y1="242" x2="1302.5" y2="494.5" stroke="#000" stroke-width="1.5"/>
<line x1="1301.75" y1="494" x2="1466.5" y2="494" stroke="#000" stroke-width="1.5"/>
<line x1="1298" y1="271.25" x2="1302.5" y2="271.25" stroke="#000" stroke-width="1.5"/>
<text x="1293" y="278.05" font-size="22" fill="#000" text-anchor="end">1.5</text>
<line x1="1298" y1="343" x2="1302.5" y2="343" stroke="#000" stroke-width="1.5"/>
<text x="1293" y="349.8" font-size="22" fill="#000" text-anchor="end">1.0</text>
<line x1="1298" y1="415.4" x2="1302.5" y2="415.4" stroke="#000" stroke-width="1.5"/>
<text x="1293" y="422.2" font-size="22" fill="#000" text-anchor="end">0.5</text>
<line x1="1298" y1="487.25" x2="1302.5" y2="487.25" stroke="#000" stroke-width="1.5"/>
<text x="1293" y="494.05" font-size="22" fill="#000" text-anchor="end">0.0</text>
<line x1="1315.4" y1="494" x2="1315.4" y2="499.5" stroke="#000" stroke-width="1.5"/>
<text x="1315.4" y="521" font-size="22" fill="#000" text-anchor="middle">0</text>
<line x1="1390.6" y1="494" x2="1390.6" y2="499.5" stroke="#000" stroke-width="1.5"/>
<text x="1390.6" y="521" font-size="22" fill="#000" text-anchor="middle">150</text>
<line x1="1466" y1="494" x2="1466" y2="499.5" stroke="#000" stroke-width="1.5"/>
<text x="1466" y="521" font-size="22" fill="#000" text-anchor="middle">300</text>
<text x="1383.5" y="540.6" font-size="23" fill="#000" text-anchor="middle">Time (s)</text>
<text transform="translate(1253.5,388) rotate(-90)" font-size="22" fill="#000">&#916;F/F<tspan font-size="14" dy="4">0</tspan></text>
<text x="1343" y="248" font-size="22" fill="#000" text-anchor="start">100 &#181;M DA</text>
<line x1="1343" y1="256.5" x2="1446" y2="256.5" stroke="#000" stroke-width="1.5"/>
<line x1="1381" y1="271.25" x2="1446" y2="271.25" stroke="#000" stroke-width="1.5"/>
<text x="1382.5" y="292.5" font-size="22" fill="#000" text-anchor="start">10 &#181;M Halo</text>
<path d="M1315.4 482.91 L1317.02 484.59 L1318.64 484.72 L1320.27 486.17 L1321.89 486.93 L1323.51 485.83 L1325.13 486.36 L1326.76 489.69 L1328.38 488.54 L1330 489.15 L1331.57 491.01 L1333.14 488.76 L1334.71 489.36 L1336.29 487.64 L1337.86 487.59 L1339.43 485.45 L1341 486.43 L1342.56 486.96 L1344.11 485.63 L1345.67 486.11 L1347.22 485.66 L1348.78 483.49 L1350.33 485.49 L1351.89 484.74 L1353.44 483.59 L1355 482.5 L1356.57 485.67 L1358.14 484.91 L1359.71 486.2 L1361.29 487.21 L1362.86 487.19 L1364.43 488.35 L1366 487.16 L1367.67 489.5 L1369.33 489.39 L1371 491.99 L1372.5 491.81 L1374 489.31 L1375.5 489.44 L1377 489.69 L1378.5 492.09 L1380 490.4 L1381.67 490.24 L1383.33 488.43 L1385 488.32 L1386.67 487.17 L1388.33 486.29 L1390 486.27 L1391.88 483.27 L1393.75 481.29 L1396 484.58 L1398 483.37 L1400 481.14 L1401.67 481.57 L1403.33 480.55 L1405 478.92 L1406.67 481.15 L1408.33 481.49 L1410 481.3 L1411.5 481.02 L1413 482.28 L1414.5 481.48 L1416 484.26 L1417.5 484.24 L1419.12 481.69 L1420.75 479.35 L1422.38 480.26 L1424 479.07 L1425.5 476.56 L1427 479.21 L1428.5 478.34 L1430 477.88 L1431.5 478.59 L1433 480.36 L1434.5 480.94 L1436 478.54 L1437.67 480.37 L1439.33 478.54 L1441 480.7 L1442.67 479.46 L1444.33 481.22 L1446 480" fill="none" stroke="#808080" stroke-width="2.2" stroke-linejoin="round"/>
<path d="M1315.4 486.37 L1317.02 487.17 L1318.64 487.77 L1320.27 488.66 L1321.89 488.5 L1323.51 489.49 L1325.13 487.25 L1326.76 489.01 L1328.38 490.89 L1330 490.45 L1331.51 490.92 L1333.03 488.27 L1334.54 489.05 L1336.06 488.1 L1337.57 488.7 L1339.09 488.51 L1340.6 486.54 L1341.5 356.15 L1343.12 356.59 L1344.75 358.75 L1346.38 358.55 L1348 356.98 L1349.6 358.49 L1351.2 356.12 L1352.8 357.15 L1354.4 355.28 L1356 354.51 L1357.6 357.51 L1359.2 355.93 L1360.8 356.35 L1362.4 359.05 L1364 359.12 L1365.6 357.57 L1367.2 359.78 L1368.8 358.72 L1370.4 359.33 L1372 358.11 L1373.5 360.49 L1375 359.91 L1376.5 360.9 L1378 360.85 L1379.5 359.23 L1381 359.58 L1382.67 368.16 L1384.33 377.27 L1386 386.2 L1387.67 390.74 L1389.33 395.48 L1391 397.51 L1392.62 402.28 L1394.25 404.01 L1395.88 406.68 L1397.5 410.96 L1400 410.94 L1401.5 412.45 L1403 414.94 L1404.5 417.61 L1406 417.67 L1407.5 422.43 L1409.12 422.82 L1410.75 428.25 L1412.38 431.78 L1414 432.55 L1415.75 445.36 L1417.5 454.6 L1419.05 453.99 L1420.6 451.03 L1422.3 456.14 L1424 461.54 L1425.5 465.12 L1427 464.09 L1428.5 467.02 L1430 468.79 L1431.5 470.53 L1433 470.43 L1434.5 472.16 L1436 474.37 L1437.5 476.83 L1439.17 476.16 L1440.83 479.41 L1442.5 480.89 L1444.25 484.08 L1446 486" fill="none" stroke="#7f00ff" stroke-width="2.2" stroke-linejoin="round"/>
<path d="M1315.4 485.47 L1317 485.29 L1318.6 487.12 L1320.2 485.72 L1321.8 487.44 L1323.4 487.26 L1325 486.67 L1326.6 488.62 L1328.2 487.81 L1329.8 489.6 L1331.4 489.11 L1333 489.77 L1334.52 490.17 L1336.04 490.78 L1337.56 488.07 L1339.08 487.77 L1340.6 488.38 L1341.5 401.34 L1343 277.73 L1344.67 277.69 L1346.33 279.93 L1348 277.64 L1350 283.08 L1352 284.37 L1354 282.93 L1356 281.85 L1358 283.93 L1360 286.95 L1361.67 286.04 L1363.33 288.24 L1365 289.42 L1366.5 287.62 L1368 287.14 L1370 288.19 L1372 290.68 L1374 290.12 L1376 290.54 L1377.67 291.45 L1379.33 292.78 L1381 295.26 L1382 307.36 L1383 344.4 L1385 395.88 L1386 410.6 L1387.5 435.23 L1389.25 440.72 L1391 445.08 L1392.67 449.46 L1394.33 452.36 L1396 454.36 L1397.67 456.86 L1399.33 454.69 L1401 456 L1402.67 457.44 L1404.33 456.04 L1406 457.47 L1407.67 459.45 L1409.33 464.67 L1411 468.29 L1412.5 466.22 L1414 469.13 L1415.5 469.44 L1417 472.59 L1418.5 474.28 L1420 476.24 L1421.5 474.37 L1423 474.02 L1424.5 476.67 L1426 477.59 L1427.5 480.49 L1429.2 478.8 L1430.9 480.84 L1432.6 480.8 L1434.3 481.96 L1436 481.57 L1437.62 479.18 L1439.25 478.71 L1440.88 478.78 L1442.5 476.07 L1444.25 476.14 L1446 475" fill="none" stroke="#e8121c" stroke-width="2.2" stroke-linejoin="round"/>
<line x1="1535.5" y1="238.75" x2="1535.5" y2="511" stroke="#000" stroke-width="1.5"/>
<line x1="1535.5" y1="491.25" x2="1645" y2="491.25" stroke="#000" stroke-width="1.5"/>
<line x1="1530" y1="289" x2="1535.5" y2="289" stroke="#000" stroke-width="1.5"/>
<text x="1526" y="296.5" font-size="21" fill="#000" text-anchor="end">4</text>
<line x1="1530" y1="390" x2="1535.5" y2="390" stroke="#000" stroke-width="1.5"/>
<text x="1526" y="397.5" font-size="21" fill="#000" text-anchor="end">2</text>
<line x1="1530" y1="491.25" x2="1535.5" y2="491.25" stroke="#000" stroke-width="1.5"/>
<text x="1526" y="498.75" font-size="21" fill="#000" text-anchor="end">0</text>
<rect x="1544.5" y="413" width="18" height="78.25" fill="#f00000" stroke="#000" stroke-width="1.2"/>
<rect x="1581" y="439" width="18.5" height="52.25" fill="#8000ff" stroke="#000" stroke-width="1.2"/>
<line x1="1617" y1="491.25" x2="1635" y2="491.25" stroke="#000" stroke-width="2"/>
<circle cx="1553.75" cy="260.75" r="3.6" fill="#fff" stroke="#8a8a8a" stroke-width="2"/>
<circle cx="1553.75" cy="279.5" r="3.6" fill="#fff" stroke="#8a8a8a" stroke-width="2"/>
<circle cx="1553.75" cy="323" r="3.6" fill="#fff" stroke="#8a8a8a" stroke-width="2"/>
<circle cx="1553.75" cy="363.75" r="3.6" fill="#fff" stroke="#8a8a8a" stroke-width="2"/>
<circle cx="1553.75" cy="378.75" r="3.6" fill="#fff" stroke="#8a8a8a" stroke-width="2"/>
<circle cx="1553.75" cy="386" r="3.6" fill="#fff" stroke="#8a8a8a" stroke-width="2"/>
<circle cx="1553.75" cy="393.75" r="3.6" fill="#fff" stroke="#8a8a8a" stroke-width="2"/>
<circle cx="1553.75" cy="401" r="3.6" fill="#fff" stroke="#8a8a8a" stroke-width="2"/>
<circle cx="1553.75" cy="410" r="3.6" fill="#fff" stroke="#8a8a8a" stroke-width="2"/>
<circle cx="1553.75" cy="417.5" r="3.6" fill="#fff" stroke="#8a8a8a" stroke-width="2"/>
<circle cx="1553.75" cy="425" r="3.6" fill="#fff" stroke="#8a8a8a" stroke-width="2"/>
<circle cx="1553.75" cy="433.75" r="3.6" fill="#fff" stroke="#8a8a8a" stroke-width="2"/>
<circle cx="1553.75" cy="442.5" r="3.6" fill="#fff" stroke="#8a8a8a" stroke-width="2"/>
<circle cx="1553.75" cy="451" r="3.6" fill="#fff" stroke="#8a8a8a" stroke-width="2"/>
<circle cx="1553.75" cy="460" r="3.6" fill="#fff" stroke="#8a8a8a" stroke-width="2"/>
<circle cx="1590" cy="393" r="3.6" fill="#fff" stroke="#8a8a8a" stroke-width="2"/>
<circle cx="1590" cy="406" r="3.6" fill="#fff" stroke="#8a8a8a" stroke-width="2"/>
<circle cx="1590" cy="415" r="3.6" fill="#fff" stroke="#8a8a8a" stroke-width="2"/>
<circle cx="1590" cy="425" r="3.6" fill="#fff" stroke="#8a8a8a" stroke-width="2"/>
<circle cx="1590" cy="434" r="3.6" fill="#fff" stroke="#8a8a8a" stroke-width="2"/>
<circle cx="1590" cy="440" r="3.6" fill="#fff" stroke="#8a8a8a" stroke-width="2"/>
<circle cx="1590" cy="447.5" r="3.6" fill="#fff" stroke="#8a8a8a" stroke-width="2"/>
<circle cx="1590" cy="454" r="3.6" fill="#fff" stroke="#8a8a8a" stroke-width="2"/>
<circle cx="1590" cy="460" r="3.6" fill="#fff" stroke="#8a8a8a" stroke-width="2"/>
<circle cx="1626" cy="489.5" r="3.6" fill="#fff" stroke="#8a8a8a" stroke-width="2"/>
<circle cx="1626" cy="493" r="3.6" fill="#fff" stroke="#8a8a8a" stroke-width="2"/>
<circle cx="1626" cy="496.5" r="3.6" fill="#fff" stroke="#8a8a8a" stroke-width="2"/>
<circle cx="1626" cy="499" r="3.6" fill="#fff" stroke="#8a8a8a" stroke-width="2"/>
<line x1="1553.75" y1="407" x2="1553.75" y2="420" stroke="#000" stroke-width="1.2"/><line x1="1550.75" y1="407" x2="1556.75" y2="407" stroke="#000" stroke-width="1.2"/><line x1="1550.75" y1="420" x2="1556.75" y2="420" stroke="#000" stroke-width="1.2"/>
<line x1="1590" y1="435.5" x2="1590" y2="442.5" stroke="#000" stroke-width="1.2"/><line x1="1587" y1="435.5" x2="1593" y2="435.5" stroke="#000" stroke-width="1.2"/><line x1="1587" y1="442.5" x2="1593" y2="442.5" stroke="#000" stroke-width="1.2"/>
<line x1="1618" y1="491.25" x2="1634" y2="491.25" stroke="#000" stroke-width="2"/>
<path d="M1554 246 L1554 239.25 L1629 239.25 L1629 246" fill="none" stroke="#000" stroke-width="1.3" stroke-linejoin="round"/>
<text x="1589.2" y="239.2" font-size="31" text-anchor="middle" stroke="#000" stroke-width="0.78">***</text>
<path d="M1587.5 372 L1587.5 365 L1626 365 L1626 372" fill="none" stroke="#000" stroke-width="1.3" stroke-linejoin="round"/>
<text x="1606" y="365" font-size="31" text-anchor="middle" stroke="#000" stroke-width="0.78">***</text>
<text x="1551.5" y="521" font-size="21" fill="#000" text-anchor="middle">1m</text>
<text x="1590" y="521" font-size="21" fill="#000" text-anchor="middle">1h</text>
<text x="1626" y="521" font-size="21" fill="#000" text-anchor="middle">mut</text>
<line x1="1546" y1="529.5" x2="1640" y2="529.5" stroke="#000" stroke-width="1.3"/>
<text x="1595" y="548.75" font-size="21" fill="#000" text-anchor="middle">rDA</text>
<text transform="translate(1511,372.5) rotate(-90)" font-size="22" fill="#000">&#916;F/F<tspan font-size="14" dy="4">0</tspan></text>
<line x1="1721.5" y1="240" x2="1721.5" y2="487.5" stroke="#000" stroke-width="1.5"/>
<line x1="1721.5" y1="486.8" x2="1889" y2="486.8" stroke="#000" stroke-width="1.5"/>
<line x1="1717.2" y1="260.4" x2="1721.5" y2="260.4" stroke="#000" stroke-width="1.5"/>
<text x="1713" y="266.9" font-size="23" fill="#000" text-anchor="end">1.0</text>
<line x1="1717.2" y1="363.2" x2="1721.5" y2="363.2" stroke="#000" stroke-width="1.5"/>
<text x="1713" y="369.7" font-size="23" fill="#000" text-anchor="end">0.5</text>
<line x1="1717.2" y1="466" x2="1721.5" y2="466" stroke="#000" stroke-width="1.5"/>
<text x="1713" y="472.5" font-size="23" fill="#000" text-anchor="end">0.0</text>
<line x1="1742" y1="486.8" x2="1742" y2="491.5" stroke="#000" stroke-width="1.5"/>
<text x="1739" y="512.7" font-size="23" fill="#000" text-anchor="middle">-10</text>
<line x1="1784" y1="486.8" x2="1784" y2="491.5" stroke="#000" stroke-width="1.5"/>
<text x="1781" y="512.7" font-size="23" fill="#000" text-anchor="middle">-8</text>
<line x1="1826" y1="486.8" x2="1826" y2="491.5" stroke="#000" stroke-width="1.5"/>
<text x="1823" y="512.7" font-size="23" fill="#000" text-anchor="middle">-6</text>
<line x1="1868" y1="486.8" x2="1868" y2="491.5" stroke="#000" stroke-width="1.5"/>
<text x="1865" y="512.7" font-size="23" fill="#000" text-anchor="middle">-4</text>
<text x="1805" y="542" font-size="23" fill="#000" text-anchor="middle">DA (LogM)</text>
<text transform="translate(1676,425) rotate(-90)" font-size="23">Norm. &#916;F/F<tspan font-size="15" dy="4">0</tspan></text>
<text x="1732" y="281.7" font-size="21" fill="#7f00ff">EC<tspan font-size="14.5" dy="4">50</tspan></text>
<text x="1732" y="306.7" font-size="21" fill="#7f00ff" text-anchor="start">~4 nM</text>
<text x="1813" y="377" font-size="21" fill="#e8121c">EC<tspan font-size="14.5" dy="4">50</tspan></text>
<text x="1813" y="400.6" font-size="21" fill="#e8121c" text-anchor="start">~95 nM</text>
<path d="M1721 464.97 L1889 464.97" fill="none" stroke="#808080" stroke-width="2" stroke-linejoin="round"/>
<line x1="1721" y1="456" x2="1721" y2="476" stroke="#808080" stroke-width="1.2"/><line x1="1718.5" y1="456" x2="1723.5" y2="456" stroke="#808080" stroke-width="1.2"/><line x1="1718.5" y1="476" x2="1723.5" y2="476" stroke="#808080" stroke-width="1.2"/>
<rect x="1717.5" y="462.5" width="7" height="7" fill="#808080"/>
<line x1="1742" y1="462.17" x2="1742" y2="482.17" stroke="#808080" stroke-width="1.2"/><line x1="1739.5" y1="462.17" x2="1744.5" y2="462.17" stroke="#808080" stroke-width="1.2"/><line x1="1739.5" y1="482.17" x2="1744.5" y2="482.17" stroke="#808080" stroke-width="1.2"/>
<rect x="1738.5" y="468.67" width="7" height="7" fill="#808080"/>
<line x1="1763" y1="453.94" x2="1763" y2="473.94" stroke="#808080" stroke-width="1.2"/><line x1="1760.5" y1="453.94" x2="1765.5" y2="453.94" stroke="#808080" stroke-width="1.2"/><line x1="1760.5" y1="473.94" x2="1765.5" y2="473.94" stroke="#808080" stroke-width="1.2"/>
<rect x="1759.5" y="460.44" width="7" height="7" fill="#808080"/>
<line x1="1784" y1="456" x2="1784" y2="476" stroke="#808080" stroke-width="1.2"/><line x1="1781.5" y1="456" x2="1786.5" y2="456" stroke="#808080" stroke-width="1.2"/><line x1="1781.5" y1="476" x2="1786.5" y2="476" stroke="#808080" stroke-width="1.2"/>
<rect x="1780.5" y="462.5" width="7" height="7" fill="#808080"/>
<line x1="1805" y1="456" x2="1805" y2="476" stroke="#808080" stroke-width="1.2"/><line x1="1802.5" y1="456" x2="1807.5" y2="456" stroke="#808080" stroke-width="1.2"/><line x1="1802.5" y1="476" x2="1807.5" y2="476" stroke="#808080" stroke-width="1.2"/>
<rect x="1801.5" y="462.5" width="7" height="7" fill="#808080"/>
<line x1="1826" y1="456" x2="1826" y2="476" stroke="#808080" stroke-width="1.2"/><line x1="1823.5" y1="456" x2="1828.5" y2="456" stroke="#808080" stroke-width="1.2"/><line x1="1823.5" y1="476" x2="1828.5" y2="476" stroke="#808080" stroke-width="1.2"/>
<rect x="1822.5" y="462.5" width="7" height="7" fill="#808080"/>
<line x1="1847" y1="458.06" x2="1847" y2="478.06" stroke="#808080" stroke-width="1.2"/><line x1="1844.5" y1="458.06" x2="1849.5" y2="458.06" stroke="#808080" stroke-width="1.2"/><line x1="1844.5" y1="478.06" x2="1849.5" y2="478.06" stroke="#808080" stroke-width="1.2"/>
<rect x="1843.5" y="464.56" width="7" height="7" fill="#808080"/>
<line x1="1868" y1="453.94" x2="1868" y2="473.94" stroke="#808080" stroke-width="1.2"/><line x1="1865.5" y1="453.94" x2="1870.5" y2="453.94" stroke="#808080" stroke-width="1.2"/><line x1="1865.5" y1="473.94" x2="1870.5" y2="473.94" stroke="#808080" stroke-width="1.2"/>
<rect x="1864.5" y="460.44" width="7" height="7" fill="#808080"/>
<line x1="1889" y1="460.11" x2="1889" y2="480.11" stroke="#808080" stroke-width="1.2"/><line x1="1886.5" y1="460.11" x2="1891.5" y2="460.11" stroke="#808080" stroke-width="1.2"/><line x1="1886.5" y1="480.11" x2="1891.5" y2="480.11" stroke="#808080" stroke-width="1.2"/>
<rect x="1885.5" y="466.61" width="7" height="7" fill="#808080"/>
<path d="M1720 472.5 C1721.81 471.53 1727.22 469.03 1730.83 466.67 C1734.44 464.31 1738.06 463.06 1741.67 458.33 C1745.28 453.61 1748.94 445.83 1752.5 438.33 C1756.06 430.83 1759.53 422.78 1763 413.33 C1766.47 403.89 1769.81 392.78 1773.33 381.67 C1776.86 370.56 1780.56 356.94 1784.17 346.67 C1787.78 336.39 1791.53 327.78 1795 320 C1798.47 312.22 1801.53 306.06 1805 300 C1808.47 293.94 1812.36 288.17 1815.83 283.67 C1819.31 279.17 1822.36 276.06 1825.83 273 C1829.31 269.94 1833.19 267.17 1836.67 265.33 C1840.14 263.5 1842.78 262.78 1846.67 262 C1850.56 261.22 1852.97 260.94 1860 260.67 C1867.03 260.39 1884.03 260.39 1888.83 260.33" fill="none" stroke="#7f00ff" stroke-width="2"/>
<line x1="1721" y1="464.11" x2="1721" y2="476.11" stroke="#7f00ff" stroke-width="1.2"/><line x1="1718.5" y1="464.11" x2="1723.5" y2="464.11" stroke="#7f00ff" stroke-width="1.2"/><line x1="1718.5" y1="476.11" x2="1723.5" y2="476.11" stroke="#7f00ff" stroke-width="1.2"/>
<rect x="1717.5" y="466.61" width="7" height="7" fill="#7f00ff"/>
<line x1="1742" y1="460" x2="1742" y2="472" stroke="#7f00ff" stroke-width="1.2"/><line x1="1739.5" y1="460" x2="1744.5" y2="460" stroke="#7f00ff" stroke-width="1.2"/><line x1="1739.5" y1="472" x2="1744.5" y2="472" stroke="#7f00ff" stroke-width="1.2"/>
<rect x="1738.5" y="462.5" width="7" height="7" fill="#7f00ff"/>
<line x1="1763" y1="406.08" x2="1763" y2="414.08" stroke="#7f00ff" stroke-width="1.2"/><line x1="1760.5" y1="406.08" x2="1765.5" y2="406.08" stroke="#7f00ff" stroke-width="1.2"/><line x1="1760.5" y1="414.08" x2="1765.5" y2="414.08" stroke="#7f00ff" stroke-width="1.2"/>
<rect x="1759.5" y="406.58" width="7" height="7" fill="#7f00ff"/>
<line x1="1784" y1="339.05" x2="1784" y2="347.05" stroke="#7f00ff" stroke-width="1.2"/><line x1="1781.5" y1="339.05" x2="1786.5" y2="339.05" stroke="#7f00ff" stroke-width="1.2"/><line x1="1781.5" y1="347.05" x2="1786.5" y2="347.05" stroke="#7f00ff" stroke-width="1.2"/>
<rect x="1780.5" y="339.55" width="7" height="7" fill="#7f00ff"/>
<line x1="1794.5" y1="316.2" x2="1794.5" y2="322.2" stroke="#7f00ff" stroke-width="1.2"/><line x1="1792" y1="316.2" x2="1797" y2="316.2" stroke="#7f00ff" stroke-width="1.2"/><line x1="1792" y1="322.2" x2="1797" y2="322.2" stroke="#7f00ff" stroke-width="1.2"/>
<rect x="1791" y="315.7" width="7" height="7" fill="#7f00ff"/>
<line x1="1805" y1="288.38" x2="1805" y2="304.38" stroke="#7f00ff" stroke-width="1.2"/><line x1="1802.5" y1="288.38" x2="1807.5" y2="288.38" stroke="#7f00ff" stroke-width="1.2"/><line x1="1802.5" y1="304.38" x2="1807.5" y2="304.38" stroke="#7f00ff" stroke-width="1.2"/>
<rect x="1801.5" y="292.88" width="7" height="7" fill="#7f00ff"/>
<line x1="1815.5" y1="255.47" x2="1815.5" y2="285.47" stroke="#7f00ff" stroke-width="1.2"/><line x1="1813" y1="255.47" x2="1818" y2="255.47" stroke="#7f00ff" stroke-width="1.2"/><line x1="1813" y1="285.47" x2="1818" y2="285.47" stroke="#7f00ff" stroke-width="1.2"/>
<rect x="1812" y="266.97" width="7" height="7" fill="#7f00ff"/>
<line x1="1826" y1="300.99" x2="1826" y2="306.99" stroke="#7f00ff" stroke-width="1.2"/><line x1="1823.5" y1="300.99" x2="1828.5" y2="300.99" stroke="#7f00ff" stroke-width="1.2"/><line x1="1823.5" y1="306.99" x2="1828.5" y2="306.99" stroke="#7f00ff" stroke-width="1.2"/>
<rect x="1822.5" y="300.49" width="7" height="7" fill="#7f00ff"/>
<line x1="1847" y1="251.63" x2="1847" y2="271.63" stroke="#7f00ff" stroke-width="1.2"/><line x1="1844.5" y1="251.63" x2="1849.5" y2="251.63" stroke="#7f00ff" stroke-width="1.2"/><line x1="1844.5" y1="271.63" x2="1849.5" y2="271.63" stroke="#7f00ff" stroke-width="1.2"/>
<rect x="1843.5" y="258.13" width="7" height="7" fill="#7f00ff"/>
<line x1="1868" y1="248.29" x2="1868" y2="264.29" stroke="#7f00ff" stroke-width="1.2"/><line x1="1865.5" y1="248.29" x2="1870.5" y2="248.29" stroke="#7f00ff" stroke-width="1.2"/><line x1="1865.5" y1="264.29" x2="1870.5" y2="264.29" stroke="#7f00ff" stroke-width="1.2"/>
<rect x="1864.5" y="252.79" width="7" height="7" fill="#7f00ff"/>
<line x1="1889" y1="239.23" x2="1889" y2="269.23" stroke="#7f00ff" stroke-width="1.2"/><line x1="1886.5" y1="239.23" x2="1891.5" y2="239.23" stroke="#7f00ff" stroke-width="1.2"/><line x1="1886.5" y1="269.23" x2="1891.5" y2="269.23" stroke="#7f00ff" stroke-width="1.2"/>
<rect x="1885.5" y="250.73" width="7" height="7" fill="#7f00ff"/>
<path d="M1720 467 C1723.61 466.89 1734.5 466.81 1741.67 466.33 C1748.83 465.86 1757.72 465.78 1763 464.17 C1768.28 462.56 1769.81 460.69 1773.33 456.67 C1776.86 452.64 1780.56 447.78 1784.17 440 C1787.78 432.22 1791.53 423.33 1795 410 C1798.47 396.67 1801.53 375.28 1805 360 C1808.47 344.72 1812.36 331.39 1815.83 318.33 C1819.31 305.28 1822.36 290.06 1825.83 281.67 C1829.31 273.28 1833.19 271.06 1836.67 268 C1840.14 264.94 1842.78 264.28 1846.67 263.33 C1850.56 262.39 1852.97 262.56 1860 262.33 C1867.03 262.11 1884.03 262.06 1888.83 262" fill="none" stroke="#e8121c" stroke-width="2"/>
<line x1="1721" y1="458" x2="1721" y2="474" stroke="#e8121c" stroke-width="1.2"/><line x1="1718.5" y1="458" x2="1723.5" y2="458" stroke="#e8121c" stroke-width="1.2"/><line x1="1718.5" y1="474" x2="1723.5" y2="474" stroke="#e8121c" stroke-width="1.2"/>
<rect x="1717.5" y="462.5" width="7" height="7" fill="#e8121c"/>
<line x1="1763" y1="458" x2="1763" y2="474" stroke="#e8121c" stroke-width="1.2"/><line x1="1760.5" y1="458" x2="1765.5" y2="458" stroke="#e8121c" stroke-width="1.2"/><line x1="1760.5" y1="474" x2="1765.5" y2="474" stroke="#e8121c" stroke-width="1.2"/>
<rect x="1759.5" y="462.5" width="7" height="7" fill="#e8121c"/>
<line x1="1784" y1="433.33" x2="1784" y2="449.33" stroke="#e8121c" stroke-width="1.2"/><line x1="1781.5" y1="433.33" x2="1786.5" y2="433.33" stroke="#e8121c" stroke-width="1.2"/><line x1="1781.5" y1="449.33" x2="1786.5" y2="449.33" stroke="#e8121c" stroke-width="1.2"/>
<rect x="1780.5" y="437.83" width="7" height="7" fill="#e8121c"/>
<line x1="1794.5" y1="396.43" x2="1794.5" y2="420.43" stroke="#e8121c" stroke-width="1.2"/><line x1="1792" y1="396.43" x2="1797" y2="396.43" stroke="#e8121c" stroke-width="1.2"/><line x1="1792" y1="420.43" x2="1797" y2="420.43" stroke="#e8121c" stroke-width="1.2"/>
<rect x="1791" y="404.93" width="7" height="7" fill="#e8121c"/>
<line x1="1805" y1="356.09" x2="1805" y2="362.09" stroke="#e8121c" stroke-width="1.2"/><line x1="1802.5" y1="356.09" x2="1807.5" y2="356.09" stroke="#e8121c" stroke-width="1.2"/><line x1="1802.5" y1="362.09" x2="1807.5" y2="362.09" stroke="#e8121c" stroke-width="1.2"/>
<rect x="1801.5" y="355.59" width="7" height="7" fill="#e8121c"/>
<line x1="1815.5" y1="317.02" x2="1815.5" y2="323.02" stroke="#e8121c" stroke-width="1.2"/><line x1="1813" y1="317.02" x2="1818" y2="317.02" stroke="#e8121c" stroke-width="1.2"/><line x1="1813" y1="323.02" x2="1818" y2="323.02" stroke="#e8121c" stroke-width="1.2"/>
<rect x="1812" y="316.52" width="7" height="7" fill="#e8121c"/>
<line x1="1826" y1="271.79" x2="1826" y2="277.79" stroke="#e8121c" stroke-width="1.2"/><line x1="1823.5" y1="271.79" x2="1828.5" y2="271.79" stroke="#e8121c" stroke-width="1.2"/><line x1="1823.5" y1="277.79" x2="1828.5" y2="277.79" stroke="#e8121c" stroke-width="1.2"/>
<rect x="1822.5" y="271.29" width="7" height="7" fill="#e8121c"/>
<line x1="1847" y1="258.74" x2="1847" y2="286.74" stroke="#e8121c" stroke-width="1.2"/><line x1="1844.5" y1="258.74" x2="1849.5" y2="258.74" stroke="#e8121c" stroke-width="1.2"/><line x1="1844.5" y1="286.74" x2="1849.5" y2="286.74" stroke="#e8121c" stroke-width="1.2"/>
<rect x="1843.5" y="269.24" width="7" height="7" fill="#e8121c"/>
<line x1="1868" y1="256.85" x2="1868" y2="296.85" stroke="#e8121c" stroke-width="1.2"/><line x1="1865.5" y1="256.85" x2="1870.5" y2="256.85" stroke="#e8121c" stroke-width="1.2"/><line x1="1865.5" y1="296.85" x2="1870.5" y2="296.85" stroke="#e8121c" stroke-width="1.2"/>
<rect x="1864.5" y="273.35" width="7" height="7" fill="#e8121c"/>
<line x1="1889" y1="226.9" x2="1889" y2="256.9" stroke="#e8121c" stroke-width="1.2"/><line x1="1886.5" y1="226.9" x2="1891.5" y2="226.9" stroke="#e8121c" stroke-width="1.2"/><line x1="1886.5" y1="256.9" x2="1891.5" y2="256.9" stroke="#e8121c" stroke-width="1.2"/>
<rect x="1885.5" y="238.4" width="7" height="7" fill="#e8121c"/>
<line x1="2018.5" y1="244" x2="2018.5" y2="358.6" stroke="#000" stroke-width="1.5"/>
<rect x="2031.4" y="244" width="3.2" height="114.6" fill="#a9a9ee"/>
<rect x="2061.2" y="244" width="3.2" height="114.6" fill="#a9a9ee"/>
<rect x="2091" y="244" width="3.2" height="114.6" fill="#a9a9ee"/>
<rect x="2120.4" y="244" width="3.2" height="114.6" fill="#a9a9ee"/>
<rect x="2150.2" y="244" width="3.2" height="114.6" fill="#a9a9ee"/>
<rect x="2179.9" y="244" width="3.2" height="114.6" fill="#a9a9ee"/>
<line x1="2018.5" y1="329.3" x2="2204" y2="329.3" stroke="#000" stroke-width="1.5"/>
<line x1="2014.5" y1="277.3" x2="2018.5" y2="277.3" stroke="#000" stroke-width="1.5"/>
<text x="2015" y="283.5" font-size="23" fill="#000" text-anchor="end">0.2</text>
<line x1="2014.5" y1="329.3" x2="2018.5" y2="329.3" stroke="#000" stroke-width="1.5"/>
<text x="2015" y="335.5" font-size="23" fill="#000" text-anchor="end">0.0</text>
<text x="2018.5" y="379.4" font-size="23" fill="#000" text-anchor="middle">0</text>
<text x="2102.5" y="379.4" font-size="23" fill="#000" text-anchor="middle">50</text>
<text x="2186.4" y="379.4" font-size="23" fill="#000" text-anchor="middle">100</text>
<text x="2111" y="402" font-size="23" fill="#000" text-anchor="middle">Time (s)</text>
<text transform="translate(1969.5,326) rotate(-90)" font-size="22" fill="#000">&#916;F/F<tspan font-size="14" dy="4">0</tspan></text>
<path d="M2018.5 322.92 L2019.2 323.5 L2019.9 324.48 L2020.6 324.15 L2021.3 324.61 L2022 325.14 L2022.7 324.9 L2023.4 325.82 L2024.1 326.41 L2024.8 327.07 L2025.5 326.35 L2026.2 327.09 L2026.9 327.15 L2027.6 328.7 L2028.3 328.91 L2029 328.27 L2029.7 330.17 L2030.4 330.54 L2031.1 330.45 L2031.8 330.78 L2032.5 330.45 L2033.2 330.22 L2033.9 331.05 L2034.6 310.13 L2035.3 271.55 L2036 275.01 L2036.7 277.8 L2037.4 281.46 L2038.1 284.23 L2038.8 287.52 L2039.5 289.51 L2040.2 292.08 L2040.9 294.09 L2041.6 296.47 L2042.3 298.15 L2043 299.75 L2043.7 302.7 L2044.4 304.39 L2045.1 305.74 L2045.8 307.04 L2046.5 307.85 L2047.2 309.06 L2047.9 310.44 L2048.6 311.3 L2049.3 313.56 L2050 314.05 L2050.7 315.79 L2051.4 316.02 L2052.1 317.85 L2052.8 318.54 L2053.5 318 L2054.2 319.11 L2054.9 320.96 L2055.6 320.95 L2056.3 322.42 L2057 322.1 L2057.7 322.17 L2058.4 323.61 L2059.1 324.37 L2059.8 324.05 L2060.5 324.23 L2061.2 325.06 L2061.9 326.49 L2062.6 326.56 L2063.3 325.91 L2064 326.46 L2064.7 294.45 L2065.4 274.18 L2066.1 278.53 L2066.8 280.53 L2067.5 283.97 L2068.2 286.47 L2068.9 288.58 L2069.6 291.84 L2070.3 293.14 L2071 296.1 L2071.7 297.28 L2072.4 299.68 L2073.1 301.15 L2073.8 302.95 L2074.5 305.69 L2075.2 306.95 L2075.9 307.6 L2076.6 309.89 L2077.3 310.11 L2078 311.62 L2078.7 313.51 L2079.4 314.27 L2080.1 314.43 L2080.8 316.83 L2081.5 316.51 L2082.2 317.46 L2082.9 319.11 L2083.6 319.18 L2084.3 319.86 L2085 320.2 L2085.7 320.89 L2086.4 322.3 L2087.1 322.35 L2087.8 323.48 L2088.5 323.64 L2089.2 324.27 L2089.9 325.55 L2090.6 325.23 L2091.3 325.8 L2092 326.67 L2092.7 325.95 L2093.4 326.26 L2094.1 316.4 L2094.8 276.01 L2095.5 272.37 L2096.2 275.56 L2096.9 279.54 L2097.6 282.79 L2098.3 284.37 L2099 288.2 L2099.7 290.57 L2100.4 292.47 L2101.1 294.4 L2101.8 295.98 L2102.5 297.86 L2103.2 301.21 L2103.9 301.82 L2104.6 304.25 L2105.3 305.11 L2106 307.52 L2106.7 308.57 L2107.4 309.42 L2108.1 310.5 L2108.8 312.57 L2109.5 312.66 L2110.2 313.99 L2110.9 315.53 L2111.6 316.95 L2112.3 317.48 L2113 317.8 L2113.7 319.63 L2114.4 319.25 L2115.1 319.67 L2115.8 320.76 L2116.5 321.69 L2117.2 321.68 L2117.9 322.45 L2118.6 323.3 L2119.3 324.14 L2120 323.93 L2120.7 324.76 L2121.4 326.04 L2122.1 326.6 L2122.8 326.47 L2123.5 316.31 L2124.2 276.47 L2124.9 273.07 L2125.6 276.14 L2126.3 279.16 L2127 283.48 L2127.7 285.88 L2128.4 288.88 L2129.1 289.82 L2129.8 293.11 L2130.5 295.05 L2131.2 297.51 L2131.9 298.81 L2132.6 301.74 L2133.3 302.01 L2134 304.41 L2134.7 306.28 L2135.4 308.02 L2136.1 309.15 L2136.8 310.42 L2137.5 311.81 L2138.2 313.18 L2138.9 313.4 L2139.6 314.99 L2140.3 316.33 L2141 317.22 L2141.7 317.39 L2142.4 318.83 L2143.1 319.74 L2143.8 320.03 L2144.5 320.83 L2145.2 321.11 L2145.9 322.07 L2146.6 322.71 L2147.3 322.44 L2148 323.87 L2148.7 324.95 L2149.4 325.25 L2150.1 325.46 L2150.8 325.35 L2151.5 326.31 L2152.2 326.45 L2152.9 326.59 L2153.6 298.04 L2154.3 268.35 L2155 272.9 L2155.7 275.04 L2156.4 279.07 L2157.1 281.82 L2157.8 284.21 L2158.5 287.59 L2159.2 289.76 L2159.9 292.3 L2160.6 295.02 L2161.3 296.06 L2162 297.66 L2162.7 300 L2163.4 302.39 L2164.1 303.31 L2164.8 304.85 L2165.5 307.53 L2166.2 308.56 L2166.9 309.56 L2167.6 311.55 L2168.3 311.85 L2169 313.52 L2169.7 313.85 L2170.4 315.24 L2171.1 316.8 L2171.8 317.88 L2172.5 318.69 L2173.2 318.71 L2173.9 319.79 L2174.6 320.09 L2175.3 320.49 L2176 321.72 L2176.7 322.88 L2177.4 323.48 L2178.1 323.81 L2178.8 324.71 L2179.5 324.12 L2180.2 324.41 L2180.9 325.3 L2181.6 325.44 L2182.3 325.73 L2183 315.86 L2183.7 276.53 L2184.4 273.64 L2185.1 276.58 L2185.8 280.48 L2186.5 283.6 L2187.2 285.48 L2187.9 287.46 L2188.6 289.84 L2189.3 293.49 L2190 294.35 L2190.7 297.48 L2191.4 299.21 L2192.1 300.64 L2192.8 303.16 L2193.5 303.57 L2194.2 305.32" fill="none" stroke="#e2ad3e" stroke-width="1.3" stroke-linejoin="round"/>
<path d="M2018.5 333.49 L2019.4 336.19 L2020.3 330.4 L2021.2 330.8 L2022.1 335.36 L2023 340.24 L2023.9 336.52 L2024.8 331.97 L2025.7 333.54 L2026.6 336.11 L2027.5 339.52 L2028.4 336.72 L2029.3 335.8 L2030.2 336.38 L2031.1 337.77 L2032 335.02 L2032.9 337.47 L2033.8 355.99 L2034.7 356.69 L2035.6 348.45 L2036.5 349.28 L2037.4 341.07 L2038.3 345.37 L2039.2 341.82 L2040.1 338.47 L2041 339.1 L2041.9 341.15 L2042.8 336.56 L2043.7 340.13 L2044.6 341.09 L2045.5 340.86 L2046.4 340.36 L2047.3 330.84 L2048.2 335.48 L2049.1 331.88 L2050 336.62 L2050.9 333.54 L2051.8 333.68 L2052.7 334.11 L2053.6 330.5 L2054.5 332.38 L2055.4 329.54 L2056.3 338.07 L2057.2 329.84 L2058.1 331.08 L2059 325.24 L2059.9 325.91 L2060.8 327.69 L2061.7 332.6 L2062.6 332.3 L2063.5 356.5 L2064.4 349.91 L2065.3 354.75 L2066.2 343.28 L2067.1 341.82 L2068 344.38 L2068.9 338.34 L2069.8 341.13 L2070.7 342.34 L2071.6 338.21 L2072.5 338.94 L2073.4 337.11 L2074.3 334.27 L2075.2 325.87 L2076.1 331.51 L2077 334.87 L2077.9 329.3 L2078.8 332.3 L2079.7 334.35 L2080.6 337.55 L2081.5 328.71 L2082.4 331.03 L2083.3 333.11 L2084.2 333.77 L2085.1 327.48 L2086 337.42 L2086.9 328.73 L2087.8 334.48 L2088.7 330.18 L2089.6 331.86 L2090.5 335.61 L2091.4 332.36 L2092.3 330.32 L2093.2 352.91 L2094.1 350.23 L2095 344.74 L2095.9 353.12 L2096.8 339.8 L2097.7 334.88 L2098.6 346.8 L2099.5 344.45 L2100.4 338.26 L2101.3 341.16 L2102.2 335.14 L2103.1 335.23 L2104 338.03 L2104.9 337.14 L2105.8 333.95 L2106.7 340.07 L2107.6 336.84 L2108.5 334.55 L2109.4 329.99 L2110.3 333.82 L2111.2 332.04 L2112.1 332.49 L2113 334.96 L2113.9 330.31 L2114.8 332.69 L2115.7 334.11 L2116.6 332.45 L2117.5 338.35 L2118.4 325.3 L2119.3 330.39 L2120.2 326.61 L2121.1 329.92 L2122 367.08 L2122.9 349.51 L2123.8 350.26 L2124.7 350.41 L2125.6 346.3 L2126.5 347 L2127.4 337.57 L2128.3 344.27 L2129.2 337 L2130.1 335.2 L2131 340.02 L2131.9 339 L2132.8 334.51 L2133.7 333.63 L2134.6 335.06 L2135.5 335.18 L2136.4 334.22 L2137.3 331.12 L2138.2 326.58 L2139.1 337.75 L2140 333.79 L2140.9 328.96 L2141.8 327.6 L2142.7 330.09 L2143.6 330.68 L2144.5 324.96 L2145.4 335.91 L2146.3 332.55 L2147.2 329.93 L2148.1 331.82 L2149 331.21 L2149.9 333.62 L2150.8 330.51 L2151.7 333.82 L2152.6 360.03 L2153.5 350.51 L2154.4 347.15 L2155.3 343.4 L2156.2 343.51 L2157.1 340.32 L2158 341.3 L2158.9 341.09 L2159.8 340.84 L2160.7 334.6 L2161.6 340.97 L2162.5 335.87 L2163.4 335.9 L2164.3 334.09 L2165.2 328.86 L2166.1 335.58 L2167 328.71 L2167.9 337.48 L2168.8 333.72 L2169.7 338.21 L2170.6 334.98 L2171.5 334.83 L2172.4 336.75 L2173.3 331.87 L2174.2 336.63 L2175.1 331.05 L2176 332.02 L2176.9 328.8 L2177.8 332.44 L2178.7 332.61 L2179.6 328.65 L2180.5 325.95 L2181.4 329.69 L2182.3 356.44 L2183.2 350.98 L2184.1 345.46 L2185 343.89 L2185.9 343.39 L2186.8 334.25 L2187.7 339.38 L2188.6 344.67 L2189.5 335.02 L2190.4 337.56 L2191.3 342.88 L2192.2 339.09 L2193.1 339.17 L2194 335.24 L2194.9 330.98" fill="none" stroke="#f01010" stroke-width="1.1" stroke-linejoin="round"/>
<path d="M2018.5 318.77 L2019.4 314.91 L2020.3 320.94 L2021.2 322.12 L2022.1 322.89 L2023 325.4 L2023.9 327.1 L2024.8 329.38 L2025.7 331.62 L2026.6 334.01 L2027.5 333.08 L2028.4 335.77 L2029.3 334.95 L2030.2 334.73 L2031.1 334.49 L2032 333.24 L2032.9 332.25 L2033.8 357.95 L2034.7 353.43 L2035.6 351.02 L2036.5 348.23 L2037.4 342.46 L2038.3 341.78 L2039.2 339.33 L2040.1 342.64 L2041 339.1 L2041.9 338.66 L2042.8 335.61 L2043.7 334.08 L2044.6 334.94 L2045.5 335.42 L2046.4 336.12 L2047.3 331.34 L2048.2 334.92 L2049.1 331.93 L2050 332.28 L2050.9 332.35 L2051.8 331.8 L2052.7 333.41 L2053.6 334.01 L2054.5 332.55 L2055.4 330.36 L2056.3 332.18 L2057.2 331.82 L2058.1 332.63 L2059 331.1 L2059.9 326.78 L2060.8 328.41 L2061.7 328.96 L2062.6 331.62 L2063.5 358.33 L2064.4 356.16 L2065.3 351.26 L2066.2 345.17 L2067.1 345.51 L2068 344.69 L2068.9 342.78 L2069.8 337.35 L2070.7 340.36 L2071.6 337.2 L2072.5 333.07 L2073.4 335.68 L2074.3 331.99 L2075.2 332.92 L2076.1 338.29 L2077 340.03 L2077.9 336.55 L2078.8 334.78 L2079.7 337.58 L2080.6 333.84 L2081.5 330.64 L2082.4 327.12 L2083.3 334.11 L2084.2 326.96 L2085.1 325.36 L2086 329.88 L2086.9 331.18 L2087.8 328.91 L2088.7 332.81 L2089.6 330.12 L2090.5 330.54 L2091.4 330.83 L2092.3 328.37 L2093.2 359.65 L2094.1 359.72 L2095 348.95 L2095.9 348.41 L2096.8 346.81 L2097.7 342.52 L2098.6 341.97 L2099.5 336.98 L2100.4 338.62 L2101.3 338.69 L2102.2 340.19 L2103.1 339.08 L2104 335.1 L2104.9 333.35 L2105.8 339.25 L2106.7 336.72 L2107.6 330.15 L2108.5 333.17 L2109.4 331.56 L2110.3 331.85 L2111.2 329.08 L2112.1 331.6 L2113 331.08 L2113.9 331.4 L2114.8 333.92 L2115.7 331.86 L2116.6 328.44 L2117.5 327.05 L2118.4 329.46 L2119.3 332.9 L2120.2 332.22 L2121.1 328.64 L2122 365.45 L2122.9 358.56 L2123.8 352.05 L2124.7 350.94 L2125.6 347.08 L2126.5 342.56 L2127.4 342.22 L2128.3 342 L2129.2 343.27 L2130.1 337.01 L2131 338.88 L2131.9 337.59 L2132.8 336.73 L2133.7 333.52 L2134.6 338.41 L2135.5 337.99 L2136.4 338.18 L2137.3 335.27 L2138.2 337.1 L2139.1 334.65 L2140 335.31 L2140.9 332.04 L2141.8 332.96 L2142.7 331.45 L2143.6 329.55 L2144.5 330.64 L2145.4 328.86 L2146.3 328.61 L2147.2 329.96 L2148.1 329.25 L2149 334.91 L2149.9 334.04 L2150.8 332.29 L2151.7 331.44 L2152.6 356.28 L2153.5 354.46 L2154.4 347.19 L2155.3 346.18 L2156.2 344.21 L2157.1 342.59 L2158 343.74 L2158.9 338.79 L2159.8 344.76 L2160.7 337.35 L2161.6 339.54 L2162.5 333.45 L2163.4 338.32 L2164.3 333.01 L2165.2 335.65 L2166.1 334.73 L2167 336.13 L2167.9 335.26 L2168.8 334.39 L2169.7 332.84 L2170.6 337.17 L2171.5 331.5 L2172.4 332.25 L2173.3 330.88 L2174.2 331.95 L2175.1 329.25 L2176 330.21 L2176.9 331.99 L2177.8 329.35 L2178.7 331.42 L2179.6 328.87 L2180.5 333.09 L2181.4 329.43 L2182.3 362.09 L2183.2 354.96 L2184.1 350.1 L2185 349.68 L2185.9 347.87 L2186.8 346.79 L2187.7 344.93 L2188.6 342.52 L2189.5 336.85 L2190.4 340.56 L2191.3 337.47 L2192.2 337.85 L2193.1 339.12 L2194 334.15 L2194.9 338.17" fill="none" stroke="#8000e0" stroke-width="1.1" stroke-linejoin="round"/>
<rect x="2009.8" y="181.8" width="26.1" height="6.2" fill="#e2ad3e"/>
<text x="2036" y="193.9" font-size="27" fill="#e2ad3e" text-anchor="start">jRGECO1a</text>
<text x="2036.5" y="233" font-size="26.5" fill="#0000cc" text-anchor="start">Light 488 nm</text>
<line x1="2021.8" y1="437.6" x2="2021.8" y2="574.8" stroke="#000" stroke-width="1.5"/>
<line x1="2021.8" y1="533.5" x2="2196" y2="533.5" stroke="#000" stroke-width="1.5"/>
<line x1="2017" y1="447.2" x2="2021.8" y2="447.2" stroke="#000" stroke-width="1.5"/>
<text x="2016.5" y="453.2" font-size="23" fill="#000" text-anchor="end">0.4</text>
<line x1="2017" y1="490.4" x2="2021.8" y2="490.4" stroke="#000" stroke-width="1.5"/>
<text x="2016.5" y="496.4" font-size="23" fill="#000" text-anchor="end">0.2</text>
<line x1="2017" y1="533.5" x2="2021.8" y2="533.5" stroke="#000" stroke-width="1.5"/>
<text x="2016.5" y="539.5" font-size="23" fill="#000" text-anchor="end">0.0</text>
<rect x="2036.6" y="479.4" width="28.7" height="54.1" fill="#e5b035" stroke="#000" stroke-width="1.2"/>
<rect x="2094.4" y="533.5" width="29" height="20.9" fill="#f80000" stroke="#000" stroke-width="1.2"/>
<rect x="2152.4" y="533.5" width="29.1" height="22.2" fill="#8000ff" stroke="#000" stroke-width="1.2"/>
<circle cx="2050.8" cy="451.5" r="3.8" fill="#fff" stroke="#8a8a8a" stroke-width="2"/>
<circle cx="2050.8" cy="462" r="3.8" fill="#fff" stroke="#8a8a8a" stroke-width="2"/>
<circle cx="2050.8" cy="480.5" r="3.8" fill="#fff" stroke="#8a8a8a" stroke-width="2"/>
<circle cx="2050.8" cy="485.8" r="3.8" fill="#fff" stroke="#8a8a8a" stroke-width="2"/>
<circle cx="2050.8" cy="491" r="3.8" fill="#fff" stroke="#8a8a8a" stroke-width="2"/>
<circle cx="2050.8" cy="497" r="3.8" fill="#fff" stroke="#8a8a8a" stroke-width="2"/>
<circle cx="2108.9" cy="537.9" r="3.8" fill="#fff" stroke="#8a8a8a" stroke-width="2"/>
<circle cx="2108.9" cy="547.8" r="3.8" fill="#fff" stroke="#8a8a8a" stroke-width="2"/>
<circle cx="2108.9" cy="550.4" r="3.8" fill="#fff" stroke="#8a8a8a" stroke-width="2"/>
<circle cx="2108.9" cy="554.4" r="3.8" fill="#fff" stroke="#8a8a8a" stroke-width="2"/>
<circle cx="2108.9" cy="558.3" r="3.8" fill="#fff" stroke="#8a8a8a" stroke-width="2"/>
<circle cx="2108.9" cy="563.6" r="3.8" fill="#fff" stroke="#8a8a8a" stroke-width="2"/>
<circle cx="2167" cy="536.6" r="3.8" fill="#fff" stroke="#8a8a8a" stroke-width="2"/>
<circle cx="2167" cy="546.5" r="3.8" fill="#fff" stroke="#8a8a8a" stroke-width="2"/>
<circle cx="2167" cy="551.7" r="3.8" fill="#fff" stroke="#8a8a8a" stroke-width="2"/>
<circle cx="2167" cy="557" r="3.8" fill="#fff" stroke="#8a8a8a" stroke-width="2"/>
<circle cx="2167" cy="563.6" r="3.8" fill="#fff" stroke="#8a8a8a" stroke-width="2"/>
<circle cx="2167" cy="572.8" r="3.8" fill="#fff" stroke="#8a8a8a" stroke-width="2"/>
<line x1="2050.8" y1="475" x2="2050.8" y2="484" stroke="#000" stroke-width="1"/><line x1="2049.3" y1="475" x2="2052.3" y2="475" stroke="#000" stroke-width="1"/><line x1="2049.3" y1="484" x2="2052.3" y2="484" stroke="#000" stroke-width="1"/>
<line x1="2108.9" y1="551" x2="2108.9" y2="557" stroke="#000" stroke-width="1"/><line x1="2107.4" y1="551" x2="2110.4" y2="551" stroke="#000" stroke-width="1"/><line x1="2107.4" y1="557" x2="2110.4" y2="557" stroke="#000" stroke-width="1"/>
<line x1="2167" y1="551" x2="2167" y2="559" stroke="#000" stroke-width="1"/><line x1="2165.5" y1="551" x2="2168.5" y2="551" stroke="#000" stroke-width="1"/><line x1="2165.5" y1="559" x2="2168.5" y2="559" stroke="#000" stroke-width="1"/>
<path d="M2052 439 L2052 432.3 L2139.5 432.3 L2139.5 513.2" fill="none" stroke="#000" stroke-width="1.3" stroke-linejoin="round"/>
<line x1="2109.5" y1="513.2" x2="2170" y2="513.2" stroke="#000" stroke-width="1.3"/>
<text x="2093.4" y="433" font-size="30" text-anchor="middle" stroke="#000" stroke-width="0.75">***</text>
<text transform="translate(1971.5,522) rotate(-90)" font-size="22" fill="#000">&#916;F/F<tspan font-size="14" dy="4">0</tspan></text>
<rect x="1439.9" y="188" width="25.9" height="6" fill="#e8121c"/>
<text x="1469.3" y="199.7" font-size="26.8" fill="#e8121c" text-anchor="start">rDA1m</text>
<rect x="1562" y="188" width="25.7" height="6" fill="#7f00ff"/>
<text x="1590.7" y="199.7" font-size="26.8" fill="#7f00ff" text-anchor="start">rDA1h</text>
<rect x="1676" y="188" width="26" height="6" fill="#808080"/>
<text x="1704" y="199.7" font-size="26.8" fill="#808080" text-anchor="start">rDA-mut</text>
<line x1="1592.5" y1="792.5" x2="1592.5" y2="1031.5" stroke="#000" stroke-width="1.8"/>
<line x1="1592.5" y1="1031.25" x2="1782.5" y2="1031.25" stroke="#000" stroke-width="1.8"/>
<line x1="1588.75" y1="792.5" x2="1592.5" y2="792.5" stroke="#000" stroke-width="1.5"/>
<text x="1583" y="800" font-size="27" fill="#000" text-anchor="end">4</text>
<line x1="1588.75" y1="851.5" x2="1592.5" y2="851.5" stroke="#000" stroke-width="1.5"/>
<text x="1583" y="859" font-size="27" fill="#000" text-anchor="end">3</text>
<line x1="1588.75" y1="910.25" x2="1592.5" y2="910.25" stroke="#000" stroke-width="1.5"/>
<text x="1583" y="917.75" font-size="27" fill="#000" text-anchor="end">2</text>
<line x1="1588.75" y1="969.75" x2="1592.5" y2="969.75" stroke="#000" stroke-width="1.5"/>
<text x="1583" y="977.25" font-size="27" fill="#000" text-anchor="end">1</text>
<line x1="1588.75" y1="1028.5" x2="1592.5" y2="1028.5" stroke="#000" stroke-width="1.5"/>
<text x="1583" y="1036" font-size="27" fill="#000" text-anchor="end">0</text>
<line x1="1592.5" y1="1031.25" x2="1592.5" y2="1035.6" stroke="#000" stroke-width="1.5"/>
<text x="1592.5" y="1059.4" font-size="27.5" fill="#000" text-anchor="middle">0</text>
<line x1="1687.25" y1="1031.25" x2="1687.25" y2="1035.6" stroke="#000" stroke-width="1.5"/>
<text x="1687.25" y="1059.4" font-size="27.5" fill="#000" text-anchor="middle">200</text>
<line x1="1782.25" y1="1031.25" x2="1782.25" y2="1035.6" stroke="#000" stroke-width="1.5"/>
<text x="1782.25" y="1059.4" font-size="27.5" fill="#000" text-anchor="middle">400</text>
<text x="1687.8" y="1090.6" font-size="26.5" fill="#000" text-anchor="middle">Time (s)</text>
<text transform="translate(1557,943) rotate(-90)" font-size="26" fill="#000">&#916;F/F<tspan font-size="17" dy="5">0</tspan></text>
<text x="1652" y="799" font-size="20" fill="#000" text-anchor="start">100 &#181;M DA</text>
<line x1="1615" y1="809" x2="1783.75" y2="809" stroke="#000" stroke-width="2.6"/>
<line x1="1653" y1="816" x2="1785" y2="816" stroke="#000" stroke-width="2.6"/>
<text x="1669.4" y="838" font-size="20" fill="#000" text-anchor="start">10 &#181;M Halo</text>
<rect x="1635" y="893.5" width="7.5" height="52" fill="#c4c4c4"/>
<path d="M1630.5 894 L1638.75 885.6 L1647 894 Z" fill="#c4c4c4"/>
<path d="M1592.5 1027.41 L1593.72 1027.58 L1594.95 1027.97 L1596.17 1028.37 L1597.4 1027.77 L1598.62 1027.78 L1599.85 1027.98 L1601.08 1028.66 L1602.3 1027.98 L1603.53 1028.74 L1604.75 1028.69 L1605.97 1028.11 L1607.2 1028.64 L1608.42 1028.59 L1609.65 1028.6 L1610.88 1029.35 L1612.1 1028.31 L1613.33 1028.27 L1614.55 1029.43 L1615.78 1028.83 L1617 1028.64 L1618 862.8 L1619.4 863.44 L1620.8 864.75 L1622.2 864.45 L1623.6 865.06 L1625 866.1 L1626.25 866.06 L1627.5 866.54 L1628.75 866.41 L1630 865.83 L1631.25 865.64 L1632.5 866.4 L1633.75 866.59 L1635 865.44 L1636.25 866.28 L1637.5 866.44 L1638.75 866.18 L1640 865.66 L1641.27 866.08 L1642.55 865.73 L1643.82 864.81 L1645.09 865.08 L1646.36 864.3 L1647.64 863.81 L1648.91 863.89 L1650.18 863.62 L1651.45 863.42 L1652.73 863.45 L1654 863.4 L1655.13 864.76 L1656.56 868.97 L1657.98 873.08 L1659.4 876.82 L1660.83 880.12 L1662.25 883.74 L1663.67 887.97 L1665.1 891.46 L1666.52 895.12 L1667.95 897.83 L1669.37 901.27 L1670.79 905.39 L1672.22 908.16 L1673.64 911.35 L1675.06 913.62 L1676.49 916.91 L1677.91 920.37 L1679.33 922.83 L1680.76 925.94 L1682.18 927.62 L1683.6 930.5 L1685.03 933.41 L1686.45 935.42 L1687.87 938.21 L1689.3 940.25 L1690.72 941.97 L1692.14 944.15 L1693.57 947.35 L1694.99 948.4 L1696.42 950.52 L1697.84 952.67 L1699.26 955.06 L1700.69 957.11 L1702.11 958.49 L1703.53 960.3 L1704.96 962.39 L1706.38 963.48 L1707.8 965.24 L1709.23 967.14 L1710.65 968.74 L1712.07 969.55 L1713.5 971.13 L1714.92 972.62 L1716.34 974.74 L1717.77 976.08 L1719.19 977.76 L1720.62 978.82 L1722.04 979.48 L1723.46 981.34 L1724.89 982.81 L1726.31 983.23 L1727.73 983.98 L1729.16 985.54 L1730.58 986.52 L1732 987.46 L1733.43 988.34 L1734.85 989.44 L1736.27 991.32 L1737.7 991.3 L1739.12 992.91 L1740.54 993.34 L1741.97 994.21 L1743.39 995.83 L1744.81 996.05 L1746.24 996.73 L1747.66 997.86 L1749.09 998.93 L1750.51 999.48 L1751.93 1000.63 L1753.36 1000.8 L1754.78 1001.65 L1756.2 1002.57 L1757.63 1002.93 L1759.05 1003.89 L1760.47 1004.22 L1761.9 1004.44 L1763.32 1005.03 L1764.74 1006.41 L1766.17 1006.94 L1767.59 1007.73 L1769.01 1007.97 L1770.44 1008.37 L1771.86 1008.39 L1773.28 1009.72 L1774.71 1009.33 L1776.13 1010.17 L1777.56 1010.3 L1778.98 1011.04 L1780.4 1011.39 L1781.83 1012.06" fill="none" stroke="#a89848" stroke-width="2" stroke-linejoin="round"/>
<path d="M1592.5 1026.13 L1593.72 1026.34 L1594.95 1026.77 L1596.17 1025.9 L1597.4 1026.67 L1598.62 1027.2 L1599.85 1027.34 L1601.08 1026.14 L1602.3 1027.07 L1603.53 1027.11 L1604.75 1027.01 L1605.97 1027.94 L1607.2 1027.25 L1608.42 1027.2 L1609.65 1028.2 L1610.88 1027.74 L1612.1 1027.24 L1613.33 1027.36 L1614.55 1027.79 L1615.78 1027.09 L1617 1028.19 L1618 977.92 L1619.4 977.47 L1620.8 978.32 L1622.2 978.57 L1623.6 978 L1625 978.33 L1626.25 977.48 L1627.5 977.53 L1628.75 979.36 L1630 978.28 L1631.25 978.32 L1632.5 979.71 L1633.75 979.62 L1635 978.66 L1636.25 979.18 L1637.5 979.2 L1638.75 979.42 L1640 979.11 L1641.27 980.23 L1642.55 980.01 L1643.82 980.36 L1645.09 980.16 L1646.36 980.21 L1647.64 980.25 L1648.91 981.94 L1650.18 981.9 L1651.45 981.74 L1652.73 981.14 L1654 981.37 L1655.25 983.57 L1656.5 986.17 L1657.75 987.95 L1659 990.6 L1660.29 991.18 L1661.57 991.88 L1662.86 993.42 L1664.14 993.78 L1665.43 994.52 L1666.71 995.03 L1668 996.07 L1669.2 997.47 L1670.4 997.57 L1671.6 998.11 L1672.8 999.81 L1674 1000.58 L1675.2 1002.26 L1676.4 1002.02 L1677.6 1004.35 L1678.8 1003.77 L1680 1005.68 L1681.29 1005.84 L1682.57 1005.95 L1683.86 1007.33 L1685.14 1007.34 L1686.43 1006.71 L1687.71 1007.65 L1689 1008.2 L1690.21 1008.16 L1691.43 1009.26 L1692.64 1011.18 L1693.86 1012.41 L1695.07 1012.93 L1696.29 1013.86 L1697.5 1015.01 L1698.71 1014.82 L1699.92 1016.18 L1701.12 1016.58 L1702.33 1015.97 L1703.54 1015.39 L1704.75 1016.31 L1705.96 1017.3 L1707.17 1016.68 L1708.38 1016.54 L1709.58 1016.93 L1710.79 1018.13 L1712 1018.22 L1713.29 1017.78 L1714.58 1018.56 L1715.88 1018.97 L1717.17 1019.51 L1718.46 1019.43 L1719.75 1018.88 L1721.04 1019.72 L1722.33 1020.1 L1723.62 1020.16 L1724.92 1020.12 L1726.21 1019.99 L1727.5 1020.02 L1728.75 1021.03 L1730 1021.03 L1731.25 1021.6 L1732.5 1021.11 L1733.75 1021.27 L1735 1021.99 L1736.25 1022.95 L1737.5 1023.33 L1738.75 1023.06 L1740 1023.44 L1741.25 1024.98 L1742.5 1023.56 L1743.75 1025.27 L1745 1025.16 L1746.25 1024.97 L1747.5 1025.89 L1748.75 1025.49 L1750 1024.45 L1751.25 1026.29 L1752.5 1025.51 L1753.75 1026.58 L1755 1026" fill="none" stroke="#000" stroke-width="2" stroke-linejoin="round"/>
<path d="M1592.5 1028.06 L1593.72 1028.3 L1594.95 1028.3 L1596.17 1028.44 L1597.4 1027.74 L1598.62 1028.56 L1599.85 1028.08 L1601.08 1028.3 L1602.3 1028.31 L1603.53 1028.52 L1604.75 1027.73 L1605.97 1027.84 L1607.2 1028.26 L1608.42 1028.1 L1609.65 1028.3 L1610.88 1027.84 L1612.1 1028.55 L1613.33 1027.41 L1614.55 1028.27 L1615.78 1027.85 L1617 1027.43 L1618 980.21 L1619.22 979.52 L1620.44 979.79 L1621.67 979.96 L1622.89 979.81 L1624.11 979.87 L1625.33 979.82 L1626.56 980.8 L1627.78 979.94 L1629 980.09 L1630.22 980.05 L1631.44 981.1 L1632.67 980.72 L1633.89 981.11 L1635.11 981.34 L1636.33 980.83 L1637.56 980.76 L1638.78 980.81 L1640 980.72 L1641.27 981.11 L1642.55 981.56 L1643.82 981 L1645.09 981.31 L1646.36 981.47 L1647.64 981.4 L1648.91 981.2 L1650.18 981.06 L1651.45 980.52 L1652.73 980.85 L1654 981.42 L1656 994.93 L1657.25 997.47 L1658.5 999.21 L1659.75 1001.85 L1661 1003.66 L1662.25 1006.59 L1663.5 1008.88 L1664.75 1010.17 L1666 1013.2 L1667.2 1013.71 L1668.4 1015.94 L1669.6 1016.21 L1670.8 1017.35 L1672 1019.47 L1673.2 1020.34 L1674.4 1020.81 L1675.6 1022.56 L1676.8 1024.19 L1678 1024.6 L1679.4 1025.3 L1680.8 1024.75 L1682.2 1024.93 L1683.6 1024.87 L1685 1024.46 L1686.25 1025.37 L1687.5 1026.03 L1688.75 1026.64 L1690 1027.05 L1691.25 1027.1 L1692.5 1028" fill="none" stroke="#3d8fe8" stroke-width="2" stroke-linejoin="round"/>
<path d="M1592.5 1029.22 L1593.72 1028.51 L1594.95 1029.14 L1596.17 1029.41 L1597.4 1029.4 L1598.62 1029.02 L1599.85 1029.16 L1601.08 1028.84 L1602.3 1029.03 L1603.53 1028.53 L1604.75 1029.22 L1605.97 1029.12 L1607.2 1028.74 L1608.42 1028.85 L1609.65 1029.28 L1610.88 1028.93 L1612.1 1029.55 L1613.33 1029.57 L1614.55 1029.41 L1615.78 1028.51 L1617 1028.49 L1618 825.75 L1619.2 825.93 L1620.4 826.45 L1621.6 826.69 L1622.8 826.48 L1624 826.67 L1625.2 826.69 L1626.4 826.14 L1627.6 826.83 L1628.8 826.56 L1630 826.9 L1631.25 826.35 L1632.5 827.06 L1633.75 827.3 L1635 826.23 L1636.25 826.78 L1637.5 826.05 L1638.75 826.38 L1640 826.09 L1641.2 827.02 L1642.4 826.94 L1643.6 827.23 L1644.8 826.49 L1646 827.18 L1647.2 827.24 L1648.4 827.1 L1649.6 827.67 L1650.8 827.4 L1652 827.07 L1653.2 827.68 L1654.4 827.48 L1655.37 832.13 L1655.61 837.36 L1655.85 841.27 L1656.08 846.18 L1656.32 850.61 L1656.56 854.09 L1656.79 858.88 L1657.03 862.1 L1657.27 866.53 L1657.51 869.8 L1657.74 872.96 L1657.98 877.53 L1658.22 879.72 L1658.46 883.03 L1658.69 886.56 L1658.93 889.25 L1658.93 889.59 L1659.88 900.68 L1660.83 910.68 L1661.78 919.43 L1662.73 926.97 L1663.67 933.9 L1664.62 940.79 L1665.57 946.18 L1666.52 951.45 L1667.47 956.62 L1668.42 959.82 L1669.37 964.07 L1670.32 968.02 L1671.27 970.73 L1672.22 974.64 L1673.16 977.07 L1674.11 979.62 L1675.06 981.94 L1676.01 985.18 L1676.96 986.24 L1677.91 989.19 L1678.86 990.96 L1679.81 992.99 L1680.76 994.45 L1681.71 995.63 L1682.65 997.38 L1683.6 999.26 L1684.55 999.57 L1685.5 1001.83 L1686.45 1002.84 L1687.4 1003.44 L1688.35 1005.47 L1689.3 1005.72 L1690.25 1006.37 L1691.2 1007.65 L1692.14 1008.85 L1693.09 1009.14 L1694.04 1010.65 L1694.99 1011.26 L1695.94 1011.88 L1696.89 1013.11 L1697.84 1013.64 L1698.79 1014.71 L1699.74 1015.22 L1700.69 1015.81 L1701.63 1016.47 L1702.58 1016.92 L1703.53 1017.01 L1704.48 1017.01 L1705.43 1017.94 L1706.38 1018.61 L1707.33 1019.46 L1708.28 1019.5 L1709.23 1019.81 L1710.18 1019.6 L1711.12 1020.65 L1712.07 1020.26 L1713.02 1020.72 L1713.97 1020.92 L1714.92 1022.06 L1715.87 1022.6 L1716.82 1022.46 L1717.77 1022.12 L1718.72 1023.16 L1719.67 1022.73 L1720.62 1023.6 L1721.56 1023.79 L1722.51 1024.32 L1723.46 1023.59 L1724.41 1023.87 L1725.36 1024.16 L1726.31 1024.05 L1727.26 1025.26 L1728.21 1025.04 L1729.16 1024.58 L1730.11 1025.17 L1731.05 1024.86 L1732 1026.04 L1732.95 1025.44 L1733.9 1025.14 L1734.85 1026.15 L1735.8 1025.77 L1736.75 1026.26 L1737.7 1026.53 L1738.65 1025.78 L1739.6 1026.44 L1740.54 1027.02 L1741.49 1026.24 L1742.44 1026.35 L1743.39 1026.94 L1744.34 1026.27 L1745.29 1027.26 L1746.24 1027.31 L1747.19 1027.55 L1748.14 1027.48 L1749.09 1027.24 L1750.03 1027.15 L1750.98 1027.3 L1751.93 1027.48 L1752.88 1027.94 L1753.83 1027 L1754.78 1027.46" fill="none" stroke="#118811" stroke-width="2" stroke-linejoin="round"/>
<line x1="1851.5" y1="793.5" x2="1851.5" y2="1030.4" stroke="#000" stroke-width="1.5"/>
<line x1="1847.9" y1="1030.4" x2="1931.7" y2="1030.4" stroke="#000" stroke-width="1.5"/>
<line x1="1847" y1="793.1" x2="1851.5" y2="793.1" stroke="#000" stroke-width="1.5"/>
<text x="1842.5" y="801.1" font-size="27" fill="#000" text-anchor="end">6</text>
<line x1="1847" y1="872.2" x2="1851.5" y2="872.2" stroke="#000" stroke-width="1.5"/>
<text x="1842.5" y="880.2" font-size="27" fill="#000" text-anchor="end">4</text>
<line x1="1847" y1="951.3" x2="1851.5" y2="951.3" stroke="#000" stroke-width="1.5"/>
<text x="1842.5" y="959.3" font-size="27" fill="#000" text-anchor="end">2</text>
<line x1="1847" y1="1030.4" x2="1851.5" y2="1030.4" stroke="#000" stroke-width="1.5"/>
<text x="1842.5" y="1038.4" font-size="27" fill="#000" text-anchor="end">0</text>
<rect x="1856" y="986" width="10.7" height="44.4" fill="#3d8fe8" stroke="#000" stroke-width="1"/>
<rect x="1876" y="984" width="11.3" height="46.4" fill="#000" stroke="#000" stroke-width="1"/>
<rect x="1897.4" y="895" width="10.2" height="135.4" fill="#118811" stroke="#000" stroke-width="1"/>
<rect x="1918" y="920.6" width="10.8" height="109.8" fill="#a89848" stroke="#000" stroke-width="1"/>
<line x1="1861.3" y1="1030.4" x2="1861.3" y2="1034" stroke="#000" stroke-width="1.3"/>
<line x1="1881.6" y1="1030.4" x2="1881.6" y2="1034" stroke="#000" stroke-width="1.3"/>
<line x1="1902.4" y1="1030.4" x2="1902.4" y2="1034" stroke="#000" stroke-width="1.3"/>
<line x1="1923" y1="1030.4" x2="1923" y2="1034" stroke="#000" stroke-width="1.3"/>
<circle cx="1861.3" cy="947.3" r="3.4" fill="#fff" stroke="#7a7a7a" stroke-width="1"/><circle cx="1861.3" cy="964.3" r="3.4" fill="#fff" stroke="#7a7a7a" stroke-width="1"/><circle cx="1861.3" cy="967.9" r="3.4" fill="#fff" stroke="#7a7a7a" stroke-width="1"/><circle cx="1861.3" cy="972.6" r="3.4" fill="#fff" stroke="#7a7a7a" stroke-width="1"/><circle cx="1861.3" cy="976.1" r="3.4" fill="#fff" stroke="#7a7a7a" stroke-width="1"/><circle cx="1861.3" cy="979.7" r="3.4" fill="#fff" stroke="#7a7a7a" stroke-width="1"/><circle cx="1861.3" cy="983.2" r="3.4" fill="#fff" stroke="#7a7a7a" stroke-width="1"/><circle cx="1861.3" cy="987.9" r="3.4" fill="#fff" stroke="#7a7a7a" stroke-width="1"/><circle cx="1861.3" cy="991.5" r="3.4" fill="#fff" stroke="#7a7a7a" stroke-width="1"/><circle cx="1861.3" cy="995" r="3.4" fill="#fff" stroke="#7a7a7a" stroke-width="1"/><circle cx="1861.3" cy="999.7" r="3.4" fill="#fff" stroke="#7a7a7a" stroke-width="1"/>
<circle cx="1881.6" cy="962" r="3.4" fill="#fff" stroke="#7a7a7a" stroke-width="1"/><circle cx="1881.6" cy="965.5" r="3.4" fill="#fff" stroke="#7a7a7a" stroke-width="1"/><circle cx="1881.6" cy="969" r="3.4" fill="#fff" stroke="#7a7a7a" stroke-width="1"/><circle cx="1881.6" cy="973" r="3.4" fill="#fff" stroke="#7a7a7a" stroke-width="1"/><circle cx="1881.6" cy="977" r="3.4" fill="#fff" stroke="#7a7a7a" stroke-width="1"/><circle cx="1881.6" cy="981" r="3.4" fill="#fff" stroke="#7a7a7a" stroke-width="1"/><circle cx="1881.6" cy="985" r="3.4" fill="#fff" stroke="#7a7a7a" stroke-width="1"/><circle cx="1881.6" cy="989" r="3.4" fill="#fff" stroke="#7a7a7a" stroke-width="1"/><circle cx="1881.6" cy="993" r="3.4" fill="#fff" stroke="#7a7a7a" stroke-width="1"/><circle cx="1881.6" cy="997" r="3.4" fill="#fff" stroke="#7a7a7a" stroke-width="1"/><circle cx="1881.6" cy="1001" r="3.4" fill="#fff" stroke="#7a7a7a" stroke-width="1"/><circle cx="1881.6" cy="1004.5" r="3.4" fill="#fff" stroke="#7a7a7a" stroke-width="1"/>
<circle cx="1902.4" cy="800.2" r="3.4" fill="#fff" stroke="#7a7a7a" stroke-width="1"/><circle cx="1902.4" cy="816.7" r="3.4" fill="#fff" stroke="#7a7a7a" stroke-width="1"/><circle cx="1902.4" cy="833.3" r="3.4" fill="#fff" stroke="#7a7a7a" stroke-width="1"/><circle cx="1902.4" cy="848.6" r="3.4" fill="#fff" stroke="#7a7a7a" stroke-width="1"/><circle cx="1902.4" cy="852" r="3.4" fill="#fff" stroke="#7a7a7a" stroke-width="1"/><circle cx="1902.4" cy="858" r="3.4" fill="#fff" stroke="#7a7a7a" stroke-width="1"/><circle cx="1902.4" cy="862.8" r="3.4" fill="#fff" stroke="#7a7a7a" stroke-width="1"/><circle cx="1902.4" cy="867.5" r="3.4" fill="#fff" stroke="#7a7a7a" stroke-width="1"/><circle cx="1902.4" cy="877" r="3.4" fill="#fff" stroke="#7a7a7a" stroke-width="1"/><circle cx="1902.4" cy="881.7" r="3.4" fill="#fff" stroke="#7a7a7a" stroke-width="1"/><circle cx="1902.4" cy="886.5" r="3.4" fill="#fff" stroke="#7a7a7a" stroke-width="1"/><circle cx="1902.4" cy="891.2" r="3.4" fill="#fff" stroke="#7a7a7a" stroke-width="1"/><circle cx="1902.4" cy="895.8" r="3.4" fill="#fff" stroke="#7a7a7a" stroke-width="1"/><circle cx="1902.4" cy="900.6" r="3.4" fill="#fff" stroke="#7a7a7a" stroke-width="1"/><circle cx="1902.4" cy="905.3" r="3.4" fill="#fff" stroke="#7a7a7a" stroke-width="1"/><circle cx="1902.4" cy="910" r="3.4" fill="#fff" stroke="#7a7a7a" stroke-width="1"/><circle cx="1902.4" cy="914.7" r="3.4" fill="#fff" stroke="#7a7a7a" stroke-width="1"/><circle cx="1902.4" cy="919.5" r="3.4" fill="#fff" stroke="#7a7a7a" stroke-width="1"/><circle cx="1902.4" cy="924.2" r="3.4" fill="#fff" stroke="#7a7a7a" stroke-width="1"/><circle cx="1902.4" cy="928.9" r="3.4" fill="#fff" stroke="#7a7a7a" stroke-width="1"/><circle cx="1902.4" cy="933.6" r="3.4" fill="#fff" stroke="#7a7a7a" stroke-width="1"/><circle cx="1902.4" cy="938.4" r="3.4" fill="#fff" stroke="#7a7a7a" stroke-width="1"/><circle cx="1902.4" cy="943" r="3.4" fill="#fff" stroke="#7a7a7a" stroke-width="1"/><circle cx="1902.4" cy="947.8" r="3.4" fill="#fff" stroke="#7a7a7a" stroke-width="1"/><circle cx="1902.4" cy="953.7" r="3.4" fill="#fff" stroke="#7a7a7a" stroke-width="1"/>
<circle cx="1923" cy="881.7" r="3.4" fill="#fff" stroke="#7a7a7a" stroke-width="1"/><circle cx="1923" cy="886.4" r="3.4" fill="#fff" stroke="#7a7a7a" stroke-width="1"/><circle cx="1923" cy="891.1" r="3.4" fill="#fff" stroke="#7a7a7a" stroke-width="1"/><circle cx="1923" cy="895.8" r="3.4" fill="#fff" stroke="#7a7a7a" stroke-width="1"/><circle cx="1923" cy="900.5" r="3.4" fill="#fff" stroke="#7a7a7a" stroke-width="1"/><circle cx="1923" cy="905.3" r="3.4" fill="#fff" stroke="#7a7a7a" stroke-width="1"/><circle cx="1923" cy="910" r="3.4" fill="#fff" stroke="#7a7a7a" stroke-width="1"/><circle cx="1923" cy="919.5" r="3.4" fill="#fff" stroke="#7a7a7a" stroke-width="1"/><circle cx="1923" cy="929" r="3.4" fill="#fff" stroke="#7a7a7a" stroke-width="1"/><circle cx="1923" cy="933.6" r="3.4" fill="#fff" stroke="#7a7a7a" stroke-width="1"/><circle cx="1923" cy="938.3" r="3.4" fill="#fff" stroke="#7a7a7a" stroke-width="1"/><circle cx="1923" cy="943" r="3.4" fill="#fff" stroke="#7a7a7a" stroke-width="1"/><circle cx="1923" cy="947.8" r="3.4" fill="#fff" stroke="#7a7a7a" stroke-width="1"/><circle cx="1923" cy="952.5" r="3.4" fill="#fff" stroke="#7a7a7a" stroke-width="1"/>
<line x1="1861.3" y1="980" x2="1861.3" y2="990" stroke="#000" stroke-width="1"/><line x1="1859.3" y1="980" x2="1863.3" y2="980" stroke="#000" stroke-width="1"/><line x1="1859.3" y1="990" x2="1863.3" y2="990" stroke="#000" stroke-width="1"/>
<line x1="1881.6" y1="978" x2="1881.6" y2="990" stroke="#000" stroke-width="1"/><line x1="1879.6" y1="978" x2="1883.6" y2="978" stroke="#000" stroke-width="1"/><line x1="1879.6" y1="990" x2="1883.6" y2="990" stroke="#000" stroke-width="1"/>
<line x1="1902.4" y1="889" x2="1902.4" y2="901" stroke="#000" stroke-width="1"/><line x1="1900.4" y1="889" x2="1904.4" y2="889" stroke="#000" stroke-width="1"/><line x1="1900.4" y1="901" x2="1904.4" y2="901" stroke="#000" stroke-width="1"/>
<line x1="1923" y1="914" x2="1923" y2="927" stroke="#000" stroke-width="1"/><line x1="1921" y1="914" x2="1925" y2="914" stroke="#000" stroke-width="1"/><line x1="1921" y1="927" x2="1925" y2="927" stroke="#000" stroke-width="1"/>
<path d="M1872.6 938.3 L1872.6 778.4 L1912.5 778.4 L1912.5 791.6" fill="none" stroke="#000" stroke-width="1.5" stroke-linejoin="round"/>
<line x1="1895.5" y1="791.6" x2="1930.2" y2="791.6" stroke="#000" stroke-width="1.5"/>
<line x1="1855" y1="938.3" x2="1889.2" y2="938.3" stroke="#000" stroke-width="1.5"/>
<text x="1891.5" y="772.4" font-size="25" text-anchor="middle" stroke="#000" stroke-width="0.62">***</text>
<text x="1857.5" y="1049.3" font-size="16" fill="#000" text-anchor="middle">1m</text>
<text x="1879.5" y="1049.3" font-size="16" fill="#000" text-anchor="middle">1h</text>
<text x="1902.4" y="1049.3" font-size="16" fill="#000" text-anchor="middle">2m</text>
<text x="1924.5" y="1049.3" font-size="16" fill="#000" text-anchor="middle">2h</text>
<line x1="1848.6" y1="1053.6" x2="1931.7" y2="1053.6" stroke="#000" stroke-width="1.3"/>
<text x="1890.4" y="1070.6" font-size="16" fill="#000" text-anchor="middle">DA</text>
<text transform="translate(1819,943) rotate(-90)" font-size="26" fill="#000">&#916;F/F<tspan font-size="17" dy="5">0</tspan></text>
<line x1="2029.7" y1="786.8" x2="2029.7" y2="1031.5" stroke="#000" stroke-width="1.8"/>
<line x1="2029.7" y1="1031.1" x2="2221.9" y2="1031.1" stroke="#000" stroke-width="1.8"/>
<line x1="2025" y1="796.8" x2="2029.7" y2="796.8" stroke="#000" stroke-width="1.5"/>
<text x="2021.5" y="805.3" font-size="26" fill="#000" text-anchor="end">1.0</text>
<line x1="2025" y1="910.7" x2="2029.7" y2="910.7" stroke="#000" stroke-width="1.5"/>
<text x="2021.5" y="919.2" font-size="26" fill="#000" text-anchor="end">0.5</text>
<line x1="2025" y1="1024.6" x2="2029.7" y2="1024.6" stroke="#000" stroke-width="1.5"/>
<text x="2021.5" y="1033.1" font-size="26" fill="#000" text-anchor="end">0.0</text>
<line x1="2066.7" y1="1031.1" x2="2066.7" y2="1036" stroke="#000" stroke-width="1.5"/>
<text x="2065.7" y="1057.3" font-size="26" fill="#000" text-anchor="middle">-10</text>
<line x1="2114.2" y1="1031.1" x2="2114.2" y2="1036" stroke="#000" stroke-width="1.5"/>
<text x="2113.2" y="1057.3" font-size="26" fill="#000" text-anchor="middle">-8</text>
<line x1="2161.7" y1="1031.1" x2="2161.7" y2="1036" stroke="#000" stroke-width="1.5"/>
<text x="2160.7" y="1057.3" font-size="26" fill="#000" text-anchor="middle">-6</text>
<line x1="2209.2" y1="1031.1" x2="2209.2" y2="1036" stroke="#000" stroke-width="1.5"/>
<text x="2208.2" y="1057.3" font-size="26" fill="#000" text-anchor="middle">-4</text>
<text x="2135.2" y="1088.6" font-size="26" fill="#000" text-anchor="middle">DA (LogM)</text>
<text transform="translate(1973.5,980.4) rotate(-90)" font-size="26">Norm. &#916;F/F<tspan font-size="17" dy="5">0</tspan></text>
<text x="2047.6" y="843.8" font-size="21" fill="#a89848">EC<tspan font-size="14.5" dy="4">50</tspan></text>
<text x="2047.6" y="868" font-size="21" fill="#a89848" text-anchor="start">~7 nM</text>
<text x="2151.2" y="909.3" font-size="21" fill="#118811">EC<tspan font-size="14.5" dy="4">50</tspan></text>
<text x="2151.2" y="932" font-size="21" fill="#118811" text-anchor="start">~90 nM</text>
<path d="M2042.95 1024.6 L2209.2 1024.6" fill="none" stroke="#8888ee" stroke-width="2.2" stroke-linejoin="round"/>
<rect x="2039.45" y="1021.1" width="7" height="7" fill="#8888ee"/>
<rect x="2063.2" y="1021.1" width="7" height="7" fill="#8888ee"/>
<rect x="2086.95" y="1018.82" width="7" height="7" fill="#8888ee"/>
<rect x="2110.7" y="1018.82" width="7" height="7" fill="#8888ee"/>
<rect x="2122.57" y="1023.38" width="7" height="7" fill="#8888ee"/>
<rect x="2134.45" y="1021.1" width="7" height="7" fill="#8888ee"/>
<rect x="2146.32" y="1021.1" width="7" height="7" fill="#8888ee"/>
<rect x="2158.2" y="1023.38" width="7" height="7" fill="#8888ee"/>
<rect x="2181.95" y="1021.1" width="7" height="7" fill="#8888ee"/>
<rect x="2205.7" y="1021.1" width="7" height="7" fill="#8888ee"/>
<path d="M2042.85 1027.22 C2046.86 1026.61 2061 1025.08 2066.92 1023.55 C2072.84 1022.03 2074.56 1021.99 2078.38 1018.05 C2082.2 1014.12 2086.02 1007.66 2089.84 999.94 C2093.66 992.22 2098.25 982.36 2101.31 971.74 C2104.36 961.12 2106.08 948.05 2108.18 936.21 C2110.29 924.36 2112.01 911.56 2113.92 900.67 C2115.83 889.78 2117.74 879.66 2119.65 870.87 C2121.56 862.08 2122.51 855.66 2125.38 847.95 C2128.24 840.23 2132.83 831.36 2136.84 824.56 C2140.85 817.76 2145.44 811.04 2149.45 807.14 C2153.46 803.24 2154.99 802.74 2160.91 801.18 C2166.83 799.61 2176.96 798.43 2184.98 797.74 C2193.01 797.05 2205.04 797.17 2209.06 797.05" fill="none" stroke="#a89848" stroke-width="2.2"/>
<line x1="2042.95" y1="1021.6" x2="2042.95" y2="1027.6" stroke="#a89848" stroke-width="1.2"/><line x1="2040.45" y1="1021.6" x2="2045.45" y2="1021.6" stroke="#a89848" stroke-width="1.2"/><line x1="2040.45" y1="1027.6" x2="2045.45" y2="1027.6" stroke="#a89848" stroke-width="1.2"/>
<rect x="2039.45" y="1021.1" width="7" height="7" fill="#a89848"/>
<line x1="2066.7" y1="1021.6" x2="2066.7" y2="1027.6" stroke="#a89848" stroke-width="1.2"/><line x1="2064.2" y1="1021.6" x2="2069.2" y2="1021.6" stroke="#a89848" stroke-width="1.2"/><line x1="2064.2" y1="1027.6" x2="2069.2" y2="1027.6" stroke="#a89848" stroke-width="1.2"/>
<rect x="2063.2" y="1021.1" width="7" height="7" fill="#a89848"/>
<line x1="2090.45" y1="995.18" x2="2090.45" y2="1001.18" stroke="#a89848" stroke-width="1.2"/><line x1="2087.95" y1="995.18" x2="2092.95" y2="995.18" stroke="#a89848" stroke-width="1.2"/><line x1="2087.95" y1="1001.18" x2="2092.95" y2="1001.18" stroke="#a89848" stroke-width="1.2"/>
<rect x="2086.95" y="994.68" width="7" height="7" fill="#a89848"/>
<line x1="2114.2" y1="885.79" x2="2114.2" y2="897.79" stroke="#a89848" stroke-width="1.2"/><line x1="2111.7" y1="885.79" x2="2116.7" y2="885.79" stroke="#a89848" stroke-width="1.2"/><line x1="2111.7" y1="897.79" x2="2116.7" y2="897.79" stroke="#a89848" stroke-width="1.2"/>
<rect x="2110.7" y="888.29" width="7" height="7" fill="#a89848"/>
<line x1="2126.07" y1="841.46" x2="2126.07" y2="851.46" stroke="#a89848" stroke-width="1.2"/><line x1="2123.57" y1="841.46" x2="2128.57" y2="841.46" stroke="#a89848" stroke-width="1.2"/><line x1="2123.57" y1="851.46" x2="2128.57" y2="851.46" stroke="#a89848" stroke-width="1.2"/>
<rect x="2122.57" y="842.96" width="7" height="7" fill="#a89848"/>
<line x1="2137.95" y1="821.14" x2="2137.95" y2="827.14" stroke="#a89848" stroke-width="1.2"/><line x1="2135.45" y1="821.14" x2="2140.45" y2="821.14" stroke="#a89848" stroke-width="1.2"/><line x1="2135.45" y1="827.14" x2="2140.45" y2="827.14" stroke="#a89848" stroke-width="1.2"/>
<rect x="2134.45" y="820.64" width="7" height="7" fill="#a89848"/>
<line x1="2149.82" y1="799.1" x2="2149.82" y2="819.1" stroke="#a89848" stroke-width="1.2"/><line x1="2147.32" y1="799.1" x2="2152.32" y2="799.1" stroke="#a89848" stroke-width="1.2"/><line x1="2147.32" y1="819.1" x2="2152.32" y2="819.1" stroke="#a89848" stroke-width="1.2"/>
<rect x="2146.32" y="805.6" width="7" height="7" fill="#a89848"/>
<line x1="2161.7" y1="783.56" x2="2161.7" y2="799.56" stroke="#a89848" stroke-width="1.2"/><line x1="2159.2" y1="783.56" x2="2164.2" y2="783.56" stroke="#a89848" stroke-width="1.2"/><line x1="2159.2" y1="799.56" x2="2164.2" y2="799.56" stroke="#a89848" stroke-width="1.2"/>
<rect x="2158.2" y="788.06" width="7" height="7" fill="#a89848"/>
<line x1="2185.45" y1="793.12" x2="2185.45" y2="799.12" stroke="#a89848" stroke-width="1.2"/><line x1="2182.95" y1="793.12" x2="2187.95" y2="793.12" stroke="#a89848" stroke-width="1.2"/><line x1="2182.95" y1="799.12" x2="2187.95" y2="799.12" stroke="#a89848" stroke-width="1.2"/>
<rect x="2181.95" y="792.62" width="7" height="7" fill="#a89848"/>
<line x1="2209.2" y1="791.39" x2="2209.2" y2="805.39" stroke="#a89848" stroke-width="1.2"/><line x1="2206.7" y1="791.39" x2="2211.7" y2="791.39" stroke="#a89848" stroke-width="1.2"/><line x1="2206.7" y1="805.39" x2="2211.7" y2="805.39" stroke="#a89848" stroke-width="1.2"/>
<rect x="2205.7" y="794.89" width="7" height="7" fill="#a89848"/>
<path d="M2042.85 1027.68 C2046.86 1027.22 2059.09 1025.85 2066.92 1024.93 C2074.75 1024.01 2084.11 1024.09 2089.84 1022.18 C2095.58 1020.27 2097.29 1017.29 2101.31 1013.47 C2105.32 1009.65 2109.9 1009.26 2113.92 999.25 C2117.93 989.24 2122.51 964.86 2125.38 953.4 C2128.24 941.94 2129.01 938.12 2131.11 930.48 C2133.21 922.84 2135.69 916.91 2137.99 907.55 C2140.28 898.19 2142.95 883.02 2144.86 874.31 C2146.78 865.6 2146.78 865.03 2149.45 855.28 C2152.12 845.54 2157.09 824.33 2160.91 815.85 C2164.73 807.37 2168.36 806.99 2172.38 804.39 C2176.39 801.79 2178.87 801.33 2184.98 800.26 C2191.1 799.19 2205.04 798.35 2209.06 797.97" fill="none" stroke="#118811" stroke-width="2.2"/>
<line x1="2066.7" y1="1021.6" x2="2066.7" y2="1027.6" stroke="#118811" stroke-width="1.2"/><line x1="2064.2" y1="1021.6" x2="2069.2" y2="1021.6" stroke="#118811" stroke-width="1.2"/><line x1="2064.2" y1="1027.6" x2="2069.2" y2="1027.6" stroke="#118811" stroke-width="1.2"/>
<rect x="2063.2" y="1021.1" width="7" height="7" fill="#118811"/>
<line x1="2114.2" y1="996.31" x2="2114.2" y2="1002.31" stroke="#118811" stroke-width="1.2"/><line x1="2111.7" y1="996.31" x2="2116.7" y2="996.31" stroke="#118811" stroke-width="1.2"/><line x1="2111.7" y1="1002.31" x2="2116.7" y2="1002.31" stroke="#118811" stroke-width="1.2"/>
<rect x="2110.7" y="995.81" width="7" height="7" fill="#118811"/>
<line x1="2126.07" y1="945.16" x2="2126.07" y2="959.16" stroke="#118811" stroke-width="1.2"/><line x1="2123.57" y1="945.16" x2="2128.57" y2="945.16" stroke="#118811" stroke-width="1.2"/><line x1="2123.57" y1="959.16" x2="2128.57" y2="959.16" stroke="#118811" stroke-width="1.2"/>
<rect x="2122.57" y="948.66" width="7" height="7" fill="#118811"/>
<line x1="2137.95" y1="905.11" x2="2137.95" y2="913.11" stroke="#118811" stroke-width="1.2"/><line x1="2135.45" y1="905.11" x2="2140.45" y2="905.11" stroke="#118811" stroke-width="1.2"/><line x1="2135.45" y1="913.11" x2="2140.45" y2="913.11" stroke="#118811" stroke-width="1.2"/>
<rect x="2134.45" y="905.61" width="7" height="7" fill="#118811"/>
<line x1="2149.82" y1="852.12" x2="2149.82" y2="858.12" stroke="#118811" stroke-width="1.2"/><line x1="2147.32" y1="852.12" x2="2152.32" y2="852.12" stroke="#118811" stroke-width="1.2"/><line x1="2147.32" y1="858.12" x2="2152.32" y2="858.12" stroke="#118811" stroke-width="1.2"/>
<rect x="2146.32" y="851.62" width="7" height="7" fill="#118811"/>
<line x1="2161.7" y1="807.57" x2="2161.7" y2="821.57" stroke="#118811" stroke-width="1.2"/><line x1="2159.2" y1="807.57" x2="2164.2" y2="807.57" stroke="#118811" stroke-width="1.2"/><line x1="2159.2" y1="821.57" x2="2164.2" y2="821.57" stroke="#118811" stroke-width="1.2"/>
<rect x="2158.2" y="811.07" width="7" height="7" fill="#118811"/>
<line x1="2185.45" y1="797.67" x2="2185.45" y2="803.67" stroke="#118811" stroke-width="1.2"/><line x1="2182.95" y1="797.67" x2="2187.95" y2="797.67" stroke="#118811" stroke-width="1.2"/><line x1="2182.95" y1="803.67" x2="2187.95" y2="803.67" stroke="#118811" stroke-width="1.2"/>
<rect x="2181.95" y="797.17" width="7" height="7" fill="#118811"/>
<line x1="2209.2" y1="792.08" x2="2209.2" y2="806.08" stroke="#118811" stroke-width="1.2"/><line x1="2206.7" y1="792.08" x2="2211.7" y2="792.08" stroke="#118811" stroke-width="1.2"/><line x1="2206.7" y1="806.08" x2="2211.7" y2="806.08" stroke="#118811" stroke-width="1.2"/>
<rect x="2205.7" y="795.58" width="7" height="7" fill="#118811"/>
<rect x="1625.9" y="728.5" width="22.6" height="6" fill="#3090e8"/>
<text x="1654" y="740.6" font-size="27" fill="#3090e8" text-anchor="start">DA1m</text>
<rect x="1736.9" y="728.5" width="22.6" height="6" fill="#000"/>
<text x="1765" y="740.6" font-size="27" fill="#000" text-anchor="start">DA1h</text>
<rect x="1843.3" y="728.5" width="22.6" height="6" fill="#118811"/>
<text x="1870.5" y="740.6" font-size="27" fill="#118811" text-anchor="start">DA2m</text>
<rect x="1952" y="728.5" width="22.6" height="6" fill="#a89848"/>
<text x="1980.4" y="740.6" font-size="27" fill="#a89848" text-anchor="start">DA2h</text>
<rect x="2054" y="728.5" width="22.6" height="6" fill="#8888ee"/>
<text x="2082.4" y="740.6" font-size="27" fill="#8888ee" text-anchor="start">DA-mut</text>
</svg></body></html>
